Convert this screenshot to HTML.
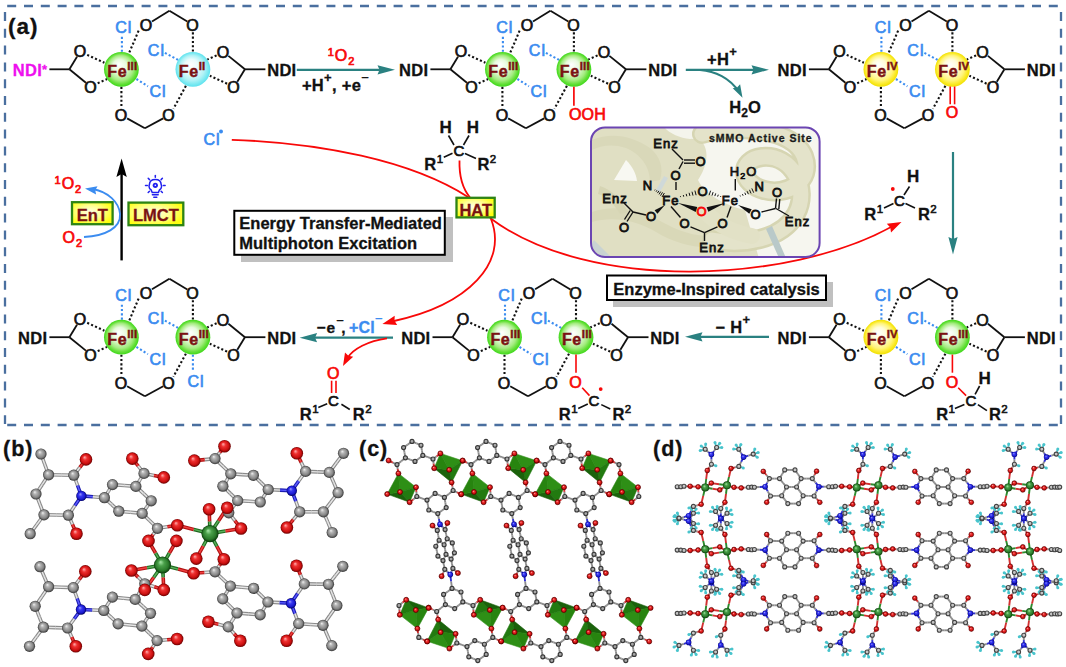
<!DOCTYPE html>
<html><head><meta charset="utf-8"><style>
html,body{margin:0;padding:0;background:#fff;}
svg{display:block;font-family:"Liberation Sans", sans-serif;}
text{letter-spacing:1px;}
</style></head><body>
<svg width="1066" height="667" viewBox="0 0 1066 667">

<defs>
<radialGradient id="gG" cx="0.5" cy="0.5" r="0.5" fx="0.42" fy="0.36">
 <stop offset="0" stop-color="#ffffff"/><stop offset="0.4" stop-color="#e6fadc"/>
 <stop offset="0.72" stop-color="#a4ec80"/><stop offset="0.88" stop-color="#66e03a"/><stop offset="1" stop-color="#3ed81a"/></radialGradient>
<radialGradient id="gC" cx="0.5" cy="0.5" r="0.5" fx="0.42" fy="0.36">
 <stop offset="0" stop-color="#ffffff"/><stop offset="0.4" stop-color="#eafcfd"/>
 <stop offset="0.72" stop-color="#b0f2f6"/><stop offset="0.88" stop-color="#7eeaf2"/><stop offset="1" stop-color="#5ee2ee"/></radialGradient>
<radialGradient id="gY" cx="0.5" cy="0.5" r="0.5" fx="0.42" fy="0.36">
 <stop offset="0" stop-color="#ffffff"/><stop offset="0.4" stop-color="#fffcd8"/>
 <stop offset="0.72" stop-color="#fff47a"/><stop offset="0.88" stop-color="#fbea2a"/><stop offset="1" stop-color="#f0e000"/></radialGradient>
<radialGradient id="gBox" cx="0.45" cy="0.45" r="0.6">
 <stop offset="0" stop-color="#ffffe8"/><stop offset="0.5" stop-color="#ffff90"/><stop offset="1" stop-color="#ffff10"/></radialGradient>
<radialGradient id="bC" cx="0.5" cy="0.5" r="0.5" fx="0.38" fy="0.32"><stop offset="0" stop-color="#f0f0f0"/><stop offset="0.3" stop-color="#b4b4b4"/><stop offset="0.72" stop-color="#858585"/><stop offset="1" stop-color="#363636"/></radialGradient>
<radialGradient id="bO" cx="0.5" cy="0.5" r="0.5" fx="0.38" fy="0.32"><stop offset="0" stop-color="#ffb0b0"/><stop offset="0.35" stop-color="#ee3030"/><stop offset="0.75" stop-color="#cc1010"/><stop offset="1" stop-color="#6a0000"/></radialGradient>
<radialGradient id="bN" cx="0.5" cy="0.5" r="0.5" fx="0.38" fy="0.32"><stop offset="0" stop-color="#a0a0ff"/><stop offset="0.35" stop-color="#3838f0"/><stop offset="0.75" stop-color="#1a1ad0"/><stop offset="1" stop-color="#000060"/></radialGradient>
<radialGradient id="bF" cx="0.5" cy="0.5" r="0.5" fx="0.38" fy="0.32"><stop offset="0" stop-color="#a8e8a8"/><stop offset="0.35" stop-color="#4aa04a"/><stop offset="0.75" stop-color="#2a7a2a"/><stop offset="1" stop-color="#0a380a"/></radialGradient>
<radialGradient id="bH" cx="0.4" cy="0.35" r="0.7"><stop offset="0" stop-color="#c8ffff"/><stop offset="0.45" stop-color="#4cc4c8"/><stop offset="1" stop-color="#1a7a80"/></radialGradient>
</defs>

<rect width="1066" height="667" fill="#fff"/>
<line x1="7.2" y1="6" x2="1058" y2="6" stroke="#4a6f9f" stroke-width="2.3" stroke-dasharray="9 7.8" stroke-dashoffset="0"/><line x1="5" y1="12" x2="5" y2="424" stroke="#4a6f9f" stroke-width="2.3" stroke-dasharray="9 7.8" stroke-dashoffset="0"/><line x1="1061" y1="12" x2="1061" y2="424" stroke="#4a6f9f" stroke-width="2.3" stroke-dasharray="9 7.8" stroke-dashoffset="0"/><line x1="7.2" y1="425" x2="1058" y2="425" stroke="#4a6f9f" stroke-width="2.3" stroke-dasharray="9 7.8" stroke-dashoffset="0"/><text x="8.0" y="33.8" font-size="22.5" font-weight="bold" fill="#111" text-anchor="start" stroke="#111" stroke-width="0.3" >(a)</text><line x1="152.0" y1="21.4" x2="169.4" y2="10.8" stroke="#111" stroke-width="1.8" stroke-linecap="butt"/><line x1="187.3" y1="21.5" x2="169.4" y2="10.8" stroke="#111" stroke-width="1.8" stroke-linecap="butt"/><line x1="127.1" y1="118.4" x2="144.9" y2="128.3" stroke="#111" stroke-width="1.8" stroke-linecap="butt"/><line x1="163.2" y1="118.4" x2="144.9" y2="128.3" stroke="#111" stroke-width="1.8" stroke-linecap="butt"/><line x1="77.0" y1="56.8" x2="69.4" y2="69.3" stroke="#111" stroke-width="1.8" stroke-linecap="butt"/><line x1="85.9" y1="82.7" x2="69.4" y2="69.3" stroke="#111" stroke-width="1.8" stroke-linecap="butt"/><line x1="228.4" y1="55.9" x2="244.9" y2="69.3" stroke="#111" stroke-width="1.8" stroke-linecap="butt"/><line x1="237.3" y1="81.8" x2="244.9" y2="69.3" stroke="#111" stroke-width="1.8" stroke-linecap="butt"/><line x1="69.4" y1="69.3" x2="49.4" y2="69.3" stroke="#111" stroke-width="1.8" stroke-linecap="butt"/><line x1="244.9" y1="69.3" x2="265.4" y2="69.3" stroke="#111" stroke-width="1.8" stroke-linecap="butt"/><line x1="138.6" y1="30.7" x2="129.2" y2="52.8" stroke="#111" stroke-width="2.1" stroke-linecap="butt" stroke-dasharray="2.1 2.2"/><line x1="121.4" y1="86.8" x2="121.4" y2="107.3" stroke="#111" stroke-width="2.1" stroke-linecap="butt" stroke-dasharray="2.1 2.2"/><line x1="87.2" y1="54.9" x2="104.4" y2="62.8" stroke="#111" stroke-width="2.1" stroke-linecap="butt" stroke-dasharray="2.1 2.2"/><line x1="97.7" y1="83.2" x2="107.1" y2="79.0" stroke="#111" stroke-width="2.1" stroke-linecap="butt" stroke-dasharray="2.1 2.2"/><line x1="192.9" y1="32.3" x2="192.9" y2="51.8" stroke="#111" stroke-width="2.1" stroke-linecap="butt" stroke-dasharray="2.1 2.2"/><line x1="185.9" y1="85.8" x2="173.4" y2="108.8" stroke="#111" stroke-width="2.1" stroke-linecap="butt" stroke-dasharray="2.1 2.2"/><line x1="227.1" y1="83.7" x2="209.9" y2="75.8" stroke="#111" stroke-width="2.1" stroke-linecap="butt" stroke-dasharray="2.1 2.2"/><line x1="216.6" y1="55.4" x2="207.2" y2="59.6" stroke="#111" stroke-width="2.1" stroke-linecap="butt" stroke-dasharray="2.1 2.2"/><line x1="121.9" y1="51.8" x2="121.9" y2="34.8" stroke="#3b8cf0" stroke-width="2.1" stroke-linecap="butt" stroke-dasharray="2.1 2.2"/><line x1="136.4" y1="79.0" x2="147.9" y2="86.3" stroke="#3b8cf0" stroke-width="2.1" stroke-linecap="butt" stroke-dasharray="2.1 2.2"/><line x1="164.9" y1="52.8" x2="178.4" y2="60.1" stroke="#3b8cf0" stroke-width="2.1" stroke-linecap="butt" stroke-dasharray="2.1 2.2"/><text x="123.8" y="33.3" font-size="16" font-weight="normal" fill="#3b8cf0" text-anchor="middle" stroke="#3b8cf0" stroke-width="0.7" >Cl</text><text x="158.0" y="97.3" font-size="16" font-weight="normal" fill="#3b8cf0" text-anchor="middle" stroke="#3b8cf0" stroke-width="0.7" >Cl</text><text x="156.4" y="56.1" font-size="16" font-weight="normal" fill="#3b8cf0" text-anchor="middle" stroke="#3b8cf0" stroke-width="0.7" >Cl</text><text x="146.4" y="30.6" font-size="16" font-weight="normal" fill="#111" text-anchor="middle" stroke="#111" stroke-width="0.7" >O</text><text x="192.9" y="30.6" font-size="16" font-weight="normal" fill="#111" text-anchor="middle" stroke="#111" stroke-width="0.7" >O</text><text x="121.4" y="121.1" font-size="16" font-weight="normal" fill="#111" text-anchor="middle" stroke="#111" stroke-width="0.7" >O</text><text x="168.9" y="121.1" font-size="16" font-weight="normal" fill="#111" text-anchor="middle" stroke="#111" stroke-width="0.7" >O</text><text x="80.4" y="57.1" font-size="16" font-weight="normal" fill="#111" text-anchor="middle" stroke="#111" stroke-width="0.7" >O</text><text x="90.9" y="92.6" font-size="16" font-weight="normal" fill="#111" text-anchor="middle" stroke="#111" stroke-width="0.7" >O</text><text x="223.4" y="57.6" font-size="16" font-weight="normal" fill="#111" text-anchor="middle" stroke="#111" stroke-width="0.7" >O</text><text x="233.9" y="93.1" font-size="16" font-weight="normal" fill="#111" text-anchor="middle" stroke="#111" stroke-width="0.7" >O</text><circle cx="121.4" cy="69.3" r="17.4" fill="url(#gG)"/><text x="107.3" y="76.6" font-size="16" font-weight="bold" fill="#7a1212" stroke="#7a1212" stroke-width="0.45" style="letter-spacing:0.6px">Fe<tspan font-size="11.5" dy="-7" style="letter-spacing:0.2px">III</tspan></text><circle cx="192.9" cy="69.3" r="17.4" fill="url(#gC)"/><text x="178.8" y="76.6" font-size="16" font-weight="bold" fill="#7a1212" stroke="#7a1212" stroke-width="0.45" style="letter-spacing:0.6px">Fe<tspan font-size="11.5" dy="-7" style="letter-spacing:0.2px">II</tspan></text><text x="47.4" y="76.2" font-size="16.5" font-weight="bold" fill="#ee10ee" text-anchor="end" stroke="#ee10ee" stroke-width="0.3" style="letter-spacing:0.3px">NDI<tspan font-size="13" dy="-2">*</tspan></text><text x="267.2" y="76.2" font-size="16.5" font-weight="bold" fill="#111" text-anchor="start" stroke="#111" stroke-width="0.3" style="letter-spacing:0.3px">NDI</text><line x1="533.0" y1="21.4" x2="550.4" y2="10.8" stroke="#111" stroke-width="1.8" stroke-linecap="butt"/><line x1="568.3" y1="21.5" x2="550.4" y2="10.8" stroke="#111" stroke-width="1.8" stroke-linecap="butt"/><line x1="508.1" y1="118.4" x2="525.9" y2="128.3" stroke="#111" stroke-width="1.8" stroke-linecap="butt"/><line x1="544.2" y1="118.4" x2="525.9" y2="128.3" stroke="#111" stroke-width="1.8" stroke-linecap="butt"/><line x1="458.0" y1="56.8" x2="450.4" y2="69.3" stroke="#111" stroke-width="1.8" stroke-linecap="butt"/><line x1="466.9" y1="82.7" x2="450.4" y2="69.3" stroke="#111" stroke-width="1.8" stroke-linecap="butt"/><line x1="609.4" y1="55.9" x2="625.9" y2="69.3" stroke="#111" stroke-width="1.8" stroke-linecap="butt"/><line x1="618.3" y1="81.8" x2="625.9" y2="69.3" stroke="#111" stroke-width="1.8" stroke-linecap="butt"/><line x1="450.4" y1="69.3" x2="430.4" y2="69.3" stroke="#111" stroke-width="1.8" stroke-linecap="butt"/><line x1="625.9" y1="69.3" x2="646.4" y2="69.3" stroke="#111" stroke-width="1.8" stroke-linecap="butt"/><line x1="519.6" y1="30.7" x2="510.2" y2="52.8" stroke="#111" stroke-width="2.1" stroke-linecap="butt" stroke-dasharray="2.1 2.2"/><line x1="502.4" y1="86.8" x2="502.4" y2="107.3" stroke="#111" stroke-width="2.1" stroke-linecap="butt" stroke-dasharray="2.1 2.2"/><line x1="468.2" y1="54.9" x2="485.4" y2="62.8" stroke="#111" stroke-width="2.1" stroke-linecap="butt" stroke-dasharray="2.1 2.2"/><line x1="478.7" y1="83.2" x2="488.1" y2="79.0" stroke="#111" stroke-width="2.1" stroke-linecap="butt" stroke-dasharray="2.1 2.2"/><line x1="573.9" y1="32.3" x2="573.9" y2="51.8" stroke="#111" stroke-width="2.1" stroke-linecap="butt" stroke-dasharray="2.1 2.2"/><line x1="566.9" y1="85.8" x2="554.4" y2="108.8" stroke="#111" stroke-width="2.1" stroke-linecap="butt" stroke-dasharray="2.1 2.2"/><line x1="608.1" y1="83.7" x2="590.9" y2="75.8" stroke="#111" stroke-width="2.1" stroke-linecap="butt" stroke-dasharray="2.1 2.2"/><line x1="597.6" y1="55.4" x2="588.2" y2="59.6" stroke="#111" stroke-width="2.1" stroke-linecap="butt" stroke-dasharray="2.1 2.2"/><line x1="502.9" y1="51.8" x2="502.9" y2="34.8" stroke="#3b8cf0" stroke-width="2.1" stroke-linecap="butt" stroke-dasharray="2.1 2.2"/><line x1="517.4" y1="79.0" x2="528.9" y2="86.3" stroke="#3b8cf0" stroke-width="2.1" stroke-linecap="butt" stroke-dasharray="2.1 2.2"/><line x1="545.9" y1="52.8" x2="559.4" y2="60.1" stroke="#3b8cf0" stroke-width="2.1" stroke-linecap="butt" stroke-dasharray="2.1 2.2"/><text x="504.8" y="33.3" font-size="16" font-weight="normal" fill="#3b8cf0" text-anchor="middle" stroke="#3b8cf0" stroke-width="0.7" >Cl</text><text x="539.0" y="97.3" font-size="16" font-weight="normal" fill="#3b8cf0" text-anchor="middle" stroke="#3b8cf0" stroke-width="0.7" >Cl</text><text x="537.4" y="56.1" font-size="16" font-weight="normal" fill="#3b8cf0" text-anchor="middle" stroke="#3b8cf0" stroke-width="0.7" >Cl</text><text x="527.4" y="30.6" font-size="16" font-weight="normal" fill="#111" text-anchor="middle" stroke="#111" stroke-width="0.7" >O</text><text x="573.9" y="30.6" font-size="16" font-weight="normal" fill="#111" text-anchor="middle" stroke="#111" stroke-width="0.7" >O</text><text x="502.4" y="121.1" font-size="16" font-weight="normal" fill="#111" text-anchor="middle" stroke="#111" stroke-width="0.7" >O</text><text x="549.9" y="121.1" font-size="16" font-weight="normal" fill="#111" text-anchor="middle" stroke="#111" stroke-width="0.7" >O</text><text x="461.4" y="57.1" font-size="16" font-weight="normal" fill="#111" text-anchor="middle" stroke="#111" stroke-width="0.7" >O</text><text x="471.9" y="92.6" font-size="16" font-weight="normal" fill="#111" text-anchor="middle" stroke="#111" stroke-width="0.7" >O</text><text x="604.4" y="57.6" font-size="16" font-weight="normal" fill="#111" text-anchor="middle" stroke="#111" stroke-width="0.7" >O</text><text x="614.9" y="93.1" font-size="16" font-weight="normal" fill="#111" text-anchor="middle" stroke="#111" stroke-width="0.7" >O</text><circle cx="502.4" cy="69.3" r="17.4" fill="url(#gG)"/><text x="488.3" y="76.6" font-size="16" font-weight="bold" fill="#7a1212" stroke="#7a1212" stroke-width="0.45" style="letter-spacing:0.6px">Fe<tspan font-size="11.5" dy="-7" style="letter-spacing:0.2px">III</tspan></text><circle cx="573.9" cy="69.3" r="17.4" fill="url(#gG)"/><text x="559.8" y="76.6" font-size="16" font-weight="bold" fill="#7a1212" stroke="#7a1212" stroke-width="0.45" style="letter-spacing:0.6px">Fe<tspan font-size="11.5" dy="-7" style="letter-spacing:0.2px">III</tspan></text><text x="428.4" y="76.2" font-size="16.5" font-weight="bold" fill="#111" text-anchor="end" stroke="#111" stroke-width="0.3" style="letter-spacing:0.3px">NDI</text><text x="648.2" y="76.2" font-size="16.5" font-weight="bold" fill="#111" text-anchor="start" stroke="#111" stroke-width="0.3" style="letter-spacing:0.3px">NDI</text><line x1="573.9" y1="86.7" x2="573.9" y2="105.8" stroke="#f80808" stroke-width="1.7" stroke-linecap="butt"/><text x="568.9" y="119.9" font-size="16" font-weight="normal" fill="#f80808" text-anchor="start" stroke="#f80808" stroke-width="0.7" style="letter-spacing:0.2px">OOH</text><line x1="911.5" y1="21.4" x2="928.9" y2="10.8" stroke="#111" stroke-width="1.8" stroke-linecap="butt"/><line x1="946.8" y1="21.5" x2="928.9" y2="10.8" stroke="#111" stroke-width="1.8" stroke-linecap="butt"/><line x1="886.6" y1="118.4" x2="904.4" y2="128.3" stroke="#111" stroke-width="1.8" stroke-linecap="butt"/><line x1="922.7" y1="118.4" x2="904.4" y2="128.3" stroke="#111" stroke-width="1.8" stroke-linecap="butt"/><line x1="836.5" y1="56.8" x2="828.9" y2="69.3" stroke="#111" stroke-width="1.8" stroke-linecap="butt"/><line x1="845.4" y1="82.7" x2="828.9" y2="69.3" stroke="#111" stroke-width="1.8" stroke-linecap="butt"/><line x1="987.9" y1="55.9" x2="1004.4" y2="69.3" stroke="#111" stroke-width="1.8" stroke-linecap="butt"/><line x1="996.8" y1="81.8" x2="1004.4" y2="69.3" stroke="#111" stroke-width="1.8" stroke-linecap="butt"/><line x1="828.9" y1="69.3" x2="808.9" y2="69.3" stroke="#111" stroke-width="1.8" stroke-linecap="butt"/><line x1="1004.4" y1="69.3" x2="1024.9" y2="69.3" stroke="#111" stroke-width="1.8" stroke-linecap="butt"/><line x1="898.1" y1="30.7" x2="888.7" y2="52.8" stroke="#111" stroke-width="2.1" stroke-linecap="butt" stroke-dasharray="2.1 2.2"/><line x1="880.9" y1="86.8" x2="880.9" y2="107.3" stroke="#111" stroke-width="2.1" stroke-linecap="butt" stroke-dasharray="2.1 2.2"/><line x1="846.7" y1="54.9" x2="863.9" y2="62.8" stroke="#111" stroke-width="2.1" stroke-linecap="butt" stroke-dasharray="2.1 2.2"/><line x1="857.2" y1="83.2" x2="866.6" y2="79.0" stroke="#111" stroke-width="2.1" stroke-linecap="butt" stroke-dasharray="2.1 2.2"/><line x1="952.4" y1="32.3" x2="952.4" y2="51.8" stroke="#111" stroke-width="2.1" stroke-linecap="butt" stroke-dasharray="2.1 2.2"/><line x1="945.4" y1="85.8" x2="932.9" y2="108.8" stroke="#111" stroke-width="2.1" stroke-linecap="butt" stroke-dasharray="2.1 2.2"/><line x1="986.6" y1="83.7" x2="969.4" y2="75.8" stroke="#111" stroke-width="2.1" stroke-linecap="butt" stroke-dasharray="2.1 2.2"/><line x1="976.1" y1="55.4" x2="966.7" y2="59.6" stroke="#111" stroke-width="2.1" stroke-linecap="butt" stroke-dasharray="2.1 2.2"/><line x1="881.4" y1="51.8" x2="881.4" y2="34.8" stroke="#3b8cf0" stroke-width="2.1" stroke-linecap="butt" stroke-dasharray="2.1 2.2"/><line x1="895.9" y1="79.0" x2="907.4" y2="86.3" stroke="#3b8cf0" stroke-width="2.1" stroke-linecap="butt" stroke-dasharray="2.1 2.2"/><line x1="924.4" y1="52.8" x2="937.9" y2="60.1" stroke="#3b8cf0" stroke-width="2.1" stroke-linecap="butt" stroke-dasharray="2.1 2.2"/><text x="883.3" y="33.3" font-size="16" font-weight="normal" fill="#3b8cf0" text-anchor="middle" stroke="#3b8cf0" stroke-width="0.7" >Cl</text><text x="917.5" y="97.3" font-size="16" font-weight="normal" fill="#3b8cf0" text-anchor="middle" stroke="#3b8cf0" stroke-width="0.7" >Cl</text><text x="915.9" y="56.1" font-size="16" font-weight="normal" fill="#3b8cf0" text-anchor="middle" stroke="#3b8cf0" stroke-width="0.7" >Cl</text><text x="905.9" y="30.6" font-size="16" font-weight="normal" fill="#111" text-anchor="middle" stroke="#111" stroke-width="0.7" >O</text><text x="952.4" y="30.6" font-size="16" font-weight="normal" fill="#111" text-anchor="middle" stroke="#111" stroke-width="0.7" >O</text><text x="880.9" y="121.1" font-size="16" font-weight="normal" fill="#111" text-anchor="middle" stroke="#111" stroke-width="0.7" >O</text><text x="928.4" y="121.1" font-size="16" font-weight="normal" fill="#111" text-anchor="middle" stroke="#111" stroke-width="0.7" >O</text><text x="839.9" y="57.1" font-size="16" font-weight="normal" fill="#111" text-anchor="middle" stroke="#111" stroke-width="0.7" >O</text><text x="850.4" y="92.6" font-size="16" font-weight="normal" fill="#111" text-anchor="middle" stroke="#111" stroke-width="0.7" >O</text><text x="982.9" y="57.6" font-size="16" font-weight="normal" fill="#111" text-anchor="middle" stroke="#111" stroke-width="0.7" >O</text><text x="993.4" y="93.1" font-size="16" font-weight="normal" fill="#111" text-anchor="middle" stroke="#111" stroke-width="0.7" >O</text><circle cx="880.9" cy="69.3" r="17.4" fill="url(#gY)"/><text x="866.8" y="76.6" font-size="16" font-weight="bold" fill="#7a1212" stroke="#7a1212" stroke-width="0.45" style="letter-spacing:0.6px">Fe<tspan font-size="11.5" dy="-7" style="letter-spacing:0.2px">IV</tspan></text><circle cx="952.4" cy="69.3" r="17.4" fill="url(#gY)"/><text x="938.3" y="76.6" font-size="16" font-weight="bold" fill="#7a1212" stroke="#7a1212" stroke-width="0.45" style="letter-spacing:0.6px">Fe<tspan font-size="11.5" dy="-7" style="letter-spacing:0.2px">IV</tspan></text><text x="806.9" y="76.2" font-size="16.5" font-weight="bold" fill="#111" text-anchor="end" stroke="#111" stroke-width="0.3" style="letter-spacing:0.3px">NDI</text><text x="1026.7" y="76.2" font-size="16.5" font-weight="bold" fill="#111" text-anchor="start" stroke="#111" stroke-width="0.3" style="letter-spacing:0.3px">NDI</text><line x1="950.2" y1="86.5" x2="950.2" y2="104.3" stroke="#f80808" stroke-width="1.6" stroke-linecap="butt"/><line x1="954.6" y1="86.5" x2="954.6" y2="104.3" stroke="#f80808" stroke-width="1.6" stroke-linecap="butt"/><text x="952.4" y="118.1" font-size="16" font-weight="normal" fill="#f80808" text-anchor="middle" stroke="#f80808" stroke-width="0.7" >O</text><line x1="152.0" y1="289.3" x2="169.4" y2="278.7" stroke="#111" stroke-width="1.8" stroke-linecap="butt"/><line x1="187.3" y1="289.4" x2="169.4" y2="278.7" stroke="#111" stroke-width="1.8" stroke-linecap="butt"/><line x1="127.1" y1="386.3" x2="144.9" y2="396.2" stroke="#111" stroke-width="1.8" stroke-linecap="butt"/><line x1="163.2" y1="386.3" x2="144.9" y2="396.2" stroke="#111" stroke-width="1.8" stroke-linecap="butt"/><line x1="77.0" y1="324.7" x2="69.4" y2="337.2" stroke="#111" stroke-width="1.8" stroke-linecap="butt"/><line x1="85.9" y1="350.6" x2="69.4" y2="337.2" stroke="#111" stroke-width="1.8" stroke-linecap="butt"/><line x1="228.4" y1="323.8" x2="244.9" y2="337.2" stroke="#111" stroke-width="1.8" stroke-linecap="butt"/><line x1="237.3" y1="349.7" x2="244.9" y2="337.2" stroke="#111" stroke-width="1.8" stroke-linecap="butt"/><line x1="69.4" y1="337.2" x2="49.4" y2="337.2" stroke="#111" stroke-width="1.8" stroke-linecap="butt"/><line x1="244.9" y1="337.2" x2="265.4" y2="337.2" stroke="#111" stroke-width="1.8" stroke-linecap="butt"/><line x1="138.6" y1="298.6" x2="129.2" y2="320.7" stroke="#111" stroke-width="2.1" stroke-linecap="butt" stroke-dasharray="2.1 2.2"/><line x1="121.4" y1="354.7" x2="121.4" y2="375.2" stroke="#111" stroke-width="2.1" stroke-linecap="butt" stroke-dasharray="2.1 2.2"/><line x1="87.2" y1="322.8" x2="104.4" y2="330.7" stroke="#111" stroke-width="2.1" stroke-linecap="butt" stroke-dasharray="2.1 2.2"/><line x1="97.7" y1="351.1" x2="107.1" y2="346.9" stroke="#111" stroke-width="2.1" stroke-linecap="butt" stroke-dasharray="2.1 2.2"/><line x1="192.9" y1="300.2" x2="192.9" y2="319.7" stroke="#111" stroke-width="2.1" stroke-linecap="butt" stroke-dasharray="2.1 2.2"/><line x1="185.9" y1="353.7" x2="173.4" y2="376.7" stroke="#111" stroke-width="2.1" stroke-linecap="butt" stroke-dasharray="2.1 2.2"/><line x1="227.1" y1="351.6" x2="209.9" y2="343.7" stroke="#111" stroke-width="2.1" stroke-linecap="butt" stroke-dasharray="2.1 2.2"/><line x1="216.6" y1="323.3" x2="207.2" y2="327.5" stroke="#111" stroke-width="2.1" stroke-linecap="butt" stroke-dasharray="2.1 2.2"/><line x1="121.9" y1="319.7" x2="121.9" y2="302.7" stroke="#3b8cf0" stroke-width="2.1" stroke-linecap="butt" stroke-dasharray="2.1 2.2"/><line x1="136.4" y1="346.9" x2="147.9" y2="354.2" stroke="#3b8cf0" stroke-width="2.1" stroke-linecap="butt" stroke-dasharray="2.1 2.2"/><line x1="164.9" y1="320.7" x2="178.4" y2="328.0" stroke="#3b8cf0" stroke-width="2.1" stroke-linecap="butt" stroke-dasharray="2.1 2.2"/><text x="123.8" y="301.2" font-size="16" font-weight="normal" fill="#3b8cf0" text-anchor="middle" stroke="#3b8cf0" stroke-width="0.7" >Cl</text><text x="158.0" y="365.2" font-size="16" font-weight="normal" fill="#3b8cf0" text-anchor="middle" stroke="#3b8cf0" stroke-width="0.7" >Cl</text><text x="156.4" y="324.0" font-size="16" font-weight="normal" fill="#3b8cf0" text-anchor="middle" stroke="#3b8cf0" stroke-width="0.7" >Cl</text><text x="146.4" y="298.5" font-size="16" font-weight="normal" fill="#111" text-anchor="middle" stroke="#111" stroke-width="0.7" >O</text><text x="192.9" y="298.5" font-size="16" font-weight="normal" fill="#111" text-anchor="middle" stroke="#111" stroke-width="0.7" >O</text><text x="121.4" y="389.0" font-size="16" font-weight="normal" fill="#111" text-anchor="middle" stroke="#111" stroke-width="0.7" >O</text><text x="168.9" y="389.0" font-size="16" font-weight="normal" fill="#111" text-anchor="middle" stroke="#111" stroke-width="0.7" >O</text><text x="80.4" y="325.0" font-size="16" font-weight="normal" fill="#111" text-anchor="middle" stroke="#111" stroke-width="0.7" >O</text><text x="90.9" y="360.5" font-size="16" font-weight="normal" fill="#111" text-anchor="middle" stroke="#111" stroke-width="0.7" >O</text><text x="223.4" y="325.5" font-size="16" font-weight="normal" fill="#111" text-anchor="middle" stroke="#111" stroke-width="0.7" >O</text><text x="233.9" y="361.0" font-size="16" font-weight="normal" fill="#111" text-anchor="middle" stroke="#111" stroke-width="0.7" >O</text><circle cx="121.4" cy="337.2" r="17.4" fill="url(#gG)"/><text x="107.3" y="344.5" font-size="16" font-weight="bold" fill="#7a1212" stroke="#7a1212" stroke-width="0.45" style="letter-spacing:0.6px">Fe<tspan font-size="11.5" dy="-7" style="letter-spacing:0.2px">III</tspan></text><circle cx="192.9" cy="337.2" r="17.4" fill="url(#gG)"/><text x="178.8" y="344.5" font-size="16" font-weight="bold" fill="#7a1212" stroke="#7a1212" stroke-width="0.45" style="letter-spacing:0.6px">Fe<tspan font-size="11.5" dy="-7" style="letter-spacing:0.2px">III</tspan></text><text x="47.4" y="344.1" font-size="16.5" font-weight="bold" fill="#111" text-anchor="end" stroke="#111" stroke-width="0.3" style="letter-spacing:0.3px">NDI</text><text x="267.2" y="344.1" font-size="16.5" font-weight="bold" fill="#111" text-anchor="start" stroke="#111" stroke-width="0.3" style="letter-spacing:0.3px">NDI</text><line x1="192.9" y1="354.7" x2="192.9" y2="371.7" stroke="#3b8cf0" stroke-width="2.1" stroke-linecap="butt" stroke-dasharray="2.1 2.2"/><text x="196.1" y="386.5" font-size="16" font-weight="normal" fill="#3b8cf0" text-anchor="middle" stroke="#3b8cf0" stroke-width="0.7" >Cl</text><line x1="535.1" y1="289.3" x2="552.5" y2="278.7" stroke="#111" stroke-width="1.8" stroke-linecap="butt"/><line x1="570.4" y1="289.4" x2="552.5" y2="278.7" stroke="#111" stroke-width="1.8" stroke-linecap="butt"/><line x1="510.2" y1="386.3" x2="528.0" y2="396.2" stroke="#111" stroke-width="1.8" stroke-linecap="butt"/><line x1="546.3" y1="386.3" x2="528.0" y2="396.2" stroke="#111" stroke-width="1.8" stroke-linecap="butt"/><line x1="460.1" y1="324.7" x2="452.5" y2="337.2" stroke="#111" stroke-width="1.8" stroke-linecap="butt"/><line x1="469.0" y1="350.6" x2="452.5" y2="337.2" stroke="#111" stroke-width="1.8" stroke-linecap="butt"/><line x1="611.5" y1="323.8" x2="628.0" y2="337.2" stroke="#111" stroke-width="1.8" stroke-linecap="butt"/><line x1="620.4" y1="349.7" x2="628.0" y2="337.2" stroke="#111" stroke-width="1.8" stroke-linecap="butt"/><line x1="452.5" y1="337.2" x2="432.5" y2="337.2" stroke="#111" stroke-width="1.8" stroke-linecap="butt"/><line x1="628.0" y1="337.2" x2="648.5" y2="337.2" stroke="#111" stroke-width="1.8" stroke-linecap="butt"/><line x1="521.7" y1="298.6" x2="512.3" y2="320.7" stroke="#111" stroke-width="2.1" stroke-linecap="butt" stroke-dasharray="2.1 2.2"/><line x1="504.5" y1="354.7" x2="504.5" y2="375.2" stroke="#111" stroke-width="2.1" stroke-linecap="butt" stroke-dasharray="2.1 2.2"/><line x1="470.3" y1="322.8" x2="487.5" y2="330.7" stroke="#111" stroke-width="2.1" stroke-linecap="butt" stroke-dasharray="2.1 2.2"/><line x1="480.8" y1="351.1" x2="490.2" y2="346.9" stroke="#111" stroke-width="2.1" stroke-linecap="butt" stroke-dasharray="2.1 2.2"/><line x1="576.0" y1="300.2" x2="576.0" y2="319.7" stroke="#111" stroke-width="2.1" stroke-linecap="butt" stroke-dasharray="2.1 2.2"/><line x1="569.0" y1="353.7" x2="556.5" y2="376.7" stroke="#111" stroke-width="2.1" stroke-linecap="butt" stroke-dasharray="2.1 2.2"/><line x1="610.2" y1="351.6" x2="593.0" y2="343.7" stroke="#111" stroke-width="2.1" stroke-linecap="butt" stroke-dasharray="2.1 2.2"/><line x1="599.7" y1="323.3" x2="590.3" y2="327.5" stroke="#111" stroke-width="2.1" stroke-linecap="butt" stroke-dasharray="2.1 2.2"/><line x1="505.0" y1="319.7" x2="505.0" y2="302.7" stroke="#3b8cf0" stroke-width="2.1" stroke-linecap="butt" stroke-dasharray="2.1 2.2"/><line x1="519.5" y1="346.9" x2="531.0" y2="354.2" stroke="#3b8cf0" stroke-width="2.1" stroke-linecap="butt" stroke-dasharray="2.1 2.2"/><line x1="548.0" y1="320.7" x2="561.5" y2="328.0" stroke="#3b8cf0" stroke-width="2.1" stroke-linecap="butt" stroke-dasharray="2.1 2.2"/><text x="506.9" y="301.2" font-size="16" font-weight="normal" fill="#3b8cf0" text-anchor="middle" stroke="#3b8cf0" stroke-width="0.7" >Cl</text><text x="541.1" y="365.2" font-size="16" font-weight="normal" fill="#3b8cf0" text-anchor="middle" stroke="#3b8cf0" stroke-width="0.7" >Cl</text><text x="539.5" y="324.0" font-size="16" font-weight="normal" fill="#3b8cf0" text-anchor="middle" stroke="#3b8cf0" stroke-width="0.7" >Cl</text><text x="529.5" y="298.5" font-size="16" font-weight="normal" fill="#111" text-anchor="middle" stroke="#111" stroke-width="0.7" >O</text><text x="576.0" y="298.5" font-size="16" font-weight="normal" fill="#111" text-anchor="middle" stroke="#111" stroke-width="0.7" >O</text><text x="504.5" y="389.0" font-size="16" font-weight="normal" fill="#111" text-anchor="middle" stroke="#111" stroke-width="0.7" >O</text><text x="552.0" y="389.0" font-size="16" font-weight="normal" fill="#111" text-anchor="middle" stroke="#111" stroke-width="0.7" >O</text><text x="463.5" y="325.0" font-size="16" font-weight="normal" fill="#111" text-anchor="middle" stroke="#111" stroke-width="0.7" >O</text><text x="474.0" y="360.5" font-size="16" font-weight="normal" fill="#111" text-anchor="middle" stroke="#111" stroke-width="0.7" >O</text><text x="606.5" y="325.5" font-size="16" font-weight="normal" fill="#111" text-anchor="middle" stroke="#111" stroke-width="0.7" >O</text><text x="617.0" y="361.0" font-size="16" font-weight="normal" fill="#111" text-anchor="middle" stroke="#111" stroke-width="0.7" >O</text><circle cx="504.5" cy="337.2" r="17.4" fill="url(#gG)"/><text x="490.4" y="344.5" font-size="16" font-weight="bold" fill="#7a1212" stroke="#7a1212" stroke-width="0.45" style="letter-spacing:0.6px">Fe<tspan font-size="11.5" dy="-7" style="letter-spacing:0.2px">III</tspan></text><circle cx="576.0" cy="337.2" r="17.4" fill="url(#gG)"/><text x="561.9" y="344.5" font-size="16" font-weight="bold" fill="#7a1212" stroke="#7a1212" stroke-width="0.45" style="letter-spacing:0.6px">Fe<tspan font-size="11.5" dy="-7" style="letter-spacing:0.2px">III</tspan></text><text x="430.5" y="344.1" font-size="16.5" font-weight="bold" fill="#111" text-anchor="end" stroke="#111" stroke-width="0.3" style="letter-spacing:0.3px">NDI</text><text x="650.3" y="344.1" font-size="16.5" font-weight="bold" fill="#111" text-anchor="start" stroke="#111" stroke-width="0.3" style="letter-spacing:0.3px">NDI</text><line x1="576.0" y1="354.6" x2="576.0" y2="372.7" stroke="#f80808" stroke-width="1.6" stroke-linecap="butt"/><text x="576.0" y="387.5" font-size="16" font-weight="normal" fill="#f80808" text-anchor="middle" stroke="#f80808" stroke-width="0.7" >O</text><line x1="911.5" y1="289.3" x2="928.9" y2="278.7" stroke="#111" stroke-width="1.8" stroke-linecap="butt"/><line x1="946.8" y1="289.4" x2="928.9" y2="278.7" stroke="#111" stroke-width="1.8" stroke-linecap="butt"/><line x1="886.6" y1="386.3" x2="904.4" y2="396.2" stroke="#111" stroke-width="1.8" stroke-linecap="butt"/><line x1="922.7" y1="386.3" x2="904.4" y2="396.2" stroke="#111" stroke-width="1.8" stroke-linecap="butt"/><line x1="836.5" y1="324.7" x2="828.9" y2="337.2" stroke="#111" stroke-width="1.8" stroke-linecap="butt"/><line x1="845.4" y1="350.6" x2="828.9" y2="337.2" stroke="#111" stroke-width="1.8" stroke-linecap="butt"/><line x1="987.9" y1="323.8" x2="1004.4" y2="337.2" stroke="#111" stroke-width="1.8" stroke-linecap="butt"/><line x1="996.8" y1="349.7" x2="1004.4" y2="337.2" stroke="#111" stroke-width="1.8" stroke-linecap="butt"/><line x1="828.9" y1="337.2" x2="808.9" y2="337.2" stroke="#111" stroke-width="1.8" stroke-linecap="butt"/><line x1="1004.4" y1="337.2" x2="1024.9" y2="337.2" stroke="#111" stroke-width="1.8" stroke-linecap="butt"/><line x1="898.1" y1="298.6" x2="888.7" y2="320.7" stroke="#111" stroke-width="2.1" stroke-linecap="butt" stroke-dasharray="2.1 2.2"/><line x1="880.9" y1="354.7" x2="880.9" y2="375.2" stroke="#111" stroke-width="2.1" stroke-linecap="butt" stroke-dasharray="2.1 2.2"/><line x1="846.7" y1="322.8" x2="863.9" y2="330.7" stroke="#111" stroke-width="2.1" stroke-linecap="butt" stroke-dasharray="2.1 2.2"/><line x1="857.2" y1="351.1" x2="866.6" y2="346.9" stroke="#111" stroke-width="2.1" stroke-linecap="butt" stroke-dasharray="2.1 2.2"/><line x1="952.4" y1="300.2" x2="952.4" y2="319.7" stroke="#111" stroke-width="2.1" stroke-linecap="butt" stroke-dasharray="2.1 2.2"/><line x1="945.4" y1="353.7" x2="932.9" y2="376.7" stroke="#111" stroke-width="2.1" stroke-linecap="butt" stroke-dasharray="2.1 2.2"/><line x1="986.6" y1="351.6" x2="969.4" y2="343.7" stroke="#111" stroke-width="2.1" stroke-linecap="butt" stroke-dasharray="2.1 2.2"/><line x1="976.1" y1="323.3" x2="966.7" y2="327.5" stroke="#111" stroke-width="2.1" stroke-linecap="butt" stroke-dasharray="2.1 2.2"/><line x1="881.4" y1="319.7" x2="881.4" y2="302.7" stroke="#3b8cf0" stroke-width="2.1" stroke-linecap="butt" stroke-dasharray="2.1 2.2"/><line x1="895.9" y1="346.9" x2="907.4" y2="354.2" stroke="#3b8cf0" stroke-width="2.1" stroke-linecap="butt" stroke-dasharray="2.1 2.2"/><line x1="924.4" y1="320.7" x2="937.9" y2="328.0" stroke="#3b8cf0" stroke-width="2.1" stroke-linecap="butt" stroke-dasharray="2.1 2.2"/><text x="883.3" y="301.2" font-size="16" font-weight="normal" fill="#3b8cf0" text-anchor="middle" stroke="#3b8cf0" stroke-width="0.7" >Cl</text><text x="917.5" y="365.2" font-size="16" font-weight="normal" fill="#3b8cf0" text-anchor="middle" stroke="#3b8cf0" stroke-width="0.7" >Cl</text><text x="915.9" y="324.0" font-size="16" font-weight="normal" fill="#3b8cf0" text-anchor="middle" stroke="#3b8cf0" stroke-width="0.7" >Cl</text><text x="905.9" y="298.5" font-size="16" font-weight="normal" fill="#111" text-anchor="middle" stroke="#111" stroke-width="0.7" >O</text><text x="952.4" y="298.5" font-size="16" font-weight="normal" fill="#111" text-anchor="middle" stroke="#111" stroke-width="0.7" >O</text><text x="880.9" y="389.0" font-size="16" font-weight="normal" fill="#111" text-anchor="middle" stroke="#111" stroke-width="0.7" >O</text><text x="928.4" y="389.0" font-size="16" font-weight="normal" fill="#111" text-anchor="middle" stroke="#111" stroke-width="0.7" >O</text><text x="839.9" y="325.0" font-size="16" font-weight="normal" fill="#111" text-anchor="middle" stroke="#111" stroke-width="0.7" >O</text><text x="850.4" y="360.5" font-size="16" font-weight="normal" fill="#111" text-anchor="middle" stroke="#111" stroke-width="0.7" >O</text><text x="982.9" y="325.5" font-size="16" font-weight="normal" fill="#111" text-anchor="middle" stroke="#111" stroke-width="0.7" >O</text><text x="993.4" y="361.0" font-size="16" font-weight="normal" fill="#111" text-anchor="middle" stroke="#111" stroke-width="0.7" >O</text><circle cx="880.9" cy="337.2" r="17.4" fill="url(#gY)"/><text x="866.8" y="344.5" font-size="16" font-weight="bold" fill="#7a1212" stroke="#7a1212" stroke-width="0.45" style="letter-spacing:0.6px">Fe<tspan font-size="11.5" dy="-7" style="letter-spacing:0.2px">IV</tspan></text><circle cx="952.4" cy="337.2" r="17.4" fill="url(#gG)"/><text x="938.3" y="344.5" font-size="16" font-weight="bold" fill="#7a1212" stroke="#7a1212" stroke-width="0.45" style="letter-spacing:0.6px">Fe<tspan font-size="11.5" dy="-7" style="letter-spacing:0.2px">III</tspan></text><text x="806.9" y="344.1" font-size="16.5" font-weight="bold" fill="#111" text-anchor="end" stroke="#111" stroke-width="0.3" style="letter-spacing:0.3px">NDI</text><text x="1026.7" y="344.1" font-size="16.5" font-weight="bold" fill="#111" text-anchor="start" stroke="#111" stroke-width="0.3" style="letter-spacing:0.3px">NDI</text><line x1="952.4" y1="354.6" x2="952.4" y2="372.7" stroke="#f80808" stroke-width="1.6" stroke-linecap="butt"/><text x="952.4" y="387.5" font-size="16" font-weight="normal" fill="#f80808" text-anchor="middle" stroke="#f80808" stroke-width="0.7" >O</text><line x1="296.8" y1="69.8" x2="381.0" y2="69.8" stroke="#2a8181" stroke-width="2.2" stroke-linecap="butt"/><polygon points="395.0,69.8 377.5,65.2 379.5,69.8 377.5,74.4" fill="#2a8181"/><text x="341.5" y="61.3" font-size="16" font-weight="normal" fill="#f80808" text-anchor="middle" stroke="#f80808" stroke-width="0.7" ><tspan font-size="11" dy="-5.5">1</tspan><tspan dy="5.5">O</tspan><tspan font-size="11" dy="4">2</tspan></text><text x="335.5" y="90.9" font-size="16.5" font-weight="bold" fill="#111" text-anchor="middle" stroke="#111" stroke-width="0.3" style="letter-spacing:0.3px">+H<tspan font-size="13" dy="-9">+</tspan><tspan dy="9">, +e</tspan><tspan font-size="13" dy="-9" font-weight="normal">&#8722;</tspan></text><line x1="685.8" y1="69.8" x2="755.0" y2="69.8" stroke="#2a8181" stroke-width="2.2" stroke-linecap="butt"/><polygon points="769.0,69.8 751.5,65.2 753.5,69.8 751.5,74.4" fill="#2a8181"/><path d="M700,70 C715,71 730,78 739,92" fill="none" stroke="#2a8181" stroke-width="2.2"/><polygon points="742.5,97.8 740.1,84.3 737.1,87.6 732.7,88.3" fill="#2a8181"/><text x="722.0" y="64.5" font-size="16.5" font-weight="bold" fill="#111" text-anchor="middle" stroke="#111" stroke-width="0.3" style="letter-spacing:0.3px">+H<tspan font-size="13" dy="-9">+</tspan></text><text x="745.0" y="112.8" font-size="16.5" font-weight="bold" fill="#111" text-anchor="middle" stroke="#111" stroke-width="0.3" style="letter-spacing:0">H<tspan font-size="12" dy="4">2</tspan><tspan dy="-4">O</tspan></text><line x1="953" y1="152" x2="953" y2="241" stroke="#2a8181" stroke-width="2.2"/><polygon points="953.0,254.5 957.6,237.0 953.0,239.0 948.4,237.0" fill="#2a8181"/><line x1="769.0" y1="336.8" x2="699.0" y2="336.8" stroke="#2a8181" stroke-width="2.2" stroke-linecap="butt"/><polygon points="685.0,336.8 702.5,341.4 700.5,336.8 702.5,332.2" fill="#2a8181"/><text x="733.0" y="333.3" font-size="16.5" font-weight="bold" fill="#111" text-anchor="middle" stroke="#111" stroke-width="0.3" style="letter-spacing:0.3px">&#8722; H<tspan font-size="13" dy="-9">+</tspan></text><line x1="393.0" y1="337.7" x2="313.6" y2="337.7" stroke="#2a8181" stroke-width="2.2" stroke-linecap="butt"/><polygon points="299.6,337.7 317.1,342.3 315.1,337.7 317.1,333.1" fill="#2a8181"/><text x="316.5" y="332.8" font-size="15.5" font-weight="bold" fill="#111" text-anchor="start" stroke="#111" stroke-width="0.3" >&#8722;e<tspan font-size="13" dy="-8" font-weight="normal">&#8722;</tspan><tspan dy="8" dx="-3.5">,</tspan></text><text x="349.0" y="333.2" font-size="16" font-weight="bold" fill="#3b8cf0" text-anchor="start" stroke="#3b8cf0" stroke-width="0.3" style="letter-spacing:0.2px">+Cl<tspan font-size="13" dy="-10" font-weight="normal">&#8722;</tspan></text><line x1="582.2" y1="387.7" x2="589.5" y2="395.6" stroke="#f80808" stroke-width="1.6" stroke-linecap="butt"/><text x="594.0" y="405.6" font-size="15" font-weight="normal" fill="#111" text-anchor="middle" stroke="#111" stroke-width="0.7" style="letter-spacing:0">C</text><circle cx="600.7" cy="389.1" r="1.9" fill="#f80808"/><line x1="587.8" y1="404.0" x2="578.2" y2="408.5" stroke="#111" stroke-width="1.6" stroke-linecap="butt"/><line x1="601.3" y1="404.6" x2="610.3" y2="409.0" stroke="#111" stroke-width="1.6" stroke-linecap="butt"/><text x="558.8" y="419.7" font-size="16.5" font-weight="bold" fill="#111" text-anchor="start" stroke="#111" stroke-width="0.3" style="letter-spacing:0.4px">R<tspan font-size="11.5" dy="-7" font-weight="normal" stroke-width="0.6">1</tspan></text><text x="612.4" y="419.7" font-size="16.5" font-weight="bold" fill="#111" text-anchor="start" stroke="#111" stroke-width="0.3" style="letter-spacing:0.4px">R<tspan font-size="11.5" dy="-7" font-weight="normal" stroke-width="0.6">2</tspan></text><line x1="958.2" y1="387.7" x2="966.1" y2="395.6" stroke="#f80808" stroke-width="1.6" stroke-linecap="butt"/><text x="970.8" y="405.6" font-size="15" font-weight="normal" fill="#111" text-anchor="middle" stroke="#111" stroke-width="0.7" style="letter-spacing:0">C</text><line x1="975.1" y1="394.4" x2="979.6" y2="386.0" stroke="#111" stroke-width="1.6" stroke-linecap="butt"/><text x="984.6" y="383.7" font-size="17" font-weight="bold" fill="#111" text-anchor="middle" stroke="#111" stroke-width="0.3" style="letter-spacing:0">H</text><line x1="964.4" y1="404.6" x2="954.9" y2="408.5" stroke="#111" stroke-width="1.6" stroke-linecap="butt"/><line x1="977.9" y1="404.6" x2="986.9" y2="410.7" stroke="#111" stroke-width="1.6" stroke-linecap="butt"/><text x="936.2" y="419.7" font-size="16.5" font-weight="bold" fill="#111" text-anchor="start" stroke="#111" stroke-width="0.3" style="letter-spacing:0.4px">R<tspan font-size="11.5" dy="-7" font-weight="normal" stroke-width="0.6">1</tspan></text><text x="989.0" y="419.7" font-size="16.5" font-weight="bold" fill="#111" text-anchor="start" stroke="#111" stroke-width="0.3" style="letter-spacing:0.4px">R<tspan font-size="11.5" dy="-7" font-weight="normal" stroke-width="0.6">2</tspan></text><text x="333.8" y="378.6" font-size="16" font-weight="normal" fill="#f80808" text-anchor="middle" stroke="#f80808" stroke-width="0.7" >O</text><line x1="331.6" y1="380.7" x2="331.6" y2="393.0" stroke="#f80808" stroke-width="1.6" stroke-linecap="butt"/><line x1="336.0" y1="380.7" x2="336.0" y2="393.0" stroke="#f80808" stroke-width="1.6" stroke-linecap="butt"/><text x="333.5" y="405.6" font-size="15" font-weight="normal" fill="#111" text-anchor="middle" stroke="#111" stroke-width="0.7" style="letter-spacing:0">C</text><line x1="327.2" y1="403.8" x2="318.3" y2="407.4" stroke="#111" stroke-width="1.6" stroke-linecap="butt"/><line x1="341.4" y1="404.3" x2="349.8" y2="409.5" stroke="#111" stroke-width="1.6" stroke-linecap="butt"/><text x="299.8" y="420.0" font-size="16.5" font-weight="bold" fill="#111" text-anchor="start" stroke="#111" stroke-width="0.3" style="letter-spacing:0.4px">R<tspan font-size="11.5" dy="-7" font-weight="normal" stroke-width="0.6">1</tspan></text><text x="352.8" y="420.0" font-size="16.5" font-weight="bold" fill="#111" text-anchor="start" stroke="#111" stroke-width="0.3" style="letter-spacing:0.4px">R<tspan font-size="11.5" dy="-7" font-weight="normal" stroke-width="0.6">2</tspan></text><text x="203.5" y="145.4" font-size="16" font-weight="normal" fill="#3b8cf0" text-anchor="start" stroke="#3b8cf0" stroke-width="0.7" >Cl</text><circle cx="221.0" cy="131.6" r="2.0" fill="#3b8cf0"/><text x="445.6" y="132.6" font-size="17" font-weight="bold" fill="#111" text-anchor="middle" stroke="#111" stroke-width="0.3" style="letter-spacing:0">H</text><text x="473.0" y="132.6" font-size="17" font-weight="bold" fill="#111" text-anchor="middle" stroke="#111" stroke-width="0.3" style="letter-spacing:0">H</text><text x="458.9" y="155.6" font-size="15" font-weight="normal" fill="#111" text-anchor="middle" stroke="#111" stroke-width="0.7" style="letter-spacing:0">C</text><line x1="448.5" y1="135.5" x2="454.0" y2="145.0" stroke="#111" stroke-width="1.6" stroke-linecap="butt"/><line x1="469.0" y1="135.5" x2="463.5" y2="145.0" stroke="#111" stroke-width="1.6" stroke-linecap="butt"/><line x1="452.5" y1="153.3" x2="443.8" y2="157.3" stroke="#111" stroke-width="1.6" stroke-linecap="butt"/><line x1="465.0" y1="153.5" x2="476.0" y2="158.5" stroke="#111" stroke-width="1.6" stroke-linecap="butt"/><text x="424.3" y="170.0" font-size="16.5" font-weight="bold" fill="#111" text-anchor="start" stroke="#111" stroke-width="0.3" style="letter-spacing:0.4px">R<tspan font-size="11.5" dy="-7" font-weight="normal" stroke-width="0.6">1</tspan></text><text x="477.5" y="170.0" font-size="16.5" font-weight="bold" fill="#111" text-anchor="start" stroke="#111" stroke-width="0.3" style="letter-spacing:0.4px">R<tspan font-size="11.5" dy="-7" font-weight="normal" stroke-width="0.6">2</tspan></text><text x="899.5" y="205.6" font-size="15" font-weight="normal" fill="#111" text-anchor="middle" stroke="#111" stroke-width="0.7" style="letter-spacing:0">C</text><circle cx="892.8" cy="189.0" r="1.9" fill="#f80808"/><text x="913.2" y="182.3" font-size="17" font-weight="bold" fill="#111" text-anchor="middle" stroke="#111" stroke-width="0.3" style="letter-spacing:0">H</text><line x1="904.0" y1="195.0" x2="909.5" y2="186.5" stroke="#111" stroke-width="1.6" stroke-linecap="butt"/><line x1="893.5" y1="203.5" x2="884.0" y2="208.0" stroke="#111" stroke-width="1.6" stroke-linecap="butt"/><line x1="905.5" y1="203.5" x2="915.0" y2="208.0" stroke="#111" stroke-width="1.6" stroke-linecap="butt"/><text x="864.3" y="220.0" font-size="16.5" font-weight="bold" fill="#111" text-anchor="start" stroke="#111" stroke-width="0.3" style="letter-spacing:0.4px">R<tspan font-size="11.5" dy="-7" font-weight="normal" stroke-width="0.6">1</tspan></text><text x="918.0" y="220.0" font-size="16.5" font-weight="bold" fill="#111" text-anchor="start" stroke="#111" stroke-width="0.3" style="letter-spacing:0.4px">R<tspan font-size="11.5" dy="-7" font-weight="normal" stroke-width="0.6">2</tspan></text><path d="M231.8,139.8 C320,143 410,160 468,197" fill="none" stroke="#f80808" stroke-width="1.8"/><path d="M459.5,160.5 C459,178 463,189 470,197.5" fill="none" stroke="#f80808" stroke-width="1.8"/><path d="M490,218 C590,293 790,283 892,226.5" fill="none" stroke="#f80808" stroke-width="1.8"/><polygon points="901.5,222.0 886.8,223.8 890.3,227.5 891.0,232.5" fill="#f80808"/><path d="M491,219 C508,262 470,305 392,321.5" fill="none" stroke="#f80808" stroke-width="1.8"/><polygon points="382.4,324.0 397.2,325.0 394.5,320.8 394.7,315.7" fill="#f80808"/><path d="M387,338.4 C368,341 353,349 347.5,358" fill="none" stroke="#f80808" stroke-width="1.8"/><polygon points="343.0,366.0 353.2,356.7 348.4,355.8 345.0,352.4" fill="#f80808"/><rect x="456.5" y="197.8" width="38.2" height="19.6" fill="url(#gBox)" stroke="#2d8414" stroke-width="2.3"/><text x="475.8" y="215.5" font-size="16.5" font-weight="bold" fill="#7a1212" text-anchor="middle" stroke="#7a1212" stroke-width="0.3" style="letter-spacing:0">HAT</text><rect x="241" y="217" width="212" height="45" fill="#c0c0c0"/><rect x="234.3" y="210.8" width="210.5" height="44" fill="#fff" stroke="#000" stroke-width="2"/><text x="239.3" y="229.0" font-size="16.5" font-weight="bold" fill="#111" text-anchor="start" stroke="#111" stroke-width="0.3" style="letter-spacing:0">Energy Transfer-Mediated</text><text x="239.3" y="248.6" font-size="16.5" font-weight="bold" fill="#111" text-anchor="start" stroke="#111" stroke-width="0.3" style="letter-spacing:0">Multiphoton Excitation</text><rect x="613" y="282" width="220" height="25" fill="#c0c0c0"/><rect x="607" y="275.5" width="219" height="24.5" fill="#fff" stroke="#000" stroke-width="2"/><text x="716.5" y="294.5" font-size="16.5" font-weight="bold" fill="#111" text-anchor="middle" stroke="#111" stroke-width="0.3" style="letter-spacing:0">Enzyme-Inspired catalysis</text><rect x="72" y="202.2" width="40.6" height="22" fill="url(#gBox)" stroke="#2d8414" stroke-width="2.3"/><text x="92.3" y="220.6" font-size="16.5" font-weight="bold" fill="#7a1212" text-anchor="middle" stroke="#7a1212" stroke-width="0.3" style="letter-spacing:0">EnT</text><rect x="128.5" y="202.6" width="54.8" height="22.6" fill="url(#gBox)" stroke="#2d8414" stroke-width="2.3"/><text x="155.9" y="221.0" font-size="16.5" font-weight="bold" fill="#7a1212" text-anchor="middle" stroke="#7a1212" stroke-width="0.3" style="letter-spacing:0">LMCT</text><line x1="121.6" y1="260.4" x2="121.6" y2="170.0" stroke="#000" stroke-width="2.4" stroke-linecap="butt"/><polygon points="121.6,158.4 116.4,177 121.6,174 126.8,177" fill="#000"/><path d="M84,237 C105,236 121,228 120,214 C119,202 108,192 93,189" fill="none" stroke="#3b8cf0" stroke-width="1.8"/><polygon points="85.0,188.4 96.1,194.6 95.3,190.2 97.5,186.3" fill="#3b8cf0"/><text x="54.5" y="189.2" font-size="16" font-weight="normal" fill="#f80808" text-anchor="start" stroke="#f80808" stroke-width="0.7" ><tspan font-size="11" dy="-5.5">1</tspan><tspan dy="5.5">O</tspan><tspan font-size="11" dy="4">2</tspan></text><text x="62.5" y="243.2" font-size="16" font-weight="normal" fill="#f80808" text-anchor="start" stroke="#f80808" stroke-width="0.7" >O<tspan font-size="11" dy="4">2</tspan></text><g stroke="#2020ee" stroke-width="1.5" fill="none" stroke-linecap="round"><path d="M152.2,192.6 L151.2,190 C148,188.2 149.3,184.8 149.4,184.6 C149.6,180.5 152.5,179.4 155.3,179.4 C158.1,179.4 161,180.5 161.2,184.6 C161.3,184.8 162.6,188.2 159.4,190 L158.4,192.6 Z"/><line x1="155.3" y1="175.5" x2="155.3" y2="177.3"/><line x1="145.5" y1="185.4" x2="147.3" y2="185.4"/><line x1="163.3" y1="185.4" x2="165.1" y2="185.4"/><line x1="148.2" y1="178.3" x2="149.5" y2="179.6"/><line x1="162.4" y1="178.3" x2="161.1" y2="179.6"/><line x1="148.2" y1="192.5" x2="149.5" y2="191.2"/><line x1="162.4" y1="192.5" x2="161.1" y2="191.2"/><line x1="152.4" y1="194.8" x2="158.2" y2="194.8"/><line x1="153.8" y1="197.2" x2="156.8" y2="197.2"/></g><circle cx="155.3" cy="185.3" r="2.6" fill="#2020ee"/><circle cx="155.3" cy="185.3" r="0.8" fill="#fff"/><clipPath id="smc"><rect x="591" y="127.4" width="228.6" height="129.6" rx="14"/></clipPath><rect x="591" y="127.4" width="228.6" height="129.6" rx="14" fill="#f6f6ef"/><g clip-path="url(#smc)"><path d="M588,125 L668,125 C672,133 684,138 700,140 C712,150 705,170 698,180 C705,195 725,205 745,210 L760,262 L588,262 Z" fill="#e0dfc3"/><path d="M592,140 C612,132 632,136 650,148 C660,156 664,168 660,180 L650,182 C650,166 640,154 626,148 C612,143 600,146 592,150 Z" fill="#d9d8b9"/><path d="M592,212 C615,204 642,210 662,222 C680,232 700,238 720,236 L722,246 C700,250 676,244 656,232 C636,220 612,216 592,222 Z" fill="#d9d8b8"/><path d="M600,186 C612,190 622,200 628,212 L620,214 C614,204 606,196 598,194 Z" fill="#d6d5b4"/><path d="M614,180 L626,160 C632,166 636,173 637,181 Z" fill="#f8f8f2"/><path d="M664,127 L700,127 C702,132 698,137 690,139 C680,138 670,134 664,127 Z" fill="#f4f4ec"/><g fill="none" stroke-linecap="round"><path d="M702,134 C735,124 792,128 804,156 C814,182 786,196 764,190 C740,184 738,160 762,157 C792,154 810,188 796,214 C782,240 742,246 712,240" stroke="#d6d5b2" stroke-width="20"/><path d="M702,134 C735,124 792,128 804,156 C814,182 786,196 764,190 C740,184 738,160 762,157 C792,154 810,188 796,214 C782,240 742,246 712,240" stroke="#e4e3ca" stroke-width="15"/><path d="M700,205 C712,222 730,232 752,236" stroke="#e2e1c6" stroke-width="16"/></g><path d="M772,226 L786,258 L779,258 L766,229 Z" fill="#b9c9c9"/><path d="M594,240 L610,256 L602,258 L590,246 Z" fill="#c9d3d2"/><path d="M656,190 L664,176 L668,178 L660,192 Z" fill="#cfd9d9"/></g><rect x="591" y="127.4" width="228.6" height="129.6" rx="14" fill="none" stroke="#6b45b2" stroke-width="2"/><text x="760.8" y="141.8" font-size="10.5" font-weight="bold" fill="#1a1a1a" text-anchor="middle" stroke="#1a1a1a" stroke-width="0.3" >sMMO Active Site</text><text x="670.8" y="205.1" font-size="13" font-weight="normal" fill="#111" text-anchor="middle" stroke="#111" stroke-width="0.8" >Fe</text><text x="730.4" y="205.1" font-size="13" font-weight="normal" fill="#111" text-anchor="middle" stroke="#111" stroke-width="0.8" >Fe</text><text x="666.0" y="147.7" font-size="13" font-weight="normal" fill="#111" text-anchor="middle" stroke="#111" stroke-width="0.8" >Enz</text><line x1="672.0" y1="149.0" x2="683.0" y2="160.0" stroke="#111" stroke-width="1.4" stroke-linecap="butt"/><line x1="684.0" y1="160.0" x2="695.0" y2="160.0" stroke="#111" stroke-width="1.4" stroke-linecap="butt"/><line x1="684.0" y1="163.2" x2="695.0" y2="163.2" stroke="#111" stroke-width="1.4" stroke-linecap="butt"/><text x="701.0" y="166.2" font-size="13" font-weight="normal" fill="#111" text-anchor="middle" stroke="#111" stroke-width="0.8" >O</text><line x1="683.0" y1="161.5" x2="679.0" y2="169.0" stroke="#111" stroke-width="1.4" stroke-linecap="butt"/><text x="676.0" y="180.2" font-size="13" font-weight="normal" fill="#111" text-anchor="middle" stroke="#111" stroke-width="0.8" >O</text><line x1="676.0" y1="182.0" x2="676.0" y2="190.0" stroke="#111" stroke-width="1.4" stroke-linecap="butt"/><text x="648.0" y="190.2" font-size="13" font-weight="normal" fill="#111" text-anchor="middle" stroke="#111" stroke-width="0.8" >N</text><line x1="655.1" y1="189.6" x2="654.6" y2="190.4" stroke="#111" stroke-width="1.0" stroke-linecap="butt"/><line x1="656.9" y1="190.3" x2="656.1" y2="191.7" stroke="#111" stroke-width="1.0" stroke-linecap="butt"/><line x1="658.8" y1="190.9" x2="657.5" y2="193.1" stroke="#111" stroke-width="1.0" stroke-linecap="butt"/><line x1="660.7" y1="191.6" x2="659.0" y2="194.4" stroke="#111" stroke-width="1.0" stroke-linecap="butt"/><line x1="662.5" y1="192.3" x2="660.5" y2="195.7" stroke="#111" stroke-width="1.0" stroke-linecap="butt"/><line x1="664.4" y1="193.0" x2="662.0" y2="197.0" stroke="#111" stroke-width="1.0" stroke-linecap="butt"/><text x="615.0" y="202.7" font-size="13" font-weight="normal" fill="#111" text-anchor="middle" stroke="#111" stroke-width="0.8" >Enz</text><line x1="624.0" y1="203.0" x2="633.0" y2="212.0" stroke="#111" stroke-width="1.4" stroke-linecap="butt"/><line x1="633.0" y1="212.0" x2="627.0" y2="221.5" stroke="#111" stroke-width="1.4" stroke-linecap="butt"/><line x1="630.2" y1="210.5" x2="624.5" y2="219.5" stroke="#111" stroke-width="1.4" stroke-linecap="butt"/><text x="624.5" y="231.7" font-size="13" font-weight="normal" fill="#111" text-anchor="middle" stroke="#111" stroke-width="0.8" >O</text><line x1="633.0" y1="212.0" x2="646.0" y2="215.0" stroke="#111" stroke-width="1.4" stroke-linecap="butt"/><text x="651.6" y="221.2" font-size="13" font-weight="normal" fill="#111" text-anchor="middle" stroke="#111" stroke-width="0.8" >O</text><polygon points="665.0,205.0 654.6,210.2 657.4,213.8" fill="#111"/><text x="703.0" y="195.7" font-size="13" font-weight="normal" fill="#111" text-anchor="middle" stroke="#111" stroke-width="0.8" >O</text><line x1="680.4" y1="196.2" x2="680.6" y2="197.1" stroke="#111" stroke-width="1.0" stroke-linecap="butt"/><line x1="683.3" y1="195.0" x2="683.7" y2="196.7" stroke="#111" stroke-width="1.0" stroke-linecap="butt"/><line x1="686.2" y1="193.9" x2="686.8" y2="196.3" stroke="#111" stroke-width="1.0" stroke-linecap="butt"/><line x1="689.1" y1="192.8" x2="689.9" y2="195.9" stroke="#111" stroke-width="1.0" stroke-linecap="butt"/><line x1="692.0" y1="191.7" x2="693.0" y2="195.6" stroke="#111" stroke-width="1.0" stroke-linecap="butt"/><line x1="694.9" y1="190.6" x2="696.1" y2="195.2" stroke="#111" stroke-width="1.0" stroke-linecap="butt"/><line x1="720.5" y1="197.0" x2="720.8" y2="196.1" stroke="#111" stroke-width="1.0" stroke-linecap="butt"/><line x1="717.6" y1="196.6" x2="718.3" y2="194.7" stroke="#111" stroke-width="1.0" stroke-linecap="butt"/><line x1="714.8" y1="196.1" x2="715.7" y2="193.4" stroke="#111" stroke-width="1.0" stroke-linecap="butt"/><line x1="712.0" y1="195.6" x2="713.1" y2="192.1" stroke="#111" stroke-width="1.0" stroke-linecap="butt"/><line x1="709.1" y1="195.2" x2="710.6" y2="190.7" stroke="#111" stroke-width="1.0" stroke-linecap="butt"/><text x="702.0" y="215.7" font-size="13" font-weight="normal" fill="#f80808" text-anchor="middle" stroke="#f80808" stroke-width="0.8" >O</text><polygon points="678.0,203.0 695.7,211.9 697.3,207.1" fill="#111"/><polygon points="725.0,203.0 706.6,207.2 708.4,211.8" fill="#111"/><text x="685.0" y="228.1" font-size="13" font-weight="normal" fill="#111" text-anchor="middle" stroke="#111" stroke-width="0.8" >O</text><text x="723.0" y="228.1" font-size="13" font-weight="normal" fill="#111" text-anchor="middle" stroke="#111" stroke-width="0.8" >O</text><line x1="671.0" y1="206.5" x2="680.5" y2="217.5" stroke="#111" stroke-width="1.4" stroke-linecap="butt"/><line x1="731.0" y1="206.5" x2="727.0" y2="217.5" stroke="#111" stroke-width="1.4" stroke-linecap="butt"/><line x1="690.5" y1="226.8" x2="704.5" y2="232.6" stroke="#111" stroke-width="1.4" stroke-linecap="butt"/><line x1="704.5" y1="232.6" x2="717.5" y2="226.8" stroke="#111" stroke-width="1.4" stroke-linecap="butt"/><line x1="704.5" y1="232.6" x2="704.5" y2="241.0" stroke="#111" stroke-width="1.4" stroke-linecap="butt"/><text x="712.0" y="252.3" font-size="13" font-weight="normal" fill="#111" text-anchor="middle" stroke="#111" stroke-width="0.8" >Enz</text><text x="743.6" y="176.4" font-size="13" font-weight="normal" fill="#111" text-anchor="middle" stroke="#111" stroke-width="0.7" >H<tspan font-size="9" dy="3">2</tspan><tspan dy="-3">O</tspan></text><line x1="735.3" y1="179.0" x2="735.3" y2="190.5" stroke="#111" stroke-width="1.4" stroke-linecap="butt"/><text x="759.7" y="191.3" font-size="13" font-weight="normal" fill="#111" text-anchor="middle" stroke="#111" stroke-width="0.8" >N</text><line x1="740.1" y1="195.5" x2="740.4" y2="196.4" stroke="#111" stroke-width="1.0" stroke-linecap="butt"/><line x1="742.4" y1="194.1" x2="743.1" y2="195.7" stroke="#111" stroke-width="1.0" stroke-linecap="butt"/><line x1="744.8" y1="192.7" x2="745.7" y2="194.9" stroke="#111" stroke-width="1.0" stroke-linecap="butt"/><line x1="747.1" y1="191.2" x2="748.4" y2="194.2" stroke="#111" stroke-width="1.0" stroke-linecap="butt"/><line x1="749.5" y1="189.8" x2="751.0" y2="193.4" stroke="#111" stroke-width="1.0" stroke-linecap="butt"/><line x1="751.8" y1="188.4" x2="753.7" y2="192.7" stroke="#111" stroke-width="1.0" stroke-linecap="butt"/><polygon points="738.0,205.0 749.3,213.7 751.7,209.3" fill="#111"/><text x="756.0" y="218.7" font-size="13" font-weight="normal" fill="#111" text-anchor="middle" stroke="#111" stroke-width="0.8" >O</text><line x1="761.5" y1="212.0" x2="775.5" y2="208.5" stroke="#111" stroke-width="1.4" stroke-linecap="butt"/><line x1="775.5" y1="208.5" x2="776.5" y2="198.5" stroke="#111" stroke-width="1.4" stroke-linecap="butt"/><line x1="778.8" y1="209.0" x2="779.8" y2="199.0" stroke="#111" stroke-width="1.4" stroke-linecap="butt"/><text x="777.5" y="197.1" font-size="13" font-weight="normal" fill="#111" text-anchor="middle" stroke="#111" stroke-width="0.8" >O</text><line x1="776.0" y1="208.5" x2="789.0" y2="216.0" stroke="#111" stroke-width="1.4" stroke-linecap="butt"/><text x="797.5" y="225.7" font-size="13" font-weight="normal" fill="#111" text-anchor="middle" stroke="#111" stroke-width="0.8" >Enz</text><line x1="41.0" y1="454.0" x2="44.8" y2="464.4" stroke="#8a8a8a" stroke-width="3.6"/><line x1="44.8" y1="464.4" x2="48.6" y2="474.8" stroke="#8a8a8a" stroke-width="3.6"/><line x1="41.0" y1="454.0" x2="44.8" y2="464.4" stroke="#e6e6e6" stroke-width="1.44"/><line x1="44.8" y1="464.4" x2="48.6" y2="474.8" stroke="#e6e6e6" stroke-width="1.44"/><line x1="48.6" y1="474.8" x2="61.2" y2="475.0" stroke="#8a8a8a" stroke-width="3.6"/><line x1="61.2" y1="475.0" x2="73.8" y2="475.2" stroke="#8a8a8a" stroke-width="3.6"/><line x1="48.6" y1="474.8" x2="61.2" y2="475.0" stroke="#e6e6e6" stroke-width="1.44"/><line x1="61.2" y1="475.0" x2="73.8" y2="475.2" stroke="#e6e6e6" stroke-width="1.44"/><line x1="73.8" y1="475.2" x2="79.9" y2="467.3" stroke="#8a8a8a" stroke-width="3.6"/><line x1="79.9" y1="467.3" x2="86.0" y2="459.4" stroke="#b01010" stroke-width="3.6"/><line x1="73.8" y1="475.2" x2="79.9" y2="467.3" stroke="#e6e6e6" stroke-width="1.44"/><line x1="79.9" y1="467.3" x2="86.0" y2="459.4" stroke="#f04040" stroke-width="1.44"/><line x1="73.8" y1="475.2" x2="77.6" y2="485.5" stroke="#8a8a8a" stroke-width="3.6"/><line x1="77.6" y1="485.5" x2="81.4" y2="495.9" stroke="#1a1ab0" stroke-width="3.6"/><line x1="73.8" y1="475.2" x2="77.6" y2="485.5" stroke="#e6e6e6" stroke-width="1.44"/><line x1="77.6" y1="485.5" x2="81.4" y2="495.9" stroke="#5a5aff" stroke-width="1.44"/><line x1="48.6" y1="474.8" x2="42.3" y2="484.4" stroke="#8a8a8a" stroke-width="3.6"/><line x1="42.3" y1="484.4" x2="36.0" y2="494.0" stroke="#8a8a8a" stroke-width="3.6"/><line x1="48.6" y1="474.8" x2="42.3" y2="484.4" stroke="#e6e6e6" stroke-width="1.44"/><line x1="42.3" y1="484.4" x2="36.0" y2="494.0" stroke="#e6e6e6" stroke-width="1.44"/><line x1="36.0" y1="494.0" x2="40.0" y2="504.4" stroke="#8a8a8a" stroke-width="3.6"/><line x1="40.0" y1="504.4" x2="44.0" y2="514.8" stroke="#8a8a8a" stroke-width="3.6"/><line x1="36.0" y1="494.0" x2="40.0" y2="504.4" stroke="#e6e6e6" stroke-width="1.44"/><line x1="40.0" y1="504.4" x2="44.0" y2="514.8" stroke="#e6e6e6" stroke-width="1.44"/><line x1="44.0" y1="514.8" x2="56.2" y2="515.0" stroke="#8a8a8a" stroke-width="3.6"/><line x1="56.2" y1="515.0" x2="68.4" y2="515.2" stroke="#8a8a8a" stroke-width="3.6"/><line x1="44.0" y1="514.8" x2="56.2" y2="515.0" stroke="#e6e6e6" stroke-width="1.44"/><line x1="56.2" y1="515.0" x2="68.4" y2="515.2" stroke="#e6e6e6" stroke-width="1.44"/><line x1="68.4" y1="515.2" x2="74.9" y2="505.6" stroke="#8a8a8a" stroke-width="3.6"/><line x1="74.9" y1="505.6" x2="81.4" y2="495.9" stroke="#1a1ab0" stroke-width="3.6"/><line x1="68.4" y1="515.2" x2="74.9" y2="505.6" stroke="#e6e6e6" stroke-width="1.44"/><line x1="74.9" y1="505.6" x2="81.4" y2="495.9" stroke="#5a5aff" stroke-width="1.44"/><line x1="68.4" y1="515.2" x2="72.5" y2="524.5" stroke="#8a8a8a" stroke-width="3.6"/><line x1="72.5" y1="524.5" x2="76.5" y2="533.7" stroke="#b01010" stroke-width="3.6"/><line x1="68.4" y1="515.2" x2="72.5" y2="524.5" stroke="#e6e6e6" stroke-width="1.44"/><line x1="72.5" y1="524.5" x2="76.5" y2="533.7" stroke="#f04040" stroke-width="1.44"/><line x1="44.0" y1="514.8" x2="37.1" y2="524.2" stroke="#8a8a8a" stroke-width="3.6"/><line x1="37.1" y1="524.2" x2="30.2" y2="533.7" stroke="#8a8a8a" stroke-width="3.6"/><line x1="44.0" y1="514.8" x2="37.1" y2="524.2" stroke="#e6e6e6" stroke-width="1.44"/><line x1="37.1" y1="524.2" x2="30.2" y2="533.7" stroke="#e6e6e6" stroke-width="1.44"/><line x1="81.4" y1="495.9" x2="92.9" y2="496.8" stroke="#1a1ab0" stroke-width="3.6"/><line x1="92.9" y1="496.8" x2="104.4" y2="497.7" stroke="#8a8a8a" stroke-width="3.6"/><line x1="81.4" y1="495.9" x2="92.9" y2="496.8" stroke="#5a5aff" stroke-width="1.44"/><line x1="92.9" y1="496.8" x2="104.4" y2="497.7" stroke="#e6e6e6" stroke-width="1.44"/><line x1="104.4" y1="497.7" x2="108.5" y2="491.1" stroke="#8a8a8a" stroke-width="3.6"/><line x1="108.5" y1="491.1" x2="112.5" y2="484.6" stroke="#8a8a8a" stroke-width="3.6"/><line x1="104.4" y1="497.7" x2="108.5" y2="491.1" stroke="#e6e6e6" stroke-width="1.44"/><line x1="108.5" y1="491.1" x2="112.5" y2="484.6" stroke="#e6e6e6" stroke-width="1.44"/><line x1="112.5" y1="484.6" x2="124.2" y2="485.5" stroke="#8a8a8a" stroke-width="3.6"/><line x1="124.2" y1="485.5" x2="135.9" y2="486.4" stroke="#8a8a8a" stroke-width="3.6"/><line x1="112.5" y1="484.6" x2="124.2" y2="485.5" stroke="#e6e6e6" stroke-width="1.44"/><line x1="124.2" y1="485.5" x2="135.9" y2="486.4" stroke="#e6e6e6" stroke-width="1.44"/><line x1="135.9" y1="486.4" x2="143.6" y2="493.6" stroke="#8a8a8a" stroke-width="3.6"/><line x1="143.6" y1="493.6" x2="151.2" y2="500.8" stroke="#8a8a8a" stroke-width="3.6"/><line x1="135.9" y1="486.4" x2="143.6" y2="493.6" stroke="#e6e6e6" stroke-width="1.44"/><line x1="143.6" y1="493.6" x2="151.2" y2="500.8" stroke="#e6e6e6" stroke-width="1.44"/><line x1="151.2" y1="500.8" x2="146.7" y2="507.1" stroke="#8a8a8a" stroke-width="3.6"/><line x1="146.7" y1="507.1" x2="142.2" y2="513.4" stroke="#8a8a8a" stroke-width="3.6"/><line x1="151.2" y1="500.8" x2="146.7" y2="507.1" stroke="#e6e6e6" stroke-width="1.44"/><line x1="146.7" y1="507.1" x2="142.2" y2="513.4" stroke="#e6e6e6" stroke-width="1.44"/><line x1="142.2" y1="513.4" x2="130.5" y2="512.3" stroke="#8a8a8a" stroke-width="3.6"/><line x1="130.5" y1="512.3" x2="118.8" y2="511.2" stroke="#8a8a8a" stroke-width="3.6"/><line x1="142.2" y1="513.4" x2="130.5" y2="512.3" stroke="#e6e6e6" stroke-width="1.44"/><line x1="130.5" y1="512.3" x2="118.8" y2="511.2" stroke="#e6e6e6" stroke-width="1.44"/><line x1="118.8" y1="511.2" x2="111.6" y2="504.4" stroke="#8a8a8a" stroke-width="3.6"/><line x1="111.6" y1="504.4" x2="104.4" y2="497.7" stroke="#8a8a8a" stroke-width="3.6"/><line x1="118.8" y1="511.2" x2="111.6" y2="504.4" stroke="#e6e6e6" stroke-width="1.44"/><line x1="111.6" y1="504.4" x2="104.4" y2="497.7" stroke="#e6e6e6" stroke-width="1.44"/><line x1="135.9" y1="486.4" x2="139.9" y2="479.9" stroke="#8a8a8a" stroke-width="3.6"/><line x1="139.9" y1="479.9" x2="144.0" y2="473.4" stroke="#8a8a8a" stroke-width="3.6"/><line x1="135.9" y1="486.4" x2="139.9" y2="479.9" stroke="#e6e6e6" stroke-width="1.44"/><line x1="139.9" y1="479.9" x2="144.0" y2="473.4" stroke="#e6e6e6" stroke-width="1.44"/><line x1="144.0" y1="473.4" x2="138.2" y2="466.0" stroke="#8a8a8a" stroke-width="3.6"/><line x1="138.2" y1="466.0" x2="132.3" y2="458.6" stroke="#b01010" stroke-width="3.6"/><line x1="144.0" y1="473.4" x2="138.2" y2="466.0" stroke="#e6e6e6" stroke-width="1.44"/><line x1="138.2" y1="466.0" x2="132.3" y2="458.6" stroke="#f04040" stroke-width="1.44"/><line x1="144.0" y1="473.4" x2="153.9" y2="475.4" stroke="#8a8a8a" stroke-width="3.6"/><line x1="153.9" y1="475.4" x2="163.8" y2="477.4" stroke="#b01010" stroke-width="3.6"/><line x1="144.0" y1="473.4" x2="153.9" y2="475.4" stroke="#e6e6e6" stroke-width="1.44"/><line x1="153.9" y1="475.4" x2="163.8" y2="477.4" stroke="#f04040" stroke-width="1.44"/><line x1="142.2" y1="513.4" x2="149.8" y2="520.8" stroke="#8a8a8a" stroke-width="3.6"/><line x1="149.8" y1="520.8" x2="157.5" y2="528.3" stroke="#8a8a8a" stroke-width="3.6"/><line x1="142.2" y1="513.4" x2="149.8" y2="520.8" stroke="#e6e6e6" stroke-width="1.44"/><line x1="149.8" y1="520.8" x2="157.5" y2="528.3" stroke="#e6e6e6" stroke-width="1.44"/><line x1="157.5" y1="528.3" x2="167.4" y2="526.8" stroke="#8a8a8a" stroke-width="3.6"/><line x1="167.4" y1="526.8" x2="177.3" y2="525.2" stroke="#b01010" stroke-width="3.6"/><line x1="157.5" y1="528.3" x2="167.4" y2="526.8" stroke="#e6e6e6" stroke-width="1.44"/><line x1="167.4" y1="526.8" x2="177.3" y2="525.2" stroke="#f04040" stroke-width="1.44"/><line x1="157.5" y1="528.3" x2="153.0" y2="534.6" stroke="#8a8a8a" stroke-width="3.6"/><line x1="153.0" y1="534.6" x2="148.5" y2="540.9" stroke="#b01010" stroke-width="3.6"/><line x1="157.5" y1="528.3" x2="153.0" y2="534.6" stroke="#e6e6e6" stroke-width="1.44"/><line x1="153.0" y1="534.6" x2="148.5" y2="540.9" stroke="#f04040" stroke-width="1.44"/><line x1="343.5" y1="453.3" x2="336.4" y2="462.9" stroke="#8a8a8a" stroke-width="3.6"/><line x1="336.4" y1="462.9" x2="329.3" y2="472.4" stroke="#8a8a8a" stroke-width="3.6"/><line x1="343.5" y1="453.3" x2="336.4" y2="462.9" stroke="#e6e6e6" stroke-width="1.44"/><line x1="336.4" y1="462.9" x2="329.3" y2="472.4" stroke="#e6e6e6" stroke-width="1.44"/><line x1="329.3" y1="472.4" x2="317.5" y2="471.9" stroke="#8a8a8a" stroke-width="3.6"/><line x1="317.5" y1="471.9" x2="305.6" y2="471.4" stroke="#8a8a8a" stroke-width="3.6"/><line x1="329.3" y1="472.4" x2="317.5" y2="471.9" stroke="#e6e6e6" stroke-width="1.44"/><line x1="317.5" y1="471.9" x2="305.6" y2="471.4" stroke="#e6e6e6" stroke-width="1.44"/><line x1="305.6" y1="471.4" x2="301.2" y2="462.4" stroke="#8a8a8a" stroke-width="3.6"/><line x1="301.2" y1="462.4" x2="296.8" y2="453.3" stroke="#b01010" stroke-width="3.6"/><line x1="305.6" y1="471.4" x2="301.2" y2="462.4" stroke="#e6e6e6" stroke-width="1.44"/><line x1="301.2" y1="462.4" x2="296.8" y2="453.3" stroke="#f04040" stroke-width="1.44"/><line x1="305.6" y1="471.4" x2="298.7" y2="481.0" stroke="#8a8a8a" stroke-width="3.6"/><line x1="298.7" y1="481.0" x2="291.8" y2="490.7" stroke="#1a1ab0" stroke-width="3.6"/><line x1="305.6" y1="471.4" x2="298.7" y2="481.0" stroke="#e6e6e6" stroke-width="1.44"/><line x1="298.7" y1="481.0" x2="291.8" y2="490.7" stroke="#5a5aff" stroke-width="1.44"/><line x1="329.3" y1="472.4" x2="333.7" y2="482.5" stroke="#8a8a8a" stroke-width="3.6"/><line x1="333.7" y1="482.5" x2="338.1" y2="492.7" stroke="#8a8a8a" stroke-width="3.6"/><line x1="329.3" y1="472.4" x2="333.7" y2="482.5" stroke="#e6e6e6" stroke-width="1.44"/><line x1="333.7" y1="482.5" x2="338.1" y2="492.7" stroke="#e6e6e6" stroke-width="1.44"/><line x1="338.1" y1="492.7" x2="330.8" y2="502.2" stroke="#8a8a8a" stroke-width="3.6"/><line x1="330.8" y1="502.2" x2="323.4" y2="511.8" stroke="#8a8a8a" stroke-width="3.6"/><line x1="338.1" y1="492.7" x2="330.8" y2="502.2" stroke="#e6e6e6" stroke-width="1.44"/><line x1="330.8" y1="502.2" x2="323.4" y2="511.8" stroke="#e6e6e6" stroke-width="1.44"/><line x1="323.4" y1="511.8" x2="311.5" y2="511.8" stroke="#8a8a8a" stroke-width="3.6"/><line x1="311.5" y1="511.8" x2="299.7" y2="511.8" stroke="#8a8a8a" stroke-width="3.6"/><line x1="323.4" y1="511.8" x2="311.5" y2="511.8" stroke="#e6e6e6" stroke-width="1.44"/><line x1="311.5" y1="511.8" x2="299.7" y2="511.8" stroke="#e6e6e6" stroke-width="1.44"/><line x1="299.7" y1="511.8" x2="295.8" y2="501.2" stroke="#8a8a8a" stroke-width="3.6"/><line x1="295.8" y1="501.2" x2="291.8" y2="490.7" stroke="#1a1ab0" stroke-width="3.6"/><line x1="299.7" y1="511.8" x2="295.8" y2="501.2" stroke="#e6e6e6" stroke-width="1.44"/><line x1="295.8" y1="501.2" x2="291.8" y2="490.7" stroke="#5a5aff" stroke-width="1.44"/><line x1="299.7" y1="511.8" x2="293.3" y2="519.6" stroke="#8a8a8a" stroke-width="3.6"/><line x1="293.3" y1="519.6" x2="286.9" y2="527.5" stroke="#b01010" stroke-width="3.6"/><line x1="299.7" y1="511.8" x2="293.3" y2="519.6" stroke="#e6e6e6" stroke-width="1.44"/><line x1="293.3" y1="519.6" x2="286.9" y2="527.5" stroke="#f04040" stroke-width="1.44"/><line x1="323.4" y1="511.8" x2="327.8" y2="522.1" stroke="#8a8a8a" stroke-width="3.6"/><line x1="327.8" y1="522.1" x2="332.2" y2="532.5" stroke="#8a8a8a" stroke-width="3.6"/><line x1="323.4" y1="511.8" x2="327.8" y2="522.1" stroke="#e6e6e6" stroke-width="1.44"/><line x1="327.8" y1="522.1" x2="332.2" y2="532.5" stroke="#e6e6e6" stroke-width="1.44"/><line x1="291.8" y1="490.7" x2="280.0" y2="490.1" stroke="#1a1ab0" stroke-width="3.6"/><line x1="280.0" y1="490.1" x2="268.2" y2="489.5" stroke="#8a8a8a" stroke-width="3.6"/><line x1="291.8" y1="490.7" x2="280.0" y2="490.1" stroke="#5a5aff" stroke-width="1.44"/><line x1="280.0" y1="490.1" x2="268.2" y2="489.5" stroke="#e6e6e6" stroke-width="1.44"/><line x1="268.2" y1="489.5" x2="260.8" y2="482.4" stroke="#8a8a8a" stroke-width="3.6"/><line x1="260.8" y1="482.4" x2="253.4" y2="475.3" stroke="#8a8a8a" stroke-width="3.6"/><line x1="268.2" y1="489.5" x2="260.8" y2="482.4" stroke="#e6e6e6" stroke-width="1.44"/><line x1="260.8" y1="482.4" x2="253.4" y2="475.3" stroke="#e6e6e6" stroke-width="1.44"/><line x1="253.4" y1="475.3" x2="242.1" y2="474.6" stroke="#8a8a8a" stroke-width="3.6"/><line x1="242.1" y1="474.6" x2="230.8" y2="473.8" stroke="#8a8a8a" stroke-width="3.6"/><line x1="253.4" y1="475.3" x2="242.1" y2="474.6" stroke="#e6e6e6" stroke-width="1.44"/><line x1="242.1" y1="474.6" x2="230.8" y2="473.8" stroke="#e6e6e6" stroke-width="1.44"/><line x1="230.8" y1="473.8" x2="226.9" y2="480.0" stroke="#8a8a8a" stroke-width="3.6"/><line x1="226.9" y1="480.0" x2="222.9" y2="486.2" stroke="#8a8a8a" stroke-width="3.6"/><line x1="230.8" y1="473.8" x2="226.9" y2="480.0" stroke="#e6e6e6" stroke-width="1.44"/><line x1="226.9" y1="480.0" x2="222.9" y2="486.2" stroke="#e6e6e6" stroke-width="1.44"/><line x1="222.9" y1="486.2" x2="230.3" y2="493.4" stroke="#8a8a8a" stroke-width="3.6"/><line x1="230.3" y1="493.4" x2="237.7" y2="500.6" stroke="#8a8a8a" stroke-width="3.6"/><line x1="222.9" y1="486.2" x2="230.3" y2="493.4" stroke="#e6e6e6" stroke-width="1.44"/><line x1="230.3" y1="493.4" x2="237.7" y2="500.6" stroke="#e6e6e6" stroke-width="1.44"/><line x1="237.7" y1="500.6" x2="249.0" y2="501.3" stroke="#8a8a8a" stroke-width="3.6"/><line x1="249.0" y1="501.3" x2="260.3" y2="502.0" stroke="#8a8a8a" stroke-width="3.6"/><line x1="237.7" y1="500.6" x2="249.0" y2="501.3" stroke="#e6e6e6" stroke-width="1.44"/><line x1="249.0" y1="501.3" x2="260.3" y2="502.0" stroke="#e6e6e6" stroke-width="1.44"/><line x1="260.3" y1="502.0" x2="264.2" y2="495.8" stroke="#8a8a8a" stroke-width="3.6"/><line x1="264.2" y1="495.8" x2="268.2" y2="489.5" stroke="#8a8a8a" stroke-width="3.6"/><line x1="260.3" y1="502.0" x2="264.2" y2="495.8" stroke="#e6e6e6" stroke-width="1.44"/><line x1="264.2" y1="495.8" x2="268.2" y2="489.5" stroke="#e6e6e6" stroke-width="1.44"/><line x1="230.8" y1="473.8" x2="222.9" y2="466.2" stroke="#8a8a8a" stroke-width="3.6"/><line x1="222.9" y1="466.2" x2="215.0" y2="458.6" stroke="#8a8a8a" stroke-width="3.6"/><line x1="230.8" y1="473.8" x2="222.9" y2="466.2" stroke="#e6e6e6" stroke-width="1.44"/><line x1="222.9" y1="466.2" x2="215.0" y2="458.6" stroke="#e6e6e6" stroke-width="1.44"/><line x1="215.0" y1="458.6" x2="219.8" y2="452.4" stroke="#8a8a8a" stroke-width="3.6"/><line x1="219.8" y1="452.4" x2="224.5" y2="446.2" stroke="#b01010" stroke-width="3.6"/><line x1="215.0" y1="458.6" x2="219.8" y2="452.4" stroke="#e6e6e6" stroke-width="1.44"/><line x1="219.8" y1="452.4" x2="224.5" y2="446.2" stroke="#f04040" stroke-width="1.44"/><line x1="215.0" y1="458.6" x2="204.7" y2="459.6" stroke="#8a8a8a" stroke-width="3.6"/><line x1="204.7" y1="459.6" x2="194.3" y2="460.6" stroke="#b01010" stroke-width="3.6"/><line x1="215.0" y1="458.6" x2="204.7" y2="459.6" stroke="#e6e6e6" stroke-width="1.44"/><line x1="204.7" y1="459.6" x2="194.3" y2="460.6" stroke="#f04040" stroke-width="1.44"/><line x1="237.7" y1="500.6" x2="233.2" y2="506.7" stroke="#8a8a8a" stroke-width="3.6"/><line x1="233.2" y1="506.7" x2="228.8" y2="512.8" stroke="#8a8a8a" stroke-width="3.6"/><line x1="237.7" y1="500.6" x2="233.2" y2="506.7" stroke="#e6e6e6" stroke-width="1.44"/><line x1="233.2" y1="506.7" x2="228.8" y2="512.8" stroke="#e6e6e6" stroke-width="1.44"/><line x1="228.8" y1="512.8" x2="234.9" y2="520.6" stroke="#8a8a8a" stroke-width="3.6"/><line x1="234.9" y1="520.6" x2="241.0" y2="528.5" stroke="#b01010" stroke-width="3.6"/><line x1="228.8" y1="512.8" x2="234.9" y2="520.6" stroke="#e6e6e6" stroke-width="1.44"/><line x1="234.9" y1="520.6" x2="241.0" y2="528.5" stroke="#f04040" stroke-width="1.44"/><line x1="228.8" y1="512.8" x2="228.0" y2="510.3" stroke="#8a8a8a" stroke-width="3.6"/><line x1="228.0" y1="510.3" x2="227.2" y2="507.8" stroke="#b01010" stroke-width="3.6"/><line x1="228.8" y1="512.8" x2="228.0" y2="510.3" stroke="#e6e6e6" stroke-width="1.44"/><line x1="228.0" y1="510.3" x2="227.2" y2="507.8" stroke="#f04040" stroke-width="1.44"/><line x1="40.0" y1="566.7" x2="44.3" y2="576.7" stroke="#8a8a8a" stroke-width="3.6"/><line x1="44.3" y1="576.7" x2="48.6" y2="586.7" stroke="#8a8a8a" stroke-width="3.6"/><line x1="40.0" y1="566.7" x2="44.3" y2="576.7" stroke="#e6e6e6" stroke-width="1.44"/><line x1="44.3" y1="576.7" x2="48.6" y2="586.7" stroke="#e6e6e6" stroke-width="1.44"/><line x1="48.6" y1="586.7" x2="61.0" y2="587.2" stroke="#8a8a8a" stroke-width="3.6"/><line x1="61.0" y1="587.2" x2="73.3" y2="587.6" stroke="#8a8a8a" stroke-width="3.6"/><line x1="48.6" y1="586.7" x2="61.0" y2="587.2" stroke="#e6e6e6" stroke-width="1.44"/><line x1="61.0" y1="587.2" x2="73.3" y2="587.6" stroke="#e6e6e6" stroke-width="1.44"/><line x1="73.3" y1="587.6" x2="79.3" y2="579.5" stroke="#8a8a8a" stroke-width="3.6"/><line x1="79.3" y1="579.5" x2="85.3" y2="571.4" stroke="#b01010" stroke-width="3.6"/><line x1="73.3" y1="587.6" x2="79.3" y2="579.5" stroke="#e6e6e6" stroke-width="1.44"/><line x1="79.3" y1="579.5" x2="85.3" y2="571.4" stroke="#f04040" stroke-width="1.44"/><line x1="73.3" y1="587.6" x2="77.2" y2="598.5" stroke="#8a8a8a" stroke-width="3.6"/><line x1="77.2" y1="598.5" x2="81.0" y2="609.5" stroke="#1a1ab0" stroke-width="3.6"/><line x1="73.3" y1="587.6" x2="77.2" y2="598.5" stroke="#e6e6e6" stroke-width="1.44"/><line x1="77.2" y1="598.5" x2="81.0" y2="609.5" stroke="#5a5aff" stroke-width="1.44"/><line x1="48.6" y1="586.7" x2="41.9" y2="596.5" stroke="#8a8a8a" stroke-width="3.6"/><line x1="41.9" y1="596.5" x2="35.2" y2="606.3" stroke="#8a8a8a" stroke-width="3.6"/><line x1="48.6" y1="586.7" x2="41.9" y2="596.5" stroke="#e6e6e6" stroke-width="1.44"/><line x1="41.9" y1="596.5" x2="35.2" y2="606.3" stroke="#e6e6e6" stroke-width="1.44"/><line x1="35.2" y1="606.3" x2="39.3" y2="616.8" stroke="#8a8a8a" stroke-width="3.6"/><line x1="39.3" y1="616.8" x2="43.4" y2="627.2" stroke="#8a8a8a" stroke-width="3.6"/><line x1="35.2" y1="606.3" x2="39.3" y2="616.8" stroke="#e6e6e6" stroke-width="1.44"/><line x1="39.3" y1="616.8" x2="43.4" y2="627.2" stroke="#e6e6e6" stroke-width="1.44"/><line x1="43.4" y1="627.2" x2="55.5" y2="627.6" stroke="#8a8a8a" stroke-width="3.6"/><line x1="55.5" y1="627.6" x2="67.6" y2="628.0" stroke="#8a8a8a" stroke-width="3.6"/><line x1="43.4" y1="627.2" x2="55.5" y2="627.6" stroke="#e6e6e6" stroke-width="1.44"/><line x1="55.5" y1="627.6" x2="67.6" y2="628.0" stroke="#e6e6e6" stroke-width="1.44"/><line x1="67.6" y1="628.0" x2="74.3" y2="618.8" stroke="#8a8a8a" stroke-width="3.6"/><line x1="74.3" y1="618.8" x2="81.0" y2="609.5" stroke="#1a1ab0" stroke-width="3.6"/><line x1="67.6" y1="628.0" x2="74.3" y2="618.8" stroke="#e6e6e6" stroke-width="1.44"/><line x1="74.3" y1="618.8" x2="81.0" y2="609.5" stroke="#5a5aff" stroke-width="1.44"/><line x1="67.6" y1="628.0" x2="71.7" y2="637.1" stroke="#8a8a8a" stroke-width="3.6"/><line x1="71.7" y1="637.1" x2="75.8" y2="646.3" stroke="#b01010" stroke-width="3.6"/><line x1="67.6" y1="628.0" x2="71.7" y2="637.1" stroke="#e6e6e6" stroke-width="1.44"/><line x1="71.7" y1="637.1" x2="75.8" y2="646.3" stroke="#f04040" stroke-width="1.44"/><line x1="43.4" y1="627.2" x2="36.5" y2="636.8" stroke="#8a8a8a" stroke-width="3.6"/><line x1="36.5" y1="636.8" x2="29.5" y2="646.3" stroke="#8a8a8a" stroke-width="3.6"/><line x1="43.4" y1="627.2" x2="36.5" y2="636.8" stroke="#e6e6e6" stroke-width="1.44"/><line x1="36.5" y1="636.8" x2="29.5" y2="646.3" stroke="#e6e6e6" stroke-width="1.44"/><line x1="81.0" y1="609.5" x2="92.4" y2="610.0" stroke="#1a1ab0" stroke-width="3.6"/><line x1="92.4" y1="610.0" x2="103.8" y2="610.5" stroke="#8a8a8a" stroke-width="3.6"/><line x1="81.0" y1="609.5" x2="92.4" y2="610.0" stroke="#5a5aff" stroke-width="1.44"/><line x1="92.4" y1="610.0" x2="103.8" y2="610.5" stroke="#e6e6e6" stroke-width="1.44"/><line x1="103.8" y1="610.5" x2="108.1" y2="603.8" stroke="#8a8a8a" stroke-width="3.6"/><line x1="108.1" y1="603.8" x2="112.4" y2="597.1" stroke="#8a8a8a" stroke-width="3.6"/><line x1="103.8" y1="610.5" x2="108.1" y2="603.8" stroke="#e6e6e6" stroke-width="1.44"/><line x1="108.1" y1="603.8" x2="112.4" y2="597.1" stroke="#e6e6e6" stroke-width="1.44"/><line x1="112.4" y1="597.1" x2="123.8" y2="598.2" stroke="#8a8a8a" stroke-width="3.6"/><line x1="123.8" y1="598.2" x2="135.2" y2="599.4" stroke="#8a8a8a" stroke-width="3.6"/><line x1="112.4" y1="597.1" x2="123.8" y2="598.2" stroke="#e6e6e6" stroke-width="1.44"/><line x1="123.8" y1="598.2" x2="135.2" y2="599.4" stroke="#e6e6e6" stroke-width="1.44"/><line x1="135.2" y1="599.4" x2="142.8" y2="606.3" stroke="#8a8a8a" stroke-width="3.6"/><line x1="142.8" y1="606.3" x2="150.5" y2="613.3" stroke="#8a8a8a" stroke-width="3.6"/><line x1="135.2" y1="599.4" x2="142.8" y2="606.3" stroke="#e6e6e6" stroke-width="1.44"/><line x1="142.8" y1="606.3" x2="150.5" y2="613.3" stroke="#e6e6e6" stroke-width="1.44"/><line x1="150.5" y1="613.3" x2="146.2" y2="619.7" stroke="#8a8a8a" stroke-width="3.6"/><line x1="146.2" y1="619.7" x2="141.9" y2="626.1" stroke="#8a8a8a" stroke-width="3.6"/><line x1="150.5" y1="613.3" x2="146.2" y2="619.7" stroke="#e6e6e6" stroke-width="1.44"/><line x1="146.2" y1="619.7" x2="141.9" y2="626.1" stroke="#e6e6e6" stroke-width="1.44"/><line x1="141.9" y1="626.1" x2="130.0" y2="625.0" stroke="#8a8a8a" stroke-width="3.6"/><line x1="130.0" y1="625.0" x2="118.1" y2="623.8" stroke="#8a8a8a" stroke-width="3.6"/><line x1="141.9" y1="626.1" x2="130.0" y2="625.0" stroke="#e6e6e6" stroke-width="1.44"/><line x1="130.0" y1="625.0" x2="118.1" y2="623.8" stroke="#e6e6e6" stroke-width="1.44"/><line x1="118.1" y1="623.8" x2="110.9" y2="617.1" stroke="#8a8a8a" stroke-width="3.6"/><line x1="110.9" y1="617.1" x2="103.8" y2="610.5" stroke="#8a8a8a" stroke-width="3.6"/><line x1="118.1" y1="623.8" x2="110.9" y2="617.1" stroke="#e6e6e6" stroke-width="1.44"/><line x1="110.9" y1="617.1" x2="103.8" y2="610.5" stroke="#e6e6e6" stroke-width="1.44"/><line x1="135.2" y1="599.4" x2="140.0" y2="591.6" stroke="#8a8a8a" stroke-width="3.6"/><line x1="140.0" y1="591.6" x2="144.8" y2="583.8" stroke="#8a8a8a" stroke-width="3.6"/><line x1="135.2" y1="599.4" x2="140.0" y2="591.6" stroke="#e6e6e6" stroke-width="1.44"/><line x1="140.0" y1="591.6" x2="144.8" y2="583.8" stroke="#e6e6e6" stroke-width="1.44"/><line x1="144.8" y1="583.8" x2="138.1" y2="577.1" stroke="#8a8a8a" stroke-width="3.6"/><line x1="138.1" y1="577.1" x2="131.4" y2="570.5" stroke="#b01010" stroke-width="3.6"/><line x1="144.8" y1="583.8" x2="138.1" y2="577.1" stroke="#e6e6e6" stroke-width="1.44"/><line x1="138.1" y1="577.1" x2="131.4" y2="570.5" stroke="#f04040" stroke-width="1.44"/><line x1="144.8" y1="583.8" x2="154.3" y2="586.8" stroke="#8a8a8a" stroke-width="3.6"/><line x1="154.3" y1="586.8" x2="163.8" y2="589.9" stroke="#b01010" stroke-width="3.6"/><line x1="144.8" y1="583.8" x2="154.3" y2="586.8" stroke="#e6e6e6" stroke-width="1.44"/><line x1="154.3" y1="586.8" x2="163.8" y2="589.9" stroke="#f04040" stroke-width="1.44"/><line x1="141.9" y1="626.1" x2="149.5" y2="633.4" stroke="#8a8a8a" stroke-width="3.6"/><line x1="149.5" y1="633.4" x2="157.1" y2="640.6" stroke="#8a8a8a" stroke-width="3.6"/><line x1="141.9" y1="626.1" x2="149.5" y2="633.4" stroke="#e6e6e6" stroke-width="1.44"/><line x1="149.5" y1="633.4" x2="157.1" y2="640.6" stroke="#e6e6e6" stroke-width="1.44"/><line x1="157.1" y1="640.6" x2="167.1" y2="639.8" stroke="#8a8a8a" stroke-width="3.6"/><line x1="167.1" y1="639.8" x2="177.1" y2="639.0" stroke="#b01010" stroke-width="3.6"/><line x1="157.1" y1="640.6" x2="167.1" y2="639.8" stroke="#e6e6e6" stroke-width="1.44"/><line x1="167.1" y1="639.8" x2="177.1" y2="639.0" stroke="#f04040" stroke-width="1.44"/><line x1="157.1" y1="640.6" x2="152.6" y2="647.2" stroke="#8a8a8a" stroke-width="3.6"/><line x1="152.6" y1="647.2" x2="148.2" y2="653.9" stroke="#b01010" stroke-width="3.6"/><line x1="157.1" y1="640.6" x2="152.6" y2="647.2" stroke="#e6e6e6" stroke-width="1.44"/><line x1="152.6" y1="647.2" x2="148.2" y2="653.9" stroke="#f04040" stroke-width="1.44"/><line x1="342.8" y1="566.3" x2="335.6" y2="575.3" stroke="#8a8a8a" stroke-width="3.6"/><line x1="335.6" y1="575.3" x2="328.5" y2="584.3" stroke="#8a8a8a" stroke-width="3.6"/><line x1="342.8" y1="566.3" x2="335.6" y2="575.3" stroke="#e6e6e6" stroke-width="1.44"/><line x1="335.6" y1="575.3" x2="328.5" y2="584.3" stroke="#e6e6e6" stroke-width="1.44"/><line x1="328.5" y1="584.3" x2="316.4" y2="584.1" stroke="#8a8a8a" stroke-width="3.6"/><line x1="316.4" y1="584.1" x2="304.3" y2="583.9" stroke="#8a8a8a" stroke-width="3.6"/><line x1="328.5" y1="584.3" x2="316.4" y2="584.1" stroke="#e6e6e6" stroke-width="1.44"/><line x1="316.4" y1="584.1" x2="304.3" y2="583.9" stroke="#e6e6e6" stroke-width="1.44"/><line x1="304.3" y1="583.9" x2="300.4" y2="574.8" stroke="#8a8a8a" stroke-width="3.6"/><line x1="300.4" y1="574.8" x2="296.5" y2="565.8" stroke="#b01010" stroke-width="3.6"/><line x1="304.3" y1="583.9" x2="300.4" y2="574.8" stroke="#e6e6e6" stroke-width="1.44"/><line x1="300.4" y1="574.8" x2="296.5" y2="565.8" stroke="#f04040" stroke-width="1.44"/><line x1="304.3" y1="583.9" x2="297.6" y2="593.6" stroke="#8a8a8a" stroke-width="3.6"/><line x1="297.6" y1="593.6" x2="291.0" y2="603.3" stroke="#1a1ab0" stroke-width="3.6"/><line x1="304.3" y1="583.9" x2="297.6" y2="593.6" stroke="#e6e6e6" stroke-width="1.44"/><line x1="297.6" y1="593.6" x2="291.0" y2="603.3" stroke="#5a5aff" stroke-width="1.44"/><line x1="328.5" y1="584.3" x2="332.7" y2="594.9" stroke="#8a8a8a" stroke-width="3.6"/><line x1="332.7" y1="594.9" x2="336.9" y2="605.5" stroke="#8a8a8a" stroke-width="3.6"/><line x1="328.5" y1="584.3" x2="332.7" y2="594.9" stroke="#e6e6e6" stroke-width="1.44"/><line x1="332.7" y1="594.9" x2="336.9" y2="605.5" stroke="#e6e6e6" stroke-width="1.44"/><line x1="336.9" y1="605.5" x2="329.9" y2="615.4" stroke="#8a8a8a" stroke-width="3.6"/><line x1="329.9" y1="615.4" x2="323.0" y2="625.3" stroke="#8a8a8a" stroke-width="3.6"/><line x1="336.9" y1="605.5" x2="329.9" y2="615.4" stroke="#e6e6e6" stroke-width="1.44"/><line x1="329.9" y1="615.4" x2="323.0" y2="625.3" stroke="#e6e6e6" stroke-width="1.44"/><line x1="323.0" y1="625.3" x2="310.9" y2="624.5" stroke="#8a8a8a" stroke-width="3.6"/><line x1="310.9" y1="624.5" x2="298.7" y2="623.6" stroke="#8a8a8a" stroke-width="3.6"/><line x1="323.0" y1="625.3" x2="310.9" y2="624.5" stroke="#e6e6e6" stroke-width="1.44"/><line x1="310.9" y1="624.5" x2="298.7" y2="623.6" stroke="#e6e6e6" stroke-width="1.44"/><line x1="298.7" y1="623.6" x2="294.9" y2="613.5" stroke="#8a8a8a" stroke-width="3.6"/><line x1="294.9" y1="613.5" x2="291.0" y2="603.3" stroke="#1a1ab0" stroke-width="3.6"/><line x1="298.7" y1="623.6" x2="294.9" y2="613.5" stroke="#e6e6e6" stroke-width="1.44"/><line x1="294.9" y1="613.5" x2="291.0" y2="603.3" stroke="#5a5aff" stroke-width="1.44"/><line x1="298.7" y1="623.6" x2="292.6" y2="632.2" stroke="#8a8a8a" stroke-width="3.6"/><line x1="292.6" y1="632.2" x2="286.6" y2="640.8" stroke="#b01010" stroke-width="3.6"/><line x1="298.7" y1="623.6" x2="292.6" y2="632.2" stroke="#e6e6e6" stroke-width="1.44"/><line x1="292.6" y1="632.2" x2="286.6" y2="640.8" stroke="#f04040" stroke-width="1.44"/><line x1="323.0" y1="625.3" x2="327.4" y2="635.5" stroke="#8a8a8a" stroke-width="3.6"/><line x1="327.4" y1="635.5" x2="331.8" y2="645.6" stroke="#8a8a8a" stroke-width="3.6"/><line x1="323.0" y1="625.3" x2="327.4" y2="635.5" stroke="#e6e6e6" stroke-width="1.44"/><line x1="327.4" y1="635.5" x2="331.8" y2="645.6" stroke="#e6e6e6" stroke-width="1.44"/><line x1="291.0" y1="603.3" x2="279.4" y2="602.6" stroke="#1a1ab0" stroke-width="3.6"/><line x1="279.4" y1="602.6" x2="267.9" y2="602.0" stroke="#8a8a8a" stroke-width="3.6"/><line x1="291.0" y1="603.3" x2="279.4" y2="602.6" stroke="#5a5aff" stroke-width="1.44"/><line x1="279.4" y1="602.6" x2="267.9" y2="602.0" stroke="#e6e6e6" stroke-width="1.44"/><line x1="267.9" y1="602.0" x2="260.8" y2="595.1" stroke="#8a8a8a" stroke-width="3.6"/><line x1="260.8" y1="595.1" x2="253.6" y2="588.3" stroke="#8a8a8a" stroke-width="3.6"/><line x1="267.9" y1="602.0" x2="260.8" y2="595.1" stroke="#e6e6e6" stroke-width="1.44"/><line x1="260.8" y1="595.1" x2="253.6" y2="588.3" stroke="#e6e6e6" stroke-width="1.44"/><line x1="253.6" y1="588.3" x2="242.0" y2="587.2" stroke="#8a8a8a" stroke-width="3.6"/><line x1="242.0" y1="587.2" x2="230.4" y2="586.1" stroke="#8a8a8a" stroke-width="3.6"/><line x1="253.6" y1="588.3" x2="242.0" y2="587.2" stroke="#e6e6e6" stroke-width="1.44"/><line x1="242.0" y1="587.2" x2="230.4" y2="586.1" stroke="#e6e6e6" stroke-width="1.44"/><line x1="230.4" y1="586.1" x2="226.6" y2="592.5" stroke="#8a8a8a" stroke-width="3.6"/><line x1="226.6" y1="592.5" x2="222.7" y2="598.9" stroke="#8a8a8a" stroke-width="3.6"/><line x1="230.4" y1="586.1" x2="226.6" y2="592.5" stroke="#e6e6e6" stroke-width="1.44"/><line x1="226.6" y1="592.5" x2="222.7" y2="598.9" stroke="#e6e6e6" stroke-width="1.44"/><line x1="222.7" y1="598.9" x2="229.8" y2="606.0" stroke="#8a8a8a" stroke-width="3.6"/><line x1="229.8" y1="606.0" x2="237.0" y2="613.0" stroke="#8a8a8a" stroke-width="3.6"/><line x1="222.7" y1="598.9" x2="229.8" y2="606.0" stroke="#e6e6e6" stroke-width="1.44"/><line x1="229.8" y1="606.0" x2="237.0" y2="613.0" stroke="#e6e6e6" stroke-width="1.44"/><line x1="237.0" y1="613.0" x2="248.6" y2="613.9" stroke="#8a8a8a" stroke-width="3.6"/><line x1="248.6" y1="613.9" x2="260.2" y2="614.8" stroke="#8a8a8a" stroke-width="3.6"/><line x1="237.0" y1="613.0" x2="248.6" y2="613.9" stroke="#e6e6e6" stroke-width="1.44"/><line x1="248.6" y1="613.9" x2="260.2" y2="614.8" stroke="#e6e6e6" stroke-width="1.44"/><line x1="260.2" y1="614.8" x2="264.0" y2="608.4" stroke="#8a8a8a" stroke-width="3.6"/><line x1="264.0" y1="608.4" x2="267.9" y2="602.0" stroke="#8a8a8a" stroke-width="3.6"/><line x1="260.2" y1="614.8" x2="264.0" y2="608.4" stroke="#e6e6e6" stroke-width="1.44"/><line x1="264.0" y1="608.4" x2="267.9" y2="602.0" stroke="#e6e6e6" stroke-width="1.44"/><line x1="230.4" y1="586.1" x2="222.7" y2="579.0" stroke="#8a8a8a" stroke-width="3.6"/><line x1="222.7" y1="579.0" x2="215.0" y2="571.8" stroke="#8a8a8a" stroke-width="3.6"/><line x1="230.4" y1="586.1" x2="222.7" y2="579.0" stroke="#e6e6e6" stroke-width="1.44"/><line x1="222.7" y1="579.0" x2="215.0" y2="571.8" stroke="#e6e6e6" stroke-width="1.44"/><line x1="215.0" y1="571.8" x2="204.3" y2="572.5" stroke="#8a8a8a" stroke-width="3.6"/><line x1="204.3" y1="572.5" x2="193.6" y2="573.3" stroke="#b01010" stroke-width="3.6"/><line x1="215.0" y1="571.8" x2="204.3" y2="572.5" stroke="#e6e6e6" stroke-width="1.44"/><line x1="204.3" y1="572.5" x2="193.6" y2="573.3" stroke="#f04040" stroke-width="1.44"/><line x1="215.0" y1="571.8" x2="219.4" y2="565.5" stroke="#8a8a8a" stroke-width="3.6"/><line x1="219.4" y1="565.5" x2="223.8" y2="559.2" stroke="#b01010" stroke-width="3.6"/><line x1="215.0" y1="571.8" x2="219.4" y2="565.5" stroke="#e6e6e6" stroke-width="1.44"/><line x1="219.4" y1="565.5" x2="223.8" y2="559.2" stroke="#f04040" stroke-width="1.44"/><line x1="237.0" y1="613.0" x2="232.6" y2="620.0" stroke="#8a8a8a" stroke-width="3.6"/><line x1="232.6" y1="620.0" x2="228.2" y2="626.9" stroke="#8a8a8a" stroke-width="3.6"/><line x1="237.0" y1="613.0" x2="232.6" y2="620.0" stroke="#e6e6e6" stroke-width="1.44"/><line x1="232.6" y1="620.0" x2="228.2" y2="626.9" stroke="#e6e6e6" stroke-width="1.44"/><line x1="228.2" y1="626.9" x2="218.3" y2="624.3" stroke="#8a8a8a" stroke-width="3.6"/><line x1="218.3" y1="624.3" x2="208.4" y2="621.8" stroke="#b01010" stroke-width="3.6"/><line x1="228.2" y1="626.9" x2="218.3" y2="624.3" stroke="#e6e6e6" stroke-width="1.44"/><line x1="218.3" y1="624.3" x2="208.4" y2="621.8" stroke="#f04040" stroke-width="1.44"/><line x1="228.2" y1="626.9" x2="234.2" y2="633.8" stroke="#8a8a8a" stroke-width="3.6"/><line x1="234.2" y1="633.8" x2="240.3" y2="640.8" stroke="#b01010" stroke-width="3.6"/><line x1="228.2" y1="626.9" x2="234.2" y2="633.8" stroke="#e6e6e6" stroke-width="1.44"/><line x1="234.2" y1="633.8" x2="240.3" y2="640.8" stroke="#f04040" stroke-width="1.44"/><line x1="210.0" y1="533.6" x2="209.6" y2="521.4" stroke="#1f6a1f" stroke-width="3.6"/><line x1="209.6" y1="521.4" x2="209.1" y2="509.2" stroke="#b01010" stroke-width="3.6"/><line x1="210.0" y1="533.6" x2="209.6" y2="521.4" stroke="#5ab05a" stroke-width="1.44"/><line x1="209.6" y1="521.4" x2="209.1" y2="509.2" stroke="#f04040" stroke-width="1.44"/><line x1="210.0" y1="533.6" x2="218.6" y2="520.7" stroke="#1f6a1f" stroke-width="3.6"/><line x1="218.6" y1="520.7" x2="227.2" y2="507.8" stroke="#b01010" stroke-width="3.6"/><line x1="210.0" y1="533.6" x2="218.6" y2="520.7" stroke="#5ab05a" stroke-width="1.44"/><line x1="218.6" y1="520.7" x2="227.2" y2="507.8" stroke="#f04040" stroke-width="1.44"/><line x1="210.0" y1="533.6" x2="225.5" y2="531.0" stroke="#1f6a1f" stroke-width="3.6"/><line x1="225.5" y1="531.0" x2="241.0" y2="528.5" stroke="#b01010" stroke-width="3.6"/><line x1="210.0" y1="533.6" x2="225.5" y2="531.0" stroke="#5ab05a" stroke-width="1.44"/><line x1="225.5" y1="531.0" x2="241.0" y2="528.5" stroke="#f04040" stroke-width="1.44"/><line x1="210.0" y1="533.6" x2="193.7" y2="529.4" stroke="#1f6a1f" stroke-width="3.6"/><line x1="193.7" y1="529.4" x2="177.3" y2="525.2" stroke="#b01010" stroke-width="3.6"/><line x1="210.0" y1="533.6" x2="193.7" y2="529.4" stroke="#5ab05a" stroke-width="1.44"/><line x1="193.7" y1="529.4" x2="177.3" y2="525.2" stroke="#f04040" stroke-width="1.44"/><line x1="210.0" y1="533.6" x2="203.2" y2="546.1" stroke="#1f6a1f" stroke-width="3.6"/><line x1="203.2" y1="546.1" x2="196.3" y2="558.6" stroke="#b01010" stroke-width="3.6"/><line x1="210.0" y1="533.6" x2="203.2" y2="546.1" stroke="#5ab05a" stroke-width="1.44"/><line x1="203.2" y1="546.1" x2="196.3" y2="558.6" stroke="#f04040" stroke-width="1.44"/><line x1="210.0" y1="533.6" x2="216.9" y2="546.4" stroke="#1f6a1f" stroke-width="3.6"/><line x1="216.9" y1="546.4" x2="223.8" y2="559.2" stroke="#b01010" stroke-width="3.6"/><line x1="210.0" y1="533.6" x2="216.9" y2="546.4" stroke="#5ab05a" stroke-width="1.44"/><line x1="216.9" y1="546.4" x2="223.8" y2="559.2" stroke="#f04040" stroke-width="1.44"/><line x1="162.5" y1="565.0" x2="155.5" y2="553.0" stroke="#1f6a1f" stroke-width="3.6"/><line x1="155.5" y1="553.0" x2="148.5" y2="540.9" stroke="#b01010" stroke-width="3.6"/><line x1="162.5" y1="565.0" x2="155.5" y2="553.0" stroke="#5ab05a" stroke-width="1.44"/><line x1="155.5" y1="553.0" x2="148.5" y2="540.9" stroke="#f04040" stroke-width="1.44"/><line x1="162.5" y1="565.0" x2="169.4" y2="553.0" stroke="#1f6a1f" stroke-width="3.6"/><line x1="169.4" y1="553.0" x2="176.4" y2="540.9" stroke="#b01010" stroke-width="3.6"/><line x1="162.5" y1="565.0" x2="169.4" y2="553.0" stroke="#5ab05a" stroke-width="1.44"/><line x1="169.4" y1="553.0" x2="176.4" y2="540.9" stroke="#f04040" stroke-width="1.44"/><line x1="162.5" y1="565.0" x2="146.9" y2="567.8" stroke="#1f6a1f" stroke-width="3.6"/><line x1="146.9" y1="567.8" x2="131.4" y2="570.5" stroke="#b01010" stroke-width="3.6"/><line x1="162.5" y1="565.0" x2="146.9" y2="567.8" stroke="#5ab05a" stroke-width="1.44"/><line x1="146.9" y1="567.8" x2="131.4" y2="570.5" stroke="#f04040" stroke-width="1.44"/><line x1="162.5" y1="565.0" x2="178.1" y2="569.1" stroke="#1f6a1f" stroke-width="3.6"/><line x1="178.1" y1="569.1" x2="193.6" y2="573.3" stroke="#b01010" stroke-width="3.6"/><line x1="162.5" y1="565.0" x2="178.1" y2="569.1" stroke="#5ab05a" stroke-width="1.44"/><line x1="178.1" y1="569.1" x2="193.6" y2="573.3" stroke="#f04040" stroke-width="1.44"/><line x1="162.5" y1="565.0" x2="163.2" y2="577.5" stroke="#1f6a1f" stroke-width="3.6"/><line x1="163.2" y1="577.5" x2="163.8" y2="589.9" stroke="#b01010" stroke-width="3.6"/><line x1="162.5" y1="565.0" x2="163.2" y2="577.5" stroke="#5ab05a" stroke-width="1.44"/><line x1="163.2" y1="577.5" x2="163.8" y2="589.9" stroke="#f04040" stroke-width="1.44"/><line x1="162.5" y1="565.0" x2="153.7" y2="577.5" stroke="#1f6a1f" stroke-width="3.6"/><line x1="153.7" y1="577.5" x2="144.8" y2="589.9" stroke="#b01010" stroke-width="3.6"/><line x1="162.5" y1="565.0" x2="153.7" y2="577.5" stroke="#5ab05a" stroke-width="1.44"/><line x1="153.7" y1="577.5" x2="144.8" y2="589.9" stroke="#f04040" stroke-width="1.44"/><circle cx="41.0" cy="454.0" r="5.6" fill="url(#bC)"/><circle cx="48.6" cy="474.8" r="5.6" fill="url(#bC)"/><circle cx="73.8" cy="475.2" r="5.6" fill="url(#bC)"/><circle cx="86.0" cy="459.4" r="6.3" fill="url(#bO)"/><circle cx="81.4" cy="495.9" r="5.2" fill="url(#bN)"/><circle cx="36.0" cy="494.0" r="5.6" fill="url(#bC)"/><circle cx="44.0" cy="514.8" r="5.6" fill="url(#bC)"/><circle cx="68.4" cy="515.2" r="5.6" fill="url(#bC)"/><circle cx="76.5" cy="533.7" r="6.3" fill="url(#bO)"/><circle cx="30.2" cy="533.7" r="5.6" fill="url(#bC)"/><circle cx="104.4" cy="497.7" r="5.6" fill="url(#bC)"/><circle cx="112.5" cy="484.6" r="5.6" fill="url(#bC)"/><circle cx="135.9" cy="486.4" r="5.6" fill="url(#bC)"/><circle cx="151.2" cy="500.8" r="5.6" fill="url(#bC)"/><circle cx="142.2" cy="513.4" r="5.6" fill="url(#bC)"/><circle cx="118.8" cy="511.2" r="5.6" fill="url(#bC)"/><circle cx="144.0" cy="473.4" r="5.6" fill="url(#bC)"/><circle cx="132.3" cy="458.6" r="6.3" fill="url(#bO)"/><circle cx="163.8" cy="477.4" r="6.3" fill="url(#bO)"/><circle cx="157.5" cy="528.3" r="5.6" fill="url(#bC)"/><circle cx="177.3" cy="525.2" r="6.3" fill="url(#bO)"/><circle cx="148.5" cy="540.9" r="6.3" fill="url(#bO)"/><circle cx="343.5" cy="453.3" r="5.6" fill="url(#bC)"/><circle cx="329.3" cy="472.4" r="5.6" fill="url(#bC)"/><circle cx="305.6" cy="471.4" r="5.6" fill="url(#bC)"/><circle cx="296.8" cy="453.3" r="6.3" fill="url(#bO)"/><circle cx="291.8" cy="490.7" r="5.2" fill="url(#bN)"/><circle cx="338.1" cy="492.7" r="5.6" fill="url(#bC)"/><circle cx="323.4" cy="511.8" r="5.6" fill="url(#bC)"/><circle cx="299.7" cy="511.8" r="5.6" fill="url(#bC)"/><circle cx="286.9" cy="527.5" r="6.3" fill="url(#bO)"/><circle cx="332.2" cy="532.5" r="5.6" fill="url(#bC)"/><circle cx="268.2" cy="489.5" r="5.6" fill="url(#bC)"/><circle cx="253.4" cy="475.3" r="5.6" fill="url(#bC)"/><circle cx="230.8" cy="473.8" r="5.6" fill="url(#bC)"/><circle cx="222.9" cy="486.2" r="5.6" fill="url(#bC)"/><circle cx="237.7" cy="500.6" r="5.6" fill="url(#bC)"/><circle cx="260.3" cy="502.0" r="5.6" fill="url(#bC)"/><circle cx="215.0" cy="458.6" r="5.6" fill="url(#bC)"/><circle cx="224.5" cy="446.2" r="6.3" fill="url(#bO)"/><circle cx="194.3" cy="460.6" r="6.3" fill="url(#bO)"/><circle cx="228.8" cy="512.8" r="5.6" fill="url(#bC)"/><circle cx="241.0" cy="528.5" r="6.3" fill="url(#bO)"/><circle cx="227.2" cy="507.8" r="6.3" fill="url(#bO)"/><circle cx="40.0" cy="566.7" r="5.6" fill="url(#bC)"/><circle cx="48.6" cy="586.7" r="5.6" fill="url(#bC)"/><circle cx="73.3" cy="587.6" r="5.6" fill="url(#bC)"/><circle cx="85.3" cy="571.4" r="6.3" fill="url(#bO)"/><circle cx="81.0" cy="609.5" r="5.2" fill="url(#bN)"/><circle cx="35.2" cy="606.3" r="5.6" fill="url(#bC)"/><circle cx="43.4" cy="627.2" r="5.6" fill="url(#bC)"/><circle cx="67.6" cy="628.0" r="5.6" fill="url(#bC)"/><circle cx="75.8" cy="646.3" r="6.3" fill="url(#bO)"/><circle cx="29.5" cy="646.3" r="5.6" fill="url(#bC)"/><circle cx="103.8" cy="610.5" r="5.6" fill="url(#bC)"/><circle cx="112.4" cy="597.1" r="5.6" fill="url(#bC)"/><circle cx="135.2" cy="599.4" r="5.6" fill="url(#bC)"/><circle cx="150.5" cy="613.3" r="5.6" fill="url(#bC)"/><circle cx="141.9" cy="626.1" r="5.6" fill="url(#bC)"/><circle cx="118.1" cy="623.8" r="5.6" fill="url(#bC)"/><circle cx="144.8" cy="583.8" r="5.6" fill="url(#bC)"/><circle cx="131.4" cy="570.5" r="6.3" fill="url(#bO)"/><circle cx="163.8" cy="589.9" r="6.3" fill="url(#bO)"/><circle cx="157.1" cy="640.6" r="5.6" fill="url(#bC)"/><circle cx="177.1" cy="639.0" r="6.3" fill="url(#bO)"/><circle cx="148.2" cy="653.9" r="6.3" fill="url(#bO)"/><circle cx="342.8" cy="566.3" r="5.6" fill="url(#bC)"/><circle cx="328.5" cy="584.3" r="5.6" fill="url(#bC)"/><circle cx="304.3" cy="583.9" r="5.6" fill="url(#bC)"/><circle cx="296.5" cy="565.8" r="6.3" fill="url(#bO)"/><circle cx="291.0" cy="603.3" r="5.2" fill="url(#bN)"/><circle cx="336.9" cy="605.5" r="5.6" fill="url(#bC)"/><circle cx="323.0" cy="625.3" r="5.6" fill="url(#bC)"/><circle cx="298.7" cy="623.6" r="5.6" fill="url(#bC)"/><circle cx="286.6" cy="640.8" r="6.3" fill="url(#bO)"/><circle cx="331.8" cy="645.6" r="5.6" fill="url(#bC)"/><circle cx="267.9" cy="602.0" r="5.6" fill="url(#bC)"/><circle cx="253.6" cy="588.3" r="5.6" fill="url(#bC)"/><circle cx="230.4" cy="586.1" r="5.6" fill="url(#bC)"/><circle cx="222.7" cy="598.9" r="5.6" fill="url(#bC)"/><circle cx="237.0" cy="613.0" r="5.6" fill="url(#bC)"/><circle cx="260.2" cy="614.8" r="5.6" fill="url(#bC)"/><circle cx="215.0" cy="571.8" r="5.6" fill="url(#bC)"/><circle cx="193.6" cy="573.3" r="6.3" fill="url(#bO)"/><circle cx="223.8" cy="559.2" r="6.3" fill="url(#bO)"/><circle cx="228.2" cy="626.9" r="5.6" fill="url(#bC)"/><circle cx="208.4" cy="621.8" r="6.3" fill="url(#bO)"/><circle cx="240.3" cy="640.8" r="6.3" fill="url(#bO)"/><circle cx="210.0" cy="533.6" r="8.6" fill="url(#bF)"/><circle cx="162.5" cy="565.0" r="8.6" fill="url(#bF)"/><circle cx="209.1" cy="509.2" r="6.3" fill="url(#bO)"/><circle cx="196.3" cy="558.6" r="6.3" fill="url(#bO)"/><circle cx="176.4" cy="540.9" r="6.3" fill="url(#bO)"/><circle cx="144.8" cy="589.9" r="6.3" fill="url(#bO)"/><text x="3.0" y="456.3" font-size="21.5" font-weight="bold" fill="#111" text-anchor="start" stroke="#111" stroke-width="0.3" >(b)</text><polygon points="400.0,492.0 398.4,473.4 416.0,487.2" fill="#2e8f16" stroke="#2e8f16" stroke-width="0.6"/><polygon points="400.0,492.0 416.0,487.2 409.6,502.2" fill="#227a10" stroke="#227a10" stroke-width="0.6"/><polygon points="400.0,492.0 409.6,502.2 387.2,494.1" fill="#1a620b" stroke="#1a620b" stroke-width="0.6"/><polygon points="400.0,492.0 387.2,494.1 398.4,473.4" fill="#27840f" stroke="#27840f" stroke-width="0.6"/><polygon points="449.2,469.8 440.4,453.4 462.7,460.8" fill="#2e8f16" stroke="#2e8f16" stroke-width="0.6"/><polygon points="449.2,469.8 462.7,460.8 451.6,482.4" fill="#227a10" stroke="#227a10" stroke-width="0.6"/><polygon points="449.2,469.8 451.6,482.4 434.2,468.2" fill="#1a620b" stroke="#1a620b" stroke-width="0.6"/><polygon points="449.2,469.8 434.2,468.2 440.4,453.4" fill="#27840f" stroke="#27840f" stroke-width="0.6"/><polygon points="474.0,492.0 472.4,473.4 490.0,487.2" fill="#2e8f16" stroke="#2e8f16" stroke-width="0.6"/><polygon points="474.0,492.0 490.0,487.2 483.6,502.2" fill="#227a10" stroke="#227a10" stroke-width="0.6"/><polygon points="474.0,492.0 483.6,502.2 461.2,494.1" fill="#1a620b" stroke="#1a620b" stroke-width="0.6"/><polygon points="474.0,492.0 461.2,494.1 472.4,473.4" fill="#27840f" stroke="#27840f" stroke-width="0.6"/><polygon points="523.2,469.8 514.4,453.4 536.7,460.8" fill="#2e8f16" stroke="#2e8f16" stroke-width="0.6"/><polygon points="523.2,469.8 536.7,460.8 525.6,482.4" fill="#227a10" stroke="#227a10" stroke-width="0.6"/><polygon points="523.2,469.8 525.6,482.4 508.2,468.2" fill="#1a620b" stroke="#1a620b" stroke-width="0.6"/><polygon points="523.2,469.8 508.2,468.2 514.4,453.4" fill="#27840f" stroke="#27840f" stroke-width="0.6"/><polygon points="548.0,492.0 546.4,473.4 564.0,487.2" fill="#2e8f16" stroke="#2e8f16" stroke-width="0.6"/><polygon points="548.0,492.0 564.0,487.2 557.6,502.2" fill="#227a10" stroke="#227a10" stroke-width="0.6"/><polygon points="548.0,492.0 557.6,502.2 535.2,494.1" fill="#1a620b" stroke="#1a620b" stroke-width="0.6"/><polygon points="548.0,492.0 535.2,494.1 546.4,473.4" fill="#27840f" stroke="#27840f" stroke-width="0.6"/><polygon points="597.2,469.8 588.4,453.4 610.7,460.8" fill="#2e8f16" stroke="#2e8f16" stroke-width="0.6"/><polygon points="597.2,469.8 610.7,460.8 599.6,482.4" fill="#227a10" stroke="#227a10" stroke-width="0.6"/><polygon points="597.2,469.8 599.6,482.4 582.2,468.2" fill="#1a620b" stroke="#1a620b" stroke-width="0.6"/><polygon points="597.2,469.8 582.2,468.2 588.4,453.4" fill="#27840f" stroke="#27840f" stroke-width="0.6"/><polygon points="622.0,492.0 620.4,473.4 638.0,487.2" fill="#2e8f16" stroke="#2e8f16" stroke-width="0.6"/><polygon points="622.0,492.0 638.0,487.2 631.6,502.2" fill="#227a10" stroke="#227a10" stroke-width="0.6"/><polygon points="622.0,492.0 631.6,502.2 609.2,494.1" fill="#1a620b" stroke="#1a620b" stroke-width="0.6"/><polygon points="622.0,492.0 609.2,494.1 620.4,473.4" fill="#27840f" stroke="#27840f" stroke-width="0.6"/><polygon points="489.8,610.0 491.4,628.6 473.8,614.8" fill="#2e8f16" stroke="#2e8f16" stroke-width="0.6"/><polygon points="489.8,610.0 473.8,614.8 480.2,599.8" fill="#227a10" stroke="#227a10" stroke-width="0.6"/><polygon points="489.8,610.0 480.2,599.8 502.6,607.9" fill="#1a620b" stroke="#1a620b" stroke-width="0.6"/><polygon points="489.8,610.0 502.6,607.9 491.4,628.6" fill="#27840f" stroke="#27840f" stroke-width="0.6"/><polygon points="440.6,632.2 449.4,648.6 427.1,641.2" fill="#2e8f16" stroke="#2e8f16" stroke-width="0.6"/><polygon points="440.6,632.2 427.1,641.2 438.2,619.6" fill="#227a10" stroke="#227a10" stroke-width="0.6"/><polygon points="440.6,632.2 438.2,619.6 455.6,633.8" fill="#1a620b" stroke="#1a620b" stroke-width="0.6"/><polygon points="440.6,632.2 455.6,633.8 449.4,648.6" fill="#27840f" stroke="#27840f" stroke-width="0.6"/><polygon points="563.8,610.0 565.4,628.6 547.8,614.8" fill="#2e8f16" stroke="#2e8f16" stroke-width="0.6"/><polygon points="563.8,610.0 547.8,614.8 554.2,599.8" fill="#227a10" stroke="#227a10" stroke-width="0.6"/><polygon points="563.8,610.0 554.2,599.8 576.6,607.9" fill="#1a620b" stroke="#1a620b" stroke-width="0.6"/><polygon points="563.8,610.0 576.6,607.9 565.4,628.6" fill="#27840f" stroke="#27840f" stroke-width="0.6"/><polygon points="514.6,632.2 523.4,648.6 501.1,641.2" fill="#2e8f16" stroke="#2e8f16" stroke-width="0.6"/><polygon points="514.6,632.2 501.1,641.2 512.2,619.6" fill="#227a10" stroke="#227a10" stroke-width="0.6"/><polygon points="514.6,632.2 512.2,619.6 529.6,633.8" fill="#1a620b" stroke="#1a620b" stroke-width="0.6"/><polygon points="514.6,632.2 529.6,633.8 523.4,648.6" fill="#27840f" stroke="#27840f" stroke-width="0.6"/><polygon points="637.8,610.0 639.4,628.6 621.8,614.8" fill="#2e8f16" stroke="#2e8f16" stroke-width="0.6"/><polygon points="637.8,610.0 621.8,614.8 628.2,599.8" fill="#227a10" stroke="#227a10" stroke-width="0.6"/><polygon points="637.8,610.0 628.2,599.8 650.6,607.9" fill="#1a620b" stroke="#1a620b" stroke-width="0.6"/><polygon points="637.8,610.0 650.6,607.9 639.4,628.6" fill="#27840f" stroke="#27840f" stroke-width="0.6"/><polygon points="588.6,632.2 597.4,648.6 575.1,641.2" fill="#2e8f16" stroke="#2e8f16" stroke-width="0.6"/><polygon points="588.6,632.2 575.1,641.2 586.2,619.6" fill="#227a10" stroke="#227a10" stroke-width="0.6"/><polygon points="588.6,632.2 586.2,619.6 603.6,633.8" fill="#1a620b" stroke="#1a620b" stroke-width="0.6"/><polygon points="588.6,632.2 603.6,633.8 597.4,648.6" fill="#27840f" stroke="#27840f" stroke-width="0.6"/><polygon points="415.8,610.0 417.4,628.6 399.8,614.8" fill="#2e8f16" stroke="#2e8f16" stroke-width="0.6"/><polygon points="415.8,610.0 399.8,614.8 406.2,599.8" fill="#227a10" stroke="#227a10" stroke-width="0.6"/><polygon points="415.8,610.0 406.2,599.8 428.6,607.9" fill="#1a620b" stroke="#1a620b" stroke-width="0.6"/><polygon points="415.8,610.0 428.6,607.9 417.4,628.6" fill="#27840f" stroke="#27840f" stroke-width="0.6"/><line x1="397.0" y1="464.6" x2="392.8" y2="462.6" stroke="#8c8c8c" stroke-width="1.9"/><line x1="392.8" y1="462.6" x2="388.6" y2="460.5" stroke="#d03030" stroke-width="1.9"/><line x1="397.0" y1="464.6" x2="397.7" y2="469.0" stroke="#8c8c8c" stroke-width="1.9"/><line x1="397.7" y1="469.0" x2="398.4" y2="473.4" stroke="#d03030" stroke-width="1.9"/><line x1="416.8" y1="496.5" x2="416.4" y2="491.9" stroke="#8c8c8c" stroke-width="1.9"/><line x1="416.4" y1="491.9" x2="416.0" y2="487.2" stroke="#d03030" stroke-width="1.9"/><line x1="416.8" y1="496.5" x2="413.2" y2="499.4" stroke="#8c8c8c" stroke-width="1.9"/><line x1="413.2" y1="499.4" x2="409.6" y2="502.2" stroke="#d03030" stroke-width="1.9"/><line x1="412.0" y1="441.4" x2="416.5" y2="443.3" stroke="#8c8c8c" stroke-width="1.9"/><line x1="416.5" y1="443.3" x2="421.0" y2="445.2" stroke="#8c8c8c" stroke-width="1.9"/><line x1="421.0" y1="445.2" x2="421.9" y2="450.3" stroke="#8c8c8c" stroke-width="1.9"/><line x1="421.9" y1="450.3" x2="422.8" y2="455.4" stroke="#8c8c8c" stroke-width="1.9"/><line x1="422.8" y1="455.4" x2="418.9" y2="458.4" stroke="#8c8c8c" stroke-width="1.9"/><line x1="418.9" y1="458.4" x2="415.0" y2="461.4" stroke="#8c8c8c" stroke-width="1.9"/><line x1="415.0" y1="461.4" x2="410.2" y2="459.6" stroke="#8c8c8c" stroke-width="1.9"/><line x1="410.2" y1="459.6" x2="405.4" y2="457.8" stroke="#8c8c8c" stroke-width="1.9"/><line x1="405.4" y1="457.8" x2="404.5" y2="452.7" stroke="#8c8c8c" stroke-width="1.9"/><line x1="404.5" y1="452.7" x2="403.6" y2="447.6" stroke="#8c8c8c" stroke-width="1.9"/><line x1="403.6" y1="447.6" x2="407.8" y2="444.5" stroke="#8c8c8c" stroke-width="1.9"/><line x1="407.8" y1="444.5" x2="412.0" y2="441.4" stroke="#8c8c8c" stroke-width="1.9"/><line x1="427.0" y1="500.1" x2="431.1" y2="496.8" stroke="#8c8c8c" stroke-width="1.9"/><line x1="431.1" y1="496.8" x2="435.1" y2="493.4" stroke="#8c8c8c" stroke-width="1.9"/><line x1="435.1" y1="493.4" x2="439.8" y2="495.4" stroke="#8c8c8c" stroke-width="1.9"/><line x1="439.8" y1="495.4" x2="444.4" y2="497.4" stroke="#8c8c8c" stroke-width="1.9"/><line x1="444.4" y1="497.4" x2="445.3" y2="502.5" stroke="#8c8c8c" stroke-width="1.9"/><line x1="445.3" y1="502.5" x2="446.2" y2="507.6" stroke="#8c8c8c" stroke-width="1.9"/><line x1="446.2" y1="507.6" x2="442.0" y2="510.6" stroke="#8c8c8c" stroke-width="1.9"/><line x1="442.0" y1="510.6" x2="437.8" y2="513.6" stroke="#8c8c8c" stroke-width="1.9"/><line x1="437.8" y1="513.6" x2="433.3" y2="511.8" stroke="#8c8c8c" stroke-width="1.9"/><line x1="433.3" y1="511.8" x2="428.8" y2="510.0" stroke="#8c8c8c" stroke-width="1.9"/><line x1="428.8" y1="510.0" x2="427.9" y2="505.1" stroke="#8c8c8c" stroke-width="1.9"/><line x1="427.9" y1="505.1" x2="427.0" y2="500.1" stroke="#8c8c8c" stroke-width="1.9"/><line x1="405.4" y1="457.8" x2="401.2" y2="461.2" stroke="#8c8c8c" stroke-width="1.9"/><line x1="401.2" y1="461.2" x2="397.0" y2="464.6" stroke="#8c8c8c" stroke-width="1.9"/><line x1="422.8" y1="455.4" x2="427.9" y2="457.2" stroke="#8c8c8c" stroke-width="1.9"/><line x1="427.9" y1="457.2" x2="433.0" y2="459.0" stroke="#8c8c8c" stroke-width="1.9"/><line x1="433.0" y1="459.0" x2="436.7" y2="456.2" stroke="#8c8c8c" stroke-width="1.9"/><line x1="436.7" y1="456.2" x2="440.4" y2="453.4" stroke="#d03030" stroke-width="1.9"/><line x1="433.0" y1="459.0" x2="433.6" y2="463.6" stroke="#8c8c8c" stroke-width="1.9"/><line x1="433.6" y1="463.6" x2="434.2" y2="468.2" stroke="#d03030" stroke-width="1.9"/><line x1="427.0" y1="500.1" x2="421.9" y2="498.3" stroke="#8c8c8c" stroke-width="1.9"/><line x1="421.9" y1="498.3" x2="416.8" y2="496.5" stroke="#8c8c8c" stroke-width="1.9"/><line x1="444.4" y1="497.4" x2="448.8" y2="493.9" stroke="#8c8c8c" stroke-width="1.9"/><line x1="448.8" y1="493.9" x2="453.1" y2="490.5" stroke="#8c8c8c" stroke-width="1.9"/><line x1="453.1" y1="490.5" x2="452.4" y2="486.4" stroke="#8c8c8c" stroke-width="1.9"/><line x1="452.4" y1="486.4" x2="451.6" y2="482.4" stroke="#d03030" stroke-width="1.9"/><line x1="453.1" y1="490.5" x2="457.1" y2="492.4" stroke="#8c8c8c" stroke-width="1.9"/><line x1="457.1" y1="492.4" x2="461.2" y2="494.4" stroke="#d03030" stroke-width="1.9"/><line x1="471.0" y1="464.6" x2="466.8" y2="462.6" stroke="#8c8c8c" stroke-width="1.9"/><line x1="466.8" y1="462.6" x2="462.6" y2="460.5" stroke="#d03030" stroke-width="1.9"/><line x1="471.0" y1="464.6" x2="471.7" y2="469.0" stroke="#8c8c8c" stroke-width="1.9"/><line x1="471.7" y1="469.0" x2="472.4" y2="473.4" stroke="#d03030" stroke-width="1.9"/><line x1="490.8" y1="496.5" x2="490.4" y2="491.9" stroke="#8c8c8c" stroke-width="1.9"/><line x1="490.4" y1="491.9" x2="490.0" y2="487.2" stroke="#d03030" stroke-width="1.9"/><line x1="490.8" y1="496.5" x2="487.2" y2="499.4" stroke="#8c8c8c" stroke-width="1.9"/><line x1="487.2" y1="499.4" x2="483.6" y2="502.2" stroke="#d03030" stroke-width="1.9"/><line x1="486.0" y1="441.4" x2="490.5" y2="443.3" stroke="#8c8c8c" stroke-width="1.9"/><line x1="490.5" y1="443.3" x2="495.0" y2="445.2" stroke="#8c8c8c" stroke-width="1.9"/><line x1="495.0" y1="445.2" x2="495.9" y2="450.3" stroke="#8c8c8c" stroke-width="1.9"/><line x1="495.9" y1="450.3" x2="496.8" y2="455.4" stroke="#8c8c8c" stroke-width="1.9"/><line x1="496.8" y1="455.4" x2="492.9" y2="458.4" stroke="#8c8c8c" stroke-width="1.9"/><line x1="492.9" y1="458.4" x2="489.0" y2="461.4" stroke="#8c8c8c" stroke-width="1.9"/><line x1="489.0" y1="461.4" x2="484.2" y2="459.6" stroke="#8c8c8c" stroke-width="1.9"/><line x1="484.2" y1="459.6" x2="479.4" y2="457.8" stroke="#8c8c8c" stroke-width="1.9"/><line x1="479.4" y1="457.8" x2="478.5" y2="452.7" stroke="#8c8c8c" stroke-width="1.9"/><line x1="478.5" y1="452.7" x2="477.6" y2="447.6" stroke="#8c8c8c" stroke-width="1.9"/><line x1="477.6" y1="447.6" x2="481.8" y2="444.5" stroke="#8c8c8c" stroke-width="1.9"/><line x1="481.8" y1="444.5" x2="486.0" y2="441.4" stroke="#8c8c8c" stroke-width="1.9"/><line x1="501.0" y1="500.1" x2="505.1" y2="496.8" stroke="#8c8c8c" stroke-width="1.9"/><line x1="505.1" y1="496.8" x2="509.1" y2="493.4" stroke="#8c8c8c" stroke-width="1.9"/><line x1="509.1" y1="493.4" x2="513.8" y2="495.4" stroke="#8c8c8c" stroke-width="1.9"/><line x1="513.8" y1="495.4" x2="518.4" y2="497.4" stroke="#8c8c8c" stroke-width="1.9"/><line x1="518.4" y1="497.4" x2="519.3" y2="502.5" stroke="#8c8c8c" stroke-width="1.9"/><line x1="519.3" y1="502.5" x2="520.2" y2="507.6" stroke="#8c8c8c" stroke-width="1.9"/><line x1="520.2" y1="507.6" x2="516.0" y2="510.6" stroke="#8c8c8c" stroke-width="1.9"/><line x1="516.0" y1="510.6" x2="511.8" y2="513.6" stroke="#8c8c8c" stroke-width="1.9"/><line x1="511.8" y1="513.6" x2="507.3" y2="511.8" stroke="#8c8c8c" stroke-width="1.9"/><line x1="507.3" y1="511.8" x2="502.8" y2="510.0" stroke="#8c8c8c" stroke-width="1.9"/><line x1="502.8" y1="510.0" x2="501.9" y2="505.1" stroke="#8c8c8c" stroke-width="1.9"/><line x1="501.9" y1="505.1" x2="501.0" y2="500.1" stroke="#8c8c8c" stroke-width="1.9"/><line x1="479.4" y1="457.8" x2="475.2" y2="461.2" stroke="#8c8c8c" stroke-width="1.9"/><line x1="475.2" y1="461.2" x2="471.0" y2="464.6" stroke="#8c8c8c" stroke-width="1.9"/><line x1="496.8" y1="455.4" x2="501.9" y2="457.2" stroke="#8c8c8c" stroke-width="1.9"/><line x1="501.9" y1="457.2" x2="507.0" y2="459.0" stroke="#8c8c8c" stroke-width="1.9"/><line x1="507.0" y1="459.0" x2="510.7" y2="456.2" stroke="#8c8c8c" stroke-width="1.9"/><line x1="510.7" y1="456.2" x2="514.4" y2="453.4" stroke="#d03030" stroke-width="1.9"/><line x1="507.0" y1="459.0" x2="507.6" y2="463.6" stroke="#8c8c8c" stroke-width="1.9"/><line x1="507.6" y1="463.6" x2="508.2" y2="468.2" stroke="#d03030" stroke-width="1.9"/><line x1="501.0" y1="500.1" x2="495.9" y2="498.3" stroke="#8c8c8c" stroke-width="1.9"/><line x1="495.9" y1="498.3" x2="490.8" y2="496.5" stroke="#8c8c8c" stroke-width="1.9"/><line x1="518.4" y1="497.4" x2="522.8" y2="493.9" stroke="#8c8c8c" stroke-width="1.9"/><line x1="522.8" y1="493.9" x2="527.1" y2="490.5" stroke="#8c8c8c" stroke-width="1.9"/><line x1="527.1" y1="490.5" x2="526.4" y2="486.4" stroke="#8c8c8c" stroke-width="1.9"/><line x1="526.4" y1="486.4" x2="525.6" y2="482.4" stroke="#d03030" stroke-width="1.9"/><line x1="527.1" y1="490.5" x2="531.2" y2="492.4" stroke="#8c8c8c" stroke-width="1.9"/><line x1="531.2" y1="492.4" x2="535.2" y2="494.4" stroke="#d03030" stroke-width="1.9"/><line x1="545.0" y1="464.6" x2="540.8" y2="462.6" stroke="#8c8c8c" stroke-width="1.9"/><line x1="540.8" y1="462.6" x2="536.6" y2="460.5" stroke="#d03030" stroke-width="1.9"/><line x1="545.0" y1="464.6" x2="545.7" y2="469.0" stroke="#8c8c8c" stroke-width="1.9"/><line x1="545.7" y1="469.0" x2="546.4" y2="473.4" stroke="#d03030" stroke-width="1.9"/><line x1="564.8" y1="496.5" x2="564.4" y2="491.9" stroke="#8c8c8c" stroke-width="1.9"/><line x1="564.4" y1="491.9" x2="564.0" y2="487.2" stroke="#d03030" stroke-width="1.9"/><line x1="564.8" y1="496.5" x2="561.2" y2="499.4" stroke="#8c8c8c" stroke-width="1.9"/><line x1="561.2" y1="499.4" x2="557.6" y2="502.2" stroke="#d03030" stroke-width="1.9"/><line x1="560.0" y1="441.4" x2="564.5" y2="443.3" stroke="#8c8c8c" stroke-width="1.9"/><line x1="564.5" y1="443.3" x2="569.0" y2="445.2" stroke="#8c8c8c" stroke-width="1.9"/><line x1="569.0" y1="445.2" x2="569.9" y2="450.3" stroke="#8c8c8c" stroke-width="1.9"/><line x1="569.9" y1="450.3" x2="570.8" y2="455.4" stroke="#8c8c8c" stroke-width="1.9"/><line x1="570.8" y1="455.4" x2="566.9" y2="458.4" stroke="#8c8c8c" stroke-width="1.9"/><line x1="566.9" y1="458.4" x2="563.0" y2="461.4" stroke="#8c8c8c" stroke-width="1.9"/><line x1="563.0" y1="461.4" x2="558.2" y2="459.6" stroke="#8c8c8c" stroke-width="1.9"/><line x1="558.2" y1="459.6" x2="553.4" y2="457.8" stroke="#8c8c8c" stroke-width="1.9"/><line x1="553.4" y1="457.8" x2="552.5" y2="452.7" stroke="#8c8c8c" stroke-width="1.9"/><line x1="552.5" y1="452.7" x2="551.6" y2="447.6" stroke="#8c8c8c" stroke-width="1.9"/><line x1="551.6" y1="447.6" x2="555.8" y2="444.5" stroke="#8c8c8c" stroke-width="1.9"/><line x1="555.8" y1="444.5" x2="560.0" y2="441.4" stroke="#8c8c8c" stroke-width="1.9"/><line x1="575.0" y1="500.1" x2="579.0" y2="496.8" stroke="#8c8c8c" stroke-width="1.9"/><line x1="579.0" y1="496.8" x2="583.1" y2="493.4" stroke="#8c8c8c" stroke-width="1.9"/><line x1="583.1" y1="493.4" x2="587.8" y2="495.4" stroke="#8c8c8c" stroke-width="1.9"/><line x1="587.8" y1="495.4" x2="592.4" y2="497.4" stroke="#8c8c8c" stroke-width="1.9"/><line x1="592.4" y1="497.4" x2="593.3" y2="502.5" stroke="#8c8c8c" stroke-width="1.9"/><line x1="593.3" y1="502.5" x2="594.2" y2="507.6" stroke="#8c8c8c" stroke-width="1.9"/><line x1="594.2" y1="507.6" x2="590.0" y2="510.6" stroke="#8c8c8c" stroke-width="1.9"/><line x1="590.0" y1="510.6" x2="585.8" y2="513.6" stroke="#8c8c8c" stroke-width="1.9"/><line x1="585.8" y1="513.6" x2="581.3" y2="511.8" stroke="#8c8c8c" stroke-width="1.9"/><line x1="581.3" y1="511.8" x2="576.8" y2="510.0" stroke="#8c8c8c" stroke-width="1.9"/><line x1="576.8" y1="510.0" x2="575.9" y2="505.1" stroke="#8c8c8c" stroke-width="1.9"/><line x1="575.9" y1="505.1" x2="575.0" y2="500.1" stroke="#8c8c8c" stroke-width="1.9"/><line x1="553.4" y1="457.8" x2="549.2" y2="461.2" stroke="#8c8c8c" stroke-width="1.9"/><line x1="549.2" y1="461.2" x2="545.0" y2="464.6" stroke="#8c8c8c" stroke-width="1.9"/><line x1="570.8" y1="455.4" x2="575.9" y2="457.2" stroke="#8c8c8c" stroke-width="1.9"/><line x1="575.9" y1="457.2" x2="581.0" y2="459.0" stroke="#8c8c8c" stroke-width="1.9"/><line x1="581.0" y1="459.0" x2="584.7" y2="456.2" stroke="#8c8c8c" stroke-width="1.9"/><line x1="584.7" y1="456.2" x2="588.4" y2="453.4" stroke="#d03030" stroke-width="1.9"/><line x1="581.0" y1="459.0" x2="581.6" y2="463.6" stroke="#8c8c8c" stroke-width="1.9"/><line x1="581.6" y1="463.6" x2="582.2" y2="468.2" stroke="#d03030" stroke-width="1.9"/><line x1="575.0" y1="500.1" x2="569.9" y2="498.3" stroke="#8c8c8c" stroke-width="1.9"/><line x1="569.9" y1="498.3" x2="564.8" y2="496.5" stroke="#8c8c8c" stroke-width="1.9"/><line x1="592.4" y1="497.4" x2="596.8" y2="493.9" stroke="#8c8c8c" stroke-width="1.9"/><line x1="596.8" y1="493.9" x2="601.1" y2="490.5" stroke="#8c8c8c" stroke-width="1.9"/><line x1="601.1" y1="490.5" x2="600.4" y2="486.4" stroke="#8c8c8c" stroke-width="1.9"/><line x1="600.4" y1="486.4" x2="599.6" y2="482.4" stroke="#d03030" stroke-width="1.9"/><line x1="601.1" y1="490.5" x2="605.2" y2="492.4" stroke="#8c8c8c" stroke-width="1.9"/><line x1="605.2" y1="492.4" x2="609.2" y2="494.4" stroke="#d03030" stroke-width="1.9"/><line x1="619.0" y1="464.6" x2="614.8" y2="462.6" stroke="#8c8c8c" stroke-width="1.9"/><line x1="614.8" y1="462.6" x2="610.6" y2="460.5" stroke="#d03030" stroke-width="1.9"/><line x1="619.0" y1="464.6" x2="619.7" y2="469.0" stroke="#8c8c8c" stroke-width="1.9"/><line x1="619.7" y1="469.0" x2="620.4" y2="473.4" stroke="#d03030" stroke-width="1.9"/><line x1="638.8" y1="496.5" x2="638.4" y2="491.9" stroke="#8c8c8c" stroke-width="1.9"/><line x1="638.4" y1="491.9" x2="638.0" y2="487.2" stroke="#d03030" stroke-width="1.9"/><line x1="638.8" y1="496.5" x2="635.2" y2="499.4" stroke="#8c8c8c" stroke-width="1.9"/><line x1="635.2" y1="499.4" x2="631.6" y2="502.2" stroke="#d03030" stroke-width="1.9"/><line x1="492.8" y1="637.4" x2="497.0" y2="639.5" stroke="#8c8c8c" stroke-width="1.9"/><line x1="497.0" y1="639.5" x2="501.2" y2="641.5" stroke="#d03030" stroke-width="1.9"/><line x1="492.8" y1="637.4" x2="492.1" y2="633.0" stroke="#8c8c8c" stroke-width="1.9"/><line x1="492.1" y1="633.0" x2="491.4" y2="628.6" stroke="#d03030" stroke-width="1.9"/><line x1="473.0" y1="605.5" x2="473.4" y2="610.1" stroke="#8c8c8c" stroke-width="1.9"/><line x1="473.4" y1="610.1" x2="473.8" y2="614.8" stroke="#d03030" stroke-width="1.9"/><line x1="473.0" y1="605.5" x2="476.6" y2="602.6" stroke="#8c8c8c" stroke-width="1.9"/><line x1="476.6" y1="602.6" x2="480.2" y2="599.8" stroke="#d03030" stroke-width="1.9"/><line x1="477.8" y1="660.6" x2="473.3" y2="658.7" stroke="#8c8c8c" stroke-width="1.9"/><line x1="473.3" y1="658.7" x2="468.8" y2="656.8" stroke="#8c8c8c" stroke-width="1.9"/><line x1="468.8" y1="656.8" x2="467.9" y2="651.7" stroke="#8c8c8c" stroke-width="1.9"/><line x1="467.9" y1="651.7" x2="467.0" y2="646.6" stroke="#8c8c8c" stroke-width="1.9"/><line x1="467.0" y1="646.6" x2="470.9" y2="643.6" stroke="#8c8c8c" stroke-width="1.9"/><line x1="470.9" y1="643.6" x2="474.8" y2="640.6" stroke="#8c8c8c" stroke-width="1.9"/><line x1="474.8" y1="640.6" x2="479.6" y2="642.4" stroke="#8c8c8c" stroke-width="1.9"/><line x1="479.6" y1="642.4" x2="484.4" y2="644.2" stroke="#8c8c8c" stroke-width="1.9"/><line x1="484.4" y1="644.2" x2="485.3" y2="649.3" stroke="#8c8c8c" stroke-width="1.9"/><line x1="485.3" y1="649.3" x2="486.2" y2="654.4" stroke="#8c8c8c" stroke-width="1.9"/><line x1="486.2" y1="654.4" x2="482.0" y2="657.5" stroke="#8c8c8c" stroke-width="1.9"/><line x1="482.0" y1="657.5" x2="477.8" y2="660.6" stroke="#8c8c8c" stroke-width="1.9"/><line x1="462.8" y1="601.9" x2="458.7" y2="605.2" stroke="#8c8c8c" stroke-width="1.9"/><line x1="458.7" y1="605.2" x2="454.7" y2="608.6" stroke="#8c8c8c" stroke-width="1.9"/><line x1="454.7" y1="608.6" x2="450.0" y2="606.6" stroke="#8c8c8c" stroke-width="1.9"/><line x1="450.0" y1="606.6" x2="445.4" y2="604.6" stroke="#8c8c8c" stroke-width="1.9"/><line x1="445.4" y1="604.6" x2="444.5" y2="599.5" stroke="#8c8c8c" stroke-width="1.9"/><line x1="444.5" y1="599.5" x2="443.6" y2="594.4" stroke="#8c8c8c" stroke-width="1.9"/><line x1="443.6" y1="594.4" x2="447.8" y2="591.4" stroke="#8c8c8c" stroke-width="1.9"/><line x1="447.8" y1="591.4" x2="452.0" y2="588.4" stroke="#8c8c8c" stroke-width="1.9"/><line x1="452.0" y1="588.4" x2="456.5" y2="590.2" stroke="#8c8c8c" stroke-width="1.9"/><line x1="456.5" y1="590.2" x2="461.0" y2="592.0" stroke="#8c8c8c" stroke-width="1.9"/><line x1="461.0" y1="592.0" x2="461.9" y2="597.0" stroke="#8c8c8c" stroke-width="1.9"/><line x1="461.9" y1="597.0" x2="462.8" y2="601.9" stroke="#8c8c8c" stroke-width="1.9"/><line x1="484.4" y1="644.2" x2="488.6" y2="640.8" stroke="#8c8c8c" stroke-width="1.9"/><line x1="488.6" y1="640.8" x2="492.8" y2="637.4" stroke="#8c8c8c" stroke-width="1.9"/><line x1="467.0" y1="646.6" x2="461.9" y2="644.8" stroke="#8c8c8c" stroke-width="1.9"/><line x1="461.9" y1="644.8" x2="456.8" y2="643.0" stroke="#8c8c8c" stroke-width="1.9"/><line x1="456.8" y1="643.0" x2="453.1" y2="645.8" stroke="#8c8c8c" stroke-width="1.9"/><line x1="453.1" y1="645.8" x2="449.4" y2="648.6" stroke="#d03030" stroke-width="1.9"/><line x1="456.8" y1="643.0" x2="456.2" y2="638.4" stroke="#8c8c8c" stroke-width="1.9"/><line x1="456.2" y1="638.4" x2="455.6" y2="633.8" stroke="#d03030" stroke-width="1.9"/><line x1="462.8" y1="601.9" x2="467.9" y2="603.7" stroke="#8c8c8c" stroke-width="1.9"/><line x1="467.9" y1="603.7" x2="473.0" y2="605.5" stroke="#8c8c8c" stroke-width="1.9"/><line x1="445.4" y1="604.6" x2="441.0" y2="608.0" stroke="#8c8c8c" stroke-width="1.9"/><line x1="441.0" y1="608.0" x2="436.7" y2="611.5" stroke="#8c8c8c" stroke-width="1.9"/><line x1="436.7" y1="611.5" x2="437.4" y2="615.5" stroke="#8c8c8c" stroke-width="1.9"/><line x1="437.4" y1="615.5" x2="438.2" y2="619.6" stroke="#d03030" stroke-width="1.9"/><line x1="436.7" y1="611.5" x2="432.6" y2="609.5" stroke="#8c8c8c" stroke-width="1.9"/><line x1="432.6" y1="609.5" x2="428.6" y2="607.6" stroke="#d03030" stroke-width="1.9"/><line x1="566.8" y1="637.4" x2="571.0" y2="639.5" stroke="#8c8c8c" stroke-width="1.9"/><line x1="571.0" y1="639.5" x2="575.2" y2="641.5" stroke="#d03030" stroke-width="1.9"/><line x1="566.8" y1="637.4" x2="566.1" y2="633.0" stroke="#8c8c8c" stroke-width="1.9"/><line x1="566.1" y1="633.0" x2="565.4" y2="628.6" stroke="#d03030" stroke-width="1.9"/><line x1="547.0" y1="605.5" x2="547.4" y2="610.1" stroke="#8c8c8c" stroke-width="1.9"/><line x1="547.4" y1="610.1" x2="547.8" y2="614.8" stroke="#d03030" stroke-width="1.9"/><line x1="547.0" y1="605.5" x2="550.6" y2="602.6" stroke="#8c8c8c" stroke-width="1.9"/><line x1="550.6" y1="602.6" x2="554.2" y2="599.8" stroke="#d03030" stroke-width="1.9"/><line x1="551.8" y1="660.6" x2="547.3" y2="658.7" stroke="#8c8c8c" stroke-width="1.9"/><line x1="547.3" y1="658.7" x2="542.8" y2="656.8" stroke="#8c8c8c" stroke-width="1.9"/><line x1="542.8" y1="656.8" x2="541.9" y2="651.7" stroke="#8c8c8c" stroke-width="1.9"/><line x1="541.9" y1="651.7" x2="541.0" y2="646.6" stroke="#8c8c8c" stroke-width="1.9"/><line x1="541.0" y1="646.6" x2="544.9" y2="643.6" stroke="#8c8c8c" stroke-width="1.9"/><line x1="544.9" y1="643.6" x2="548.8" y2="640.6" stroke="#8c8c8c" stroke-width="1.9"/><line x1="548.8" y1="640.6" x2="553.6" y2="642.4" stroke="#8c8c8c" stroke-width="1.9"/><line x1="553.6" y1="642.4" x2="558.4" y2="644.2" stroke="#8c8c8c" stroke-width="1.9"/><line x1="558.4" y1="644.2" x2="559.3" y2="649.3" stroke="#8c8c8c" stroke-width="1.9"/><line x1="559.3" y1="649.3" x2="560.2" y2="654.4" stroke="#8c8c8c" stroke-width="1.9"/><line x1="560.2" y1="654.4" x2="556.0" y2="657.5" stroke="#8c8c8c" stroke-width="1.9"/><line x1="556.0" y1="657.5" x2="551.8" y2="660.6" stroke="#8c8c8c" stroke-width="1.9"/><line x1="536.8" y1="601.9" x2="532.8" y2="605.2" stroke="#8c8c8c" stroke-width="1.9"/><line x1="532.8" y1="605.2" x2="528.7" y2="608.6" stroke="#8c8c8c" stroke-width="1.9"/><line x1="528.7" y1="608.6" x2="524.0" y2="606.6" stroke="#8c8c8c" stroke-width="1.9"/><line x1="524.0" y1="606.6" x2="519.4" y2="604.6" stroke="#8c8c8c" stroke-width="1.9"/><line x1="519.4" y1="604.6" x2="518.5" y2="599.5" stroke="#8c8c8c" stroke-width="1.9"/><line x1="518.5" y1="599.5" x2="517.6" y2="594.4" stroke="#8c8c8c" stroke-width="1.9"/><line x1="517.6" y1="594.4" x2="521.8" y2="591.4" stroke="#8c8c8c" stroke-width="1.9"/><line x1="521.8" y1="591.4" x2="526.0" y2="588.4" stroke="#8c8c8c" stroke-width="1.9"/><line x1="526.0" y1="588.4" x2="530.5" y2="590.2" stroke="#8c8c8c" stroke-width="1.9"/><line x1="530.5" y1="590.2" x2="535.0" y2="592.0" stroke="#8c8c8c" stroke-width="1.9"/><line x1="535.0" y1="592.0" x2="535.9" y2="597.0" stroke="#8c8c8c" stroke-width="1.9"/><line x1="535.9" y1="597.0" x2="536.8" y2="601.9" stroke="#8c8c8c" stroke-width="1.9"/><line x1="558.4" y1="644.2" x2="562.6" y2="640.8" stroke="#8c8c8c" stroke-width="1.9"/><line x1="562.6" y1="640.8" x2="566.8" y2="637.4" stroke="#8c8c8c" stroke-width="1.9"/><line x1="541.0" y1="646.6" x2="535.9" y2="644.8" stroke="#8c8c8c" stroke-width="1.9"/><line x1="535.9" y1="644.8" x2="530.8" y2="643.0" stroke="#8c8c8c" stroke-width="1.9"/><line x1="530.8" y1="643.0" x2="527.1" y2="645.8" stroke="#8c8c8c" stroke-width="1.9"/><line x1="527.1" y1="645.8" x2="523.4" y2="648.6" stroke="#d03030" stroke-width="1.9"/><line x1="530.8" y1="643.0" x2="530.2" y2="638.4" stroke="#8c8c8c" stroke-width="1.9"/><line x1="530.2" y1="638.4" x2="529.6" y2="633.8" stroke="#d03030" stroke-width="1.9"/><line x1="536.8" y1="601.9" x2="541.9" y2="603.7" stroke="#8c8c8c" stroke-width="1.9"/><line x1="541.9" y1="603.7" x2="547.0" y2="605.5" stroke="#8c8c8c" stroke-width="1.9"/><line x1="519.4" y1="604.6" x2="515.0" y2="608.0" stroke="#8c8c8c" stroke-width="1.9"/><line x1="515.0" y1="608.0" x2="510.7" y2="611.5" stroke="#8c8c8c" stroke-width="1.9"/><line x1="510.7" y1="611.5" x2="511.4" y2="615.5" stroke="#8c8c8c" stroke-width="1.9"/><line x1="511.4" y1="615.5" x2="512.2" y2="619.6" stroke="#d03030" stroke-width="1.9"/><line x1="510.7" y1="611.5" x2="506.6" y2="609.5" stroke="#8c8c8c" stroke-width="1.9"/><line x1="506.6" y1="609.5" x2="502.6" y2="607.6" stroke="#d03030" stroke-width="1.9"/><line x1="640.8" y1="637.4" x2="645.0" y2="639.5" stroke="#8c8c8c" stroke-width="1.9"/><line x1="645.0" y1="639.5" x2="649.2" y2="641.5" stroke="#d03030" stroke-width="1.9"/><line x1="640.8" y1="637.4" x2="640.1" y2="633.0" stroke="#8c8c8c" stroke-width="1.9"/><line x1="640.1" y1="633.0" x2="639.4" y2="628.6" stroke="#d03030" stroke-width="1.9"/><line x1="621.0" y1="605.5" x2="621.4" y2="610.1" stroke="#8c8c8c" stroke-width="1.9"/><line x1="621.4" y1="610.1" x2="621.8" y2="614.8" stroke="#d03030" stroke-width="1.9"/><line x1="621.0" y1="605.5" x2="624.6" y2="602.6" stroke="#8c8c8c" stroke-width="1.9"/><line x1="624.6" y1="602.6" x2="628.2" y2="599.8" stroke="#d03030" stroke-width="1.9"/><line x1="625.8" y1="660.6" x2="621.3" y2="658.7" stroke="#8c8c8c" stroke-width="1.9"/><line x1="621.3" y1="658.7" x2="616.8" y2="656.8" stroke="#8c8c8c" stroke-width="1.9"/><line x1="616.8" y1="656.8" x2="615.9" y2="651.7" stroke="#8c8c8c" stroke-width="1.9"/><line x1="615.9" y1="651.7" x2="615.0" y2="646.6" stroke="#8c8c8c" stroke-width="1.9"/><line x1="615.0" y1="646.6" x2="618.9" y2="643.6" stroke="#8c8c8c" stroke-width="1.9"/><line x1="618.9" y1="643.6" x2="622.8" y2="640.6" stroke="#8c8c8c" stroke-width="1.9"/><line x1="622.8" y1="640.6" x2="627.6" y2="642.4" stroke="#8c8c8c" stroke-width="1.9"/><line x1="627.6" y1="642.4" x2="632.4" y2="644.2" stroke="#8c8c8c" stroke-width="1.9"/><line x1="632.4" y1="644.2" x2="633.3" y2="649.3" stroke="#8c8c8c" stroke-width="1.9"/><line x1="633.3" y1="649.3" x2="634.2" y2="654.4" stroke="#8c8c8c" stroke-width="1.9"/><line x1="634.2" y1="654.4" x2="630.0" y2="657.5" stroke="#8c8c8c" stroke-width="1.9"/><line x1="630.0" y1="657.5" x2="625.8" y2="660.6" stroke="#8c8c8c" stroke-width="1.9"/><line x1="610.8" y1="601.9" x2="606.8" y2="605.2" stroke="#8c8c8c" stroke-width="1.9"/><line x1="606.8" y1="605.2" x2="602.7" y2="608.6" stroke="#8c8c8c" stroke-width="1.9"/><line x1="602.7" y1="608.6" x2="598.0" y2="606.6" stroke="#8c8c8c" stroke-width="1.9"/><line x1="598.0" y1="606.6" x2="593.4" y2="604.6" stroke="#8c8c8c" stroke-width="1.9"/><line x1="593.4" y1="604.6" x2="592.5" y2="599.5" stroke="#8c8c8c" stroke-width="1.9"/><line x1="592.5" y1="599.5" x2="591.6" y2="594.4" stroke="#8c8c8c" stroke-width="1.9"/><line x1="591.6" y1="594.4" x2="595.8" y2="591.4" stroke="#8c8c8c" stroke-width="1.9"/><line x1="595.8" y1="591.4" x2="600.0" y2="588.4" stroke="#8c8c8c" stroke-width="1.9"/><line x1="600.0" y1="588.4" x2="604.5" y2="590.2" stroke="#8c8c8c" stroke-width="1.9"/><line x1="604.5" y1="590.2" x2="609.0" y2="592.0" stroke="#8c8c8c" stroke-width="1.9"/><line x1="609.0" y1="592.0" x2="609.9" y2="597.0" stroke="#8c8c8c" stroke-width="1.9"/><line x1="609.9" y1="597.0" x2="610.8" y2="601.9" stroke="#8c8c8c" stroke-width="1.9"/><line x1="632.4" y1="644.2" x2="636.6" y2="640.8" stroke="#8c8c8c" stroke-width="1.9"/><line x1="636.6" y1="640.8" x2="640.8" y2="637.4" stroke="#8c8c8c" stroke-width="1.9"/><line x1="615.0" y1="646.6" x2="609.9" y2="644.8" stroke="#8c8c8c" stroke-width="1.9"/><line x1="609.9" y1="644.8" x2="604.8" y2="643.0" stroke="#8c8c8c" stroke-width="1.9"/><line x1="604.8" y1="643.0" x2="601.1" y2="645.8" stroke="#8c8c8c" stroke-width="1.9"/><line x1="601.1" y1="645.8" x2="597.4" y2="648.6" stroke="#d03030" stroke-width="1.9"/><line x1="604.8" y1="643.0" x2="604.2" y2="638.4" stroke="#8c8c8c" stroke-width="1.9"/><line x1="604.2" y1="638.4" x2="603.6" y2="633.8" stroke="#d03030" stroke-width="1.9"/><line x1="610.8" y1="601.9" x2="615.9" y2="603.7" stroke="#8c8c8c" stroke-width="1.9"/><line x1="615.9" y1="603.7" x2="621.0" y2="605.5" stroke="#8c8c8c" stroke-width="1.9"/><line x1="593.4" y1="604.6" x2="589.0" y2="608.0" stroke="#8c8c8c" stroke-width="1.9"/><line x1="589.0" y1="608.0" x2="584.7" y2="611.5" stroke="#8c8c8c" stroke-width="1.9"/><line x1="584.7" y1="611.5" x2="585.4" y2="615.5" stroke="#8c8c8c" stroke-width="1.9"/><line x1="585.4" y1="615.5" x2="586.2" y2="619.6" stroke="#d03030" stroke-width="1.9"/><line x1="584.7" y1="611.5" x2="580.6" y2="609.5" stroke="#8c8c8c" stroke-width="1.9"/><line x1="580.6" y1="609.5" x2="576.6" y2="607.6" stroke="#d03030" stroke-width="1.9"/><line x1="418.8" y1="637.4" x2="423.0" y2="639.5" stroke="#8c8c8c" stroke-width="1.9"/><line x1="423.0" y1="639.5" x2="427.2" y2="641.5" stroke="#d03030" stroke-width="1.9"/><line x1="418.8" y1="637.4" x2="418.1" y2="633.0" stroke="#8c8c8c" stroke-width="1.9"/><line x1="418.1" y1="633.0" x2="417.4" y2="628.6" stroke="#d03030" stroke-width="1.9"/><line x1="399.0" y1="605.5" x2="399.4" y2="610.1" stroke="#8c8c8c" stroke-width="1.9"/><line x1="399.4" y1="610.1" x2="399.8" y2="614.8" stroke="#d03030" stroke-width="1.9"/><line x1="399.0" y1="605.5" x2="402.6" y2="602.6" stroke="#8c8c8c" stroke-width="1.9"/><line x1="402.6" y1="602.6" x2="406.2" y2="599.8" stroke="#d03030" stroke-width="1.9"/><line x1="440.0" y1="524.3" x2="438.6" y2="527.3" stroke="#3030d0" stroke-width="1.9"/><line x1="438.6" y1="527.3" x2="437.3" y2="530.4" stroke="#8c8c8c" stroke-width="1.9"/><line x1="440.0" y1="524.3" x2="442.6" y2="527.0" stroke="#3030d0" stroke-width="1.9"/><line x1="442.6" y1="527.0" x2="445.1" y2="529.6" stroke="#8c8c8c" stroke-width="1.9"/><line x1="432.5" y1="525.6" x2="434.9" y2="528.0" stroke="#d03030" stroke-width="1.9"/><line x1="434.9" y1="528.0" x2="437.3" y2="530.4" stroke="#8c8c8c" stroke-width="1.9"/><line x1="447.4" y1="522.9" x2="446.2" y2="526.2" stroke="#d03030" stroke-width="1.9"/><line x1="446.2" y1="526.2" x2="445.1" y2="529.6" stroke="#8c8c8c" stroke-width="1.9"/><line x1="437.3" y1="530.4" x2="438.2" y2="535.3" stroke="#8c8c8c" stroke-width="1.9"/><line x1="438.2" y1="535.3" x2="439.1" y2="540.2" stroke="#8c8c8c" stroke-width="1.9"/><line x1="445.1" y1="529.6" x2="446.1" y2="534.2" stroke="#8c8c8c" stroke-width="1.9"/><line x1="446.1" y1="534.2" x2="447.2" y2="538.7" stroke="#8c8c8c" stroke-width="1.9"/><line x1="439.1" y1="540.2" x2="437.5" y2="543.2" stroke="#8c8c8c" stroke-width="1.9"/><line x1="437.5" y1="543.2" x2="435.8" y2="546.2" stroke="#8c8c8c" stroke-width="1.9"/><line x1="439.1" y1="540.2" x2="441.6" y2="542.5" stroke="#8c8c8c" stroke-width="1.9"/><line x1="441.6" y1="542.5" x2="444.1" y2="544.7" stroke="#8c8c8c" stroke-width="1.9"/><line x1="447.2" y1="538.7" x2="445.6" y2="541.7" stroke="#8c8c8c" stroke-width="1.9"/><line x1="445.6" y1="541.7" x2="444.1" y2="544.7" stroke="#8c8c8c" stroke-width="1.9"/><line x1="447.2" y1="538.7" x2="449.8" y2="540.8" stroke="#8c8c8c" stroke-width="1.9"/><line x1="449.8" y1="540.8" x2="452.3" y2="542.9" stroke="#8c8c8c" stroke-width="1.9"/><line x1="435.8" y1="546.2" x2="436.9" y2="551.2" stroke="#8c8c8c" stroke-width="1.9"/><line x1="436.9" y1="551.2" x2="437.9" y2="556.1" stroke="#8c8c8c" stroke-width="1.9"/><line x1="444.1" y1="544.7" x2="445.1" y2="549.5" stroke="#8c8c8c" stroke-width="1.9"/><line x1="445.1" y1="549.5" x2="446.0" y2="554.3" stroke="#8c8c8c" stroke-width="1.9"/><line x1="452.3" y1="542.9" x2="453.4" y2="547.8" stroke="#8c8c8c" stroke-width="1.9"/><line x1="453.4" y1="547.8" x2="454.4" y2="552.8" stroke="#8c8c8c" stroke-width="1.9"/><line x1="437.9" y1="556.1" x2="440.4" y2="558.4" stroke="#8c8c8c" stroke-width="1.9"/><line x1="440.4" y1="558.4" x2="443.0" y2="560.6" stroke="#8c8c8c" stroke-width="1.9"/><line x1="446.0" y1="554.3" x2="444.5" y2="557.5" stroke="#8c8c8c" stroke-width="1.9"/><line x1="444.5" y1="557.5" x2="443.0" y2="560.6" stroke="#8c8c8c" stroke-width="1.9"/><line x1="446.0" y1="554.3" x2="448.6" y2="556.7" stroke="#8c8c8c" stroke-width="1.9"/><line x1="448.6" y1="556.7" x2="451.1" y2="559.1" stroke="#8c8c8c" stroke-width="1.9"/><line x1="454.4" y1="552.8" x2="452.8" y2="556.0" stroke="#8c8c8c" stroke-width="1.9"/><line x1="452.8" y1="556.0" x2="451.1" y2="559.1" stroke="#8c8c8c" stroke-width="1.9"/><line x1="443.0" y1="560.6" x2="443.9" y2="565.0" stroke="#8c8c8c" stroke-width="1.9"/><line x1="443.9" y1="565.0" x2="444.8" y2="569.3" stroke="#8c8c8c" stroke-width="1.9"/><line x1="451.1" y1="559.1" x2="452.0" y2="563.8" stroke="#8c8c8c" stroke-width="1.9"/><line x1="452.0" y1="563.8" x2="452.9" y2="568.4" stroke="#8c8c8c" stroke-width="1.9"/><line x1="444.8" y1="569.3" x2="443.2" y2="572.8" stroke="#8c8c8c" stroke-width="1.9"/><line x1="443.2" y1="572.8" x2="441.6" y2="576.2" stroke="#d03030" stroke-width="1.9"/><line x1="452.9" y1="568.4" x2="455.4" y2="570.8" stroke="#8c8c8c" stroke-width="1.9"/><line x1="455.4" y1="570.8" x2="457.9" y2="573.1" stroke="#d03030" stroke-width="1.9"/><line x1="444.8" y1="569.3" x2="447.6" y2="572.0" stroke="#8c8c8c" stroke-width="1.9"/><line x1="447.6" y1="572.0" x2="450.3" y2="574.6" stroke="#3030d0" stroke-width="1.9"/><line x1="452.9" y1="568.4" x2="451.6" y2="571.5" stroke="#8c8c8c" stroke-width="1.9"/><line x1="451.6" y1="571.5" x2="450.3" y2="574.6" stroke="#3030d0" stroke-width="1.9"/><line x1="437.8" y1="513.6" x2="438.9" y2="519.0" stroke="#8c8c8c" stroke-width="1.9"/><line x1="438.9" y1="519.0" x2="440.0" y2="524.3" stroke="#3030d0" stroke-width="1.9"/><line x1="450.3" y1="574.6" x2="451.1" y2="581.5" stroke="#3030d0" stroke-width="1.9"/><line x1="451.1" y1="581.5" x2="452.0" y2="588.4" stroke="#8c8c8c" stroke-width="1.9"/><line x1="514.0" y1="524.3" x2="512.6" y2="527.3" stroke="#3030d0" stroke-width="1.9"/><line x1="512.6" y1="527.3" x2="511.3" y2="530.4" stroke="#8c8c8c" stroke-width="1.9"/><line x1="514.0" y1="524.3" x2="516.5" y2="527.0" stroke="#3030d0" stroke-width="1.9"/><line x1="516.5" y1="527.0" x2="519.1" y2="529.6" stroke="#8c8c8c" stroke-width="1.9"/><line x1="506.5" y1="525.6" x2="508.9" y2="528.0" stroke="#d03030" stroke-width="1.9"/><line x1="508.9" y1="528.0" x2="511.3" y2="530.4" stroke="#8c8c8c" stroke-width="1.9"/><line x1="521.4" y1="522.9" x2="520.2" y2="526.2" stroke="#d03030" stroke-width="1.9"/><line x1="520.2" y1="526.2" x2="519.1" y2="529.6" stroke="#8c8c8c" stroke-width="1.9"/><line x1="511.3" y1="530.4" x2="512.2" y2="535.3" stroke="#8c8c8c" stroke-width="1.9"/><line x1="512.2" y1="535.3" x2="513.1" y2="540.2" stroke="#8c8c8c" stroke-width="1.9"/><line x1="519.1" y1="529.6" x2="520.2" y2="534.2" stroke="#8c8c8c" stroke-width="1.9"/><line x1="520.2" y1="534.2" x2="521.2" y2="538.7" stroke="#8c8c8c" stroke-width="1.9"/><line x1="513.1" y1="540.2" x2="511.5" y2="543.2" stroke="#8c8c8c" stroke-width="1.9"/><line x1="511.5" y1="543.2" x2="509.8" y2="546.2" stroke="#8c8c8c" stroke-width="1.9"/><line x1="513.1" y1="540.2" x2="515.6" y2="542.5" stroke="#8c8c8c" stroke-width="1.9"/><line x1="515.6" y1="542.5" x2="518.1" y2="544.7" stroke="#8c8c8c" stroke-width="1.9"/><line x1="521.2" y1="538.7" x2="519.7" y2="541.7" stroke="#8c8c8c" stroke-width="1.9"/><line x1="519.7" y1="541.7" x2="518.1" y2="544.7" stroke="#8c8c8c" stroke-width="1.9"/><line x1="521.2" y1="538.7" x2="523.8" y2="540.8" stroke="#8c8c8c" stroke-width="1.9"/><line x1="523.8" y1="540.8" x2="526.3" y2="542.9" stroke="#8c8c8c" stroke-width="1.9"/><line x1="509.8" y1="546.2" x2="510.9" y2="551.2" stroke="#8c8c8c" stroke-width="1.9"/><line x1="510.9" y1="551.2" x2="511.9" y2="556.1" stroke="#8c8c8c" stroke-width="1.9"/><line x1="518.1" y1="544.7" x2="519.0" y2="549.5" stroke="#8c8c8c" stroke-width="1.9"/><line x1="519.0" y1="549.5" x2="520.0" y2="554.3" stroke="#8c8c8c" stroke-width="1.9"/><line x1="526.3" y1="542.9" x2="527.3" y2="547.8" stroke="#8c8c8c" stroke-width="1.9"/><line x1="527.3" y1="547.8" x2="528.4" y2="552.8" stroke="#8c8c8c" stroke-width="1.9"/><line x1="511.9" y1="556.1" x2="514.5" y2="558.4" stroke="#8c8c8c" stroke-width="1.9"/><line x1="514.5" y1="558.4" x2="517.0" y2="560.6" stroke="#8c8c8c" stroke-width="1.9"/><line x1="520.0" y1="554.3" x2="518.5" y2="557.5" stroke="#8c8c8c" stroke-width="1.9"/><line x1="518.5" y1="557.5" x2="517.0" y2="560.6" stroke="#8c8c8c" stroke-width="1.9"/><line x1="520.0" y1="554.3" x2="522.5" y2="556.7" stroke="#8c8c8c" stroke-width="1.9"/><line x1="522.5" y1="556.7" x2="525.1" y2="559.1" stroke="#8c8c8c" stroke-width="1.9"/><line x1="528.4" y1="552.8" x2="526.8" y2="556.0" stroke="#8c8c8c" stroke-width="1.9"/><line x1="526.8" y1="556.0" x2="525.1" y2="559.1" stroke="#8c8c8c" stroke-width="1.9"/><line x1="517.0" y1="560.6" x2="517.9" y2="565.0" stroke="#8c8c8c" stroke-width="1.9"/><line x1="517.9" y1="565.0" x2="518.8" y2="569.3" stroke="#8c8c8c" stroke-width="1.9"/><line x1="525.1" y1="559.1" x2="526.0" y2="563.8" stroke="#8c8c8c" stroke-width="1.9"/><line x1="526.0" y1="563.8" x2="526.9" y2="568.4" stroke="#8c8c8c" stroke-width="1.9"/><line x1="518.8" y1="569.3" x2="517.2" y2="572.8" stroke="#8c8c8c" stroke-width="1.9"/><line x1="517.2" y1="572.8" x2="515.6" y2="576.2" stroke="#d03030" stroke-width="1.9"/><line x1="526.9" y1="568.4" x2="529.4" y2="570.8" stroke="#8c8c8c" stroke-width="1.9"/><line x1="529.4" y1="570.8" x2="531.9" y2="573.1" stroke="#d03030" stroke-width="1.9"/><line x1="518.8" y1="569.3" x2="521.5" y2="572.0" stroke="#8c8c8c" stroke-width="1.9"/><line x1="521.5" y1="572.0" x2="524.3" y2="574.6" stroke="#3030d0" stroke-width="1.9"/><line x1="526.9" y1="568.4" x2="525.6" y2="571.5" stroke="#8c8c8c" stroke-width="1.9"/><line x1="525.6" y1="571.5" x2="524.3" y2="574.6" stroke="#3030d0" stroke-width="1.9"/><line x1="511.8" y1="513.6" x2="512.9" y2="519.0" stroke="#8c8c8c" stroke-width="1.9"/><line x1="512.9" y1="519.0" x2="514.0" y2="524.3" stroke="#3030d0" stroke-width="1.9"/><line x1="524.3" y1="574.6" x2="525.1" y2="581.5" stroke="#3030d0" stroke-width="1.9"/><line x1="525.1" y1="581.5" x2="526.0" y2="588.4" stroke="#8c8c8c" stroke-width="1.9"/><line x1="588.0" y1="524.3" x2="586.6" y2="527.3" stroke="#3030d0" stroke-width="1.9"/><line x1="586.6" y1="527.3" x2="585.3" y2="530.4" stroke="#8c8c8c" stroke-width="1.9"/><line x1="588.0" y1="524.3" x2="590.5" y2="527.0" stroke="#3030d0" stroke-width="1.9"/><line x1="590.5" y1="527.0" x2="593.1" y2="529.6" stroke="#8c8c8c" stroke-width="1.9"/><line x1="580.5" y1="525.6" x2="582.9" y2="528.0" stroke="#d03030" stroke-width="1.9"/><line x1="582.9" y1="528.0" x2="585.3" y2="530.4" stroke="#8c8c8c" stroke-width="1.9"/><line x1="595.4" y1="522.9" x2="594.2" y2="526.2" stroke="#d03030" stroke-width="1.9"/><line x1="594.2" y1="526.2" x2="593.1" y2="529.6" stroke="#8c8c8c" stroke-width="1.9"/><line x1="585.3" y1="530.4" x2="586.2" y2="535.3" stroke="#8c8c8c" stroke-width="1.9"/><line x1="586.2" y1="535.3" x2="587.1" y2="540.2" stroke="#8c8c8c" stroke-width="1.9"/><line x1="593.1" y1="529.6" x2="594.2" y2="534.2" stroke="#8c8c8c" stroke-width="1.9"/><line x1="594.2" y1="534.2" x2="595.2" y2="538.7" stroke="#8c8c8c" stroke-width="1.9"/><line x1="587.1" y1="540.2" x2="585.5" y2="543.2" stroke="#8c8c8c" stroke-width="1.9"/><line x1="585.5" y1="543.2" x2="583.8" y2="546.2" stroke="#8c8c8c" stroke-width="1.9"/><line x1="587.1" y1="540.2" x2="589.6" y2="542.5" stroke="#8c8c8c" stroke-width="1.9"/><line x1="589.6" y1="542.5" x2="592.1" y2="544.7" stroke="#8c8c8c" stroke-width="1.9"/><line x1="595.2" y1="538.7" x2="593.7" y2="541.7" stroke="#8c8c8c" stroke-width="1.9"/><line x1="593.7" y1="541.7" x2="592.1" y2="544.7" stroke="#8c8c8c" stroke-width="1.9"/><line x1="595.2" y1="538.7" x2="597.8" y2="540.8" stroke="#8c8c8c" stroke-width="1.9"/><line x1="597.8" y1="540.8" x2="600.3" y2="542.9" stroke="#8c8c8c" stroke-width="1.9"/><line x1="583.8" y1="546.2" x2="584.8" y2="551.2" stroke="#8c8c8c" stroke-width="1.9"/><line x1="584.8" y1="551.2" x2="585.9" y2="556.1" stroke="#8c8c8c" stroke-width="1.9"/><line x1="592.1" y1="544.7" x2="593.0" y2="549.5" stroke="#8c8c8c" stroke-width="1.9"/><line x1="593.0" y1="549.5" x2="594.0" y2="554.3" stroke="#8c8c8c" stroke-width="1.9"/><line x1="600.3" y1="542.9" x2="601.3" y2="547.8" stroke="#8c8c8c" stroke-width="1.9"/><line x1="601.3" y1="547.8" x2="602.4" y2="552.8" stroke="#8c8c8c" stroke-width="1.9"/><line x1="585.9" y1="556.1" x2="588.5" y2="558.4" stroke="#8c8c8c" stroke-width="1.9"/><line x1="588.5" y1="558.4" x2="591.0" y2="560.6" stroke="#8c8c8c" stroke-width="1.9"/><line x1="594.0" y1="554.3" x2="592.5" y2="557.5" stroke="#8c8c8c" stroke-width="1.9"/><line x1="592.5" y1="557.5" x2="591.0" y2="560.6" stroke="#8c8c8c" stroke-width="1.9"/><line x1="594.0" y1="554.3" x2="596.5" y2="556.7" stroke="#8c8c8c" stroke-width="1.9"/><line x1="596.5" y1="556.7" x2="599.1" y2="559.1" stroke="#8c8c8c" stroke-width="1.9"/><line x1="602.4" y1="552.8" x2="600.8" y2="556.0" stroke="#8c8c8c" stroke-width="1.9"/><line x1="600.8" y1="556.0" x2="599.1" y2="559.1" stroke="#8c8c8c" stroke-width="1.9"/><line x1="591.0" y1="560.6" x2="591.9" y2="565.0" stroke="#8c8c8c" stroke-width="1.9"/><line x1="591.9" y1="565.0" x2="592.8" y2="569.3" stroke="#8c8c8c" stroke-width="1.9"/><line x1="599.1" y1="559.1" x2="600.0" y2="563.8" stroke="#8c8c8c" stroke-width="1.9"/><line x1="600.0" y1="563.8" x2="600.9" y2="568.4" stroke="#8c8c8c" stroke-width="1.9"/><line x1="592.8" y1="569.3" x2="591.2" y2="572.8" stroke="#8c8c8c" stroke-width="1.9"/><line x1="591.2" y1="572.8" x2="589.6" y2="576.2" stroke="#d03030" stroke-width="1.9"/><line x1="600.9" y1="568.4" x2="603.4" y2="570.8" stroke="#8c8c8c" stroke-width="1.9"/><line x1="603.4" y1="570.8" x2="605.9" y2="573.1" stroke="#d03030" stroke-width="1.9"/><line x1="592.8" y1="569.3" x2="595.5" y2="572.0" stroke="#8c8c8c" stroke-width="1.9"/><line x1="595.5" y1="572.0" x2="598.3" y2="574.6" stroke="#3030d0" stroke-width="1.9"/><line x1="600.9" y1="568.4" x2="599.6" y2="571.5" stroke="#8c8c8c" stroke-width="1.9"/><line x1="599.6" y1="571.5" x2="598.3" y2="574.6" stroke="#3030d0" stroke-width="1.9"/><line x1="585.8" y1="513.6" x2="586.9" y2="519.0" stroke="#8c8c8c" stroke-width="1.9"/><line x1="586.9" y1="519.0" x2="588.0" y2="524.3" stroke="#3030d0" stroke-width="1.9"/><line x1="598.3" y1="574.6" x2="599.1" y2="581.5" stroke="#3030d0" stroke-width="1.9"/><line x1="599.1" y1="581.5" x2="600.0" y2="588.4" stroke="#8c8c8c" stroke-width="1.9"/><circle cx="397.0" cy="464.6" r="2.0" fill="#a8a8a8" stroke="#383838" stroke-width="1.15"/><circle cx="388.6" cy="460.5" r="2.5" fill="url(#bO)" stroke="#6a0000" stroke-width="0.7"/><circle cx="398.4" cy="473.4" r="2.5" fill="url(#bO)" stroke="#6a0000" stroke-width="0.7"/><circle cx="416.0" cy="487.2" r="2.5" fill="url(#bO)" stroke="#6a0000" stroke-width="0.7"/><circle cx="409.6" cy="502.2" r="2.5" fill="url(#bO)" stroke="#6a0000" stroke-width="0.7"/><circle cx="387.2" cy="494.1" r="2.5" fill="url(#bO)" stroke="#6a0000" stroke-width="0.7"/><circle cx="400.0" cy="492.0" r="2.5" fill="url(#bO)" stroke="#6a0000" stroke-width="0.7"/><circle cx="416.8" cy="496.5" r="2.0" fill="#a8a8a8" stroke="#383838" stroke-width="1.15"/><circle cx="412.0" cy="441.4" r="2.0" fill="#a8a8a8" stroke="#383838" stroke-width="1.15"/><circle cx="421.0" cy="445.2" r="2.0" fill="#a8a8a8" stroke="#383838" stroke-width="1.15"/><circle cx="422.8" cy="455.4" r="2.0" fill="#a8a8a8" stroke="#383838" stroke-width="1.15"/><circle cx="415.0" cy="461.4" r="2.0" fill="#a8a8a8" stroke="#383838" stroke-width="1.15"/><circle cx="405.4" cy="457.8" r="2.0" fill="#a8a8a8" stroke="#383838" stroke-width="1.15"/><circle cx="403.6" cy="447.6" r="2.0" fill="#a8a8a8" stroke="#383838" stroke-width="1.15"/><circle cx="427.0" cy="500.1" r="2.0" fill="#a8a8a8" stroke="#383838" stroke-width="1.15"/><circle cx="435.1" cy="493.4" r="2.0" fill="#a8a8a8" stroke="#383838" stroke-width="1.15"/><circle cx="444.4" cy="497.4" r="2.0" fill="#a8a8a8" stroke="#383838" stroke-width="1.15"/><circle cx="446.2" cy="507.6" r="2.0" fill="#a8a8a8" stroke="#383838" stroke-width="1.15"/><circle cx="437.8" cy="513.6" r="2.0" fill="#a8a8a8" stroke="#383838" stroke-width="1.15"/><circle cx="428.8" cy="510.0" r="2.0" fill="#a8a8a8" stroke="#383838" stroke-width="1.15"/><circle cx="433.0" cy="459.0" r="2.0" fill="#a8a8a8" stroke="#383838" stroke-width="1.15"/><circle cx="440.4" cy="453.4" r="2.5" fill="url(#bO)" stroke="#6a0000" stroke-width="0.7"/><circle cx="434.2" cy="468.2" r="2.5" fill="url(#bO)" stroke="#6a0000" stroke-width="0.7"/><circle cx="462.7" cy="460.8" r="2.5" fill="url(#bO)" stroke="#6a0000" stroke-width="0.7"/><circle cx="451.6" cy="482.4" r="2.5" fill="url(#bO)" stroke="#6a0000" stroke-width="0.7"/><circle cx="449.2" cy="469.8" r="2.5" fill="url(#bO)" stroke="#6a0000" stroke-width="0.7"/><circle cx="453.1" cy="490.5" r="2.0" fill="#a8a8a8" stroke="#383838" stroke-width="1.15"/><circle cx="461.2" cy="494.4" r="2.5" fill="url(#bO)" stroke="#6a0000" stroke-width="0.7"/><circle cx="471.0" cy="464.6" r="2.0" fill="#a8a8a8" stroke="#383838" stroke-width="1.15"/><circle cx="462.6" cy="460.5" r="2.5" fill="url(#bO)" stroke="#6a0000" stroke-width="0.7"/><circle cx="472.4" cy="473.4" r="2.5" fill="url(#bO)" stroke="#6a0000" stroke-width="0.7"/><circle cx="490.0" cy="487.2" r="2.5" fill="url(#bO)" stroke="#6a0000" stroke-width="0.7"/><circle cx="483.6" cy="502.2" r="2.5" fill="url(#bO)" stroke="#6a0000" stroke-width="0.7"/><circle cx="461.2" cy="494.1" r="2.5" fill="url(#bO)" stroke="#6a0000" stroke-width="0.7"/><circle cx="474.0" cy="492.0" r="2.5" fill="url(#bO)" stroke="#6a0000" stroke-width="0.7"/><circle cx="490.8" cy="496.5" r="2.0" fill="#a8a8a8" stroke="#383838" stroke-width="1.15"/><circle cx="486.0" cy="441.4" r="2.0" fill="#a8a8a8" stroke="#383838" stroke-width="1.15"/><circle cx="495.0" cy="445.2" r="2.0" fill="#a8a8a8" stroke="#383838" stroke-width="1.15"/><circle cx="496.8" cy="455.4" r="2.0" fill="#a8a8a8" stroke="#383838" stroke-width="1.15"/><circle cx="489.0" cy="461.4" r="2.0" fill="#a8a8a8" stroke="#383838" stroke-width="1.15"/><circle cx="479.4" cy="457.8" r="2.0" fill="#a8a8a8" stroke="#383838" stroke-width="1.15"/><circle cx="477.6" cy="447.6" r="2.0" fill="#a8a8a8" stroke="#383838" stroke-width="1.15"/><circle cx="501.0" cy="500.1" r="2.0" fill="#a8a8a8" stroke="#383838" stroke-width="1.15"/><circle cx="509.1" cy="493.4" r="2.0" fill="#a8a8a8" stroke="#383838" stroke-width="1.15"/><circle cx="518.4" cy="497.4" r="2.0" fill="#a8a8a8" stroke="#383838" stroke-width="1.15"/><circle cx="520.2" cy="507.6" r="2.0" fill="#a8a8a8" stroke="#383838" stroke-width="1.15"/><circle cx="511.8" cy="513.6" r="2.0" fill="#a8a8a8" stroke="#383838" stroke-width="1.15"/><circle cx="502.8" cy="510.0" r="2.0" fill="#a8a8a8" stroke="#383838" stroke-width="1.15"/><circle cx="507.0" cy="459.0" r="2.0" fill="#a8a8a8" stroke="#383838" stroke-width="1.15"/><circle cx="514.4" cy="453.4" r="2.5" fill="url(#bO)" stroke="#6a0000" stroke-width="0.7"/><circle cx="508.2" cy="468.2" r="2.5" fill="url(#bO)" stroke="#6a0000" stroke-width="0.7"/><circle cx="536.7" cy="460.8" r="2.5" fill="url(#bO)" stroke="#6a0000" stroke-width="0.7"/><circle cx="525.6" cy="482.4" r="2.5" fill="url(#bO)" stroke="#6a0000" stroke-width="0.7"/><circle cx="523.2" cy="469.8" r="2.5" fill="url(#bO)" stroke="#6a0000" stroke-width="0.7"/><circle cx="527.1" cy="490.5" r="2.0" fill="#a8a8a8" stroke="#383838" stroke-width="1.15"/><circle cx="535.2" cy="494.4" r="2.5" fill="url(#bO)" stroke="#6a0000" stroke-width="0.7"/><circle cx="545.0" cy="464.6" r="2.0" fill="#a8a8a8" stroke="#383838" stroke-width="1.15"/><circle cx="536.6" cy="460.5" r="2.5" fill="url(#bO)" stroke="#6a0000" stroke-width="0.7"/><circle cx="546.4" cy="473.4" r="2.5" fill="url(#bO)" stroke="#6a0000" stroke-width="0.7"/><circle cx="564.0" cy="487.2" r="2.5" fill="url(#bO)" stroke="#6a0000" stroke-width="0.7"/><circle cx="557.6" cy="502.2" r="2.5" fill="url(#bO)" stroke="#6a0000" stroke-width="0.7"/><circle cx="535.2" cy="494.1" r="2.5" fill="url(#bO)" stroke="#6a0000" stroke-width="0.7"/><circle cx="548.0" cy="492.0" r="2.5" fill="url(#bO)" stroke="#6a0000" stroke-width="0.7"/><circle cx="564.8" cy="496.5" r="2.0" fill="#a8a8a8" stroke="#383838" stroke-width="1.15"/><circle cx="560.0" cy="441.4" r="2.0" fill="#a8a8a8" stroke="#383838" stroke-width="1.15"/><circle cx="569.0" cy="445.2" r="2.0" fill="#a8a8a8" stroke="#383838" stroke-width="1.15"/><circle cx="570.8" cy="455.4" r="2.0" fill="#a8a8a8" stroke="#383838" stroke-width="1.15"/><circle cx="563.0" cy="461.4" r="2.0" fill="#a8a8a8" stroke="#383838" stroke-width="1.15"/><circle cx="553.4" cy="457.8" r="2.0" fill="#a8a8a8" stroke="#383838" stroke-width="1.15"/><circle cx="551.6" cy="447.6" r="2.0" fill="#a8a8a8" stroke="#383838" stroke-width="1.15"/><circle cx="575.0" cy="500.1" r="2.0" fill="#a8a8a8" stroke="#383838" stroke-width="1.15"/><circle cx="583.1" cy="493.4" r="2.0" fill="#a8a8a8" stroke="#383838" stroke-width="1.15"/><circle cx="592.4" cy="497.4" r="2.0" fill="#a8a8a8" stroke="#383838" stroke-width="1.15"/><circle cx="594.2" cy="507.6" r="2.0" fill="#a8a8a8" stroke="#383838" stroke-width="1.15"/><circle cx="585.8" cy="513.6" r="2.0" fill="#a8a8a8" stroke="#383838" stroke-width="1.15"/><circle cx="576.8" cy="510.0" r="2.0" fill="#a8a8a8" stroke="#383838" stroke-width="1.15"/><circle cx="581.0" cy="459.0" r="2.0" fill="#a8a8a8" stroke="#383838" stroke-width="1.15"/><circle cx="588.4" cy="453.4" r="2.5" fill="url(#bO)" stroke="#6a0000" stroke-width="0.7"/><circle cx="582.2" cy="468.2" r="2.5" fill="url(#bO)" stroke="#6a0000" stroke-width="0.7"/><circle cx="610.7" cy="460.8" r="2.5" fill="url(#bO)" stroke="#6a0000" stroke-width="0.7"/><circle cx="599.6" cy="482.4" r="2.5" fill="url(#bO)" stroke="#6a0000" stroke-width="0.7"/><circle cx="597.2" cy="469.8" r="2.5" fill="url(#bO)" stroke="#6a0000" stroke-width="0.7"/><circle cx="601.1" cy="490.5" r="2.0" fill="#a8a8a8" stroke="#383838" stroke-width="1.15"/><circle cx="609.2" cy="494.4" r="2.5" fill="url(#bO)" stroke="#6a0000" stroke-width="0.7"/><circle cx="619.0" cy="464.6" r="2.0" fill="#a8a8a8" stroke="#383838" stroke-width="1.15"/><circle cx="610.6" cy="460.5" r="2.5" fill="url(#bO)" stroke="#6a0000" stroke-width="0.7"/><circle cx="620.4" cy="473.4" r="2.5" fill="url(#bO)" stroke="#6a0000" stroke-width="0.7"/><circle cx="638.0" cy="487.2" r="2.5" fill="url(#bO)" stroke="#6a0000" stroke-width="0.7"/><circle cx="631.6" cy="502.2" r="2.5" fill="url(#bO)" stroke="#6a0000" stroke-width="0.7"/><circle cx="609.2" cy="494.1" r="2.5" fill="url(#bO)" stroke="#6a0000" stroke-width="0.7"/><circle cx="622.0" cy="492.0" r="2.5" fill="url(#bO)" stroke="#6a0000" stroke-width="0.7"/><circle cx="638.8" cy="496.5" r="2.0" fill="#a8a8a8" stroke="#383838" stroke-width="1.15"/><circle cx="492.8" cy="637.4" r="2.0" fill="#a8a8a8" stroke="#383838" stroke-width="1.15"/><circle cx="501.2" cy="641.5" r="2.5" fill="url(#bO)" stroke="#6a0000" stroke-width="0.7"/><circle cx="491.4" cy="628.6" r="2.5" fill="url(#bO)" stroke="#6a0000" stroke-width="0.7"/><circle cx="473.8" cy="614.8" r="2.5" fill="url(#bO)" stroke="#6a0000" stroke-width="0.7"/><circle cx="480.2" cy="599.8" r="2.5" fill="url(#bO)" stroke="#6a0000" stroke-width="0.7"/><circle cx="502.6" cy="607.9" r="2.5" fill="url(#bO)" stroke="#6a0000" stroke-width="0.7"/><circle cx="489.8" cy="610.0" r="2.5" fill="url(#bO)" stroke="#6a0000" stroke-width="0.7"/><circle cx="473.0" cy="605.5" r="2.0" fill="#a8a8a8" stroke="#383838" stroke-width="1.15"/><circle cx="477.8" cy="660.6" r="2.0" fill="#a8a8a8" stroke="#383838" stroke-width="1.15"/><circle cx="468.8" cy="656.8" r="2.0" fill="#a8a8a8" stroke="#383838" stroke-width="1.15"/><circle cx="467.0" cy="646.6" r="2.0" fill="#a8a8a8" stroke="#383838" stroke-width="1.15"/><circle cx="474.8" cy="640.6" r="2.0" fill="#a8a8a8" stroke="#383838" stroke-width="1.15"/><circle cx="484.4" cy="644.2" r="2.0" fill="#a8a8a8" stroke="#383838" stroke-width="1.15"/><circle cx="486.2" cy="654.4" r="2.0" fill="#a8a8a8" stroke="#383838" stroke-width="1.15"/><circle cx="462.8" cy="601.9" r="2.0" fill="#a8a8a8" stroke="#383838" stroke-width="1.15"/><circle cx="454.7" cy="608.6" r="2.0" fill="#a8a8a8" stroke="#383838" stroke-width="1.15"/><circle cx="445.4" cy="604.6" r="2.0" fill="#a8a8a8" stroke="#383838" stroke-width="1.15"/><circle cx="443.6" cy="594.4" r="2.0" fill="#a8a8a8" stroke="#383838" stroke-width="1.15"/><circle cx="452.0" cy="588.4" r="2.0" fill="#a8a8a8" stroke="#383838" stroke-width="1.15"/><circle cx="461.0" cy="592.0" r="2.0" fill="#a8a8a8" stroke="#383838" stroke-width="1.15"/><circle cx="456.8" cy="643.0" r="2.0" fill="#a8a8a8" stroke="#383838" stroke-width="1.15"/><circle cx="449.4" cy="648.6" r="2.5" fill="url(#bO)" stroke="#6a0000" stroke-width="0.7"/><circle cx="455.6" cy="633.8" r="2.5" fill="url(#bO)" stroke="#6a0000" stroke-width="0.7"/><circle cx="427.1" cy="641.2" r="2.5" fill="url(#bO)" stroke="#6a0000" stroke-width="0.7"/><circle cx="438.2" cy="619.6" r="2.5" fill="url(#bO)" stroke="#6a0000" stroke-width="0.7"/><circle cx="440.6" cy="632.2" r="2.5" fill="url(#bO)" stroke="#6a0000" stroke-width="0.7"/><circle cx="436.7" cy="611.5" r="2.0" fill="#a8a8a8" stroke="#383838" stroke-width="1.15"/><circle cx="428.6" cy="607.6" r="2.5" fill="url(#bO)" stroke="#6a0000" stroke-width="0.7"/><circle cx="566.8" cy="637.4" r="2.0" fill="#a8a8a8" stroke="#383838" stroke-width="1.15"/><circle cx="575.2" cy="641.5" r="2.5" fill="url(#bO)" stroke="#6a0000" stroke-width="0.7"/><circle cx="565.4" cy="628.6" r="2.5" fill="url(#bO)" stroke="#6a0000" stroke-width="0.7"/><circle cx="547.8" cy="614.8" r="2.5" fill="url(#bO)" stroke="#6a0000" stroke-width="0.7"/><circle cx="554.2" cy="599.8" r="2.5" fill="url(#bO)" stroke="#6a0000" stroke-width="0.7"/><circle cx="576.6" cy="607.9" r="2.5" fill="url(#bO)" stroke="#6a0000" stroke-width="0.7"/><circle cx="563.8" cy="610.0" r="2.5" fill="url(#bO)" stroke="#6a0000" stroke-width="0.7"/><circle cx="547.0" cy="605.5" r="2.0" fill="#a8a8a8" stroke="#383838" stroke-width="1.15"/><circle cx="551.8" cy="660.6" r="2.0" fill="#a8a8a8" stroke="#383838" stroke-width="1.15"/><circle cx="542.8" cy="656.8" r="2.0" fill="#a8a8a8" stroke="#383838" stroke-width="1.15"/><circle cx="541.0" cy="646.6" r="2.0" fill="#a8a8a8" stroke="#383838" stroke-width="1.15"/><circle cx="548.8" cy="640.6" r="2.0" fill="#a8a8a8" stroke="#383838" stroke-width="1.15"/><circle cx="558.4" cy="644.2" r="2.0" fill="#a8a8a8" stroke="#383838" stroke-width="1.15"/><circle cx="560.2" cy="654.4" r="2.0" fill="#a8a8a8" stroke="#383838" stroke-width="1.15"/><circle cx="536.8" cy="601.9" r="2.0" fill="#a8a8a8" stroke="#383838" stroke-width="1.15"/><circle cx="528.7" cy="608.6" r="2.0" fill="#a8a8a8" stroke="#383838" stroke-width="1.15"/><circle cx="519.4" cy="604.6" r="2.0" fill="#a8a8a8" stroke="#383838" stroke-width="1.15"/><circle cx="517.6" cy="594.4" r="2.0" fill="#a8a8a8" stroke="#383838" stroke-width="1.15"/><circle cx="526.0" cy="588.4" r="2.0" fill="#a8a8a8" stroke="#383838" stroke-width="1.15"/><circle cx="535.0" cy="592.0" r="2.0" fill="#a8a8a8" stroke="#383838" stroke-width="1.15"/><circle cx="530.8" cy="643.0" r="2.0" fill="#a8a8a8" stroke="#383838" stroke-width="1.15"/><circle cx="523.4" cy="648.6" r="2.5" fill="url(#bO)" stroke="#6a0000" stroke-width="0.7"/><circle cx="529.6" cy="633.8" r="2.5" fill="url(#bO)" stroke="#6a0000" stroke-width="0.7"/><circle cx="501.1" cy="641.2" r="2.5" fill="url(#bO)" stroke="#6a0000" stroke-width="0.7"/><circle cx="512.2" cy="619.6" r="2.5" fill="url(#bO)" stroke="#6a0000" stroke-width="0.7"/><circle cx="514.6" cy="632.2" r="2.5" fill="url(#bO)" stroke="#6a0000" stroke-width="0.7"/><circle cx="510.7" cy="611.5" r="2.0" fill="#a8a8a8" stroke="#383838" stroke-width="1.15"/><circle cx="502.6" cy="607.6" r="2.5" fill="url(#bO)" stroke="#6a0000" stroke-width="0.7"/><circle cx="640.8" cy="637.4" r="2.0" fill="#a8a8a8" stroke="#383838" stroke-width="1.15"/><circle cx="649.2" cy="641.5" r="2.5" fill="url(#bO)" stroke="#6a0000" stroke-width="0.7"/><circle cx="639.4" cy="628.6" r="2.5" fill="url(#bO)" stroke="#6a0000" stroke-width="0.7"/><circle cx="621.8" cy="614.8" r="2.5" fill="url(#bO)" stroke="#6a0000" stroke-width="0.7"/><circle cx="628.2" cy="599.8" r="2.5" fill="url(#bO)" stroke="#6a0000" stroke-width="0.7"/><circle cx="650.6" cy="607.9" r="2.5" fill="url(#bO)" stroke="#6a0000" stroke-width="0.7"/><circle cx="637.8" cy="610.0" r="2.5" fill="url(#bO)" stroke="#6a0000" stroke-width="0.7"/><circle cx="621.0" cy="605.5" r="2.0" fill="#a8a8a8" stroke="#383838" stroke-width="1.15"/><circle cx="625.8" cy="660.6" r="2.0" fill="#a8a8a8" stroke="#383838" stroke-width="1.15"/><circle cx="616.8" cy="656.8" r="2.0" fill="#a8a8a8" stroke="#383838" stroke-width="1.15"/><circle cx="615.0" cy="646.6" r="2.0" fill="#a8a8a8" stroke="#383838" stroke-width="1.15"/><circle cx="622.8" cy="640.6" r="2.0" fill="#a8a8a8" stroke="#383838" stroke-width="1.15"/><circle cx="632.4" cy="644.2" r="2.0" fill="#a8a8a8" stroke="#383838" stroke-width="1.15"/><circle cx="634.2" cy="654.4" r="2.0" fill="#a8a8a8" stroke="#383838" stroke-width="1.15"/><circle cx="610.8" cy="601.9" r="2.0" fill="#a8a8a8" stroke="#383838" stroke-width="1.15"/><circle cx="602.7" cy="608.6" r="2.0" fill="#a8a8a8" stroke="#383838" stroke-width="1.15"/><circle cx="593.4" cy="604.6" r="2.0" fill="#a8a8a8" stroke="#383838" stroke-width="1.15"/><circle cx="591.6" cy="594.4" r="2.0" fill="#a8a8a8" stroke="#383838" stroke-width="1.15"/><circle cx="600.0" cy="588.4" r="2.0" fill="#a8a8a8" stroke="#383838" stroke-width="1.15"/><circle cx="609.0" cy="592.0" r="2.0" fill="#a8a8a8" stroke="#383838" stroke-width="1.15"/><circle cx="604.8" cy="643.0" r="2.0" fill="#a8a8a8" stroke="#383838" stroke-width="1.15"/><circle cx="597.4" cy="648.6" r="2.5" fill="url(#bO)" stroke="#6a0000" stroke-width="0.7"/><circle cx="603.6" cy="633.8" r="2.5" fill="url(#bO)" stroke="#6a0000" stroke-width="0.7"/><circle cx="575.1" cy="641.2" r="2.5" fill="url(#bO)" stroke="#6a0000" stroke-width="0.7"/><circle cx="586.2" cy="619.6" r="2.5" fill="url(#bO)" stroke="#6a0000" stroke-width="0.7"/><circle cx="588.6" cy="632.2" r="2.5" fill="url(#bO)" stroke="#6a0000" stroke-width="0.7"/><circle cx="584.7" cy="611.5" r="2.0" fill="#a8a8a8" stroke="#383838" stroke-width="1.15"/><circle cx="576.6" cy="607.6" r="2.5" fill="url(#bO)" stroke="#6a0000" stroke-width="0.7"/><circle cx="418.8" cy="637.4" r="2.0" fill="#a8a8a8" stroke="#383838" stroke-width="1.15"/><circle cx="427.2" cy="641.5" r="2.5" fill="url(#bO)" stroke="#6a0000" stroke-width="0.7"/><circle cx="417.4" cy="628.6" r="2.5" fill="url(#bO)" stroke="#6a0000" stroke-width="0.7"/><circle cx="399.8" cy="614.8" r="2.5" fill="url(#bO)" stroke="#6a0000" stroke-width="0.7"/><circle cx="406.2" cy="599.8" r="2.5" fill="url(#bO)" stroke="#6a0000" stroke-width="0.7"/><circle cx="428.6" cy="607.9" r="2.5" fill="url(#bO)" stroke="#6a0000" stroke-width="0.7"/><circle cx="415.8" cy="610.0" r="2.5" fill="url(#bO)" stroke="#6a0000" stroke-width="0.7"/><circle cx="399.0" cy="605.5" r="2.0" fill="#a8a8a8" stroke="#383838" stroke-width="1.15"/><circle cx="440.0" cy="524.3" r="2.8" fill="url(#bN)"/><circle cx="432.5" cy="525.6" r="2.5" fill="url(#bO)" stroke="#6a0000" stroke-width="0.7"/><circle cx="447.4" cy="522.9" r="2.5" fill="url(#bO)" stroke="#6a0000" stroke-width="0.7"/><circle cx="437.3" cy="530.4" r="2.0" fill="#a8a8a8" stroke="#383838" stroke-width="1.15"/><circle cx="445.1" cy="529.6" r="2.0" fill="#a8a8a8" stroke="#383838" stroke-width="1.15"/><circle cx="439.1" cy="540.2" r="2.0" fill="#a8a8a8" stroke="#383838" stroke-width="1.15"/><circle cx="447.2" cy="538.7" r="2.0" fill="#a8a8a8" stroke="#383838" stroke-width="1.15"/><circle cx="435.8" cy="546.2" r="2.0" fill="#a8a8a8" stroke="#383838" stroke-width="1.15"/><circle cx="444.1" cy="544.7" r="2.0" fill="#a8a8a8" stroke="#383838" stroke-width="1.15"/><circle cx="452.3" cy="542.9" r="2.0" fill="#a8a8a8" stroke="#383838" stroke-width="1.15"/><circle cx="437.9" cy="556.1" r="2.0" fill="#a8a8a8" stroke="#383838" stroke-width="1.15"/><circle cx="446.0" cy="554.3" r="2.0" fill="#a8a8a8" stroke="#383838" stroke-width="1.15"/><circle cx="454.4" cy="552.8" r="2.0" fill="#a8a8a8" stroke="#383838" stroke-width="1.15"/><circle cx="443.0" cy="560.6" r="2.0" fill="#a8a8a8" stroke="#383838" stroke-width="1.15"/><circle cx="451.1" cy="559.1" r="2.0" fill="#a8a8a8" stroke="#383838" stroke-width="1.15"/><circle cx="444.8" cy="569.3" r="2.0" fill="#a8a8a8" stroke="#383838" stroke-width="1.15"/><circle cx="452.9" cy="568.4" r="2.0" fill="#a8a8a8" stroke="#383838" stroke-width="1.15"/><circle cx="441.6" cy="576.2" r="2.5" fill="url(#bO)" stroke="#6a0000" stroke-width="0.7"/><circle cx="457.9" cy="573.1" r="2.5" fill="url(#bO)" stroke="#6a0000" stroke-width="0.7"/><circle cx="450.3" cy="574.6" r="2.8" fill="url(#bN)"/><circle cx="514.0" cy="524.3" r="2.8" fill="url(#bN)"/><circle cx="506.5" cy="525.6" r="2.5" fill="url(#bO)" stroke="#6a0000" stroke-width="0.7"/><circle cx="521.4" cy="522.9" r="2.5" fill="url(#bO)" stroke="#6a0000" stroke-width="0.7"/><circle cx="511.3" cy="530.4" r="2.0" fill="#a8a8a8" stroke="#383838" stroke-width="1.15"/><circle cx="519.1" cy="529.6" r="2.0" fill="#a8a8a8" stroke="#383838" stroke-width="1.15"/><circle cx="513.1" cy="540.2" r="2.0" fill="#a8a8a8" stroke="#383838" stroke-width="1.15"/><circle cx="521.2" cy="538.7" r="2.0" fill="#a8a8a8" stroke="#383838" stroke-width="1.15"/><circle cx="509.8" cy="546.2" r="2.0" fill="#a8a8a8" stroke="#383838" stroke-width="1.15"/><circle cx="518.1" cy="544.7" r="2.0" fill="#a8a8a8" stroke="#383838" stroke-width="1.15"/><circle cx="526.3" cy="542.9" r="2.0" fill="#a8a8a8" stroke="#383838" stroke-width="1.15"/><circle cx="511.9" cy="556.1" r="2.0" fill="#a8a8a8" stroke="#383838" stroke-width="1.15"/><circle cx="520.0" cy="554.3" r="2.0" fill="#a8a8a8" stroke="#383838" stroke-width="1.15"/><circle cx="528.4" cy="552.8" r="2.0" fill="#a8a8a8" stroke="#383838" stroke-width="1.15"/><circle cx="517.0" cy="560.6" r="2.0" fill="#a8a8a8" stroke="#383838" stroke-width="1.15"/><circle cx="525.1" cy="559.1" r="2.0" fill="#a8a8a8" stroke="#383838" stroke-width="1.15"/><circle cx="518.8" cy="569.3" r="2.0" fill="#a8a8a8" stroke="#383838" stroke-width="1.15"/><circle cx="526.9" cy="568.4" r="2.0" fill="#a8a8a8" stroke="#383838" stroke-width="1.15"/><circle cx="515.6" cy="576.2" r="2.5" fill="url(#bO)" stroke="#6a0000" stroke-width="0.7"/><circle cx="531.9" cy="573.1" r="2.5" fill="url(#bO)" stroke="#6a0000" stroke-width="0.7"/><circle cx="524.3" cy="574.6" r="2.8" fill="url(#bN)"/><circle cx="588.0" cy="524.3" r="2.8" fill="url(#bN)"/><circle cx="580.5" cy="525.6" r="2.5" fill="url(#bO)" stroke="#6a0000" stroke-width="0.7"/><circle cx="595.4" cy="522.9" r="2.5" fill="url(#bO)" stroke="#6a0000" stroke-width="0.7"/><circle cx="585.3" cy="530.4" r="2.0" fill="#a8a8a8" stroke="#383838" stroke-width="1.15"/><circle cx="593.1" cy="529.6" r="2.0" fill="#a8a8a8" stroke="#383838" stroke-width="1.15"/><circle cx="587.1" cy="540.2" r="2.0" fill="#a8a8a8" stroke="#383838" stroke-width="1.15"/><circle cx="595.2" cy="538.7" r="2.0" fill="#a8a8a8" stroke="#383838" stroke-width="1.15"/><circle cx="583.8" cy="546.2" r="2.0" fill="#a8a8a8" stroke="#383838" stroke-width="1.15"/><circle cx="592.1" cy="544.7" r="2.0" fill="#a8a8a8" stroke="#383838" stroke-width="1.15"/><circle cx="600.3" cy="542.9" r="2.0" fill="#a8a8a8" stroke="#383838" stroke-width="1.15"/><circle cx="585.9" cy="556.1" r="2.0" fill="#a8a8a8" stroke="#383838" stroke-width="1.15"/><circle cx="594.0" cy="554.3" r="2.0" fill="#a8a8a8" stroke="#383838" stroke-width="1.15"/><circle cx="602.4" cy="552.8" r="2.0" fill="#a8a8a8" stroke="#383838" stroke-width="1.15"/><circle cx="591.0" cy="560.6" r="2.0" fill="#a8a8a8" stroke="#383838" stroke-width="1.15"/><circle cx="599.1" cy="559.1" r="2.0" fill="#a8a8a8" stroke="#383838" stroke-width="1.15"/><circle cx="592.8" cy="569.3" r="2.0" fill="#a8a8a8" stroke="#383838" stroke-width="1.15"/><circle cx="600.9" cy="568.4" r="2.0" fill="#a8a8a8" stroke="#383838" stroke-width="1.15"/><circle cx="589.6" cy="576.2" r="2.5" fill="url(#bO)" stroke="#6a0000" stroke-width="0.7"/><circle cx="605.9" cy="573.1" r="2.5" fill="url(#bO)" stroke="#6a0000" stroke-width="0.7"/><circle cx="598.3" cy="574.6" r="2.8" fill="url(#bN)"/><text x="359.0" y="456.3" font-size="21.5" font-weight="bold" fill="#111" text-anchor="start" stroke="#111" stroke-width="0.3" >(c)</text><line x1="677.2" y1="486.7" x2="679.0" y2="486.7" stroke="#8c8c8c" stroke-width="1.9"/><line x1="679.0" y1="486.7" x2="680.8" y2="486.7" stroke="#8c8c8c" stroke-width="1.9"/><line x1="680.8" y1="486.7" x2="682.4" y2="486.5" stroke="#8c8c8c" stroke-width="1.9"/><line x1="682.4" y1="486.5" x2="684.0" y2="486.3" stroke="#8c8c8c" stroke-width="1.9"/><line x1="684.0" y1="486.3" x2="687.1" y2="486.3" stroke="#8c8c8c" stroke-width="1.9"/><line x1="687.1" y1="486.3" x2="690.2" y2="486.3" stroke="#d23030" stroke-width="1.9"/><line x1="690.2" y1="486.3" x2="694.2" y2="486.6" stroke="#d23030" stroke-width="1.9"/><line x1="694.2" y1="486.6" x2="698.1" y2="486.8" stroke="#d23030" stroke-width="1.9"/><line x1="698.1" y1="486.8" x2="701.7" y2="487.1" stroke="#d23030" stroke-width="1.9"/><line x1="701.7" y1="487.1" x2="705.2" y2="487.5" stroke="#2c8a2c" stroke-width="1.9"/><line x1="705.2" y1="487.5" x2="708.2" y2="485.3" stroke="#2c8a2c" stroke-width="1.9"/><line x1="708.2" y1="485.3" x2="711.3" y2="483.1" stroke="#d23030" stroke-width="1.9"/><line x1="711.3" y1="483.1" x2="719.2" y2="484.2" stroke="#d23030" stroke-width="1.9"/><line x1="719.2" y1="484.2" x2="727.0" y2="485.3" stroke="#2c8a2c" stroke-width="1.9"/><line x1="727.0" y1="485.3" x2="723.4" y2="487.6" stroke="#2c8a2c" stroke-width="1.9"/><line x1="723.4" y1="487.6" x2="719.8" y2="489.9" stroke="#d23030" stroke-width="1.9"/><line x1="719.8" y1="489.9" x2="712.5" y2="488.7" stroke="#d23030" stroke-width="1.9"/><line x1="712.5" y1="488.7" x2="705.2" y2="487.5" stroke="#2c8a2c" stroke-width="1.9"/><line x1="727.0" y1="485.3" x2="730.5" y2="486.3" stroke="#2c8a2c" stroke-width="1.9"/><line x1="730.5" y1="486.3" x2="734.0" y2="487.3" stroke="#d23030" stroke-width="1.9"/><line x1="734.0" y1="487.3" x2="737.6" y2="487.6" stroke="#d23030" stroke-width="1.9"/><line x1="737.6" y1="487.6" x2="741.2" y2="487.9" stroke="#d23030" stroke-width="1.9"/><line x1="741.2" y1="487.9" x2="744.8" y2="487.6" stroke="#d23030" stroke-width="1.9"/><line x1="744.8" y1="487.6" x2="748.4" y2="487.3" stroke="#8c8c8c" stroke-width="1.9"/><line x1="748.4" y1="487.3" x2="750.1" y2="487.2" stroke="#8c8c8c" stroke-width="1.9"/><line x1="750.1" y1="487.2" x2="751.7" y2="487.1" stroke="#8c8c8c" stroke-width="1.9"/><line x1="751.7" y1="487.1" x2="753.1" y2="487.2" stroke="#8c8c8c" stroke-width="1.9"/><line x1="753.1" y1="487.2" x2="754.4" y2="487.3" stroke="#8c8c8c" stroke-width="1.9"/><line x1="707.3" y1="470.5" x2="709.4" y2="467.4" stroke="#d23030" stroke-width="1.9"/><line x1="709.4" y1="467.4" x2="711.4" y2="464.3" stroke="#8c8c8c" stroke-width="1.9"/><line x1="711.4" y1="464.3" x2="711.4" y2="459.4" stroke="#8c8c8c" stroke-width="1.9"/><line x1="711.4" y1="459.4" x2="711.4" y2="454.5" stroke="#3030d0" stroke-width="1.9"/><line x1="711.4" y1="454.5" x2="708.3" y2="451.9" stroke="#3030d0" stroke-width="1.9"/><line x1="708.3" y1="451.9" x2="705.2" y2="449.3" stroke="#8c8c8c" stroke-width="1.9"/><line x1="711.4" y1="454.5" x2="714.0" y2="451.0" stroke="#3030d0" stroke-width="1.9"/><line x1="714.0" y1="451.0" x2="716.6" y2="447.5" stroke="#8c8c8c" stroke-width="1.9"/><line x1="711.4" y1="464.3" x2="713.7" y2="465.1" stroke="#8c8c8c" stroke-width="1.9"/><line x1="713.7" y1="465.1" x2="715.9" y2="465.8" stroke="#40c0c8" stroke-width="1.9"/><line x1="705.2" y1="449.3" x2="702.7" y2="450.0" stroke="#8c8c8c" stroke-width="1.9"/><line x1="702.7" y1="450.0" x2="700.2" y2="450.6" stroke="#40c0c8" stroke-width="1.9"/><line x1="705.2" y1="449.3" x2="703.2" y2="447.6" stroke="#8c8c8c" stroke-width="1.9"/><line x1="703.2" y1="447.6" x2="701.2" y2="446.0" stroke="#40c0c8" stroke-width="1.9"/><line x1="705.2" y1="449.3" x2="705.4" y2="446.7" stroke="#8c8c8c" stroke-width="1.9"/><line x1="705.4" y1="446.7" x2="705.7" y2="444.1" stroke="#40c0c8" stroke-width="1.9"/><line x1="716.6" y1="447.5" x2="715.8" y2="445.0" stroke="#8c8c8c" stroke-width="1.9"/><line x1="715.8" y1="445.0" x2="715.0" y2="442.6" stroke="#40c0c8" stroke-width="1.9"/><line x1="716.6" y1="447.5" x2="718.2" y2="445.4" stroke="#8c8c8c" stroke-width="1.9"/><line x1="718.2" y1="445.4" x2="719.7" y2="443.3" stroke="#40c0c8" stroke-width="1.9"/><line x1="716.6" y1="447.5" x2="719.2" y2="447.6" stroke="#8c8c8c" stroke-width="1.9"/><line x1="719.2" y1="447.6" x2="721.8" y2="447.6" stroke="#40c0c8" stroke-width="1.9"/><line x1="705.2" y1="487.5" x2="706.2" y2="479.0" stroke="#2c8a2c" stroke-width="1.9"/><line x1="706.2" y1="479.0" x2="707.3" y2="470.5" stroke="#d23030" stroke-width="1.9"/><line x1="724.9" y1="502.3" x2="722.9" y2="505.4" stroke="#d23030" stroke-width="1.9"/><line x1="722.9" y1="505.4" x2="720.8" y2="508.5" stroke="#8c8c8c" stroke-width="1.9"/><line x1="720.8" y1="508.5" x2="720.8" y2="513.4" stroke="#8c8c8c" stroke-width="1.9"/><line x1="720.8" y1="513.4" x2="720.8" y2="518.3" stroke="#3030d0" stroke-width="1.9"/><line x1="720.8" y1="518.3" x2="723.9" y2="520.9" stroke="#3030d0" stroke-width="1.9"/><line x1="723.9" y1="520.9" x2="727.0" y2="523.5" stroke="#8c8c8c" stroke-width="1.9"/><line x1="720.8" y1="518.3" x2="718.2" y2="521.8" stroke="#3030d0" stroke-width="1.9"/><line x1="718.2" y1="521.8" x2="715.6" y2="525.3" stroke="#8c8c8c" stroke-width="1.9"/><line x1="720.8" y1="508.5" x2="718.6" y2="509.2" stroke="#8c8c8c" stroke-width="1.9"/><line x1="718.6" y1="509.2" x2="716.3" y2="510.0" stroke="#40c0c8" stroke-width="1.9"/><line x1="727.0" y1="523.5" x2="729.5" y2="522.8" stroke="#8c8c8c" stroke-width="1.9"/><line x1="729.5" y1="522.8" x2="732.0" y2="522.2" stroke="#40c0c8" stroke-width="1.9"/><line x1="727.0" y1="523.5" x2="729.0" y2="525.2" stroke="#8c8c8c" stroke-width="1.9"/><line x1="729.0" y1="525.2" x2="731.0" y2="526.8" stroke="#40c0c8" stroke-width="1.9"/><line x1="727.0" y1="523.5" x2="726.8" y2="526.1" stroke="#8c8c8c" stroke-width="1.9"/><line x1="726.8" y1="526.1" x2="726.5" y2="528.7" stroke="#40c0c8" stroke-width="1.9"/><line x1="715.6" y1="525.3" x2="716.4" y2="527.8" stroke="#8c8c8c" stroke-width="1.9"/><line x1="716.4" y1="527.8" x2="717.2" y2="530.2" stroke="#40c0c8" stroke-width="1.9"/><line x1="715.6" y1="525.3" x2="714.0" y2="527.4" stroke="#8c8c8c" stroke-width="1.9"/><line x1="714.0" y1="527.4" x2="712.5" y2="529.5" stroke="#40c0c8" stroke-width="1.9"/><line x1="715.6" y1="525.3" x2="713.0" y2="525.2" stroke="#8c8c8c" stroke-width="1.9"/><line x1="713.0" y1="525.2" x2="710.4" y2="525.2" stroke="#40c0c8" stroke-width="1.9"/><line x1="727.0" y1="485.3" x2="726.0" y2="493.8" stroke="#2c8a2c" stroke-width="1.9"/><line x1="726.0" y1="493.8" x2="724.9" y2="502.3" stroke="#d23030" stroke-width="1.9"/><line x1="731.0" y1="468.5" x2="734.9" y2="467.4" stroke="#d23030" stroke-width="1.9"/><line x1="734.9" y1="467.4" x2="738.8" y2="466.4" stroke="#8c8c8c" stroke-width="1.9"/><line x1="738.8" y1="466.4" x2="741.2" y2="461.8" stroke="#8c8c8c" stroke-width="1.9"/><line x1="741.2" y1="461.8" x2="743.6" y2="457.1" stroke="#3030d0" stroke-width="1.9"/><line x1="743.6" y1="457.1" x2="741.2" y2="453.2" stroke="#3030d0" stroke-width="1.9"/><line x1="741.2" y1="453.2" x2="738.8" y2="449.3" stroke="#8c8c8c" stroke-width="1.9"/><line x1="743.6" y1="457.1" x2="748.4" y2="455.6" stroke="#3030d0" stroke-width="1.9"/><line x1="748.4" y1="455.6" x2="753.2" y2="454.1" stroke="#8c8c8c" stroke-width="1.9"/><line x1="738.8" y1="466.4" x2="741.1" y2="467.1" stroke="#8c8c8c" stroke-width="1.9"/><line x1="741.1" y1="467.1" x2="743.3" y2="467.9" stroke="#40c0c8" stroke-width="1.9"/><line x1="738.8" y1="449.3" x2="736.2" y2="449.1" stroke="#8c8c8c" stroke-width="1.9"/><line x1="736.2" y1="449.1" x2="733.6" y2="449.0" stroke="#40c0c8" stroke-width="1.9"/><line x1="738.8" y1="449.3" x2="737.4" y2="447.1" stroke="#8c8c8c" stroke-width="1.9"/><line x1="737.4" y1="447.1" x2="736.1" y2="444.9" stroke="#40c0c8" stroke-width="1.9"/><line x1="738.8" y1="449.3" x2="739.8" y2="446.9" stroke="#8c8c8c" stroke-width="1.9"/><line x1="739.8" y1="446.9" x2="740.9" y2="444.5" stroke="#40c0c8" stroke-width="1.9"/><line x1="753.2" y1="454.1" x2="754.0" y2="451.6" stroke="#8c8c8c" stroke-width="1.9"/><line x1="754.0" y1="451.6" x2="754.8" y2="449.1" stroke="#40c0c8" stroke-width="1.9"/><line x1="753.2" y1="454.1" x2="755.7" y2="453.3" stroke="#8c8c8c" stroke-width="1.9"/><line x1="755.7" y1="453.3" x2="758.2" y2="452.5" stroke="#40c0c8" stroke-width="1.9"/><line x1="753.2" y1="454.1" x2="755.3" y2="455.7" stroke="#8c8c8c" stroke-width="1.9"/><line x1="755.3" y1="455.7" x2="757.3" y2="457.3" stroke="#40c0c8" stroke-width="1.9"/><line x1="727.0" y1="485.3" x2="729.0" y2="476.9" stroke="#2c8a2c" stroke-width="1.9"/><line x1="729.0" y1="476.9" x2="731.0" y2="468.5" stroke="#d23030" stroke-width="1.9"/><line x1="701.2" y1="504.3" x2="697.3" y2="505.4" stroke="#d23030" stroke-width="1.9"/><line x1="697.3" y1="505.4" x2="693.4" y2="506.4" stroke="#8c8c8c" stroke-width="1.9"/><line x1="693.4" y1="506.4" x2="691.0" y2="511.1" stroke="#8c8c8c" stroke-width="1.9"/><line x1="691.0" y1="511.1" x2="688.6" y2="515.7" stroke="#3030d0" stroke-width="1.9"/><line x1="688.6" y1="515.7" x2="691.0" y2="519.6" stroke="#3030d0" stroke-width="1.9"/><line x1="691.0" y1="519.6" x2="693.4" y2="523.5" stroke="#8c8c8c" stroke-width="1.9"/><line x1="688.6" y1="515.7" x2="683.8" y2="517.2" stroke="#3030d0" stroke-width="1.9"/><line x1="683.8" y1="517.2" x2="679.0" y2="518.7" stroke="#8c8c8c" stroke-width="1.9"/><line x1="693.4" y1="506.4" x2="691.2" y2="507.1" stroke="#8c8c8c" stroke-width="1.9"/><line x1="691.2" y1="507.1" x2="688.9" y2="507.9" stroke="#40c0c8" stroke-width="1.9"/><line x1="693.4" y1="523.5" x2="696.0" y2="523.7" stroke="#8c8c8c" stroke-width="1.9"/><line x1="696.0" y1="523.7" x2="698.6" y2="523.8" stroke="#40c0c8" stroke-width="1.9"/><line x1="693.4" y1="523.5" x2="694.8" y2="525.7" stroke="#8c8c8c" stroke-width="1.9"/><line x1="694.8" y1="525.7" x2="696.1" y2="527.9" stroke="#40c0c8" stroke-width="1.9"/><line x1="693.4" y1="523.5" x2="692.4" y2="525.9" stroke="#8c8c8c" stroke-width="1.9"/><line x1="692.4" y1="525.9" x2="691.3" y2="528.3" stroke="#40c0c8" stroke-width="1.9"/><line x1="679.0" y1="518.7" x2="678.2" y2="521.2" stroke="#8c8c8c" stroke-width="1.9"/><line x1="678.2" y1="521.2" x2="677.4" y2="523.7" stroke="#40c0c8" stroke-width="1.9"/><line x1="679.0" y1="518.7" x2="676.5" y2="519.5" stroke="#8c8c8c" stroke-width="1.9"/><line x1="676.5" y1="519.5" x2="674.0" y2="520.3" stroke="#40c0c8" stroke-width="1.9"/><line x1="679.0" y1="518.7" x2="676.9" y2="517.1" stroke="#8c8c8c" stroke-width="1.9"/><line x1="676.9" y1="517.1" x2="674.9" y2="515.5" stroke="#40c0c8" stroke-width="1.9"/><line x1="705.2" y1="487.5" x2="703.2" y2="495.9" stroke="#2c8a2c" stroke-width="1.9"/><line x1="703.2" y1="495.9" x2="701.2" y2="504.3" stroke="#d23030" stroke-width="1.9"/><line x1="828.7" y1="486.7" x2="830.5" y2="486.7" stroke="#8c8c8c" stroke-width="1.9"/><line x1="830.5" y1="486.7" x2="832.3" y2="486.7" stroke="#8c8c8c" stroke-width="1.9"/><line x1="832.3" y1="486.7" x2="833.9" y2="486.5" stroke="#8c8c8c" stroke-width="1.9"/><line x1="833.9" y1="486.5" x2="835.5" y2="486.3" stroke="#8c8c8c" stroke-width="1.9"/><line x1="835.5" y1="486.3" x2="838.6" y2="486.3" stroke="#8c8c8c" stroke-width="1.9"/><line x1="838.6" y1="486.3" x2="841.7" y2="486.3" stroke="#d23030" stroke-width="1.9"/><line x1="841.7" y1="486.3" x2="845.7" y2="486.6" stroke="#d23030" stroke-width="1.9"/><line x1="845.7" y1="486.6" x2="849.6" y2="486.8" stroke="#d23030" stroke-width="1.9"/><line x1="849.6" y1="486.8" x2="853.2" y2="487.1" stroke="#d23030" stroke-width="1.9"/><line x1="853.2" y1="487.1" x2="856.7" y2="487.5" stroke="#2c8a2c" stroke-width="1.9"/><line x1="856.7" y1="487.5" x2="859.8" y2="485.3" stroke="#2c8a2c" stroke-width="1.9"/><line x1="859.8" y1="485.3" x2="862.8" y2="483.1" stroke="#d23030" stroke-width="1.9"/><line x1="862.8" y1="483.1" x2="870.7" y2="484.2" stroke="#d23030" stroke-width="1.9"/><line x1="870.7" y1="484.2" x2="878.5" y2="485.3" stroke="#2c8a2c" stroke-width="1.9"/><line x1="878.5" y1="485.3" x2="874.9" y2="487.6" stroke="#2c8a2c" stroke-width="1.9"/><line x1="874.9" y1="487.6" x2="871.3" y2="489.9" stroke="#d23030" stroke-width="1.9"/><line x1="871.3" y1="489.9" x2="864.0" y2="488.7" stroke="#d23030" stroke-width="1.9"/><line x1="864.0" y1="488.7" x2="856.7" y2="487.5" stroke="#2c8a2c" stroke-width="1.9"/><line x1="878.5" y1="485.3" x2="882.0" y2="486.3" stroke="#2c8a2c" stroke-width="1.9"/><line x1="882.0" y1="486.3" x2="885.5" y2="487.3" stroke="#d23030" stroke-width="1.9"/><line x1="885.5" y1="487.3" x2="889.1" y2="487.6" stroke="#d23030" stroke-width="1.9"/><line x1="889.1" y1="487.6" x2="892.7" y2="487.9" stroke="#d23030" stroke-width="1.9"/><line x1="892.7" y1="487.9" x2="896.3" y2="487.6" stroke="#d23030" stroke-width="1.9"/><line x1="896.3" y1="487.6" x2="899.9" y2="487.3" stroke="#8c8c8c" stroke-width="1.9"/><line x1="899.9" y1="487.3" x2="901.6" y2="487.2" stroke="#8c8c8c" stroke-width="1.9"/><line x1="901.6" y1="487.2" x2="903.2" y2="487.1" stroke="#8c8c8c" stroke-width="1.9"/><line x1="903.2" y1="487.1" x2="904.6" y2="487.2" stroke="#8c8c8c" stroke-width="1.9"/><line x1="904.6" y1="487.2" x2="905.9" y2="487.3" stroke="#8c8c8c" stroke-width="1.9"/><line x1="858.8" y1="470.5" x2="860.9" y2="467.4" stroke="#d23030" stroke-width="1.9"/><line x1="860.9" y1="467.4" x2="862.9" y2="464.3" stroke="#8c8c8c" stroke-width="1.9"/><line x1="862.9" y1="464.3" x2="862.9" y2="459.4" stroke="#8c8c8c" stroke-width="1.9"/><line x1="862.9" y1="459.4" x2="862.9" y2="454.5" stroke="#3030d0" stroke-width="1.9"/><line x1="862.9" y1="454.5" x2="859.8" y2="451.9" stroke="#3030d0" stroke-width="1.9"/><line x1="859.8" y1="451.9" x2="856.7" y2="449.3" stroke="#8c8c8c" stroke-width="1.9"/><line x1="862.9" y1="454.5" x2="865.5" y2="451.0" stroke="#3030d0" stroke-width="1.9"/><line x1="865.5" y1="451.0" x2="868.1" y2="447.5" stroke="#8c8c8c" stroke-width="1.9"/><line x1="862.9" y1="464.3" x2="865.2" y2="465.1" stroke="#8c8c8c" stroke-width="1.9"/><line x1="865.2" y1="465.1" x2="867.4" y2="465.8" stroke="#40c0c8" stroke-width="1.9"/><line x1="856.7" y1="449.3" x2="854.2" y2="450.0" stroke="#8c8c8c" stroke-width="1.9"/><line x1="854.2" y1="450.0" x2="851.7" y2="450.6" stroke="#40c0c8" stroke-width="1.9"/><line x1="856.7" y1="449.3" x2="854.7" y2="447.6" stroke="#8c8c8c" stroke-width="1.9"/><line x1="854.7" y1="447.6" x2="852.7" y2="446.0" stroke="#40c0c8" stroke-width="1.9"/><line x1="856.7" y1="449.3" x2="856.9" y2="446.7" stroke="#8c8c8c" stroke-width="1.9"/><line x1="856.9" y1="446.7" x2="857.2" y2="444.1" stroke="#40c0c8" stroke-width="1.9"/><line x1="868.1" y1="447.5" x2="867.3" y2="445.0" stroke="#8c8c8c" stroke-width="1.9"/><line x1="867.3" y1="445.0" x2="866.5" y2="442.6" stroke="#40c0c8" stroke-width="1.9"/><line x1="868.1" y1="447.5" x2="869.7" y2="445.4" stroke="#8c8c8c" stroke-width="1.9"/><line x1="869.7" y1="445.4" x2="871.2" y2="443.3" stroke="#40c0c8" stroke-width="1.9"/><line x1="868.1" y1="447.5" x2="870.7" y2="447.6" stroke="#8c8c8c" stroke-width="1.9"/><line x1="870.7" y1="447.6" x2="873.3" y2="447.6" stroke="#40c0c8" stroke-width="1.9"/><line x1="856.7" y1="487.5" x2="857.8" y2="479.0" stroke="#2c8a2c" stroke-width="1.9"/><line x1="857.8" y1="479.0" x2="858.8" y2="470.5" stroke="#d23030" stroke-width="1.9"/><line x1="876.4" y1="502.3" x2="874.4" y2="505.4" stroke="#d23030" stroke-width="1.9"/><line x1="874.4" y1="505.4" x2="872.3" y2="508.5" stroke="#8c8c8c" stroke-width="1.9"/><line x1="872.3" y1="508.5" x2="872.3" y2="513.4" stroke="#8c8c8c" stroke-width="1.9"/><line x1="872.3" y1="513.4" x2="872.3" y2="518.3" stroke="#3030d0" stroke-width="1.9"/><line x1="872.3" y1="518.3" x2="875.4" y2="520.9" stroke="#3030d0" stroke-width="1.9"/><line x1="875.4" y1="520.9" x2="878.5" y2="523.5" stroke="#8c8c8c" stroke-width="1.9"/><line x1="872.3" y1="518.3" x2="869.7" y2="521.8" stroke="#3030d0" stroke-width="1.9"/><line x1="869.7" y1="521.8" x2="867.1" y2="525.3" stroke="#8c8c8c" stroke-width="1.9"/><line x1="872.3" y1="508.5" x2="870.1" y2="509.2" stroke="#8c8c8c" stroke-width="1.9"/><line x1="870.1" y1="509.2" x2="867.8" y2="510.0" stroke="#40c0c8" stroke-width="1.9"/><line x1="878.5" y1="523.5" x2="881.0" y2="522.8" stroke="#8c8c8c" stroke-width="1.9"/><line x1="881.0" y1="522.8" x2="883.5" y2="522.2" stroke="#40c0c8" stroke-width="1.9"/><line x1="878.5" y1="523.5" x2="880.5" y2="525.2" stroke="#8c8c8c" stroke-width="1.9"/><line x1="880.5" y1="525.2" x2="882.5" y2="526.8" stroke="#40c0c8" stroke-width="1.9"/><line x1="878.5" y1="523.5" x2="878.3" y2="526.1" stroke="#8c8c8c" stroke-width="1.9"/><line x1="878.3" y1="526.1" x2="878.0" y2="528.7" stroke="#40c0c8" stroke-width="1.9"/><line x1="867.1" y1="525.3" x2="867.9" y2="527.8" stroke="#8c8c8c" stroke-width="1.9"/><line x1="867.9" y1="527.8" x2="868.7" y2="530.2" stroke="#40c0c8" stroke-width="1.9"/><line x1="867.1" y1="525.3" x2="865.5" y2="527.4" stroke="#8c8c8c" stroke-width="1.9"/><line x1="865.5" y1="527.4" x2="864.0" y2="529.5" stroke="#40c0c8" stroke-width="1.9"/><line x1="867.1" y1="525.3" x2="864.5" y2="525.2" stroke="#8c8c8c" stroke-width="1.9"/><line x1="864.5" y1="525.2" x2="861.9" y2="525.2" stroke="#40c0c8" stroke-width="1.9"/><line x1="878.5" y1="485.3" x2="877.5" y2="493.8" stroke="#2c8a2c" stroke-width="1.9"/><line x1="877.5" y1="493.8" x2="876.4" y2="502.3" stroke="#d23030" stroke-width="1.9"/><line x1="882.5" y1="468.5" x2="886.4" y2="467.4" stroke="#d23030" stroke-width="1.9"/><line x1="886.4" y1="467.4" x2="890.3" y2="466.4" stroke="#8c8c8c" stroke-width="1.9"/><line x1="890.3" y1="466.4" x2="892.7" y2="461.8" stroke="#8c8c8c" stroke-width="1.9"/><line x1="892.7" y1="461.8" x2="895.1" y2="457.1" stroke="#3030d0" stroke-width="1.9"/><line x1="895.1" y1="457.1" x2="892.7" y2="453.2" stroke="#3030d0" stroke-width="1.9"/><line x1="892.7" y1="453.2" x2="890.3" y2="449.3" stroke="#8c8c8c" stroke-width="1.9"/><line x1="895.1" y1="457.1" x2="899.9" y2="455.6" stroke="#3030d0" stroke-width="1.9"/><line x1="899.9" y1="455.6" x2="904.7" y2="454.1" stroke="#8c8c8c" stroke-width="1.9"/><line x1="890.3" y1="466.4" x2="892.6" y2="467.1" stroke="#8c8c8c" stroke-width="1.9"/><line x1="892.6" y1="467.1" x2="894.8" y2="467.9" stroke="#40c0c8" stroke-width="1.9"/><line x1="890.3" y1="449.3" x2="887.7" y2="449.1" stroke="#8c8c8c" stroke-width="1.9"/><line x1="887.7" y1="449.1" x2="885.1" y2="449.0" stroke="#40c0c8" stroke-width="1.9"/><line x1="890.3" y1="449.3" x2="888.9" y2="447.1" stroke="#8c8c8c" stroke-width="1.9"/><line x1="888.9" y1="447.1" x2="887.6" y2="444.9" stroke="#40c0c8" stroke-width="1.9"/><line x1="890.3" y1="449.3" x2="891.3" y2="446.9" stroke="#8c8c8c" stroke-width="1.9"/><line x1="891.3" y1="446.9" x2="892.4" y2="444.5" stroke="#40c0c8" stroke-width="1.9"/><line x1="904.7" y1="454.1" x2="905.5" y2="451.6" stroke="#8c8c8c" stroke-width="1.9"/><line x1="905.5" y1="451.6" x2="906.3" y2="449.1" stroke="#40c0c8" stroke-width="1.9"/><line x1="904.7" y1="454.1" x2="907.2" y2="453.3" stroke="#8c8c8c" stroke-width="1.9"/><line x1="907.2" y1="453.3" x2="909.7" y2="452.5" stroke="#40c0c8" stroke-width="1.9"/><line x1="904.7" y1="454.1" x2="906.8" y2="455.7" stroke="#8c8c8c" stroke-width="1.9"/><line x1="906.8" y1="455.7" x2="908.8" y2="457.3" stroke="#40c0c8" stroke-width="1.9"/><line x1="878.5" y1="485.3" x2="880.5" y2="476.9" stroke="#2c8a2c" stroke-width="1.9"/><line x1="880.5" y1="476.9" x2="882.5" y2="468.5" stroke="#d23030" stroke-width="1.9"/><line x1="852.7" y1="504.3" x2="848.8" y2="505.4" stroke="#d23030" stroke-width="1.9"/><line x1="848.8" y1="505.4" x2="844.9" y2="506.4" stroke="#8c8c8c" stroke-width="1.9"/><line x1="844.9" y1="506.4" x2="842.5" y2="511.1" stroke="#8c8c8c" stroke-width="1.9"/><line x1="842.5" y1="511.1" x2="840.1" y2="515.7" stroke="#3030d0" stroke-width="1.9"/><line x1="840.1" y1="515.7" x2="842.5" y2="519.6" stroke="#3030d0" stroke-width="1.9"/><line x1="842.5" y1="519.6" x2="844.9" y2="523.5" stroke="#8c8c8c" stroke-width="1.9"/><line x1="840.1" y1="515.7" x2="835.3" y2="517.2" stroke="#3030d0" stroke-width="1.9"/><line x1="835.3" y1="517.2" x2="830.5" y2="518.7" stroke="#8c8c8c" stroke-width="1.9"/><line x1="844.9" y1="506.4" x2="842.7" y2="507.1" stroke="#8c8c8c" stroke-width="1.9"/><line x1="842.7" y1="507.1" x2="840.4" y2="507.9" stroke="#40c0c8" stroke-width="1.9"/><line x1="844.9" y1="523.5" x2="847.5" y2="523.7" stroke="#8c8c8c" stroke-width="1.9"/><line x1="847.5" y1="523.7" x2="850.1" y2="523.8" stroke="#40c0c8" stroke-width="1.9"/><line x1="844.9" y1="523.5" x2="846.3" y2="525.7" stroke="#8c8c8c" stroke-width="1.9"/><line x1="846.3" y1="525.7" x2="847.6" y2="527.9" stroke="#40c0c8" stroke-width="1.9"/><line x1="844.9" y1="523.5" x2="843.9" y2="525.9" stroke="#8c8c8c" stroke-width="1.9"/><line x1="843.9" y1="525.9" x2="842.8" y2="528.3" stroke="#40c0c8" stroke-width="1.9"/><line x1="830.5" y1="518.7" x2="829.7" y2="521.2" stroke="#8c8c8c" stroke-width="1.9"/><line x1="829.7" y1="521.2" x2="828.9" y2="523.7" stroke="#40c0c8" stroke-width="1.9"/><line x1="830.5" y1="518.7" x2="828.0" y2="519.5" stroke="#8c8c8c" stroke-width="1.9"/><line x1="828.0" y1="519.5" x2="825.5" y2="520.3" stroke="#40c0c8" stroke-width="1.9"/><line x1="830.5" y1="518.7" x2="828.4" y2="517.1" stroke="#8c8c8c" stroke-width="1.9"/><line x1="828.4" y1="517.1" x2="826.4" y2="515.5" stroke="#40c0c8" stroke-width="1.9"/><line x1="856.7" y1="487.5" x2="854.7" y2="495.9" stroke="#2c8a2c" stroke-width="1.9"/><line x1="854.7" y1="495.9" x2="852.7" y2="504.3" stroke="#d23030" stroke-width="1.9"/><line x1="980.2" y1="486.7" x2="982.0" y2="486.7" stroke="#8c8c8c" stroke-width="1.9"/><line x1="982.0" y1="486.7" x2="983.8" y2="486.7" stroke="#8c8c8c" stroke-width="1.9"/><line x1="983.8" y1="486.7" x2="985.4" y2="486.5" stroke="#8c8c8c" stroke-width="1.9"/><line x1="985.4" y1="486.5" x2="987.0" y2="486.3" stroke="#8c8c8c" stroke-width="1.9"/><line x1="987.0" y1="486.3" x2="990.1" y2="486.3" stroke="#8c8c8c" stroke-width="1.9"/><line x1="990.1" y1="486.3" x2="993.2" y2="486.3" stroke="#d23030" stroke-width="1.9"/><line x1="993.2" y1="486.3" x2="997.2" y2="486.6" stroke="#d23030" stroke-width="1.9"/><line x1="997.2" y1="486.6" x2="1001.1" y2="486.8" stroke="#d23030" stroke-width="1.9"/><line x1="1001.1" y1="486.8" x2="1004.7" y2="487.1" stroke="#d23030" stroke-width="1.9"/><line x1="1004.7" y1="487.1" x2="1008.2" y2="487.5" stroke="#2c8a2c" stroke-width="1.9"/><line x1="1008.2" y1="487.5" x2="1011.2" y2="485.3" stroke="#2c8a2c" stroke-width="1.9"/><line x1="1011.2" y1="485.3" x2="1014.3" y2="483.1" stroke="#d23030" stroke-width="1.9"/><line x1="1014.3" y1="483.1" x2="1022.2" y2="484.2" stroke="#d23030" stroke-width="1.9"/><line x1="1022.2" y1="484.2" x2="1030.0" y2="485.3" stroke="#2c8a2c" stroke-width="1.9"/><line x1="1030.0" y1="485.3" x2="1026.4" y2="487.6" stroke="#2c8a2c" stroke-width="1.9"/><line x1="1026.4" y1="487.6" x2="1022.8" y2="489.9" stroke="#d23030" stroke-width="1.9"/><line x1="1022.8" y1="489.9" x2="1015.5" y2="488.7" stroke="#d23030" stroke-width="1.9"/><line x1="1015.5" y1="488.7" x2="1008.2" y2="487.5" stroke="#2c8a2c" stroke-width="1.9"/><line x1="1030.0" y1="485.3" x2="1033.5" y2="486.3" stroke="#2c8a2c" stroke-width="1.9"/><line x1="1033.5" y1="486.3" x2="1037.0" y2="487.3" stroke="#d23030" stroke-width="1.9"/><line x1="1037.0" y1="487.3" x2="1040.6" y2="487.6" stroke="#d23030" stroke-width="1.9"/><line x1="1040.6" y1="487.6" x2="1044.2" y2="487.9" stroke="#d23030" stroke-width="1.9"/><line x1="1044.2" y1="487.9" x2="1047.8" y2="487.6" stroke="#d23030" stroke-width="1.9"/><line x1="1047.8" y1="487.6" x2="1051.4" y2="487.3" stroke="#8c8c8c" stroke-width="1.9"/><line x1="1051.4" y1="487.3" x2="1053.1" y2="487.2" stroke="#8c8c8c" stroke-width="1.9"/><line x1="1053.1" y1="487.2" x2="1054.7" y2="487.1" stroke="#8c8c8c" stroke-width="1.9"/><line x1="1054.7" y1="487.1" x2="1056.1" y2="487.2" stroke="#8c8c8c" stroke-width="1.9"/><line x1="1056.1" y1="487.2" x2="1057.4" y2="487.3" stroke="#8c8c8c" stroke-width="1.9"/><line x1="1010.3" y1="470.5" x2="1012.4" y2="467.4" stroke="#d23030" stroke-width="1.9"/><line x1="1012.4" y1="467.4" x2="1014.4" y2="464.3" stroke="#8c8c8c" stroke-width="1.9"/><line x1="1014.4" y1="464.3" x2="1014.4" y2="459.4" stroke="#8c8c8c" stroke-width="1.9"/><line x1="1014.4" y1="459.4" x2="1014.4" y2="454.5" stroke="#3030d0" stroke-width="1.9"/><line x1="1014.4" y1="454.5" x2="1011.3" y2="451.9" stroke="#3030d0" stroke-width="1.9"/><line x1="1011.3" y1="451.9" x2="1008.2" y2="449.3" stroke="#8c8c8c" stroke-width="1.9"/><line x1="1014.4" y1="454.5" x2="1017.0" y2="451.0" stroke="#3030d0" stroke-width="1.9"/><line x1="1017.0" y1="451.0" x2="1019.6" y2="447.5" stroke="#8c8c8c" stroke-width="1.9"/><line x1="1014.4" y1="464.3" x2="1016.7" y2="465.1" stroke="#8c8c8c" stroke-width="1.9"/><line x1="1016.7" y1="465.1" x2="1018.9" y2="465.8" stroke="#40c0c8" stroke-width="1.9"/><line x1="1008.2" y1="449.3" x2="1005.7" y2="450.0" stroke="#8c8c8c" stroke-width="1.9"/><line x1="1005.7" y1="450.0" x2="1003.2" y2="450.6" stroke="#40c0c8" stroke-width="1.9"/><line x1="1008.2" y1="449.3" x2="1006.2" y2="447.6" stroke="#8c8c8c" stroke-width="1.9"/><line x1="1006.2" y1="447.6" x2="1004.2" y2="446.0" stroke="#40c0c8" stroke-width="1.9"/><line x1="1008.2" y1="449.3" x2="1008.4" y2="446.7" stroke="#8c8c8c" stroke-width="1.9"/><line x1="1008.4" y1="446.7" x2="1008.7" y2="444.1" stroke="#40c0c8" stroke-width="1.9"/><line x1="1019.6" y1="447.5" x2="1018.8" y2="445.0" stroke="#8c8c8c" stroke-width="1.9"/><line x1="1018.8" y1="445.0" x2="1018.0" y2="442.6" stroke="#40c0c8" stroke-width="1.9"/><line x1="1019.6" y1="447.5" x2="1021.2" y2="445.4" stroke="#8c8c8c" stroke-width="1.9"/><line x1="1021.2" y1="445.4" x2="1022.7" y2="443.3" stroke="#40c0c8" stroke-width="1.9"/><line x1="1019.6" y1="447.5" x2="1022.2" y2="447.6" stroke="#8c8c8c" stroke-width="1.9"/><line x1="1022.2" y1="447.6" x2="1024.8" y2="447.6" stroke="#40c0c8" stroke-width="1.9"/><line x1="1008.2" y1="487.5" x2="1009.2" y2="479.0" stroke="#2c8a2c" stroke-width="1.9"/><line x1="1009.2" y1="479.0" x2="1010.3" y2="470.5" stroke="#d23030" stroke-width="1.9"/><line x1="1027.9" y1="502.3" x2="1025.9" y2="505.4" stroke="#d23030" stroke-width="1.9"/><line x1="1025.9" y1="505.4" x2="1023.8" y2="508.5" stroke="#8c8c8c" stroke-width="1.9"/><line x1="1023.8" y1="508.5" x2="1023.8" y2="513.4" stroke="#8c8c8c" stroke-width="1.9"/><line x1="1023.8" y1="513.4" x2="1023.8" y2="518.3" stroke="#3030d0" stroke-width="1.9"/><line x1="1023.8" y1="518.3" x2="1026.9" y2="520.9" stroke="#3030d0" stroke-width="1.9"/><line x1="1026.9" y1="520.9" x2="1030.0" y2="523.5" stroke="#8c8c8c" stroke-width="1.9"/><line x1="1023.8" y1="518.3" x2="1021.2" y2="521.8" stroke="#3030d0" stroke-width="1.9"/><line x1="1021.2" y1="521.8" x2="1018.6" y2="525.3" stroke="#8c8c8c" stroke-width="1.9"/><line x1="1023.8" y1="508.5" x2="1021.6" y2="509.2" stroke="#8c8c8c" stroke-width="1.9"/><line x1="1021.6" y1="509.2" x2="1019.3" y2="510.0" stroke="#40c0c8" stroke-width="1.9"/><line x1="1030.0" y1="523.5" x2="1032.5" y2="522.8" stroke="#8c8c8c" stroke-width="1.9"/><line x1="1032.5" y1="522.8" x2="1035.0" y2="522.2" stroke="#40c0c8" stroke-width="1.9"/><line x1="1030.0" y1="523.5" x2="1032.0" y2="525.2" stroke="#8c8c8c" stroke-width="1.9"/><line x1="1032.0" y1="525.2" x2="1034.0" y2="526.8" stroke="#40c0c8" stroke-width="1.9"/><line x1="1030.0" y1="523.5" x2="1029.8" y2="526.1" stroke="#8c8c8c" stroke-width="1.9"/><line x1="1029.8" y1="526.1" x2="1029.5" y2="528.7" stroke="#40c0c8" stroke-width="1.9"/><line x1="1018.6" y1="525.3" x2="1019.4" y2="527.8" stroke="#8c8c8c" stroke-width="1.9"/><line x1="1019.4" y1="527.8" x2="1020.2" y2="530.2" stroke="#40c0c8" stroke-width="1.9"/><line x1="1018.6" y1="525.3" x2="1017.0" y2="527.4" stroke="#8c8c8c" stroke-width="1.9"/><line x1="1017.0" y1="527.4" x2="1015.5" y2="529.5" stroke="#40c0c8" stroke-width="1.9"/><line x1="1018.6" y1="525.3" x2="1016.0" y2="525.2" stroke="#8c8c8c" stroke-width="1.9"/><line x1="1016.0" y1="525.2" x2="1013.4" y2="525.2" stroke="#40c0c8" stroke-width="1.9"/><line x1="1030.0" y1="485.3" x2="1029.0" y2="493.8" stroke="#2c8a2c" stroke-width="1.9"/><line x1="1029.0" y1="493.8" x2="1027.9" y2="502.3" stroke="#d23030" stroke-width="1.9"/><line x1="1034.0" y1="468.5" x2="1037.9" y2="467.4" stroke="#d23030" stroke-width="1.9"/><line x1="1037.9" y1="467.4" x2="1041.8" y2="466.4" stroke="#8c8c8c" stroke-width="1.9"/><line x1="1041.8" y1="466.4" x2="1044.2" y2="461.8" stroke="#8c8c8c" stroke-width="1.9"/><line x1="1044.2" y1="461.8" x2="1046.6" y2="457.1" stroke="#3030d0" stroke-width="1.9"/><line x1="1046.6" y1="457.1" x2="1044.2" y2="453.2" stroke="#3030d0" stroke-width="1.9"/><line x1="1044.2" y1="453.2" x2="1041.8" y2="449.3" stroke="#8c8c8c" stroke-width="1.9"/><line x1="1046.6" y1="457.1" x2="1051.4" y2="455.6" stroke="#3030d0" stroke-width="1.9"/><line x1="1051.4" y1="455.6" x2="1056.2" y2="454.1" stroke="#8c8c8c" stroke-width="1.9"/><line x1="1041.8" y1="466.4" x2="1044.0" y2="467.1" stroke="#8c8c8c" stroke-width="1.9"/><line x1="1044.0" y1="467.1" x2="1046.3" y2="467.9" stroke="#40c0c8" stroke-width="1.9"/><line x1="1041.8" y1="449.3" x2="1039.2" y2="449.1" stroke="#8c8c8c" stroke-width="1.9"/><line x1="1039.2" y1="449.1" x2="1036.6" y2="449.0" stroke="#40c0c8" stroke-width="1.9"/><line x1="1041.8" y1="449.3" x2="1040.4" y2="447.1" stroke="#8c8c8c" stroke-width="1.9"/><line x1="1040.4" y1="447.1" x2="1039.1" y2="444.9" stroke="#40c0c8" stroke-width="1.9"/><line x1="1041.8" y1="449.3" x2="1042.8" y2="446.9" stroke="#8c8c8c" stroke-width="1.9"/><line x1="1042.8" y1="446.9" x2="1043.9" y2="444.5" stroke="#40c0c8" stroke-width="1.9"/><line x1="1056.2" y1="454.1" x2="1057.0" y2="451.6" stroke="#8c8c8c" stroke-width="1.9"/><line x1="1057.0" y1="451.6" x2="1057.8" y2="449.1" stroke="#40c0c8" stroke-width="1.9"/><line x1="1056.2" y1="454.1" x2="1058.7" y2="453.3" stroke="#8c8c8c" stroke-width="1.9"/><line x1="1058.7" y1="453.3" x2="1061.2" y2="452.5" stroke="#40c0c8" stroke-width="1.9"/><line x1="1056.2" y1="454.1" x2="1058.3" y2="455.7" stroke="#8c8c8c" stroke-width="1.9"/><line x1="1058.3" y1="455.7" x2="1060.3" y2="457.3" stroke="#40c0c8" stroke-width="1.9"/><line x1="1030.0" y1="485.3" x2="1032.0" y2="476.9" stroke="#2c8a2c" stroke-width="1.9"/><line x1="1032.0" y1="476.9" x2="1034.0" y2="468.5" stroke="#d23030" stroke-width="1.9"/><line x1="1004.2" y1="504.3" x2="1000.3" y2="505.4" stroke="#d23030" stroke-width="1.9"/><line x1="1000.3" y1="505.4" x2="996.4" y2="506.4" stroke="#8c8c8c" stroke-width="1.9"/><line x1="996.4" y1="506.4" x2="994.0" y2="511.1" stroke="#8c8c8c" stroke-width="1.9"/><line x1="994.0" y1="511.1" x2="991.6" y2="515.7" stroke="#3030d0" stroke-width="1.9"/><line x1="991.6" y1="515.7" x2="994.0" y2="519.6" stroke="#3030d0" stroke-width="1.9"/><line x1="994.0" y1="519.6" x2="996.4" y2="523.5" stroke="#8c8c8c" stroke-width="1.9"/><line x1="991.6" y1="515.7" x2="986.8" y2="517.2" stroke="#3030d0" stroke-width="1.9"/><line x1="986.8" y1="517.2" x2="982.0" y2="518.7" stroke="#8c8c8c" stroke-width="1.9"/><line x1="996.4" y1="506.4" x2="994.2" y2="507.1" stroke="#8c8c8c" stroke-width="1.9"/><line x1="994.2" y1="507.1" x2="991.9" y2="507.9" stroke="#40c0c8" stroke-width="1.9"/><line x1="996.4" y1="523.5" x2="999.0" y2="523.7" stroke="#8c8c8c" stroke-width="1.9"/><line x1="999.0" y1="523.7" x2="1001.6" y2="523.8" stroke="#40c0c8" stroke-width="1.9"/><line x1="996.4" y1="523.5" x2="997.8" y2="525.7" stroke="#8c8c8c" stroke-width="1.9"/><line x1="997.8" y1="525.7" x2="999.1" y2="527.9" stroke="#40c0c8" stroke-width="1.9"/><line x1="996.4" y1="523.5" x2="995.4" y2="525.9" stroke="#8c8c8c" stroke-width="1.9"/><line x1="995.4" y1="525.9" x2="994.3" y2="528.3" stroke="#40c0c8" stroke-width="1.9"/><line x1="982.0" y1="518.7" x2="981.2" y2="521.2" stroke="#8c8c8c" stroke-width="1.9"/><line x1="981.2" y1="521.2" x2="980.4" y2="523.7" stroke="#40c0c8" stroke-width="1.9"/><line x1="982.0" y1="518.7" x2="979.5" y2="519.5" stroke="#8c8c8c" stroke-width="1.9"/><line x1="979.5" y1="519.5" x2="977.0" y2="520.3" stroke="#40c0c8" stroke-width="1.9"/><line x1="982.0" y1="518.7" x2="979.9" y2="517.1" stroke="#8c8c8c" stroke-width="1.9"/><line x1="979.9" y1="517.1" x2="977.9" y2="515.5" stroke="#40c0c8" stroke-width="1.9"/><line x1="1008.2" y1="487.5" x2="1006.2" y2="495.9" stroke="#2c8a2c" stroke-width="1.9"/><line x1="1006.2" y1="495.9" x2="1004.2" y2="504.3" stroke="#d23030" stroke-width="1.9"/><line x1="765.1" y1="486.7" x2="767.2" y2="482.6" stroke="#3030d0" stroke-width="1.9"/><line x1="767.2" y1="482.6" x2="769.4" y2="478.6" stroke="#8c8c8c" stroke-width="1.9"/><line x1="765.1" y1="486.7" x2="767.8" y2="491.4" stroke="#3030d0" stroke-width="1.9"/><line x1="767.8" y1="491.4" x2="770.5" y2="496.0" stroke="#8c8c8c" stroke-width="1.9"/><line x1="769.4" y1="478.6" x2="766.4" y2="475.0" stroke="#8c8c8c" stroke-width="1.9"/><line x1="766.4" y1="475.0" x2="763.3" y2="471.4" stroke="#d23030" stroke-width="1.9"/><line x1="770.5" y1="496.0" x2="768.6" y2="499.1" stroke="#8c8c8c" stroke-width="1.9"/><line x1="768.6" y1="499.1" x2="766.7" y2="502.3" stroke="#d23030" stroke-width="1.9"/><line x1="818.9" y1="486.7" x2="815.6" y2="482.6" stroke="#3030d0" stroke-width="1.9"/><line x1="815.6" y1="482.6" x2="812.3" y2="478.6" stroke="#8c8c8c" stroke-width="1.9"/><line x1="818.9" y1="486.7" x2="816.5" y2="491.4" stroke="#3030d0" stroke-width="1.9"/><line x1="816.5" y1="491.4" x2="814.1" y2="496.0" stroke="#8c8c8c" stroke-width="1.9"/><line x1="812.3" y1="478.6" x2="814.5" y2="474.9" stroke="#8c8c8c" stroke-width="1.9"/><line x1="814.5" y1="474.9" x2="816.6" y2="471.2" stroke="#d23030" stroke-width="1.9"/><line x1="814.1" y1="496.0" x2="817.0" y2="499.1" stroke="#8c8c8c" stroke-width="1.9"/><line x1="817.0" y1="499.1" x2="819.8" y2="502.3" stroke="#d23030" stroke-width="1.9"/><line x1="769.4" y1="478.6" x2="774.5" y2="478.6" stroke="#8c8c8c" stroke-width="1.9"/><line x1="774.5" y1="478.6" x2="779.5" y2="478.6" stroke="#8c8c8c" stroke-width="1.9"/><line x1="770.5" y1="496.0" x2="776.1" y2="495.9" stroke="#8c8c8c" stroke-width="1.9"/><line x1="776.1" y1="495.9" x2="781.7" y2="495.7" stroke="#8c8c8c" stroke-width="1.9"/><line x1="779.5" y1="478.6" x2="782.1" y2="474.2" stroke="#8c8c8c" stroke-width="1.9"/><line x1="782.1" y1="474.2" x2="784.7" y2="469.9" stroke="#8c8c8c" stroke-width="1.9"/><line x1="784.7" y1="469.9" x2="789.9" y2="469.9" stroke="#8c8c8c" stroke-width="1.9"/><line x1="789.9" y1="469.9" x2="795.0" y2="469.9" stroke="#8c8c8c" stroke-width="1.9"/><line x1="795.0" y1="469.9" x2="798.0" y2="474.2" stroke="#8c8c8c" stroke-width="1.9"/><line x1="798.0" y1="474.2" x2="801.1" y2="478.6" stroke="#8c8c8c" stroke-width="1.9"/><line x1="779.5" y1="478.6" x2="783.0" y2="482.8" stroke="#8c8c8c" stroke-width="1.9"/><line x1="783.0" y1="482.8" x2="786.5" y2="487.0" stroke="#8c8c8c" stroke-width="1.9"/><line x1="801.1" y1="478.6" x2="798.9" y2="482.8" stroke="#8c8c8c" stroke-width="1.9"/><line x1="798.9" y1="482.8" x2="796.6" y2="487.0" stroke="#8c8c8c" stroke-width="1.9"/><line x1="786.5" y1="487.0" x2="791.5" y2="487.0" stroke="#8c8c8c" stroke-width="1.9"/><line x1="791.5" y1="487.0" x2="796.6" y2="487.0" stroke="#8c8c8c" stroke-width="1.9"/><line x1="786.5" y1="487.0" x2="784.1" y2="491.4" stroke="#8c8c8c" stroke-width="1.9"/><line x1="784.1" y1="491.4" x2="781.7" y2="495.7" stroke="#8c8c8c" stroke-width="1.9"/><line x1="796.6" y1="487.0" x2="799.9" y2="491.4" stroke="#8c8c8c" stroke-width="1.9"/><line x1="799.9" y1="491.4" x2="803.1" y2="495.7" stroke="#8c8c8c" stroke-width="1.9"/><line x1="781.7" y1="495.7" x2="784.8" y2="499.6" stroke="#8c8c8c" stroke-width="1.9"/><line x1="784.8" y1="499.6" x2="787.8" y2="503.6" stroke="#8c8c8c" stroke-width="1.9"/><line x1="787.8" y1="503.6" x2="793.2" y2="503.6" stroke="#8c8c8c" stroke-width="1.9"/><line x1="793.2" y1="503.6" x2="798.6" y2="503.6" stroke="#8c8c8c" stroke-width="1.9"/><line x1="798.6" y1="503.6" x2="800.9" y2="499.6" stroke="#8c8c8c" stroke-width="1.9"/><line x1="800.9" y1="499.6" x2="803.1" y2="495.7" stroke="#8c8c8c" stroke-width="1.9"/><line x1="801.1" y1="478.6" x2="806.7" y2="478.6" stroke="#8c8c8c" stroke-width="1.9"/><line x1="806.7" y1="478.6" x2="812.3" y2="478.6" stroke="#8c8c8c" stroke-width="1.9"/><line x1="803.1" y1="495.7" x2="808.6" y2="495.9" stroke="#8c8c8c" stroke-width="1.9"/><line x1="808.6" y1="495.9" x2="814.1" y2="496.0" stroke="#8c8c8c" stroke-width="1.9"/><line x1="754.4" y1="487.3" x2="759.8" y2="487.0" stroke="#8c8c8c" stroke-width="1.9"/><line x1="759.8" y1="487.0" x2="765.1" y2="486.7" stroke="#3030d0" stroke-width="1.9"/><line x1="818.9" y1="486.7" x2="823.8" y2="486.7" stroke="#3030d0" stroke-width="1.9"/><line x1="823.8" y1="486.7" x2="828.7" y2="486.7" stroke="#8c8c8c" stroke-width="1.9"/><line x1="916.6" y1="486.7" x2="918.8" y2="482.6" stroke="#3030d0" stroke-width="1.9"/><line x1="918.8" y1="482.6" x2="920.9" y2="478.6" stroke="#8c8c8c" stroke-width="1.9"/><line x1="916.6" y1="486.7" x2="919.3" y2="491.4" stroke="#3030d0" stroke-width="1.9"/><line x1="919.3" y1="491.4" x2="922.0" y2="496.0" stroke="#8c8c8c" stroke-width="1.9"/><line x1="920.9" y1="478.6" x2="917.9" y2="475.0" stroke="#8c8c8c" stroke-width="1.9"/><line x1="917.9" y1="475.0" x2="914.8" y2="471.4" stroke="#d23030" stroke-width="1.9"/><line x1="922.0" y1="496.0" x2="920.1" y2="499.1" stroke="#8c8c8c" stroke-width="1.9"/><line x1="920.1" y1="499.1" x2="918.2" y2="502.3" stroke="#d23030" stroke-width="1.9"/><line x1="970.4" y1="486.7" x2="967.1" y2="482.6" stroke="#3030d0" stroke-width="1.9"/><line x1="967.1" y1="482.6" x2="963.8" y2="478.6" stroke="#8c8c8c" stroke-width="1.9"/><line x1="970.4" y1="486.7" x2="968.0" y2="491.4" stroke="#3030d0" stroke-width="1.9"/><line x1="968.0" y1="491.4" x2="965.6" y2="496.0" stroke="#8c8c8c" stroke-width="1.9"/><line x1="963.8" y1="478.6" x2="966.0" y2="474.9" stroke="#8c8c8c" stroke-width="1.9"/><line x1="966.0" y1="474.9" x2="968.1" y2="471.2" stroke="#d23030" stroke-width="1.9"/><line x1="965.6" y1="496.0" x2="968.5" y2="499.1" stroke="#8c8c8c" stroke-width="1.9"/><line x1="968.5" y1="499.1" x2="971.3" y2="502.3" stroke="#d23030" stroke-width="1.9"/><line x1="920.9" y1="478.6" x2="926.0" y2="478.6" stroke="#8c8c8c" stroke-width="1.9"/><line x1="926.0" y1="478.6" x2="931.0" y2="478.6" stroke="#8c8c8c" stroke-width="1.9"/><line x1="922.0" y1="496.0" x2="927.6" y2="495.9" stroke="#8c8c8c" stroke-width="1.9"/><line x1="927.6" y1="495.9" x2="933.2" y2="495.7" stroke="#8c8c8c" stroke-width="1.9"/><line x1="931.0" y1="478.6" x2="933.6" y2="474.2" stroke="#8c8c8c" stroke-width="1.9"/><line x1="933.6" y1="474.2" x2="936.2" y2="469.9" stroke="#8c8c8c" stroke-width="1.9"/><line x1="936.2" y1="469.9" x2="941.4" y2="469.9" stroke="#8c8c8c" stroke-width="1.9"/><line x1="941.4" y1="469.9" x2="946.5" y2="469.9" stroke="#8c8c8c" stroke-width="1.9"/><line x1="946.5" y1="469.9" x2="949.5" y2="474.2" stroke="#8c8c8c" stroke-width="1.9"/><line x1="949.5" y1="474.2" x2="952.6" y2="478.6" stroke="#8c8c8c" stroke-width="1.9"/><line x1="931.0" y1="478.6" x2="934.5" y2="482.8" stroke="#8c8c8c" stroke-width="1.9"/><line x1="934.5" y1="482.8" x2="938.0" y2="487.0" stroke="#8c8c8c" stroke-width="1.9"/><line x1="952.6" y1="478.6" x2="950.4" y2="482.8" stroke="#8c8c8c" stroke-width="1.9"/><line x1="950.4" y1="482.8" x2="948.1" y2="487.0" stroke="#8c8c8c" stroke-width="1.9"/><line x1="938.0" y1="487.0" x2="943.0" y2="487.0" stroke="#8c8c8c" stroke-width="1.9"/><line x1="943.0" y1="487.0" x2="948.1" y2="487.0" stroke="#8c8c8c" stroke-width="1.9"/><line x1="938.0" y1="487.0" x2="935.6" y2="491.4" stroke="#8c8c8c" stroke-width="1.9"/><line x1="935.6" y1="491.4" x2="933.2" y2="495.7" stroke="#8c8c8c" stroke-width="1.9"/><line x1="948.1" y1="487.0" x2="951.4" y2="491.4" stroke="#8c8c8c" stroke-width="1.9"/><line x1="951.4" y1="491.4" x2="954.6" y2="495.7" stroke="#8c8c8c" stroke-width="1.9"/><line x1="933.2" y1="495.7" x2="936.2" y2="499.6" stroke="#8c8c8c" stroke-width="1.9"/><line x1="936.2" y1="499.6" x2="939.3" y2="503.6" stroke="#8c8c8c" stroke-width="1.9"/><line x1="939.3" y1="503.6" x2="944.7" y2="503.6" stroke="#8c8c8c" stroke-width="1.9"/><line x1="944.7" y1="503.6" x2="950.1" y2="503.6" stroke="#8c8c8c" stroke-width="1.9"/><line x1="950.1" y1="503.6" x2="952.4" y2="499.6" stroke="#8c8c8c" stroke-width="1.9"/><line x1="952.4" y1="499.6" x2="954.6" y2="495.7" stroke="#8c8c8c" stroke-width="1.9"/><line x1="952.6" y1="478.6" x2="958.2" y2="478.6" stroke="#8c8c8c" stroke-width="1.9"/><line x1="958.2" y1="478.6" x2="963.8" y2="478.6" stroke="#8c8c8c" stroke-width="1.9"/><line x1="954.6" y1="495.7" x2="960.1" y2="495.9" stroke="#8c8c8c" stroke-width="1.9"/><line x1="960.1" y1="495.9" x2="965.6" y2="496.0" stroke="#8c8c8c" stroke-width="1.9"/><line x1="905.9" y1="487.3" x2="911.2" y2="487.0" stroke="#8c8c8c" stroke-width="1.9"/><line x1="911.2" y1="487.0" x2="916.6" y2="486.7" stroke="#3030d0" stroke-width="1.9"/><line x1="970.4" y1="486.7" x2="975.3" y2="486.7" stroke="#3030d0" stroke-width="1.9"/><line x1="975.3" y1="486.7" x2="980.2" y2="486.7" stroke="#8c8c8c" stroke-width="1.9"/><line x1="677.2" y1="550.1" x2="679.0" y2="550.1" stroke="#8c8c8c" stroke-width="1.9"/><line x1="679.0" y1="550.1" x2="680.8" y2="550.1" stroke="#8c8c8c" stroke-width="1.9"/><line x1="680.8" y1="550.1" x2="682.4" y2="550.3" stroke="#8c8c8c" stroke-width="1.9"/><line x1="682.4" y1="550.3" x2="684.0" y2="550.5" stroke="#8c8c8c" stroke-width="1.9"/><line x1="684.0" y1="550.5" x2="687.1" y2="550.5" stroke="#8c8c8c" stroke-width="1.9"/><line x1="687.1" y1="550.5" x2="690.2" y2="550.5" stroke="#d23030" stroke-width="1.9"/><line x1="690.2" y1="550.5" x2="694.2" y2="550.2" stroke="#d23030" stroke-width="1.9"/><line x1="694.2" y1="550.2" x2="698.1" y2="550.0" stroke="#d23030" stroke-width="1.9"/><line x1="698.1" y1="550.0" x2="701.7" y2="549.7" stroke="#d23030" stroke-width="1.9"/><line x1="701.7" y1="549.7" x2="705.2" y2="549.3" stroke="#2c8a2c" stroke-width="1.9"/><line x1="705.2" y1="549.3" x2="708.2" y2="551.5" stroke="#2c8a2c" stroke-width="1.9"/><line x1="708.2" y1="551.5" x2="711.3" y2="553.7" stroke="#d23030" stroke-width="1.9"/><line x1="711.3" y1="553.7" x2="719.2" y2="552.6" stroke="#d23030" stroke-width="1.9"/><line x1="719.2" y1="552.6" x2="727.0" y2="551.5" stroke="#2c8a2c" stroke-width="1.9"/><line x1="727.0" y1="551.5" x2="723.4" y2="549.2" stroke="#2c8a2c" stroke-width="1.9"/><line x1="723.4" y1="549.2" x2="719.8" y2="546.9" stroke="#d23030" stroke-width="1.9"/><line x1="719.8" y1="546.9" x2="712.5" y2="548.1" stroke="#d23030" stroke-width="1.9"/><line x1="712.5" y1="548.1" x2="705.2" y2="549.3" stroke="#2c8a2c" stroke-width="1.9"/><line x1="727.0" y1="551.5" x2="730.5" y2="550.5" stroke="#2c8a2c" stroke-width="1.9"/><line x1="730.5" y1="550.5" x2="734.0" y2="549.5" stroke="#d23030" stroke-width="1.9"/><line x1="734.0" y1="549.5" x2="737.6" y2="549.2" stroke="#d23030" stroke-width="1.9"/><line x1="737.6" y1="549.2" x2="741.2" y2="548.9" stroke="#d23030" stroke-width="1.9"/><line x1="741.2" y1="548.9" x2="744.8" y2="549.2" stroke="#d23030" stroke-width="1.9"/><line x1="744.8" y1="549.2" x2="748.4" y2="549.5" stroke="#8c8c8c" stroke-width="1.9"/><line x1="748.4" y1="549.5" x2="750.1" y2="549.6" stroke="#8c8c8c" stroke-width="1.9"/><line x1="750.1" y1="549.6" x2="751.7" y2="549.7" stroke="#8c8c8c" stroke-width="1.9"/><line x1="751.7" y1="549.7" x2="753.1" y2="549.6" stroke="#8c8c8c" stroke-width="1.9"/><line x1="753.1" y1="549.6" x2="754.4" y2="549.5" stroke="#8c8c8c" stroke-width="1.9"/><line x1="707.3" y1="566.3" x2="709.4" y2="569.4" stroke="#d23030" stroke-width="1.9"/><line x1="709.4" y1="569.4" x2="711.4" y2="572.5" stroke="#8c8c8c" stroke-width="1.9"/><line x1="711.4" y1="572.5" x2="711.4" y2="577.4" stroke="#8c8c8c" stroke-width="1.9"/><line x1="711.4" y1="577.4" x2="711.4" y2="582.3" stroke="#3030d0" stroke-width="1.9"/><line x1="711.4" y1="582.3" x2="708.3" y2="584.9" stroke="#3030d0" stroke-width="1.9"/><line x1="708.3" y1="584.9" x2="705.2" y2="587.5" stroke="#8c8c8c" stroke-width="1.9"/><line x1="711.4" y1="582.3" x2="714.0" y2="585.8" stroke="#3030d0" stroke-width="1.9"/><line x1="714.0" y1="585.8" x2="716.6" y2="589.3" stroke="#8c8c8c" stroke-width="1.9"/><line x1="711.4" y1="572.5" x2="713.7" y2="573.2" stroke="#8c8c8c" stroke-width="1.9"/><line x1="713.7" y1="573.2" x2="715.9" y2="574.0" stroke="#40c0c8" stroke-width="1.9"/><line x1="705.2" y1="587.5" x2="705.4" y2="590.1" stroke="#8c8c8c" stroke-width="1.9"/><line x1="705.4" y1="590.1" x2="705.7" y2="592.7" stroke="#40c0c8" stroke-width="1.9"/><line x1="705.2" y1="587.5" x2="703.2" y2="589.2" stroke="#8c8c8c" stroke-width="1.9"/><line x1="703.2" y1="589.2" x2="701.2" y2="590.8" stroke="#40c0c8" stroke-width="1.9"/><line x1="705.2" y1="587.5" x2="702.7" y2="586.8" stroke="#8c8c8c" stroke-width="1.9"/><line x1="702.7" y1="586.8" x2="700.2" y2="586.2" stroke="#40c0c8" stroke-width="1.9"/><line x1="716.6" y1="589.3" x2="719.2" y2="589.2" stroke="#8c8c8c" stroke-width="1.9"/><line x1="719.2" y1="589.2" x2="721.8" y2="589.2" stroke="#40c0c8" stroke-width="1.9"/><line x1="716.6" y1="589.3" x2="718.2" y2="591.4" stroke="#8c8c8c" stroke-width="1.9"/><line x1="718.2" y1="591.4" x2="719.7" y2="593.5" stroke="#40c0c8" stroke-width="1.9"/><line x1="716.6" y1="589.3" x2="715.8" y2="591.8" stroke="#8c8c8c" stroke-width="1.9"/><line x1="715.8" y1="591.8" x2="715.0" y2="594.2" stroke="#40c0c8" stroke-width="1.9"/><line x1="705.2" y1="549.3" x2="706.2" y2="557.8" stroke="#2c8a2c" stroke-width="1.9"/><line x1="706.2" y1="557.8" x2="707.3" y2="566.3" stroke="#d23030" stroke-width="1.9"/><line x1="724.9" y1="534.5" x2="722.9" y2="531.4" stroke="#d23030" stroke-width="1.9"/><line x1="722.9" y1="531.4" x2="720.8" y2="528.3" stroke="#8c8c8c" stroke-width="1.9"/><line x1="720.8" y1="528.3" x2="720.8" y2="523.4" stroke="#8c8c8c" stroke-width="1.9"/><line x1="720.8" y1="523.4" x2="720.8" y2="518.5" stroke="#3030d0" stroke-width="1.9"/><line x1="720.8" y1="518.5" x2="723.9" y2="515.9" stroke="#3030d0" stroke-width="1.9"/><line x1="723.9" y1="515.9" x2="727.0" y2="513.3" stroke="#8c8c8c" stroke-width="1.9"/><line x1="720.8" y1="518.5" x2="718.2" y2="515.0" stroke="#3030d0" stroke-width="1.9"/><line x1="718.2" y1="515.0" x2="715.6" y2="511.5" stroke="#8c8c8c" stroke-width="1.9"/><line x1="720.8" y1="528.3" x2="718.6" y2="529.1" stroke="#8c8c8c" stroke-width="1.9"/><line x1="718.6" y1="529.1" x2="716.3" y2="529.8" stroke="#40c0c8" stroke-width="1.9"/><line x1="727.0" y1="513.3" x2="726.8" y2="510.7" stroke="#8c8c8c" stroke-width="1.9"/><line x1="726.8" y1="510.7" x2="726.5" y2="508.1" stroke="#40c0c8" stroke-width="1.9"/><line x1="727.0" y1="513.3" x2="729.0" y2="511.6" stroke="#8c8c8c" stroke-width="1.9"/><line x1="729.0" y1="511.6" x2="731.0" y2="510.0" stroke="#40c0c8" stroke-width="1.9"/><line x1="727.0" y1="513.3" x2="729.5" y2="514.0" stroke="#8c8c8c" stroke-width="1.9"/><line x1="729.5" y1="514.0" x2="732.0" y2="514.6" stroke="#40c0c8" stroke-width="1.9"/><line x1="715.6" y1="511.5" x2="713.0" y2="511.6" stroke="#8c8c8c" stroke-width="1.9"/><line x1="713.0" y1="511.6" x2="710.4" y2="511.6" stroke="#40c0c8" stroke-width="1.9"/><line x1="715.6" y1="511.5" x2="714.0" y2="509.4" stroke="#8c8c8c" stroke-width="1.9"/><line x1="714.0" y1="509.4" x2="712.5" y2="507.3" stroke="#40c0c8" stroke-width="1.9"/><line x1="715.6" y1="511.5" x2="716.4" y2="509.0" stroke="#8c8c8c" stroke-width="1.9"/><line x1="716.4" y1="509.0" x2="717.2" y2="506.6" stroke="#40c0c8" stroke-width="1.9"/><line x1="727.0" y1="551.5" x2="726.0" y2="543.0" stroke="#2c8a2c" stroke-width="1.9"/><line x1="726.0" y1="543.0" x2="724.9" y2="534.5" stroke="#d23030" stroke-width="1.9"/><line x1="731.0" y1="568.3" x2="734.9" y2="569.4" stroke="#d23030" stroke-width="1.9"/><line x1="734.9" y1="569.4" x2="738.8" y2="570.4" stroke="#8c8c8c" stroke-width="1.9"/><line x1="738.8" y1="570.4" x2="741.2" y2="575.0" stroke="#8c8c8c" stroke-width="1.9"/><line x1="741.2" y1="575.0" x2="743.6" y2="579.7" stroke="#3030d0" stroke-width="1.9"/><line x1="743.6" y1="579.7" x2="741.2" y2="583.6" stroke="#3030d0" stroke-width="1.9"/><line x1="741.2" y1="583.6" x2="738.8" y2="587.5" stroke="#8c8c8c" stroke-width="1.9"/><line x1="743.6" y1="579.7" x2="748.4" y2="581.2" stroke="#3030d0" stroke-width="1.9"/><line x1="748.4" y1="581.2" x2="753.2" y2="582.7" stroke="#8c8c8c" stroke-width="1.9"/><line x1="738.8" y1="570.4" x2="741.1" y2="571.1" stroke="#8c8c8c" stroke-width="1.9"/><line x1="741.1" y1="571.1" x2="743.3" y2="571.9" stroke="#40c0c8" stroke-width="1.9"/><line x1="738.8" y1="587.5" x2="739.8" y2="589.9" stroke="#8c8c8c" stroke-width="1.9"/><line x1="739.8" y1="589.9" x2="740.9" y2="592.3" stroke="#40c0c8" stroke-width="1.9"/><line x1="738.8" y1="587.5" x2="737.4" y2="589.7" stroke="#8c8c8c" stroke-width="1.9"/><line x1="737.4" y1="589.7" x2="736.1" y2="591.9" stroke="#40c0c8" stroke-width="1.9"/><line x1="738.8" y1="587.5" x2="736.2" y2="587.7" stroke="#8c8c8c" stroke-width="1.9"/><line x1="736.2" y1="587.7" x2="733.6" y2="587.8" stroke="#40c0c8" stroke-width="1.9"/><line x1="753.2" y1="582.7" x2="755.3" y2="581.1" stroke="#8c8c8c" stroke-width="1.9"/><line x1="755.3" y1="581.1" x2="757.3" y2="579.5" stroke="#40c0c8" stroke-width="1.9"/><line x1="753.2" y1="582.7" x2="755.7" y2="583.5" stroke="#8c8c8c" stroke-width="1.9"/><line x1="755.7" y1="583.5" x2="758.2" y2="584.3" stroke="#40c0c8" stroke-width="1.9"/><line x1="753.2" y1="582.7" x2="754.0" y2="585.2" stroke="#8c8c8c" stroke-width="1.9"/><line x1="754.0" y1="585.2" x2="754.8" y2="587.7" stroke="#40c0c8" stroke-width="1.9"/><line x1="727.0" y1="551.5" x2="729.0" y2="559.9" stroke="#2c8a2c" stroke-width="1.9"/><line x1="729.0" y1="559.9" x2="731.0" y2="568.3" stroke="#d23030" stroke-width="1.9"/><line x1="701.2" y1="532.5" x2="697.3" y2="531.5" stroke="#d23030" stroke-width="1.9"/><line x1="697.3" y1="531.5" x2="693.4" y2="530.4" stroke="#8c8c8c" stroke-width="1.9"/><line x1="693.4" y1="530.4" x2="691.0" y2="525.8" stroke="#8c8c8c" stroke-width="1.9"/><line x1="691.0" y1="525.8" x2="688.6" y2="521.1" stroke="#3030d0" stroke-width="1.9"/><line x1="688.6" y1="521.1" x2="691.0" y2="517.2" stroke="#3030d0" stroke-width="1.9"/><line x1="691.0" y1="517.2" x2="693.4" y2="513.3" stroke="#8c8c8c" stroke-width="1.9"/><line x1="688.6" y1="521.1" x2="683.8" y2="519.6" stroke="#3030d0" stroke-width="1.9"/><line x1="683.8" y1="519.6" x2="679.0" y2="518.1" stroke="#8c8c8c" stroke-width="1.9"/><line x1="693.4" y1="530.4" x2="691.2" y2="531.1" stroke="#8c8c8c" stroke-width="1.9"/><line x1="691.2" y1="531.1" x2="688.9" y2="531.9" stroke="#40c0c8" stroke-width="1.9"/><line x1="693.4" y1="513.3" x2="692.4" y2="510.9" stroke="#8c8c8c" stroke-width="1.9"/><line x1="692.4" y1="510.9" x2="691.3" y2="508.5" stroke="#40c0c8" stroke-width="1.9"/><line x1="693.4" y1="513.3" x2="694.8" y2="511.1" stroke="#8c8c8c" stroke-width="1.9"/><line x1="694.8" y1="511.1" x2="696.1" y2="508.9" stroke="#40c0c8" stroke-width="1.9"/><line x1="693.4" y1="513.3" x2="696.0" y2="513.1" stroke="#8c8c8c" stroke-width="1.9"/><line x1="696.0" y1="513.1" x2="698.6" y2="513.0" stroke="#40c0c8" stroke-width="1.9"/><line x1="679.0" y1="518.1" x2="676.9" y2="519.7" stroke="#8c8c8c" stroke-width="1.9"/><line x1="676.9" y1="519.7" x2="674.9" y2="521.3" stroke="#40c0c8" stroke-width="1.9"/><line x1="679.0" y1="518.1" x2="676.5" y2="517.3" stroke="#8c8c8c" stroke-width="1.9"/><line x1="676.5" y1="517.3" x2="674.0" y2="516.5" stroke="#40c0c8" stroke-width="1.9"/><line x1="679.0" y1="518.1" x2="678.2" y2="515.6" stroke="#8c8c8c" stroke-width="1.9"/><line x1="678.2" y1="515.6" x2="677.4" y2="513.1" stroke="#40c0c8" stroke-width="1.9"/><line x1="705.2" y1="549.3" x2="703.2" y2="540.9" stroke="#2c8a2c" stroke-width="1.9"/><line x1="703.2" y1="540.9" x2="701.2" y2="532.5" stroke="#d23030" stroke-width="1.9"/><line x1="828.7" y1="550.1" x2="830.5" y2="550.1" stroke="#8c8c8c" stroke-width="1.9"/><line x1="830.5" y1="550.1" x2="832.3" y2="550.1" stroke="#8c8c8c" stroke-width="1.9"/><line x1="832.3" y1="550.1" x2="833.9" y2="550.3" stroke="#8c8c8c" stroke-width="1.9"/><line x1="833.9" y1="550.3" x2="835.5" y2="550.5" stroke="#8c8c8c" stroke-width="1.9"/><line x1="835.5" y1="550.5" x2="838.6" y2="550.5" stroke="#8c8c8c" stroke-width="1.9"/><line x1="838.6" y1="550.5" x2="841.7" y2="550.5" stroke="#d23030" stroke-width="1.9"/><line x1="841.7" y1="550.5" x2="845.7" y2="550.2" stroke="#d23030" stroke-width="1.9"/><line x1="845.7" y1="550.2" x2="849.6" y2="550.0" stroke="#d23030" stroke-width="1.9"/><line x1="849.6" y1="550.0" x2="853.2" y2="549.7" stroke="#d23030" stroke-width="1.9"/><line x1="853.2" y1="549.7" x2="856.7" y2="549.3" stroke="#2c8a2c" stroke-width="1.9"/><line x1="856.7" y1="549.3" x2="859.8" y2="551.5" stroke="#2c8a2c" stroke-width="1.9"/><line x1="859.8" y1="551.5" x2="862.8" y2="553.7" stroke="#d23030" stroke-width="1.9"/><line x1="862.8" y1="553.7" x2="870.7" y2="552.6" stroke="#d23030" stroke-width="1.9"/><line x1="870.7" y1="552.6" x2="878.5" y2="551.5" stroke="#2c8a2c" stroke-width="1.9"/><line x1="878.5" y1="551.5" x2="874.9" y2="549.2" stroke="#2c8a2c" stroke-width="1.9"/><line x1="874.9" y1="549.2" x2="871.3" y2="546.9" stroke="#d23030" stroke-width="1.9"/><line x1="871.3" y1="546.9" x2="864.0" y2="548.1" stroke="#d23030" stroke-width="1.9"/><line x1="864.0" y1="548.1" x2="856.7" y2="549.3" stroke="#2c8a2c" stroke-width="1.9"/><line x1="878.5" y1="551.5" x2="882.0" y2="550.5" stroke="#2c8a2c" stroke-width="1.9"/><line x1="882.0" y1="550.5" x2="885.5" y2="549.5" stroke="#d23030" stroke-width="1.9"/><line x1="885.5" y1="549.5" x2="889.1" y2="549.2" stroke="#d23030" stroke-width="1.9"/><line x1="889.1" y1="549.2" x2="892.7" y2="548.9" stroke="#d23030" stroke-width="1.9"/><line x1="892.7" y1="548.9" x2="896.3" y2="549.2" stroke="#d23030" stroke-width="1.9"/><line x1="896.3" y1="549.2" x2="899.9" y2="549.5" stroke="#8c8c8c" stroke-width="1.9"/><line x1="899.9" y1="549.5" x2="901.6" y2="549.6" stroke="#8c8c8c" stroke-width="1.9"/><line x1="901.6" y1="549.6" x2="903.2" y2="549.7" stroke="#8c8c8c" stroke-width="1.9"/><line x1="903.2" y1="549.7" x2="904.6" y2="549.6" stroke="#8c8c8c" stroke-width="1.9"/><line x1="904.6" y1="549.6" x2="905.9" y2="549.5" stroke="#8c8c8c" stroke-width="1.9"/><line x1="858.8" y1="566.3" x2="860.9" y2="569.4" stroke="#d23030" stroke-width="1.9"/><line x1="860.9" y1="569.4" x2="862.9" y2="572.5" stroke="#8c8c8c" stroke-width="1.9"/><line x1="862.9" y1="572.5" x2="862.9" y2="577.4" stroke="#8c8c8c" stroke-width="1.9"/><line x1="862.9" y1="577.4" x2="862.9" y2="582.3" stroke="#3030d0" stroke-width="1.9"/><line x1="862.9" y1="582.3" x2="859.8" y2="584.9" stroke="#3030d0" stroke-width="1.9"/><line x1="859.8" y1="584.9" x2="856.7" y2="587.5" stroke="#8c8c8c" stroke-width="1.9"/><line x1="862.9" y1="582.3" x2="865.5" y2="585.8" stroke="#3030d0" stroke-width="1.9"/><line x1="865.5" y1="585.8" x2="868.1" y2="589.3" stroke="#8c8c8c" stroke-width="1.9"/><line x1="862.9" y1="572.5" x2="865.2" y2="573.2" stroke="#8c8c8c" stroke-width="1.9"/><line x1="865.2" y1="573.2" x2="867.4" y2="574.0" stroke="#40c0c8" stroke-width="1.9"/><line x1="856.7" y1="587.5" x2="856.9" y2="590.1" stroke="#8c8c8c" stroke-width="1.9"/><line x1="856.9" y1="590.1" x2="857.2" y2="592.7" stroke="#40c0c8" stroke-width="1.9"/><line x1="856.7" y1="587.5" x2="854.7" y2="589.2" stroke="#8c8c8c" stroke-width="1.9"/><line x1="854.7" y1="589.2" x2="852.7" y2="590.8" stroke="#40c0c8" stroke-width="1.9"/><line x1="856.7" y1="587.5" x2="854.2" y2="586.8" stroke="#8c8c8c" stroke-width="1.9"/><line x1="854.2" y1="586.8" x2="851.7" y2="586.2" stroke="#40c0c8" stroke-width="1.9"/><line x1="868.1" y1="589.3" x2="870.7" y2="589.2" stroke="#8c8c8c" stroke-width="1.9"/><line x1="870.7" y1="589.2" x2="873.3" y2="589.2" stroke="#40c0c8" stroke-width="1.9"/><line x1="868.1" y1="589.3" x2="869.7" y2="591.4" stroke="#8c8c8c" stroke-width="1.9"/><line x1="869.7" y1="591.4" x2="871.2" y2="593.5" stroke="#40c0c8" stroke-width="1.9"/><line x1="868.1" y1="589.3" x2="867.3" y2="591.8" stroke="#8c8c8c" stroke-width="1.9"/><line x1="867.3" y1="591.8" x2="866.5" y2="594.2" stroke="#40c0c8" stroke-width="1.9"/><line x1="856.7" y1="549.3" x2="857.8" y2="557.8" stroke="#2c8a2c" stroke-width="1.9"/><line x1="857.8" y1="557.8" x2="858.8" y2="566.3" stroke="#d23030" stroke-width="1.9"/><line x1="876.4" y1="534.5" x2="874.4" y2="531.4" stroke="#d23030" stroke-width="1.9"/><line x1="874.4" y1="531.4" x2="872.3" y2="528.3" stroke="#8c8c8c" stroke-width="1.9"/><line x1="872.3" y1="528.3" x2="872.3" y2="523.4" stroke="#8c8c8c" stroke-width="1.9"/><line x1="872.3" y1="523.4" x2="872.3" y2="518.5" stroke="#3030d0" stroke-width="1.9"/><line x1="872.3" y1="518.5" x2="875.4" y2="515.9" stroke="#3030d0" stroke-width="1.9"/><line x1="875.4" y1="515.9" x2="878.5" y2="513.3" stroke="#8c8c8c" stroke-width="1.9"/><line x1="872.3" y1="518.5" x2="869.7" y2="515.0" stroke="#3030d0" stroke-width="1.9"/><line x1="869.7" y1="515.0" x2="867.1" y2="511.5" stroke="#8c8c8c" stroke-width="1.9"/><line x1="872.3" y1="528.3" x2="870.1" y2="529.1" stroke="#8c8c8c" stroke-width="1.9"/><line x1="870.1" y1="529.1" x2="867.8" y2="529.8" stroke="#40c0c8" stroke-width="1.9"/><line x1="878.5" y1="513.3" x2="878.3" y2="510.7" stroke="#8c8c8c" stroke-width="1.9"/><line x1="878.3" y1="510.7" x2="878.0" y2="508.1" stroke="#40c0c8" stroke-width="1.9"/><line x1="878.5" y1="513.3" x2="880.5" y2="511.6" stroke="#8c8c8c" stroke-width="1.9"/><line x1="880.5" y1="511.6" x2="882.5" y2="510.0" stroke="#40c0c8" stroke-width="1.9"/><line x1="878.5" y1="513.3" x2="881.0" y2="514.0" stroke="#8c8c8c" stroke-width="1.9"/><line x1="881.0" y1="514.0" x2="883.5" y2="514.6" stroke="#40c0c8" stroke-width="1.9"/><line x1="867.1" y1="511.5" x2="864.5" y2="511.6" stroke="#8c8c8c" stroke-width="1.9"/><line x1="864.5" y1="511.6" x2="861.9" y2="511.6" stroke="#40c0c8" stroke-width="1.9"/><line x1="867.1" y1="511.5" x2="865.5" y2="509.4" stroke="#8c8c8c" stroke-width="1.9"/><line x1="865.5" y1="509.4" x2="864.0" y2="507.3" stroke="#40c0c8" stroke-width="1.9"/><line x1="867.1" y1="511.5" x2="867.9" y2="509.0" stroke="#8c8c8c" stroke-width="1.9"/><line x1="867.9" y1="509.0" x2="868.7" y2="506.6" stroke="#40c0c8" stroke-width="1.9"/><line x1="878.5" y1="551.5" x2="877.5" y2="543.0" stroke="#2c8a2c" stroke-width="1.9"/><line x1="877.5" y1="543.0" x2="876.4" y2="534.5" stroke="#d23030" stroke-width="1.9"/><line x1="882.5" y1="568.3" x2="886.4" y2="569.4" stroke="#d23030" stroke-width="1.9"/><line x1="886.4" y1="569.4" x2="890.3" y2="570.4" stroke="#8c8c8c" stroke-width="1.9"/><line x1="890.3" y1="570.4" x2="892.7" y2="575.0" stroke="#8c8c8c" stroke-width="1.9"/><line x1="892.7" y1="575.0" x2="895.1" y2="579.7" stroke="#3030d0" stroke-width="1.9"/><line x1="895.1" y1="579.7" x2="892.7" y2="583.6" stroke="#3030d0" stroke-width="1.9"/><line x1="892.7" y1="583.6" x2="890.3" y2="587.5" stroke="#8c8c8c" stroke-width="1.9"/><line x1="895.1" y1="579.7" x2="899.9" y2="581.2" stroke="#3030d0" stroke-width="1.9"/><line x1="899.9" y1="581.2" x2="904.7" y2="582.7" stroke="#8c8c8c" stroke-width="1.9"/><line x1="890.3" y1="570.4" x2="892.6" y2="571.1" stroke="#8c8c8c" stroke-width="1.9"/><line x1="892.6" y1="571.1" x2="894.8" y2="571.9" stroke="#40c0c8" stroke-width="1.9"/><line x1="890.3" y1="587.5" x2="891.3" y2="589.9" stroke="#8c8c8c" stroke-width="1.9"/><line x1="891.3" y1="589.9" x2="892.4" y2="592.3" stroke="#40c0c8" stroke-width="1.9"/><line x1="890.3" y1="587.5" x2="888.9" y2="589.7" stroke="#8c8c8c" stroke-width="1.9"/><line x1="888.9" y1="589.7" x2="887.6" y2="591.9" stroke="#40c0c8" stroke-width="1.9"/><line x1="890.3" y1="587.5" x2="887.7" y2="587.7" stroke="#8c8c8c" stroke-width="1.9"/><line x1="887.7" y1="587.7" x2="885.1" y2="587.8" stroke="#40c0c8" stroke-width="1.9"/><line x1="904.7" y1="582.7" x2="906.8" y2="581.1" stroke="#8c8c8c" stroke-width="1.9"/><line x1="906.8" y1="581.1" x2="908.8" y2="579.5" stroke="#40c0c8" stroke-width="1.9"/><line x1="904.7" y1="582.7" x2="907.2" y2="583.5" stroke="#8c8c8c" stroke-width="1.9"/><line x1="907.2" y1="583.5" x2="909.7" y2="584.3" stroke="#40c0c8" stroke-width="1.9"/><line x1="904.7" y1="582.7" x2="905.5" y2="585.2" stroke="#8c8c8c" stroke-width="1.9"/><line x1="905.5" y1="585.2" x2="906.3" y2="587.7" stroke="#40c0c8" stroke-width="1.9"/><line x1="878.5" y1="551.5" x2="880.5" y2="559.9" stroke="#2c8a2c" stroke-width="1.9"/><line x1="880.5" y1="559.9" x2="882.5" y2="568.3" stroke="#d23030" stroke-width="1.9"/><line x1="852.7" y1="532.5" x2="848.8" y2="531.5" stroke="#d23030" stroke-width="1.9"/><line x1="848.8" y1="531.5" x2="844.9" y2="530.4" stroke="#8c8c8c" stroke-width="1.9"/><line x1="844.9" y1="530.4" x2="842.5" y2="525.8" stroke="#8c8c8c" stroke-width="1.9"/><line x1="842.5" y1="525.8" x2="840.1" y2="521.1" stroke="#3030d0" stroke-width="1.9"/><line x1="840.1" y1="521.1" x2="842.5" y2="517.2" stroke="#3030d0" stroke-width="1.9"/><line x1="842.5" y1="517.2" x2="844.9" y2="513.3" stroke="#8c8c8c" stroke-width="1.9"/><line x1="840.1" y1="521.1" x2="835.3" y2="519.6" stroke="#3030d0" stroke-width="1.9"/><line x1="835.3" y1="519.6" x2="830.5" y2="518.1" stroke="#8c8c8c" stroke-width="1.9"/><line x1="844.9" y1="530.4" x2="842.7" y2="531.1" stroke="#8c8c8c" stroke-width="1.9"/><line x1="842.7" y1="531.1" x2="840.4" y2="531.9" stroke="#40c0c8" stroke-width="1.9"/><line x1="844.9" y1="513.3" x2="843.9" y2="510.9" stroke="#8c8c8c" stroke-width="1.9"/><line x1="843.9" y1="510.9" x2="842.8" y2="508.5" stroke="#40c0c8" stroke-width="1.9"/><line x1="844.9" y1="513.3" x2="846.3" y2="511.1" stroke="#8c8c8c" stroke-width="1.9"/><line x1="846.3" y1="511.1" x2="847.6" y2="508.9" stroke="#40c0c8" stroke-width="1.9"/><line x1="844.9" y1="513.3" x2="847.5" y2="513.1" stroke="#8c8c8c" stroke-width="1.9"/><line x1="847.5" y1="513.1" x2="850.1" y2="513.0" stroke="#40c0c8" stroke-width="1.9"/><line x1="830.5" y1="518.1" x2="828.4" y2="519.7" stroke="#8c8c8c" stroke-width="1.9"/><line x1="828.4" y1="519.7" x2="826.4" y2="521.3" stroke="#40c0c8" stroke-width="1.9"/><line x1="830.5" y1="518.1" x2="828.0" y2="517.3" stroke="#8c8c8c" stroke-width="1.9"/><line x1="828.0" y1="517.3" x2="825.5" y2="516.5" stroke="#40c0c8" stroke-width="1.9"/><line x1="830.5" y1="518.1" x2="829.7" y2="515.6" stroke="#8c8c8c" stroke-width="1.9"/><line x1="829.7" y1="515.6" x2="828.9" y2="513.1" stroke="#40c0c8" stroke-width="1.9"/><line x1="856.7" y1="549.3" x2="854.7" y2="540.9" stroke="#2c8a2c" stroke-width="1.9"/><line x1="854.7" y1="540.9" x2="852.7" y2="532.5" stroke="#d23030" stroke-width="1.9"/><line x1="980.2" y1="550.1" x2="982.0" y2="550.1" stroke="#8c8c8c" stroke-width="1.9"/><line x1="982.0" y1="550.1" x2="983.8" y2="550.1" stroke="#8c8c8c" stroke-width="1.9"/><line x1="983.8" y1="550.1" x2="985.4" y2="550.3" stroke="#8c8c8c" stroke-width="1.9"/><line x1="985.4" y1="550.3" x2="987.0" y2="550.5" stroke="#8c8c8c" stroke-width="1.9"/><line x1="987.0" y1="550.5" x2="990.1" y2="550.5" stroke="#8c8c8c" stroke-width="1.9"/><line x1="990.1" y1="550.5" x2="993.2" y2="550.5" stroke="#d23030" stroke-width="1.9"/><line x1="993.2" y1="550.5" x2="997.2" y2="550.2" stroke="#d23030" stroke-width="1.9"/><line x1="997.2" y1="550.2" x2="1001.1" y2="550.0" stroke="#d23030" stroke-width="1.9"/><line x1="1001.1" y1="550.0" x2="1004.7" y2="549.7" stroke="#d23030" stroke-width="1.9"/><line x1="1004.7" y1="549.7" x2="1008.2" y2="549.3" stroke="#2c8a2c" stroke-width="1.9"/><line x1="1008.2" y1="549.3" x2="1011.2" y2="551.5" stroke="#2c8a2c" stroke-width="1.9"/><line x1="1011.2" y1="551.5" x2="1014.3" y2="553.7" stroke="#d23030" stroke-width="1.9"/><line x1="1014.3" y1="553.7" x2="1022.2" y2="552.6" stroke="#d23030" stroke-width="1.9"/><line x1="1022.2" y1="552.6" x2="1030.0" y2="551.5" stroke="#2c8a2c" stroke-width="1.9"/><line x1="1030.0" y1="551.5" x2="1026.4" y2="549.2" stroke="#2c8a2c" stroke-width="1.9"/><line x1="1026.4" y1="549.2" x2="1022.8" y2="546.9" stroke="#d23030" stroke-width="1.9"/><line x1="1022.8" y1="546.9" x2="1015.5" y2="548.1" stroke="#d23030" stroke-width="1.9"/><line x1="1015.5" y1="548.1" x2="1008.2" y2="549.3" stroke="#2c8a2c" stroke-width="1.9"/><line x1="1030.0" y1="551.5" x2="1033.5" y2="550.5" stroke="#2c8a2c" stroke-width="1.9"/><line x1="1033.5" y1="550.5" x2="1037.0" y2="549.5" stroke="#d23030" stroke-width="1.9"/><line x1="1037.0" y1="549.5" x2="1040.6" y2="549.2" stroke="#d23030" stroke-width="1.9"/><line x1="1040.6" y1="549.2" x2="1044.2" y2="548.9" stroke="#d23030" stroke-width="1.9"/><line x1="1044.2" y1="548.9" x2="1047.8" y2="549.2" stroke="#d23030" stroke-width="1.9"/><line x1="1047.8" y1="549.2" x2="1051.4" y2="549.5" stroke="#8c8c8c" stroke-width="1.9"/><line x1="1051.4" y1="549.5" x2="1053.1" y2="549.6" stroke="#8c8c8c" stroke-width="1.9"/><line x1="1053.1" y1="549.6" x2="1054.7" y2="549.7" stroke="#8c8c8c" stroke-width="1.9"/><line x1="1054.7" y1="549.7" x2="1056.1" y2="549.6" stroke="#8c8c8c" stroke-width="1.9"/><line x1="1056.1" y1="549.6" x2="1057.4" y2="549.5" stroke="#8c8c8c" stroke-width="1.9"/><line x1="1010.3" y1="566.3" x2="1012.4" y2="569.4" stroke="#d23030" stroke-width="1.9"/><line x1="1012.4" y1="569.4" x2="1014.4" y2="572.5" stroke="#8c8c8c" stroke-width="1.9"/><line x1="1014.4" y1="572.5" x2="1014.4" y2="577.4" stroke="#8c8c8c" stroke-width="1.9"/><line x1="1014.4" y1="577.4" x2="1014.4" y2="582.3" stroke="#3030d0" stroke-width="1.9"/><line x1="1014.4" y1="582.3" x2="1011.3" y2="584.9" stroke="#3030d0" stroke-width="1.9"/><line x1="1011.3" y1="584.9" x2="1008.2" y2="587.5" stroke="#8c8c8c" stroke-width="1.9"/><line x1="1014.4" y1="582.3" x2="1017.0" y2="585.8" stroke="#3030d0" stroke-width="1.9"/><line x1="1017.0" y1="585.8" x2="1019.6" y2="589.3" stroke="#8c8c8c" stroke-width="1.9"/><line x1="1014.4" y1="572.5" x2="1016.7" y2="573.2" stroke="#8c8c8c" stroke-width="1.9"/><line x1="1016.7" y1="573.2" x2="1018.9" y2="574.0" stroke="#40c0c8" stroke-width="1.9"/><line x1="1008.2" y1="587.5" x2="1008.4" y2="590.1" stroke="#8c8c8c" stroke-width="1.9"/><line x1="1008.4" y1="590.1" x2="1008.7" y2="592.7" stroke="#40c0c8" stroke-width="1.9"/><line x1="1008.2" y1="587.5" x2="1006.2" y2="589.2" stroke="#8c8c8c" stroke-width="1.9"/><line x1="1006.2" y1="589.2" x2="1004.2" y2="590.8" stroke="#40c0c8" stroke-width="1.9"/><line x1="1008.2" y1="587.5" x2="1005.7" y2="586.8" stroke="#8c8c8c" stroke-width="1.9"/><line x1="1005.7" y1="586.8" x2="1003.2" y2="586.2" stroke="#40c0c8" stroke-width="1.9"/><line x1="1019.6" y1="589.3" x2="1022.2" y2="589.2" stroke="#8c8c8c" stroke-width="1.9"/><line x1="1022.2" y1="589.2" x2="1024.8" y2="589.2" stroke="#40c0c8" stroke-width="1.9"/><line x1="1019.6" y1="589.3" x2="1021.2" y2="591.4" stroke="#8c8c8c" stroke-width="1.9"/><line x1="1021.2" y1="591.4" x2="1022.7" y2="593.5" stroke="#40c0c8" stroke-width="1.9"/><line x1="1019.6" y1="589.3" x2="1018.8" y2="591.8" stroke="#8c8c8c" stroke-width="1.9"/><line x1="1018.8" y1="591.8" x2="1018.0" y2="594.2" stroke="#40c0c8" stroke-width="1.9"/><line x1="1008.2" y1="549.3" x2="1009.2" y2="557.8" stroke="#2c8a2c" stroke-width="1.9"/><line x1="1009.2" y1="557.8" x2="1010.3" y2="566.3" stroke="#d23030" stroke-width="1.9"/><line x1="1027.9" y1="534.5" x2="1025.9" y2="531.4" stroke="#d23030" stroke-width="1.9"/><line x1="1025.9" y1="531.4" x2="1023.8" y2="528.3" stroke="#8c8c8c" stroke-width="1.9"/><line x1="1023.8" y1="528.3" x2="1023.8" y2="523.4" stroke="#8c8c8c" stroke-width="1.9"/><line x1="1023.8" y1="523.4" x2="1023.8" y2="518.5" stroke="#3030d0" stroke-width="1.9"/><line x1="1023.8" y1="518.5" x2="1026.9" y2="515.9" stroke="#3030d0" stroke-width="1.9"/><line x1="1026.9" y1="515.9" x2="1030.0" y2="513.3" stroke="#8c8c8c" stroke-width="1.9"/><line x1="1023.8" y1="518.5" x2="1021.2" y2="515.0" stroke="#3030d0" stroke-width="1.9"/><line x1="1021.2" y1="515.0" x2="1018.6" y2="511.5" stroke="#8c8c8c" stroke-width="1.9"/><line x1="1023.8" y1="528.3" x2="1021.6" y2="529.1" stroke="#8c8c8c" stroke-width="1.9"/><line x1="1021.6" y1="529.1" x2="1019.3" y2="529.8" stroke="#40c0c8" stroke-width="1.9"/><line x1="1030.0" y1="513.3" x2="1029.8" y2="510.7" stroke="#8c8c8c" stroke-width="1.9"/><line x1="1029.8" y1="510.7" x2="1029.5" y2="508.1" stroke="#40c0c8" stroke-width="1.9"/><line x1="1030.0" y1="513.3" x2="1032.0" y2="511.6" stroke="#8c8c8c" stroke-width="1.9"/><line x1="1032.0" y1="511.6" x2="1034.0" y2="510.0" stroke="#40c0c8" stroke-width="1.9"/><line x1="1030.0" y1="513.3" x2="1032.5" y2="514.0" stroke="#8c8c8c" stroke-width="1.9"/><line x1="1032.5" y1="514.0" x2="1035.0" y2="514.6" stroke="#40c0c8" stroke-width="1.9"/><line x1="1018.6" y1="511.5" x2="1016.0" y2="511.6" stroke="#8c8c8c" stroke-width="1.9"/><line x1="1016.0" y1="511.6" x2="1013.4" y2="511.6" stroke="#40c0c8" stroke-width="1.9"/><line x1="1018.6" y1="511.5" x2="1017.0" y2="509.4" stroke="#8c8c8c" stroke-width="1.9"/><line x1="1017.0" y1="509.4" x2="1015.5" y2="507.3" stroke="#40c0c8" stroke-width="1.9"/><line x1="1018.6" y1="511.5" x2="1019.4" y2="509.0" stroke="#8c8c8c" stroke-width="1.9"/><line x1="1019.4" y1="509.0" x2="1020.2" y2="506.6" stroke="#40c0c8" stroke-width="1.9"/><line x1="1030.0" y1="551.5" x2="1029.0" y2="543.0" stroke="#2c8a2c" stroke-width="1.9"/><line x1="1029.0" y1="543.0" x2="1027.9" y2="534.5" stroke="#d23030" stroke-width="1.9"/><line x1="1034.0" y1="568.3" x2="1037.9" y2="569.4" stroke="#d23030" stroke-width="1.9"/><line x1="1037.9" y1="569.4" x2="1041.8" y2="570.4" stroke="#8c8c8c" stroke-width="1.9"/><line x1="1041.8" y1="570.4" x2="1044.2" y2="575.0" stroke="#8c8c8c" stroke-width="1.9"/><line x1="1044.2" y1="575.0" x2="1046.6" y2="579.7" stroke="#3030d0" stroke-width="1.9"/><line x1="1046.6" y1="579.7" x2="1044.2" y2="583.6" stroke="#3030d0" stroke-width="1.9"/><line x1="1044.2" y1="583.6" x2="1041.8" y2="587.5" stroke="#8c8c8c" stroke-width="1.9"/><line x1="1046.6" y1="579.7" x2="1051.4" y2="581.2" stroke="#3030d0" stroke-width="1.9"/><line x1="1051.4" y1="581.2" x2="1056.2" y2="582.7" stroke="#8c8c8c" stroke-width="1.9"/><line x1="1041.8" y1="570.4" x2="1044.0" y2="571.1" stroke="#8c8c8c" stroke-width="1.9"/><line x1="1044.0" y1="571.1" x2="1046.3" y2="571.9" stroke="#40c0c8" stroke-width="1.9"/><line x1="1041.8" y1="587.5" x2="1042.8" y2="589.9" stroke="#8c8c8c" stroke-width="1.9"/><line x1="1042.8" y1="589.9" x2="1043.9" y2="592.3" stroke="#40c0c8" stroke-width="1.9"/><line x1="1041.8" y1="587.5" x2="1040.4" y2="589.7" stroke="#8c8c8c" stroke-width="1.9"/><line x1="1040.4" y1="589.7" x2="1039.1" y2="591.9" stroke="#40c0c8" stroke-width="1.9"/><line x1="1041.8" y1="587.5" x2="1039.2" y2="587.7" stroke="#8c8c8c" stroke-width="1.9"/><line x1="1039.2" y1="587.7" x2="1036.6" y2="587.8" stroke="#40c0c8" stroke-width="1.9"/><line x1="1056.2" y1="582.7" x2="1058.3" y2="581.1" stroke="#8c8c8c" stroke-width="1.9"/><line x1="1058.3" y1="581.1" x2="1060.3" y2="579.5" stroke="#40c0c8" stroke-width="1.9"/><line x1="1056.2" y1="582.7" x2="1058.7" y2="583.5" stroke="#8c8c8c" stroke-width="1.9"/><line x1="1058.7" y1="583.5" x2="1061.2" y2="584.3" stroke="#40c0c8" stroke-width="1.9"/><line x1="1056.2" y1="582.7" x2="1057.0" y2="585.2" stroke="#8c8c8c" stroke-width="1.9"/><line x1="1057.0" y1="585.2" x2="1057.8" y2="587.7" stroke="#40c0c8" stroke-width="1.9"/><line x1="1030.0" y1="551.5" x2="1032.0" y2="559.9" stroke="#2c8a2c" stroke-width="1.9"/><line x1="1032.0" y1="559.9" x2="1034.0" y2="568.3" stroke="#d23030" stroke-width="1.9"/><line x1="1004.2" y1="532.5" x2="1000.3" y2="531.5" stroke="#d23030" stroke-width="1.9"/><line x1="1000.3" y1="531.5" x2="996.4" y2="530.4" stroke="#8c8c8c" stroke-width="1.9"/><line x1="996.4" y1="530.4" x2="994.0" y2="525.8" stroke="#8c8c8c" stroke-width="1.9"/><line x1="994.0" y1="525.8" x2="991.6" y2="521.1" stroke="#3030d0" stroke-width="1.9"/><line x1="991.6" y1="521.1" x2="994.0" y2="517.2" stroke="#3030d0" stroke-width="1.9"/><line x1="994.0" y1="517.2" x2="996.4" y2="513.3" stroke="#8c8c8c" stroke-width="1.9"/><line x1="991.6" y1="521.1" x2="986.8" y2="519.6" stroke="#3030d0" stroke-width="1.9"/><line x1="986.8" y1="519.6" x2="982.0" y2="518.1" stroke="#8c8c8c" stroke-width="1.9"/><line x1="996.4" y1="530.4" x2="994.2" y2="531.1" stroke="#8c8c8c" stroke-width="1.9"/><line x1="994.2" y1="531.1" x2="991.9" y2="531.9" stroke="#40c0c8" stroke-width="1.9"/><line x1="996.4" y1="513.3" x2="995.4" y2="510.9" stroke="#8c8c8c" stroke-width="1.9"/><line x1="995.4" y1="510.9" x2="994.3" y2="508.5" stroke="#40c0c8" stroke-width="1.9"/><line x1="996.4" y1="513.3" x2="997.8" y2="511.1" stroke="#8c8c8c" stroke-width="1.9"/><line x1="997.8" y1="511.1" x2="999.1" y2="508.9" stroke="#40c0c8" stroke-width="1.9"/><line x1="996.4" y1="513.3" x2="999.0" y2="513.1" stroke="#8c8c8c" stroke-width="1.9"/><line x1="999.0" y1="513.1" x2="1001.6" y2="513.0" stroke="#40c0c8" stroke-width="1.9"/><line x1="982.0" y1="518.1" x2="979.9" y2="519.7" stroke="#8c8c8c" stroke-width="1.9"/><line x1="979.9" y1="519.7" x2="977.9" y2="521.3" stroke="#40c0c8" stroke-width="1.9"/><line x1="982.0" y1="518.1" x2="979.5" y2="517.3" stroke="#8c8c8c" stroke-width="1.9"/><line x1="979.5" y1="517.3" x2="977.0" y2="516.5" stroke="#40c0c8" stroke-width="1.9"/><line x1="982.0" y1="518.1" x2="981.2" y2="515.6" stroke="#8c8c8c" stroke-width="1.9"/><line x1="981.2" y1="515.6" x2="980.4" y2="513.1" stroke="#40c0c8" stroke-width="1.9"/><line x1="1008.2" y1="549.3" x2="1006.2" y2="540.9" stroke="#2c8a2c" stroke-width="1.9"/><line x1="1006.2" y1="540.9" x2="1004.2" y2="532.5" stroke="#d23030" stroke-width="1.9"/><line x1="765.1" y1="550.1" x2="767.2" y2="554.2" stroke="#3030d0" stroke-width="1.9"/><line x1="767.2" y1="554.2" x2="769.4" y2="558.2" stroke="#8c8c8c" stroke-width="1.9"/><line x1="765.1" y1="550.1" x2="767.8" y2="545.5" stroke="#3030d0" stroke-width="1.9"/><line x1="767.8" y1="545.5" x2="770.5" y2="540.8" stroke="#8c8c8c" stroke-width="1.9"/><line x1="769.4" y1="558.2" x2="766.4" y2="561.8" stroke="#8c8c8c" stroke-width="1.9"/><line x1="766.4" y1="561.8" x2="763.3" y2="565.4" stroke="#d23030" stroke-width="1.9"/><line x1="770.5" y1="540.8" x2="768.6" y2="537.7" stroke="#8c8c8c" stroke-width="1.9"/><line x1="768.6" y1="537.7" x2="766.7" y2="534.5" stroke="#d23030" stroke-width="1.9"/><line x1="818.9" y1="550.1" x2="815.6" y2="554.2" stroke="#3030d0" stroke-width="1.9"/><line x1="815.6" y1="554.2" x2="812.3" y2="558.2" stroke="#8c8c8c" stroke-width="1.9"/><line x1="818.9" y1="550.1" x2="816.5" y2="545.5" stroke="#3030d0" stroke-width="1.9"/><line x1="816.5" y1="545.5" x2="814.1" y2="540.8" stroke="#8c8c8c" stroke-width="1.9"/><line x1="812.3" y1="558.2" x2="814.5" y2="561.9" stroke="#8c8c8c" stroke-width="1.9"/><line x1="814.5" y1="561.9" x2="816.6" y2="565.6" stroke="#d23030" stroke-width="1.9"/><line x1="814.1" y1="540.8" x2="817.0" y2="537.7" stroke="#8c8c8c" stroke-width="1.9"/><line x1="817.0" y1="537.7" x2="819.8" y2="534.5" stroke="#d23030" stroke-width="1.9"/><line x1="769.4" y1="558.2" x2="774.5" y2="558.2" stroke="#8c8c8c" stroke-width="1.9"/><line x1="774.5" y1="558.2" x2="779.5" y2="558.2" stroke="#8c8c8c" stroke-width="1.9"/><line x1="770.5" y1="540.8" x2="776.1" y2="541.0" stroke="#8c8c8c" stroke-width="1.9"/><line x1="776.1" y1="541.0" x2="781.7" y2="541.1" stroke="#8c8c8c" stroke-width="1.9"/><line x1="779.5" y1="558.2" x2="782.1" y2="562.5" stroke="#8c8c8c" stroke-width="1.9"/><line x1="782.1" y1="562.5" x2="784.7" y2="566.9" stroke="#8c8c8c" stroke-width="1.9"/><line x1="784.7" y1="566.9" x2="789.9" y2="566.9" stroke="#8c8c8c" stroke-width="1.9"/><line x1="789.9" y1="566.9" x2="795.0" y2="566.9" stroke="#8c8c8c" stroke-width="1.9"/><line x1="795.0" y1="566.9" x2="798.0" y2="562.5" stroke="#8c8c8c" stroke-width="1.9"/><line x1="798.0" y1="562.5" x2="801.1" y2="558.2" stroke="#8c8c8c" stroke-width="1.9"/><line x1="779.5" y1="558.2" x2="783.0" y2="554.0" stroke="#8c8c8c" stroke-width="1.9"/><line x1="783.0" y1="554.0" x2="786.5" y2="549.8" stroke="#8c8c8c" stroke-width="1.9"/><line x1="801.1" y1="558.2" x2="798.9" y2="554.0" stroke="#8c8c8c" stroke-width="1.9"/><line x1="798.9" y1="554.0" x2="796.6" y2="549.8" stroke="#8c8c8c" stroke-width="1.9"/><line x1="786.5" y1="549.8" x2="791.5" y2="549.8" stroke="#8c8c8c" stroke-width="1.9"/><line x1="791.5" y1="549.8" x2="796.6" y2="549.8" stroke="#8c8c8c" stroke-width="1.9"/><line x1="786.5" y1="549.8" x2="784.1" y2="545.5" stroke="#8c8c8c" stroke-width="1.9"/><line x1="784.1" y1="545.5" x2="781.7" y2="541.1" stroke="#8c8c8c" stroke-width="1.9"/><line x1="796.6" y1="549.8" x2="799.9" y2="545.5" stroke="#8c8c8c" stroke-width="1.9"/><line x1="799.9" y1="545.5" x2="803.1" y2="541.1" stroke="#8c8c8c" stroke-width="1.9"/><line x1="781.7" y1="541.1" x2="784.8" y2="537.2" stroke="#8c8c8c" stroke-width="1.9"/><line x1="784.8" y1="537.2" x2="787.8" y2="533.2" stroke="#8c8c8c" stroke-width="1.9"/><line x1="787.8" y1="533.2" x2="793.2" y2="533.2" stroke="#8c8c8c" stroke-width="1.9"/><line x1="793.2" y1="533.2" x2="798.6" y2="533.2" stroke="#8c8c8c" stroke-width="1.9"/><line x1="798.6" y1="533.2" x2="800.9" y2="537.2" stroke="#8c8c8c" stroke-width="1.9"/><line x1="800.9" y1="537.2" x2="803.1" y2="541.1" stroke="#8c8c8c" stroke-width="1.9"/><line x1="801.1" y1="558.2" x2="806.7" y2="558.2" stroke="#8c8c8c" stroke-width="1.9"/><line x1="806.7" y1="558.2" x2="812.3" y2="558.2" stroke="#8c8c8c" stroke-width="1.9"/><line x1="803.1" y1="541.1" x2="808.6" y2="541.0" stroke="#8c8c8c" stroke-width="1.9"/><line x1="808.6" y1="541.0" x2="814.1" y2="540.8" stroke="#8c8c8c" stroke-width="1.9"/><line x1="754.4" y1="549.5" x2="759.8" y2="549.8" stroke="#8c8c8c" stroke-width="1.9"/><line x1="759.8" y1="549.8" x2="765.1" y2="550.1" stroke="#3030d0" stroke-width="1.9"/><line x1="818.9" y1="550.1" x2="823.8" y2="550.1" stroke="#3030d0" stroke-width="1.9"/><line x1="823.8" y1="550.1" x2="828.7" y2="550.1" stroke="#8c8c8c" stroke-width="1.9"/><line x1="916.6" y1="550.1" x2="918.8" y2="554.2" stroke="#3030d0" stroke-width="1.9"/><line x1="918.8" y1="554.2" x2="920.9" y2="558.2" stroke="#8c8c8c" stroke-width="1.9"/><line x1="916.6" y1="550.1" x2="919.3" y2="545.5" stroke="#3030d0" stroke-width="1.9"/><line x1="919.3" y1="545.5" x2="922.0" y2="540.8" stroke="#8c8c8c" stroke-width="1.9"/><line x1="920.9" y1="558.2" x2="917.9" y2="561.8" stroke="#8c8c8c" stroke-width="1.9"/><line x1="917.9" y1="561.8" x2="914.8" y2="565.4" stroke="#d23030" stroke-width="1.9"/><line x1="922.0" y1="540.8" x2="920.1" y2="537.7" stroke="#8c8c8c" stroke-width="1.9"/><line x1="920.1" y1="537.7" x2="918.2" y2="534.5" stroke="#d23030" stroke-width="1.9"/><line x1="970.4" y1="550.1" x2="967.1" y2="554.2" stroke="#3030d0" stroke-width="1.9"/><line x1="967.1" y1="554.2" x2="963.8" y2="558.2" stroke="#8c8c8c" stroke-width="1.9"/><line x1="970.4" y1="550.1" x2="968.0" y2="545.5" stroke="#3030d0" stroke-width="1.9"/><line x1="968.0" y1="545.5" x2="965.6" y2="540.8" stroke="#8c8c8c" stroke-width="1.9"/><line x1="963.8" y1="558.2" x2="966.0" y2="561.9" stroke="#8c8c8c" stroke-width="1.9"/><line x1="966.0" y1="561.9" x2="968.1" y2="565.6" stroke="#d23030" stroke-width="1.9"/><line x1="965.6" y1="540.8" x2="968.5" y2="537.7" stroke="#8c8c8c" stroke-width="1.9"/><line x1="968.5" y1="537.7" x2="971.3" y2="534.5" stroke="#d23030" stroke-width="1.9"/><line x1="920.9" y1="558.2" x2="926.0" y2="558.2" stroke="#8c8c8c" stroke-width="1.9"/><line x1="926.0" y1="558.2" x2="931.0" y2="558.2" stroke="#8c8c8c" stroke-width="1.9"/><line x1="922.0" y1="540.8" x2="927.6" y2="541.0" stroke="#8c8c8c" stroke-width="1.9"/><line x1="927.6" y1="541.0" x2="933.2" y2="541.1" stroke="#8c8c8c" stroke-width="1.9"/><line x1="931.0" y1="558.2" x2="933.6" y2="562.5" stroke="#8c8c8c" stroke-width="1.9"/><line x1="933.6" y1="562.5" x2="936.2" y2="566.9" stroke="#8c8c8c" stroke-width="1.9"/><line x1="936.2" y1="566.9" x2="941.4" y2="566.9" stroke="#8c8c8c" stroke-width="1.9"/><line x1="941.4" y1="566.9" x2="946.5" y2="566.9" stroke="#8c8c8c" stroke-width="1.9"/><line x1="946.5" y1="566.9" x2="949.5" y2="562.5" stroke="#8c8c8c" stroke-width="1.9"/><line x1="949.5" y1="562.5" x2="952.6" y2="558.2" stroke="#8c8c8c" stroke-width="1.9"/><line x1="931.0" y1="558.2" x2="934.5" y2="554.0" stroke="#8c8c8c" stroke-width="1.9"/><line x1="934.5" y1="554.0" x2="938.0" y2="549.8" stroke="#8c8c8c" stroke-width="1.9"/><line x1="952.6" y1="558.2" x2="950.4" y2="554.0" stroke="#8c8c8c" stroke-width="1.9"/><line x1="950.4" y1="554.0" x2="948.1" y2="549.8" stroke="#8c8c8c" stroke-width="1.9"/><line x1="938.0" y1="549.8" x2="943.0" y2="549.8" stroke="#8c8c8c" stroke-width="1.9"/><line x1="943.0" y1="549.8" x2="948.1" y2="549.8" stroke="#8c8c8c" stroke-width="1.9"/><line x1="938.0" y1="549.8" x2="935.6" y2="545.5" stroke="#8c8c8c" stroke-width="1.9"/><line x1="935.6" y1="545.5" x2="933.2" y2="541.1" stroke="#8c8c8c" stroke-width="1.9"/><line x1="948.1" y1="549.8" x2="951.4" y2="545.5" stroke="#8c8c8c" stroke-width="1.9"/><line x1="951.4" y1="545.5" x2="954.6" y2="541.1" stroke="#8c8c8c" stroke-width="1.9"/><line x1="933.2" y1="541.1" x2="936.2" y2="537.2" stroke="#8c8c8c" stroke-width="1.9"/><line x1="936.2" y1="537.2" x2="939.3" y2="533.2" stroke="#8c8c8c" stroke-width="1.9"/><line x1="939.3" y1="533.2" x2="944.7" y2="533.2" stroke="#8c8c8c" stroke-width="1.9"/><line x1="944.7" y1="533.2" x2="950.1" y2="533.2" stroke="#8c8c8c" stroke-width="1.9"/><line x1="950.1" y1="533.2" x2="952.4" y2="537.2" stroke="#8c8c8c" stroke-width="1.9"/><line x1="952.4" y1="537.2" x2="954.6" y2="541.1" stroke="#8c8c8c" stroke-width="1.9"/><line x1="952.6" y1="558.2" x2="958.2" y2="558.2" stroke="#8c8c8c" stroke-width="1.9"/><line x1="958.2" y1="558.2" x2="963.8" y2="558.2" stroke="#8c8c8c" stroke-width="1.9"/><line x1="954.6" y1="541.1" x2="960.1" y2="541.0" stroke="#8c8c8c" stroke-width="1.9"/><line x1="960.1" y1="541.0" x2="965.6" y2="540.8" stroke="#8c8c8c" stroke-width="1.9"/><line x1="905.9" y1="549.5" x2="911.2" y2="549.8" stroke="#8c8c8c" stroke-width="1.9"/><line x1="911.2" y1="549.8" x2="916.6" y2="550.1" stroke="#3030d0" stroke-width="1.9"/><line x1="970.4" y1="550.1" x2="975.3" y2="550.1" stroke="#3030d0" stroke-width="1.9"/><line x1="975.3" y1="550.1" x2="980.2" y2="550.1" stroke="#8c8c8c" stroke-width="1.9"/><line x1="677.2" y1="613.4" x2="679.0" y2="613.4" stroke="#8c8c8c" stroke-width="1.9"/><line x1="679.0" y1="613.4" x2="680.8" y2="613.4" stroke="#8c8c8c" stroke-width="1.9"/><line x1="680.8" y1="613.4" x2="682.4" y2="613.2" stroke="#8c8c8c" stroke-width="1.9"/><line x1="682.4" y1="613.2" x2="684.0" y2="613.0" stroke="#8c8c8c" stroke-width="1.9"/><line x1="684.0" y1="613.0" x2="687.1" y2="613.0" stroke="#8c8c8c" stroke-width="1.9"/><line x1="687.1" y1="613.0" x2="690.2" y2="613.0" stroke="#d23030" stroke-width="1.9"/><line x1="690.2" y1="613.0" x2="694.2" y2="613.2" stroke="#d23030" stroke-width="1.9"/><line x1="694.2" y1="613.2" x2="698.1" y2="613.5" stroke="#d23030" stroke-width="1.9"/><line x1="698.1" y1="613.5" x2="701.7" y2="613.8" stroke="#d23030" stroke-width="1.9"/><line x1="701.7" y1="613.8" x2="705.2" y2="614.2" stroke="#2c8a2c" stroke-width="1.9"/><line x1="705.2" y1="614.2" x2="708.2" y2="612.0" stroke="#2c8a2c" stroke-width="1.9"/><line x1="708.2" y1="612.0" x2="711.3" y2="609.8" stroke="#d23030" stroke-width="1.9"/><line x1="711.3" y1="609.8" x2="719.2" y2="610.9" stroke="#d23030" stroke-width="1.9"/><line x1="719.2" y1="610.9" x2="727.0" y2="612.0" stroke="#2c8a2c" stroke-width="1.9"/><line x1="727.0" y1="612.0" x2="723.4" y2="614.3" stroke="#2c8a2c" stroke-width="1.9"/><line x1="723.4" y1="614.3" x2="719.8" y2="616.6" stroke="#d23030" stroke-width="1.9"/><line x1="719.8" y1="616.6" x2="712.5" y2="615.4" stroke="#d23030" stroke-width="1.9"/><line x1="712.5" y1="615.4" x2="705.2" y2="614.2" stroke="#2c8a2c" stroke-width="1.9"/><line x1="727.0" y1="612.0" x2="730.5" y2="613.0" stroke="#2c8a2c" stroke-width="1.9"/><line x1="730.5" y1="613.0" x2="734.0" y2="614.0" stroke="#d23030" stroke-width="1.9"/><line x1="734.0" y1="614.0" x2="737.6" y2="614.3" stroke="#d23030" stroke-width="1.9"/><line x1="737.6" y1="614.3" x2="741.2" y2="614.6" stroke="#d23030" stroke-width="1.9"/><line x1="741.2" y1="614.6" x2="744.8" y2="614.3" stroke="#d23030" stroke-width="1.9"/><line x1="744.8" y1="614.3" x2="748.4" y2="614.0" stroke="#8c8c8c" stroke-width="1.9"/><line x1="748.4" y1="614.0" x2="750.1" y2="613.9" stroke="#8c8c8c" stroke-width="1.9"/><line x1="750.1" y1="613.9" x2="751.7" y2="613.8" stroke="#8c8c8c" stroke-width="1.9"/><line x1="751.7" y1="613.8" x2="753.1" y2="613.9" stroke="#8c8c8c" stroke-width="1.9"/><line x1="753.1" y1="613.9" x2="754.4" y2="614.0" stroke="#8c8c8c" stroke-width="1.9"/><line x1="707.3" y1="597.2" x2="709.4" y2="594.1" stroke="#d23030" stroke-width="1.9"/><line x1="709.4" y1="594.1" x2="711.4" y2="591.0" stroke="#8c8c8c" stroke-width="1.9"/><line x1="711.4" y1="591.0" x2="711.4" y2="586.1" stroke="#8c8c8c" stroke-width="1.9"/><line x1="711.4" y1="586.1" x2="711.4" y2="581.2" stroke="#3030d0" stroke-width="1.9"/><line x1="711.4" y1="581.2" x2="708.3" y2="578.6" stroke="#3030d0" stroke-width="1.9"/><line x1="708.3" y1="578.6" x2="705.2" y2="576.0" stroke="#8c8c8c" stroke-width="1.9"/><line x1="711.4" y1="581.2" x2="714.0" y2="577.7" stroke="#3030d0" stroke-width="1.9"/><line x1="714.0" y1="577.7" x2="716.6" y2="574.2" stroke="#8c8c8c" stroke-width="1.9"/><line x1="711.4" y1="591.0" x2="713.7" y2="591.8" stroke="#8c8c8c" stroke-width="1.9"/><line x1="713.7" y1="591.8" x2="715.9" y2="592.5" stroke="#40c0c8" stroke-width="1.9"/><line x1="705.2" y1="576.0" x2="702.7" y2="576.7" stroke="#8c8c8c" stroke-width="1.9"/><line x1="702.7" y1="576.7" x2="700.2" y2="577.3" stroke="#40c0c8" stroke-width="1.9"/><line x1="705.2" y1="576.0" x2="703.2" y2="574.3" stroke="#8c8c8c" stroke-width="1.9"/><line x1="703.2" y1="574.3" x2="701.2" y2="572.7" stroke="#40c0c8" stroke-width="1.9"/><line x1="705.2" y1="576.0" x2="705.4" y2="573.4" stroke="#8c8c8c" stroke-width="1.9"/><line x1="705.4" y1="573.4" x2="705.7" y2="570.8" stroke="#40c0c8" stroke-width="1.9"/><line x1="716.6" y1="574.2" x2="715.8" y2="571.7" stroke="#8c8c8c" stroke-width="1.9"/><line x1="715.8" y1="571.7" x2="715.0" y2="569.3" stroke="#40c0c8" stroke-width="1.9"/><line x1="716.6" y1="574.2" x2="718.2" y2="572.1" stroke="#8c8c8c" stroke-width="1.9"/><line x1="718.2" y1="572.1" x2="719.7" y2="570.0" stroke="#40c0c8" stroke-width="1.9"/><line x1="716.6" y1="574.2" x2="719.2" y2="574.3" stroke="#8c8c8c" stroke-width="1.9"/><line x1="719.2" y1="574.3" x2="721.8" y2="574.3" stroke="#40c0c8" stroke-width="1.9"/><line x1="705.2" y1="614.2" x2="706.2" y2="605.7" stroke="#2c8a2c" stroke-width="1.9"/><line x1="706.2" y1="605.7" x2="707.3" y2="597.2" stroke="#d23030" stroke-width="1.9"/><line x1="724.9" y1="629.0" x2="722.9" y2="632.1" stroke="#d23030" stroke-width="1.9"/><line x1="722.9" y1="632.1" x2="720.8" y2="635.2" stroke="#8c8c8c" stroke-width="1.9"/><line x1="720.8" y1="635.2" x2="720.8" y2="640.1" stroke="#8c8c8c" stroke-width="1.9"/><line x1="720.8" y1="640.1" x2="720.8" y2="645.0" stroke="#3030d0" stroke-width="1.9"/><line x1="720.8" y1="645.0" x2="723.9" y2="647.6" stroke="#3030d0" stroke-width="1.9"/><line x1="723.9" y1="647.6" x2="727.0" y2="650.2" stroke="#8c8c8c" stroke-width="1.9"/><line x1="720.8" y1="645.0" x2="718.2" y2="648.5" stroke="#3030d0" stroke-width="1.9"/><line x1="718.2" y1="648.5" x2="715.6" y2="652.0" stroke="#8c8c8c" stroke-width="1.9"/><line x1="720.8" y1="635.2" x2="718.6" y2="635.9" stroke="#8c8c8c" stroke-width="1.9"/><line x1="718.6" y1="635.9" x2="716.3" y2="636.7" stroke="#40c0c8" stroke-width="1.9"/><line x1="727.0" y1="650.2" x2="729.5" y2="649.5" stroke="#8c8c8c" stroke-width="1.9"/><line x1="729.5" y1="649.5" x2="732.0" y2="648.9" stroke="#40c0c8" stroke-width="1.9"/><line x1="727.0" y1="650.2" x2="729.0" y2="651.9" stroke="#8c8c8c" stroke-width="1.9"/><line x1="729.0" y1="651.9" x2="731.0" y2="653.5" stroke="#40c0c8" stroke-width="1.9"/><line x1="727.0" y1="650.2" x2="726.8" y2="652.8" stroke="#8c8c8c" stroke-width="1.9"/><line x1="726.8" y1="652.8" x2="726.5" y2="655.4" stroke="#40c0c8" stroke-width="1.9"/><line x1="715.6" y1="652.0" x2="716.4" y2="654.5" stroke="#8c8c8c" stroke-width="1.9"/><line x1="716.4" y1="654.5" x2="717.2" y2="656.9" stroke="#40c0c8" stroke-width="1.9"/><line x1="715.6" y1="652.0" x2="714.0" y2="654.1" stroke="#8c8c8c" stroke-width="1.9"/><line x1="714.0" y1="654.1" x2="712.5" y2="656.2" stroke="#40c0c8" stroke-width="1.9"/><line x1="715.6" y1="652.0" x2="713.0" y2="651.9" stroke="#8c8c8c" stroke-width="1.9"/><line x1="713.0" y1="651.9" x2="710.4" y2="651.9" stroke="#40c0c8" stroke-width="1.9"/><line x1="727.0" y1="612.0" x2="726.0" y2="620.5" stroke="#2c8a2c" stroke-width="1.9"/><line x1="726.0" y1="620.5" x2="724.9" y2="629.0" stroke="#d23030" stroke-width="1.9"/><line x1="731.0" y1="595.2" x2="734.9" y2="594.1" stroke="#d23030" stroke-width="1.9"/><line x1="734.9" y1="594.1" x2="738.8" y2="593.1" stroke="#8c8c8c" stroke-width="1.9"/><line x1="738.8" y1="593.1" x2="741.2" y2="588.5" stroke="#8c8c8c" stroke-width="1.9"/><line x1="741.2" y1="588.5" x2="743.6" y2="583.8" stroke="#3030d0" stroke-width="1.9"/><line x1="743.6" y1="583.8" x2="741.2" y2="579.9" stroke="#3030d0" stroke-width="1.9"/><line x1="741.2" y1="579.9" x2="738.8" y2="576.0" stroke="#8c8c8c" stroke-width="1.9"/><line x1="743.6" y1="583.8" x2="748.4" y2="582.3" stroke="#3030d0" stroke-width="1.9"/><line x1="748.4" y1="582.3" x2="753.2" y2="580.8" stroke="#8c8c8c" stroke-width="1.9"/><line x1="738.8" y1="593.1" x2="741.1" y2="593.9" stroke="#8c8c8c" stroke-width="1.9"/><line x1="741.1" y1="593.9" x2="743.3" y2="594.6" stroke="#40c0c8" stroke-width="1.9"/><line x1="738.8" y1="576.0" x2="736.2" y2="575.8" stroke="#8c8c8c" stroke-width="1.9"/><line x1="736.2" y1="575.8" x2="733.6" y2="575.7" stroke="#40c0c8" stroke-width="1.9"/><line x1="738.8" y1="576.0" x2="737.4" y2="573.8" stroke="#8c8c8c" stroke-width="1.9"/><line x1="737.4" y1="573.8" x2="736.1" y2="571.6" stroke="#40c0c8" stroke-width="1.9"/><line x1="738.8" y1="576.0" x2="739.8" y2="573.6" stroke="#8c8c8c" stroke-width="1.9"/><line x1="739.8" y1="573.6" x2="740.9" y2="571.2" stroke="#40c0c8" stroke-width="1.9"/><line x1="753.2" y1="580.8" x2="754.0" y2="578.3" stroke="#8c8c8c" stroke-width="1.9"/><line x1="754.0" y1="578.3" x2="754.8" y2="575.8" stroke="#40c0c8" stroke-width="1.9"/><line x1="753.2" y1="580.8" x2="755.7" y2="580.0" stroke="#8c8c8c" stroke-width="1.9"/><line x1="755.7" y1="580.0" x2="758.2" y2="579.2" stroke="#40c0c8" stroke-width="1.9"/><line x1="753.2" y1="580.8" x2="755.3" y2="582.4" stroke="#8c8c8c" stroke-width="1.9"/><line x1="755.3" y1="582.4" x2="757.3" y2="584.0" stroke="#40c0c8" stroke-width="1.9"/><line x1="727.0" y1="612.0" x2="729.0" y2="603.6" stroke="#2c8a2c" stroke-width="1.9"/><line x1="729.0" y1="603.6" x2="731.0" y2="595.2" stroke="#d23030" stroke-width="1.9"/><line x1="701.2" y1="631.0" x2="697.3" y2="632.0" stroke="#d23030" stroke-width="1.9"/><line x1="697.3" y1="632.0" x2="693.4" y2="633.1" stroke="#8c8c8c" stroke-width="1.9"/><line x1="693.4" y1="633.1" x2="691.0" y2="637.8" stroke="#8c8c8c" stroke-width="1.9"/><line x1="691.0" y1="637.8" x2="688.6" y2="642.4" stroke="#3030d0" stroke-width="1.9"/><line x1="688.6" y1="642.4" x2="691.0" y2="646.3" stroke="#3030d0" stroke-width="1.9"/><line x1="691.0" y1="646.3" x2="693.4" y2="650.2" stroke="#8c8c8c" stroke-width="1.9"/><line x1="688.6" y1="642.4" x2="683.8" y2="643.9" stroke="#3030d0" stroke-width="1.9"/><line x1="683.8" y1="643.9" x2="679.0" y2="645.4" stroke="#8c8c8c" stroke-width="1.9"/><line x1="693.4" y1="633.1" x2="691.2" y2="633.9" stroke="#8c8c8c" stroke-width="1.9"/><line x1="691.2" y1="633.9" x2="688.9" y2="634.6" stroke="#40c0c8" stroke-width="1.9"/><line x1="693.4" y1="650.2" x2="696.0" y2="650.4" stroke="#8c8c8c" stroke-width="1.9"/><line x1="696.0" y1="650.4" x2="698.6" y2="650.5" stroke="#40c0c8" stroke-width="1.9"/><line x1="693.4" y1="650.2" x2="694.8" y2="652.4" stroke="#8c8c8c" stroke-width="1.9"/><line x1="694.8" y1="652.4" x2="696.1" y2="654.6" stroke="#40c0c8" stroke-width="1.9"/><line x1="693.4" y1="650.2" x2="692.4" y2="652.6" stroke="#8c8c8c" stroke-width="1.9"/><line x1="692.4" y1="652.6" x2="691.3" y2="655.0" stroke="#40c0c8" stroke-width="1.9"/><line x1="679.0" y1="645.4" x2="678.2" y2="647.9" stroke="#8c8c8c" stroke-width="1.9"/><line x1="678.2" y1="647.9" x2="677.4" y2="650.4" stroke="#40c0c8" stroke-width="1.9"/><line x1="679.0" y1="645.4" x2="676.5" y2="646.2" stroke="#8c8c8c" stroke-width="1.9"/><line x1="676.5" y1="646.2" x2="674.0" y2="647.0" stroke="#40c0c8" stroke-width="1.9"/><line x1="679.0" y1="645.4" x2="676.9" y2="643.8" stroke="#8c8c8c" stroke-width="1.9"/><line x1="676.9" y1="643.8" x2="674.9" y2="642.2" stroke="#40c0c8" stroke-width="1.9"/><line x1="705.2" y1="614.2" x2="703.2" y2="622.6" stroke="#2c8a2c" stroke-width="1.9"/><line x1="703.2" y1="622.6" x2="701.2" y2="631.0" stroke="#d23030" stroke-width="1.9"/><line x1="828.7" y1="613.4" x2="830.5" y2="613.4" stroke="#8c8c8c" stroke-width="1.9"/><line x1="830.5" y1="613.4" x2="832.3" y2="613.4" stroke="#8c8c8c" stroke-width="1.9"/><line x1="832.3" y1="613.4" x2="833.9" y2="613.2" stroke="#8c8c8c" stroke-width="1.9"/><line x1="833.9" y1="613.2" x2="835.5" y2="613.0" stroke="#8c8c8c" stroke-width="1.9"/><line x1="835.5" y1="613.0" x2="838.6" y2="613.0" stroke="#8c8c8c" stroke-width="1.9"/><line x1="838.6" y1="613.0" x2="841.7" y2="613.0" stroke="#d23030" stroke-width="1.9"/><line x1="841.7" y1="613.0" x2="845.7" y2="613.2" stroke="#d23030" stroke-width="1.9"/><line x1="845.7" y1="613.2" x2="849.6" y2="613.5" stroke="#d23030" stroke-width="1.9"/><line x1="849.6" y1="613.5" x2="853.2" y2="613.8" stroke="#d23030" stroke-width="1.9"/><line x1="853.2" y1="613.8" x2="856.7" y2="614.2" stroke="#2c8a2c" stroke-width="1.9"/><line x1="856.7" y1="614.2" x2="859.8" y2="612.0" stroke="#2c8a2c" stroke-width="1.9"/><line x1="859.8" y1="612.0" x2="862.8" y2="609.8" stroke="#d23030" stroke-width="1.9"/><line x1="862.8" y1="609.8" x2="870.7" y2="610.9" stroke="#d23030" stroke-width="1.9"/><line x1="870.7" y1="610.9" x2="878.5" y2="612.0" stroke="#2c8a2c" stroke-width="1.9"/><line x1="878.5" y1="612.0" x2="874.9" y2="614.3" stroke="#2c8a2c" stroke-width="1.9"/><line x1="874.9" y1="614.3" x2="871.3" y2="616.6" stroke="#d23030" stroke-width="1.9"/><line x1="871.3" y1="616.6" x2="864.0" y2="615.4" stroke="#d23030" stroke-width="1.9"/><line x1="864.0" y1="615.4" x2="856.7" y2="614.2" stroke="#2c8a2c" stroke-width="1.9"/><line x1="878.5" y1="612.0" x2="882.0" y2="613.0" stroke="#2c8a2c" stroke-width="1.9"/><line x1="882.0" y1="613.0" x2="885.5" y2="614.0" stroke="#d23030" stroke-width="1.9"/><line x1="885.5" y1="614.0" x2="889.1" y2="614.3" stroke="#d23030" stroke-width="1.9"/><line x1="889.1" y1="614.3" x2="892.7" y2="614.6" stroke="#d23030" stroke-width="1.9"/><line x1="892.7" y1="614.6" x2="896.3" y2="614.3" stroke="#d23030" stroke-width="1.9"/><line x1="896.3" y1="614.3" x2="899.9" y2="614.0" stroke="#8c8c8c" stroke-width="1.9"/><line x1="899.9" y1="614.0" x2="901.6" y2="613.9" stroke="#8c8c8c" stroke-width="1.9"/><line x1="901.6" y1="613.9" x2="903.2" y2="613.8" stroke="#8c8c8c" stroke-width="1.9"/><line x1="903.2" y1="613.8" x2="904.6" y2="613.9" stroke="#8c8c8c" stroke-width="1.9"/><line x1="904.6" y1="613.9" x2="905.9" y2="614.0" stroke="#8c8c8c" stroke-width="1.9"/><line x1="858.8" y1="597.2" x2="860.9" y2="594.1" stroke="#d23030" stroke-width="1.9"/><line x1="860.9" y1="594.1" x2="862.9" y2="591.0" stroke="#8c8c8c" stroke-width="1.9"/><line x1="862.9" y1="591.0" x2="862.9" y2="586.1" stroke="#8c8c8c" stroke-width="1.9"/><line x1="862.9" y1="586.1" x2="862.9" y2="581.2" stroke="#3030d0" stroke-width="1.9"/><line x1="862.9" y1="581.2" x2="859.8" y2="578.6" stroke="#3030d0" stroke-width="1.9"/><line x1="859.8" y1="578.6" x2="856.7" y2="576.0" stroke="#8c8c8c" stroke-width="1.9"/><line x1="862.9" y1="581.2" x2="865.5" y2="577.7" stroke="#3030d0" stroke-width="1.9"/><line x1="865.5" y1="577.7" x2="868.1" y2="574.2" stroke="#8c8c8c" stroke-width="1.9"/><line x1="862.9" y1="591.0" x2="865.2" y2="591.8" stroke="#8c8c8c" stroke-width="1.9"/><line x1="865.2" y1="591.8" x2="867.4" y2="592.5" stroke="#40c0c8" stroke-width="1.9"/><line x1="856.7" y1="576.0" x2="854.2" y2="576.7" stroke="#8c8c8c" stroke-width="1.9"/><line x1="854.2" y1="576.7" x2="851.7" y2="577.3" stroke="#40c0c8" stroke-width="1.9"/><line x1="856.7" y1="576.0" x2="854.7" y2="574.3" stroke="#8c8c8c" stroke-width="1.9"/><line x1="854.7" y1="574.3" x2="852.7" y2="572.7" stroke="#40c0c8" stroke-width="1.9"/><line x1="856.7" y1="576.0" x2="856.9" y2="573.4" stroke="#8c8c8c" stroke-width="1.9"/><line x1="856.9" y1="573.4" x2="857.2" y2="570.8" stroke="#40c0c8" stroke-width="1.9"/><line x1="868.1" y1="574.2" x2="867.3" y2="571.7" stroke="#8c8c8c" stroke-width="1.9"/><line x1="867.3" y1="571.7" x2="866.5" y2="569.3" stroke="#40c0c8" stroke-width="1.9"/><line x1="868.1" y1="574.2" x2="869.7" y2="572.1" stroke="#8c8c8c" stroke-width="1.9"/><line x1="869.7" y1="572.1" x2="871.2" y2="570.0" stroke="#40c0c8" stroke-width="1.9"/><line x1="868.1" y1="574.2" x2="870.7" y2="574.3" stroke="#8c8c8c" stroke-width="1.9"/><line x1="870.7" y1="574.3" x2="873.3" y2="574.3" stroke="#40c0c8" stroke-width="1.9"/><line x1="856.7" y1="614.2" x2="857.8" y2="605.7" stroke="#2c8a2c" stroke-width="1.9"/><line x1="857.8" y1="605.7" x2="858.8" y2="597.2" stroke="#d23030" stroke-width="1.9"/><line x1="876.4" y1="629.0" x2="874.4" y2="632.1" stroke="#d23030" stroke-width="1.9"/><line x1="874.4" y1="632.1" x2="872.3" y2="635.2" stroke="#8c8c8c" stroke-width="1.9"/><line x1="872.3" y1="635.2" x2="872.3" y2="640.1" stroke="#8c8c8c" stroke-width="1.9"/><line x1="872.3" y1="640.1" x2="872.3" y2="645.0" stroke="#3030d0" stroke-width="1.9"/><line x1="872.3" y1="645.0" x2="875.4" y2="647.6" stroke="#3030d0" stroke-width="1.9"/><line x1="875.4" y1="647.6" x2="878.5" y2="650.2" stroke="#8c8c8c" stroke-width="1.9"/><line x1="872.3" y1="645.0" x2="869.7" y2="648.5" stroke="#3030d0" stroke-width="1.9"/><line x1="869.7" y1="648.5" x2="867.1" y2="652.0" stroke="#8c8c8c" stroke-width="1.9"/><line x1="872.3" y1="635.2" x2="870.1" y2="635.9" stroke="#8c8c8c" stroke-width="1.9"/><line x1="870.1" y1="635.9" x2="867.8" y2="636.7" stroke="#40c0c8" stroke-width="1.9"/><line x1="878.5" y1="650.2" x2="881.0" y2="649.5" stroke="#8c8c8c" stroke-width="1.9"/><line x1="881.0" y1="649.5" x2="883.5" y2="648.9" stroke="#40c0c8" stroke-width="1.9"/><line x1="878.5" y1="650.2" x2="880.5" y2="651.9" stroke="#8c8c8c" stroke-width="1.9"/><line x1="880.5" y1="651.9" x2="882.5" y2="653.5" stroke="#40c0c8" stroke-width="1.9"/><line x1="878.5" y1="650.2" x2="878.3" y2="652.8" stroke="#8c8c8c" stroke-width="1.9"/><line x1="878.3" y1="652.8" x2="878.0" y2="655.4" stroke="#40c0c8" stroke-width="1.9"/><line x1="867.1" y1="652.0" x2="867.9" y2="654.5" stroke="#8c8c8c" stroke-width="1.9"/><line x1="867.9" y1="654.5" x2="868.7" y2="656.9" stroke="#40c0c8" stroke-width="1.9"/><line x1="867.1" y1="652.0" x2="865.5" y2="654.1" stroke="#8c8c8c" stroke-width="1.9"/><line x1="865.5" y1="654.1" x2="864.0" y2="656.2" stroke="#40c0c8" stroke-width="1.9"/><line x1="867.1" y1="652.0" x2="864.5" y2="651.9" stroke="#8c8c8c" stroke-width="1.9"/><line x1="864.5" y1="651.9" x2="861.9" y2="651.9" stroke="#40c0c8" stroke-width="1.9"/><line x1="878.5" y1="612.0" x2="877.5" y2="620.5" stroke="#2c8a2c" stroke-width="1.9"/><line x1="877.5" y1="620.5" x2="876.4" y2="629.0" stroke="#d23030" stroke-width="1.9"/><line x1="882.5" y1="595.2" x2="886.4" y2="594.1" stroke="#d23030" stroke-width="1.9"/><line x1="886.4" y1="594.1" x2="890.3" y2="593.1" stroke="#8c8c8c" stroke-width="1.9"/><line x1="890.3" y1="593.1" x2="892.7" y2="588.5" stroke="#8c8c8c" stroke-width="1.9"/><line x1="892.7" y1="588.5" x2="895.1" y2="583.8" stroke="#3030d0" stroke-width="1.9"/><line x1="895.1" y1="583.8" x2="892.7" y2="579.9" stroke="#3030d0" stroke-width="1.9"/><line x1="892.7" y1="579.9" x2="890.3" y2="576.0" stroke="#8c8c8c" stroke-width="1.9"/><line x1="895.1" y1="583.8" x2="899.9" y2="582.3" stroke="#3030d0" stroke-width="1.9"/><line x1="899.9" y1="582.3" x2="904.7" y2="580.8" stroke="#8c8c8c" stroke-width="1.9"/><line x1="890.3" y1="593.1" x2="892.6" y2="593.9" stroke="#8c8c8c" stroke-width="1.9"/><line x1="892.6" y1="593.9" x2="894.8" y2="594.6" stroke="#40c0c8" stroke-width="1.9"/><line x1="890.3" y1="576.0" x2="887.7" y2="575.8" stroke="#8c8c8c" stroke-width="1.9"/><line x1="887.7" y1="575.8" x2="885.1" y2="575.7" stroke="#40c0c8" stroke-width="1.9"/><line x1="890.3" y1="576.0" x2="888.9" y2="573.8" stroke="#8c8c8c" stroke-width="1.9"/><line x1="888.9" y1="573.8" x2="887.6" y2="571.6" stroke="#40c0c8" stroke-width="1.9"/><line x1="890.3" y1="576.0" x2="891.3" y2="573.6" stroke="#8c8c8c" stroke-width="1.9"/><line x1="891.3" y1="573.6" x2="892.4" y2="571.2" stroke="#40c0c8" stroke-width="1.9"/><line x1="904.7" y1="580.8" x2="905.5" y2="578.3" stroke="#8c8c8c" stroke-width="1.9"/><line x1="905.5" y1="578.3" x2="906.3" y2="575.8" stroke="#40c0c8" stroke-width="1.9"/><line x1="904.7" y1="580.8" x2="907.2" y2="580.0" stroke="#8c8c8c" stroke-width="1.9"/><line x1="907.2" y1="580.0" x2="909.7" y2="579.2" stroke="#40c0c8" stroke-width="1.9"/><line x1="904.7" y1="580.8" x2="906.8" y2="582.4" stroke="#8c8c8c" stroke-width="1.9"/><line x1="906.8" y1="582.4" x2="908.8" y2="584.0" stroke="#40c0c8" stroke-width="1.9"/><line x1="878.5" y1="612.0" x2="880.5" y2="603.6" stroke="#2c8a2c" stroke-width="1.9"/><line x1="880.5" y1="603.6" x2="882.5" y2="595.2" stroke="#d23030" stroke-width="1.9"/><line x1="852.7" y1="631.0" x2="848.8" y2="632.0" stroke="#d23030" stroke-width="1.9"/><line x1="848.8" y1="632.0" x2="844.9" y2="633.1" stroke="#8c8c8c" stroke-width="1.9"/><line x1="844.9" y1="633.1" x2="842.5" y2="637.8" stroke="#8c8c8c" stroke-width="1.9"/><line x1="842.5" y1="637.8" x2="840.1" y2="642.4" stroke="#3030d0" stroke-width="1.9"/><line x1="840.1" y1="642.4" x2="842.5" y2="646.3" stroke="#3030d0" stroke-width="1.9"/><line x1="842.5" y1="646.3" x2="844.9" y2="650.2" stroke="#8c8c8c" stroke-width="1.9"/><line x1="840.1" y1="642.4" x2="835.3" y2="643.9" stroke="#3030d0" stroke-width="1.9"/><line x1="835.3" y1="643.9" x2="830.5" y2="645.4" stroke="#8c8c8c" stroke-width="1.9"/><line x1="844.9" y1="633.1" x2="842.7" y2="633.9" stroke="#8c8c8c" stroke-width="1.9"/><line x1="842.7" y1="633.9" x2="840.4" y2="634.6" stroke="#40c0c8" stroke-width="1.9"/><line x1="844.9" y1="650.2" x2="847.5" y2="650.4" stroke="#8c8c8c" stroke-width="1.9"/><line x1="847.5" y1="650.4" x2="850.1" y2="650.5" stroke="#40c0c8" stroke-width="1.9"/><line x1="844.9" y1="650.2" x2="846.3" y2="652.4" stroke="#8c8c8c" stroke-width="1.9"/><line x1="846.3" y1="652.4" x2="847.6" y2="654.6" stroke="#40c0c8" stroke-width="1.9"/><line x1="844.9" y1="650.2" x2="843.9" y2="652.6" stroke="#8c8c8c" stroke-width="1.9"/><line x1="843.9" y1="652.6" x2="842.8" y2="655.0" stroke="#40c0c8" stroke-width="1.9"/><line x1="830.5" y1="645.4" x2="829.7" y2="647.9" stroke="#8c8c8c" stroke-width="1.9"/><line x1="829.7" y1="647.9" x2="828.9" y2="650.4" stroke="#40c0c8" stroke-width="1.9"/><line x1="830.5" y1="645.4" x2="828.0" y2="646.2" stroke="#8c8c8c" stroke-width="1.9"/><line x1="828.0" y1="646.2" x2="825.5" y2="647.0" stroke="#40c0c8" stroke-width="1.9"/><line x1="830.5" y1="645.4" x2="828.4" y2="643.8" stroke="#8c8c8c" stroke-width="1.9"/><line x1="828.4" y1="643.8" x2="826.4" y2="642.2" stroke="#40c0c8" stroke-width="1.9"/><line x1="856.7" y1="614.2" x2="854.7" y2="622.6" stroke="#2c8a2c" stroke-width="1.9"/><line x1="854.7" y1="622.6" x2="852.7" y2="631.0" stroke="#d23030" stroke-width="1.9"/><line x1="980.2" y1="613.4" x2="982.0" y2="613.4" stroke="#8c8c8c" stroke-width="1.9"/><line x1="982.0" y1="613.4" x2="983.8" y2="613.4" stroke="#8c8c8c" stroke-width="1.9"/><line x1="983.8" y1="613.4" x2="985.4" y2="613.2" stroke="#8c8c8c" stroke-width="1.9"/><line x1="985.4" y1="613.2" x2="987.0" y2="613.0" stroke="#8c8c8c" stroke-width="1.9"/><line x1="987.0" y1="613.0" x2="990.1" y2="613.0" stroke="#8c8c8c" stroke-width="1.9"/><line x1="990.1" y1="613.0" x2="993.2" y2="613.0" stroke="#d23030" stroke-width="1.9"/><line x1="993.2" y1="613.0" x2="997.2" y2="613.2" stroke="#d23030" stroke-width="1.9"/><line x1="997.2" y1="613.2" x2="1001.1" y2="613.5" stroke="#d23030" stroke-width="1.9"/><line x1="1001.1" y1="613.5" x2="1004.7" y2="613.8" stroke="#d23030" stroke-width="1.9"/><line x1="1004.7" y1="613.8" x2="1008.2" y2="614.2" stroke="#2c8a2c" stroke-width="1.9"/><line x1="1008.2" y1="614.2" x2="1011.2" y2="612.0" stroke="#2c8a2c" stroke-width="1.9"/><line x1="1011.2" y1="612.0" x2="1014.3" y2="609.8" stroke="#d23030" stroke-width="1.9"/><line x1="1014.3" y1="609.8" x2="1022.2" y2="610.9" stroke="#d23030" stroke-width="1.9"/><line x1="1022.2" y1="610.9" x2="1030.0" y2="612.0" stroke="#2c8a2c" stroke-width="1.9"/><line x1="1030.0" y1="612.0" x2="1026.4" y2="614.3" stroke="#2c8a2c" stroke-width="1.9"/><line x1="1026.4" y1="614.3" x2="1022.8" y2="616.6" stroke="#d23030" stroke-width="1.9"/><line x1="1022.8" y1="616.6" x2="1015.5" y2="615.4" stroke="#d23030" stroke-width="1.9"/><line x1="1015.5" y1="615.4" x2="1008.2" y2="614.2" stroke="#2c8a2c" stroke-width="1.9"/><line x1="1030.0" y1="612.0" x2="1033.5" y2="613.0" stroke="#2c8a2c" stroke-width="1.9"/><line x1="1033.5" y1="613.0" x2="1037.0" y2="614.0" stroke="#d23030" stroke-width="1.9"/><line x1="1037.0" y1="614.0" x2="1040.6" y2="614.3" stroke="#d23030" stroke-width="1.9"/><line x1="1040.6" y1="614.3" x2="1044.2" y2="614.6" stroke="#d23030" stroke-width="1.9"/><line x1="1044.2" y1="614.6" x2="1047.8" y2="614.3" stroke="#d23030" stroke-width="1.9"/><line x1="1047.8" y1="614.3" x2="1051.4" y2="614.0" stroke="#8c8c8c" stroke-width="1.9"/><line x1="1051.4" y1="614.0" x2="1053.1" y2="613.9" stroke="#8c8c8c" stroke-width="1.9"/><line x1="1053.1" y1="613.9" x2="1054.7" y2="613.8" stroke="#8c8c8c" stroke-width="1.9"/><line x1="1054.7" y1="613.8" x2="1056.1" y2="613.9" stroke="#8c8c8c" stroke-width="1.9"/><line x1="1056.1" y1="613.9" x2="1057.4" y2="614.0" stroke="#8c8c8c" stroke-width="1.9"/><line x1="1010.3" y1="597.2" x2="1012.4" y2="594.1" stroke="#d23030" stroke-width="1.9"/><line x1="1012.4" y1="594.1" x2="1014.4" y2="591.0" stroke="#8c8c8c" stroke-width="1.9"/><line x1="1014.4" y1="591.0" x2="1014.4" y2="586.1" stroke="#8c8c8c" stroke-width="1.9"/><line x1="1014.4" y1="586.1" x2="1014.4" y2="581.2" stroke="#3030d0" stroke-width="1.9"/><line x1="1014.4" y1="581.2" x2="1011.3" y2="578.6" stroke="#3030d0" stroke-width="1.9"/><line x1="1011.3" y1="578.6" x2="1008.2" y2="576.0" stroke="#8c8c8c" stroke-width="1.9"/><line x1="1014.4" y1="581.2" x2="1017.0" y2="577.7" stroke="#3030d0" stroke-width="1.9"/><line x1="1017.0" y1="577.7" x2="1019.6" y2="574.2" stroke="#8c8c8c" stroke-width="1.9"/><line x1="1014.4" y1="591.0" x2="1016.7" y2="591.8" stroke="#8c8c8c" stroke-width="1.9"/><line x1="1016.7" y1="591.8" x2="1018.9" y2="592.5" stroke="#40c0c8" stroke-width="1.9"/><line x1="1008.2" y1="576.0" x2="1005.7" y2="576.7" stroke="#8c8c8c" stroke-width="1.9"/><line x1="1005.7" y1="576.7" x2="1003.2" y2="577.3" stroke="#40c0c8" stroke-width="1.9"/><line x1="1008.2" y1="576.0" x2="1006.2" y2="574.3" stroke="#8c8c8c" stroke-width="1.9"/><line x1="1006.2" y1="574.3" x2="1004.2" y2="572.7" stroke="#40c0c8" stroke-width="1.9"/><line x1="1008.2" y1="576.0" x2="1008.4" y2="573.4" stroke="#8c8c8c" stroke-width="1.9"/><line x1="1008.4" y1="573.4" x2="1008.7" y2="570.8" stroke="#40c0c8" stroke-width="1.9"/><line x1="1019.6" y1="574.2" x2="1018.8" y2="571.7" stroke="#8c8c8c" stroke-width="1.9"/><line x1="1018.8" y1="571.7" x2="1018.0" y2="569.3" stroke="#40c0c8" stroke-width="1.9"/><line x1="1019.6" y1="574.2" x2="1021.2" y2="572.1" stroke="#8c8c8c" stroke-width="1.9"/><line x1="1021.2" y1="572.1" x2="1022.7" y2="570.0" stroke="#40c0c8" stroke-width="1.9"/><line x1="1019.6" y1="574.2" x2="1022.2" y2="574.3" stroke="#8c8c8c" stroke-width="1.9"/><line x1="1022.2" y1="574.3" x2="1024.8" y2="574.3" stroke="#40c0c8" stroke-width="1.9"/><line x1="1008.2" y1="614.2" x2="1009.2" y2="605.7" stroke="#2c8a2c" stroke-width="1.9"/><line x1="1009.2" y1="605.7" x2="1010.3" y2="597.2" stroke="#d23030" stroke-width="1.9"/><line x1="1027.9" y1="629.0" x2="1025.9" y2="632.1" stroke="#d23030" stroke-width="1.9"/><line x1="1025.9" y1="632.1" x2="1023.8" y2="635.2" stroke="#8c8c8c" stroke-width="1.9"/><line x1="1023.8" y1="635.2" x2="1023.8" y2="640.1" stroke="#8c8c8c" stroke-width="1.9"/><line x1="1023.8" y1="640.1" x2="1023.8" y2="645.0" stroke="#3030d0" stroke-width="1.9"/><line x1="1023.8" y1="645.0" x2="1026.9" y2="647.6" stroke="#3030d0" stroke-width="1.9"/><line x1="1026.9" y1="647.6" x2="1030.0" y2="650.2" stroke="#8c8c8c" stroke-width="1.9"/><line x1="1023.8" y1="645.0" x2="1021.2" y2="648.5" stroke="#3030d0" stroke-width="1.9"/><line x1="1021.2" y1="648.5" x2="1018.6" y2="652.0" stroke="#8c8c8c" stroke-width="1.9"/><line x1="1023.8" y1="635.2" x2="1021.6" y2="635.9" stroke="#8c8c8c" stroke-width="1.9"/><line x1="1021.6" y1="635.9" x2="1019.3" y2="636.7" stroke="#40c0c8" stroke-width="1.9"/><line x1="1030.0" y1="650.2" x2="1032.5" y2="649.5" stroke="#8c8c8c" stroke-width="1.9"/><line x1="1032.5" y1="649.5" x2="1035.0" y2="648.9" stroke="#40c0c8" stroke-width="1.9"/><line x1="1030.0" y1="650.2" x2="1032.0" y2="651.9" stroke="#8c8c8c" stroke-width="1.9"/><line x1="1032.0" y1="651.9" x2="1034.0" y2="653.5" stroke="#40c0c8" stroke-width="1.9"/><line x1="1030.0" y1="650.2" x2="1029.8" y2="652.8" stroke="#8c8c8c" stroke-width="1.9"/><line x1="1029.8" y1="652.8" x2="1029.5" y2="655.4" stroke="#40c0c8" stroke-width="1.9"/><line x1="1018.6" y1="652.0" x2="1019.4" y2="654.5" stroke="#8c8c8c" stroke-width="1.9"/><line x1="1019.4" y1="654.5" x2="1020.2" y2="656.9" stroke="#40c0c8" stroke-width="1.9"/><line x1="1018.6" y1="652.0" x2="1017.0" y2="654.1" stroke="#8c8c8c" stroke-width="1.9"/><line x1="1017.0" y1="654.1" x2="1015.5" y2="656.2" stroke="#40c0c8" stroke-width="1.9"/><line x1="1018.6" y1="652.0" x2="1016.0" y2="651.9" stroke="#8c8c8c" stroke-width="1.9"/><line x1="1016.0" y1="651.9" x2="1013.4" y2="651.9" stroke="#40c0c8" stroke-width="1.9"/><line x1="1030.0" y1="612.0" x2="1029.0" y2="620.5" stroke="#2c8a2c" stroke-width="1.9"/><line x1="1029.0" y1="620.5" x2="1027.9" y2="629.0" stroke="#d23030" stroke-width="1.9"/><line x1="1034.0" y1="595.2" x2="1037.9" y2="594.1" stroke="#d23030" stroke-width="1.9"/><line x1="1037.9" y1="594.1" x2="1041.8" y2="593.1" stroke="#8c8c8c" stroke-width="1.9"/><line x1="1041.8" y1="593.1" x2="1044.2" y2="588.5" stroke="#8c8c8c" stroke-width="1.9"/><line x1="1044.2" y1="588.5" x2="1046.6" y2="583.8" stroke="#3030d0" stroke-width="1.9"/><line x1="1046.6" y1="583.8" x2="1044.2" y2="579.9" stroke="#3030d0" stroke-width="1.9"/><line x1="1044.2" y1="579.9" x2="1041.8" y2="576.0" stroke="#8c8c8c" stroke-width="1.9"/><line x1="1046.6" y1="583.8" x2="1051.4" y2="582.3" stroke="#3030d0" stroke-width="1.9"/><line x1="1051.4" y1="582.3" x2="1056.2" y2="580.8" stroke="#8c8c8c" stroke-width="1.9"/><line x1="1041.8" y1="593.1" x2="1044.0" y2="593.9" stroke="#8c8c8c" stroke-width="1.9"/><line x1="1044.0" y1="593.9" x2="1046.3" y2="594.6" stroke="#40c0c8" stroke-width="1.9"/><line x1="1041.8" y1="576.0" x2="1039.2" y2="575.8" stroke="#8c8c8c" stroke-width="1.9"/><line x1="1039.2" y1="575.8" x2="1036.6" y2="575.7" stroke="#40c0c8" stroke-width="1.9"/><line x1="1041.8" y1="576.0" x2="1040.4" y2="573.8" stroke="#8c8c8c" stroke-width="1.9"/><line x1="1040.4" y1="573.8" x2="1039.1" y2="571.6" stroke="#40c0c8" stroke-width="1.9"/><line x1="1041.8" y1="576.0" x2="1042.8" y2="573.6" stroke="#8c8c8c" stroke-width="1.9"/><line x1="1042.8" y1="573.6" x2="1043.9" y2="571.2" stroke="#40c0c8" stroke-width="1.9"/><line x1="1056.2" y1="580.8" x2="1057.0" y2="578.3" stroke="#8c8c8c" stroke-width="1.9"/><line x1="1057.0" y1="578.3" x2="1057.8" y2="575.8" stroke="#40c0c8" stroke-width="1.9"/><line x1="1056.2" y1="580.8" x2="1058.7" y2="580.0" stroke="#8c8c8c" stroke-width="1.9"/><line x1="1058.7" y1="580.0" x2="1061.2" y2="579.2" stroke="#40c0c8" stroke-width="1.9"/><line x1="1056.2" y1="580.8" x2="1058.3" y2="582.4" stroke="#8c8c8c" stroke-width="1.9"/><line x1="1058.3" y1="582.4" x2="1060.3" y2="584.0" stroke="#40c0c8" stroke-width="1.9"/><line x1="1030.0" y1="612.0" x2="1032.0" y2="603.6" stroke="#2c8a2c" stroke-width="1.9"/><line x1="1032.0" y1="603.6" x2="1034.0" y2="595.2" stroke="#d23030" stroke-width="1.9"/><line x1="1004.2" y1="631.0" x2="1000.3" y2="632.0" stroke="#d23030" stroke-width="1.9"/><line x1="1000.3" y1="632.0" x2="996.4" y2="633.1" stroke="#8c8c8c" stroke-width="1.9"/><line x1="996.4" y1="633.1" x2="994.0" y2="637.8" stroke="#8c8c8c" stroke-width="1.9"/><line x1="994.0" y1="637.8" x2="991.6" y2="642.4" stroke="#3030d0" stroke-width="1.9"/><line x1="991.6" y1="642.4" x2="994.0" y2="646.3" stroke="#3030d0" stroke-width="1.9"/><line x1="994.0" y1="646.3" x2="996.4" y2="650.2" stroke="#8c8c8c" stroke-width="1.9"/><line x1="991.6" y1="642.4" x2="986.8" y2="643.9" stroke="#3030d0" stroke-width="1.9"/><line x1="986.8" y1="643.9" x2="982.0" y2="645.4" stroke="#8c8c8c" stroke-width="1.9"/><line x1="996.4" y1="633.1" x2="994.2" y2="633.9" stroke="#8c8c8c" stroke-width="1.9"/><line x1="994.2" y1="633.9" x2="991.9" y2="634.6" stroke="#40c0c8" stroke-width="1.9"/><line x1="996.4" y1="650.2" x2="999.0" y2="650.4" stroke="#8c8c8c" stroke-width="1.9"/><line x1="999.0" y1="650.4" x2="1001.6" y2="650.5" stroke="#40c0c8" stroke-width="1.9"/><line x1="996.4" y1="650.2" x2="997.8" y2="652.4" stroke="#8c8c8c" stroke-width="1.9"/><line x1="997.8" y1="652.4" x2="999.1" y2="654.6" stroke="#40c0c8" stroke-width="1.9"/><line x1="996.4" y1="650.2" x2="995.4" y2="652.6" stroke="#8c8c8c" stroke-width="1.9"/><line x1="995.4" y1="652.6" x2="994.3" y2="655.0" stroke="#40c0c8" stroke-width="1.9"/><line x1="982.0" y1="645.4" x2="981.2" y2="647.9" stroke="#8c8c8c" stroke-width="1.9"/><line x1="981.2" y1="647.9" x2="980.4" y2="650.4" stroke="#40c0c8" stroke-width="1.9"/><line x1="982.0" y1="645.4" x2="979.5" y2="646.2" stroke="#8c8c8c" stroke-width="1.9"/><line x1="979.5" y1="646.2" x2="977.0" y2="647.0" stroke="#40c0c8" stroke-width="1.9"/><line x1="982.0" y1="645.4" x2="979.9" y2="643.8" stroke="#8c8c8c" stroke-width="1.9"/><line x1="979.9" y1="643.8" x2="977.9" y2="642.2" stroke="#40c0c8" stroke-width="1.9"/><line x1="1008.2" y1="614.2" x2="1006.2" y2="622.6" stroke="#2c8a2c" stroke-width="1.9"/><line x1="1006.2" y1="622.6" x2="1004.2" y2="631.0" stroke="#d23030" stroke-width="1.9"/><line x1="765.1" y1="613.4" x2="767.2" y2="609.3" stroke="#3030d0" stroke-width="1.9"/><line x1="767.2" y1="609.3" x2="769.4" y2="605.3" stroke="#8c8c8c" stroke-width="1.9"/><line x1="765.1" y1="613.4" x2="767.8" y2="618.0" stroke="#3030d0" stroke-width="1.9"/><line x1="767.8" y1="618.0" x2="770.5" y2="622.7" stroke="#8c8c8c" stroke-width="1.9"/><line x1="769.4" y1="605.3" x2="766.4" y2="601.7" stroke="#8c8c8c" stroke-width="1.9"/><line x1="766.4" y1="601.7" x2="763.3" y2="598.1" stroke="#d23030" stroke-width="1.9"/><line x1="770.5" y1="622.7" x2="768.6" y2="625.8" stroke="#8c8c8c" stroke-width="1.9"/><line x1="768.6" y1="625.8" x2="766.7" y2="629.0" stroke="#d23030" stroke-width="1.9"/><line x1="818.9" y1="613.4" x2="815.6" y2="609.3" stroke="#3030d0" stroke-width="1.9"/><line x1="815.6" y1="609.3" x2="812.3" y2="605.3" stroke="#8c8c8c" stroke-width="1.9"/><line x1="818.9" y1="613.4" x2="816.5" y2="618.0" stroke="#3030d0" stroke-width="1.9"/><line x1="816.5" y1="618.0" x2="814.1" y2="622.7" stroke="#8c8c8c" stroke-width="1.9"/><line x1="812.3" y1="605.3" x2="814.5" y2="601.6" stroke="#8c8c8c" stroke-width="1.9"/><line x1="814.5" y1="601.6" x2="816.6" y2="597.9" stroke="#d23030" stroke-width="1.9"/><line x1="814.1" y1="622.7" x2="817.0" y2="625.8" stroke="#8c8c8c" stroke-width="1.9"/><line x1="817.0" y1="625.8" x2="819.8" y2="629.0" stroke="#d23030" stroke-width="1.9"/><line x1="769.4" y1="605.3" x2="774.5" y2="605.3" stroke="#8c8c8c" stroke-width="1.9"/><line x1="774.5" y1="605.3" x2="779.5" y2="605.3" stroke="#8c8c8c" stroke-width="1.9"/><line x1="770.5" y1="622.7" x2="776.1" y2="622.5" stroke="#8c8c8c" stroke-width="1.9"/><line x1="776.1" y1="622.5" x2="781.7" y2="622.4" stroke="#8c8c8c" stroke-width="1.9"/><line x1="779.5" y1="605.3" x2="782.1" y2="601.0" stroke="#8c8c8c" stroke-width="1.9"/><line x1="782.1" y1="601.0" x2="784.7" y2="596.6" stroke="#8c8c8c" stroke-width="1.9"/><line x1="784.7" y1="596.6" x2="789.9" y2="596.6" stroke="#8c8c8c" stroke-width="1.9"/><line x1="789.9" y1="596.6" x2="795.0" y2="596.6" stroke="#8c8c8c" stroke-width="1.9"/><line x1="795.0" y1="596.6" x2="798.0" y2="601.0" stroke="#8c8c8c" stroke-width="1.9"/><line x1="798.0" y1="601.0" x2="801.1" y2="605.3" stroke="#8c8c8c" stroke-width="1.9"/><line x1="779.5" y1="605.3" x2="783.0" y2="609.5" stroke="#8c8c8c" stroke-width="1.9"/><line x1="783.0" y1="609.5" x2="786.5" y2="613.7" stroke="#8c8c8c" stroke-width="1.9"/><line x1="801.1" y1="605.3" x2="798.9" y2="609.5" stroke="#8c8c8c" stroke-width="1.9"/><line x1="798.9" y1="609.5" x2="796.6" y2="613.7" stroke="#8c8c8c" stroke-width="1.9"/><line x1="786.5" y1="613.7" x2="791.5" y2="613.7" stroke="#8c8c8c" stroke-width="1.9"/><line x1="791.5" y1="613.7" x2="796.6" y2="613.7" stroke="#8c8c8c" stroke-width="1.9"/><line x1="786.5" y1="613.7" x2="784.1" y2="618.0" stroke="#8c8c8c" stroke-width="1.9"/><line x1="784.1" y1="618.0" x2="781.7" y2="622.4" stroke="#8c8c8c" stroke-width="1.9"/><line x1="796.6" y1="613.7" x2="799.9" y2="618.0" stroke="#8c8c8c" stroke-width="1.9"/><line x1="799.9" y1="618.0" x2="803.1" y2="622.4" stroke="#8c8c8c" stroke-width="1.9"/><line x1="781.7" y1="622.4" x2="784.8" y2="626.3" stroke="#8c8c8c" stroke-width="1.9"/><line x1="784.8" y1="626.3" x2="787.8" y2="630.3" stroke="#8c8c8c" stroke-width="1.9"/><line x1="787.8" y1="630.3" x2="793.2" y2="630.3" stroke="#8c8c8c" stroke-width="1.9"/><line x1="793.2" y1="630.3" x2="798.6" y2="630.3" stroke="#8c8c8c" stroke-width="1.9"/><line x1="798.6" y1="630.3" x2="800.9" y2="626.3" stroke="#8c8c8c" stroke-width="1.9"/><line x1="800.9" y1="626.3" x2="803.1" y2="622.4" stroke="#8c8c8c" stroke-width="1.9"/><line x1="801.1" y1="605.3" x2="806.7" y2="605.3" stroke="#8c8c8c" stroke-width="1.9"/><line x1="806.7" y1="605.3" x2="812.3" y2="605.3" stroke="#8c8c8c" stroke-width="1.9"/><line x1="803.1" y1="622.4" x2="808.6" y2="622.5" stroke="#8c8c8c" stroke-width="1.9"/><line x1="808.6" y1="622.5" x2="814.1" y2="622.7" stroke="#8c8c8c" stroke-width="1.9"/><line x1="754.4" y1="614.0" x2="759.8" y2="613.7" stroke="#8c8c8c" stroke-width="1.9"/><line x1="759.8" y1="613.7" x2="765.1" y2="613.4" stroke="#3030d0" stroke-width="1.9"/><line x1="818.9" y1="613.4" x2="823.8" y2="613.4" stroke="#3030d0" stroke-width="1.9"/><line x1="823.8" y1="613.4" x2="828.7" y2="613.4" stroke="#8c8c8c" stroke-width="1.9"/><line x1="916.6" y1="613.4" x2="918.8" y2="609.3" stroke="#3030d0" stroke-width="1.9"/><line x1="918.8" y1="609.3" x2="920.9" y2="605.3" stroke="#8c8c8c" stroke-width="1.9"/><line x1="916.6" y1="613.4" x2="919.3" y2="618.0" stroke="#3030d0" stroke-width="1.9"/><line x1="919.3" y1="618.0" x2="922.0" y2="622.7" stroke="#8c8c8c" stroke-width="1.9"/><line x1="920.9" y1="605.3" x2="917.9" y2="601.7" stroke="#8c8c8c" stroke-width="1.9"/><line x1="917.9" y1="601.7" x2="914.8" y2="598.1" stroke="#d23030" stroke-width="1.9"/><line x1="922.0" y1="622.7" x2="920.1" y2="625.8" stroke="#8c8c8c" stroke-width="1.9"/><line x1="920.1" y1="625.8" x2="918.2" y2="629.0" stroke="#d23030" stroke-width="1.9"/><line x1="970.4" y1="613.4" x2="967.1" y2="609.3" stroke="#3030d0" stroke-width="1.9"/><line x1="967.1" y1="609.3" x2="963.8" y2="605.3" stroke="#8c8c8c" stroke-width="1.9"/><line x1="970.4" y1="613.4" x2="968.0" y2="618.0" stroke="#3030d0" stroke-width="1.9"/><line x1="968.0" y1="618.0" x2="965.6" y2="622.7" stroke="#8c8c8c" stroke-width="1.9"/><line x1="963.8" y1="605.3" x2="966.0" y2="601.6" stroke="#8c8c8c" stroke-width="1.9"/><line x1="966.0" y1="601.6" x2="968.1" y2="597.9" stroke="#d23030" stroke-width="1.9"/><line x1="965.6" y1="622.7" x2="968.5" y2="625.8" stroke="#8c8c8c" stroke-width="1.9"/><line x1="968.5" y1="625.8" x2="971.3" y2="629.0" stroke="#d23030" stroke-width="1.9"/><line x1="920.9" y1="605.3" x2="926.0" y2="605.3" stroke="#8c8c8c" stroke-width="1.9"/><line x1="926.0" y1="605.3" x2="931.0" y2="605.3" stroke="#8c8c8c" stroke-width="1.9"/><line x1="922.0" y1="622.7" x2="927.6" y2="622.5" stroke="#8c8c8c" stroke-width="1.9"/><line x1="927.6" y1="622.5" x2="933.2" y2="622.4" stroke="#8c8c8c" stroke-width="1.9"/><line x1="931.0" y1="605.3" x2="933.6" y2="601.0" stroke="#8c8c8c" stroke-width="1.9"/><line x1="933.6" y1="601.0" x2="936.2" y2="596.6" stroke="#8c8c8c" stroke-width="1.9"/><line x1="936.2" y1="596.6" x2="941.4" y2="596.6" stroke="#8c8c8c" stroke-width="1.9"/><line x1="941.4" y1="596.6" x2="946.5" y2="596.6" stroke="#8c8c8c" stroke-width="1.9"/><line x1="946.5" y1="596.6" x2="949.5" y2="601.0" stroke="#8c8c8c" stroke-width="1.9"/><line x1="949.5" y1="601.0" x2="952.6" y2="605.3" stroke="#8c8c8c" stroke-width="1.9"/><line x1="931.0" y1="605.3" x2="934.5" y2="609.5" stroke="#8c8c8c" stroke-width="1.9"/><line x1="934.5" y1="609.5" x2="938.0" y2="613.7" stroke="#8c8c8c" stroke-width="1.9"/><line x1="952.6" y1="605.3" x2="950.4" y2="609.5" stroke="#8c8c8c" stroke-width="1.9"/><line x1="950.4" y1="609.5" x2="948.1" y2="613.7" stroke="#8c8c8c" stroke-width="1.9"/><line x1="938.0" y1="613.7" x2="943.0" y2="613.7" stroke="#8c8c8c" stroke-width="1.9"/><line x1="943.0" y1="613.7" x2="948.1" y2="613.7" stroke="#8c8c8c" stroke-width="1.9"/><line x1="938.0" y1="613.7" x2="935.6" y2="618.0" stroke="#8c8c8c" stroke-width="1.9"/><line x1="935.6" y1="618.0" x2="933.2" y2="622.4" stroke="#8c8c8c" stroke-width="1.9"/><line x1="948.1" y1="613.7" x2="951.4" y2="618.0" stroke="#8c8c8c" stroke-width="1.9"/><line x1="951.4" y1="618.0" x2="954.6" y2="622.4" stroke="#8c8c8c" stroke-width="1.9"/><line x1="933.2" y1="622.4" x2="936.2" y2="626.3" stroke="#8c8c8c" stroke-width="1.9"/><line x1="936.2" y1="626.3" x2="939.3" y2="630.3" stroke="#8c8c8c" stroke-width="1.9"/><line x1="939.3" y1="630.3" x2="944.7" y2="630.3" stroke="#8c8c8c" stroke-width="1.9"/><line x1="944.7" y1="630.3" x2="950.1" y2="630.3" stroke="#8c8c8c" stroke-width="1.9"/><line x1="950.1" y1="630.3" x2="952.4" y2="626.3" stroke="#8c8c8c" stroke-width="1.9"/><line x1="952.4" y1="626.3" x2="954.6" y2="622.4" stroke="#8c8c8c" stroke-width="1.9"/><line x1="952.6" y1="605.3" x2="958.2" y2="605.3" stroke="#8c8c8c" stroke-width="1.9"/><line x1="958.2" y1="605.3" x2="963.8" y2="605.3" stroke="#8c8c8c" stroke-width="1.9"/><line x1="954.6" y1="622.4" x2="960.1" y2="622.5" stroke="#8c8c8c" stroke-width="1.9"/><line x1="960.1" y1="622.5" x2="965.6" y2="622.7" stroke="#8c8c8c" stroke-width="1.9"/><line x1="905.9" y1="614.0" x2="911.2" y2="613.7" stroke="#8c8c8c" stroke-width="1.9"/><line x1="911.2" y1="613.7" x2="916.6" y2="613.4" stroke="#3030d0" stroke-width="1.9"/><line x1="970.4" y1="613.4" x2="975.3" y2="613.4" stroke="#3030d0" stroke-width="1.9"/><line x1="975.3" y1="613.4" x2="980.2" y2="613.4" stroke="#8c8c8c" stroke-width="1.9"/><circle cx="715.9" cy="465.8" r="1.5" fill="#48c4cc"/><circle cx="700.2" cy="450.6" r="1.5" fill="#48c4cc"/><circle cx="701.2" cy="446.0" r="1.5" fill="#48c4cc"/><circle cx="705.7" cy="444.1" r="1.5" fill="#48c4cc"/><circle cx="715.0" cy="442.6" r="1.5" fill="#48c4cc"/><circle cx="719.7" cy="443.3" r="1.5" fill="#48c4cc"/><circle cx="721.8" cy="447.6" r="1.5" fill="#48c4cc"/><circle cx="716.3" cy="510.0" r="1.5" fill="#48c4cc"/><circle cx="732.0" cy="522.2" r="1.5" fill="#48c4cc"/><circle cx="731.0" cy="526.8" r="1.5" fill="#48c4cc"/><circle cx="726.5" cy="528.7" r="1.5" fill="#48c4cc"/><circle cx="717.2" cy="530.2" r="1.5" fill="#48c4cc"/><circle cx="712.5" cy="529.5" r="1.5" fill="#48c4cc"/><circle cx="710.4" cy="525.2" r="1.5" fill="#48c4cc"/><circle cx="743.3" cy="467.9" r="1.5" fill="#48c4cc"/><circle cx="733.6" cy="449.0" r="1.5" fill="#48c4cc"/><circle cx="736.1" cy="444.9" r="1.5" fill="#48c4cc"/><circle cx="740.9" cy="444.5" r="1.5" fill="#48c4cc"/><circle cx="754.8" cy="449.1" r="1.5" fill="#48c4cc"/><circle cx="758.2" cy="452.5" r="1.5" fill="#48c4cc"/><circle cx="757.3" cy="457.3" r="1.5" fill="#48c4cc"/><circle cx="688.9" cy="507.9" r="1.5" fill="#48c4cc"/><circle cx="698.6" cy="523.8" r="1.5" fill="#48c4cc"/><circle cx="696.1" cy="527.9" r="1.5" fill="#48c4cc"/><circle cx="691.3" cy="528.3" r="1.5" fill="#48c4cc"/><circle cx="677.4" cy="523.7" r="1.5" fill="#48c4cc"/><circle cx="674.0" cy="520.3" r="1.5" fill="#48c4cc"/><circle cx="674.9" cy="515.5" r="1.5" fill="#48c4cc"/><circle cx="867.4" cy="465.8" r="1.5" fill="#48c4cc"/><circle cx="851.7" cy="450.6" r="1.5" fill="#48c4cc"/><circle cx="852.7" cy="446.0" r="1.5" fill="#48c4cc"/><circle cx="857.2" cy="444.1" r="1.5" fill="#48c4cc"/><circle cx="866.5" cy="442.6" r="1.5" fill="#48c4cc"/><circle cx="871.2" cy="443.3" r="1.5" fill="#48c4cc"/><circle cx="873.3" cy="447.6" r="1.5" fill="#48c4cc"/><circle cx="867.8" cy="510.0" r="1.5" fill="#48c4cc"/><circle cx="883.5" cy="522.2" r="1.5" fill="#48c4cc"/><circle cx="882.5" cy="526.8" r="1.5" fill="#48c4cc"/><circle cx="878.0" cy="528.7" r="1.5" fill="#48c4cc"/><circle cx="868.7" cy="530.2" r="1.5" fill="#48c4cc"/><circle cx="864.0" cy="529.5" r="1.5" fill="#48c4cc"/><circle cx="861.9" cy="525.2" r="1.5" fill="#48c4cc"/><circle cx="894.8" cy="467.9" r="1.5" fill="#48c4cc"/><circle cx="885.1" cy="449.0" r="1.5" fill="#48c4cc"/><circle cx="887.6" cy="444.9" r="1.5" fill="#48c4cc"/><circle cx="892.4" cy="444.5" r="1.5" fill="#48c4cc"/><circle cx="906.3" cy="449.1" r="1.5" fill="#48c4cc"/><circle cx="909.7" cy="452.5" r="1.5" fill="#48c4cc"/><circle cx="908.8" cy="457.3" r="1.5" fill="#48c4cc"/><circle cx="840.4" cy="507.9" r="1.5" fill="#48c4cc"/><circle cx="850.1" cy="523.8" r="1.5" fill="#48c4cc"/><circle cx="847.6" cy="527.9" r="1.5" fill="#48c4cc"/><circle cx="842.8" cy="528.3" r="1.5" fill="#48c4cc"/><circle cx="828.9" cy="523.7" r="1.5" fill="#48c4cc"/><circle cx="825.5" cy="520.3" r="1.5" fill="#48c4cc"/><circle cx="826.4" cy="515.5" r="1.5" fill="#48c4cc"/><circle cx="1018.9" cy="465.8" r="1.5" fill="#48c4cc"/><circle cx="1003.2" cy="450.6" r="1.5" fill="#48c4cc"/><circle cx="1004.2" cy="446.0" r="1.5" fill="#48c4cc"/><circle cx="1008.7" cy="444.1" r="1.5" fill="#48c4cc"/><circle cx="1018.0" cy="442.6" r="1.5" fill="#48c4cc"/><circle cx="1022.7" cy="443.3" r="1.5" fill="#48c4cc"/><circle cx="1024.8" cy="447.6" r="1.5" fill="#48c4cc"/><circle cx="1019.3" cy="510.0" r="1.5" fill="#48c4cc"/><circle cx="1035.0" cy="522.2" r="1.5" fill="#48c4cc"/><circle cx="1034.0" cy="526.8" r="1.5" fill="#48c4cc"/><circle cx="1029.5" cy="528.7" r="1.5" fill="#48c4cc"/><circle cx="1020.2" cy="530.2" r="1.5" fill="#48c4cc"/><circle cx="1015.5" cy="529.5" r="1.5" fill="#48c4cc"/><circle cx="1013.4" cy="525.2" r="1.5" fill="#48c4cc"/><circle cx="1046.3" cy="467.9" r="1.5" fill="#48c4cc"/><circle cx="1036.6" cy="449.0" r="1.5" fill="#48c4cc"/><circle cx="1039.1" cy="444.9" r="1.5" fill="#48c4cc"/><circle cx="1043.9" cy="444.5" r="1.5" fill="#48c4cc"/><circle cx="1057.8" cy="449.1" r="1.5" fill="#48c4cc"/><circle cx="1061.2" cy="452.5" r="1.5" fill="#48c4cc"/><circle cx="1060.3" cy="457.3" r="1.5" fill="#48c4cc"/><circle cx="991.9" cy="507.9" r="1.5" fill="#48c4cc"/><circle cx="1001.6" cy="523.8" r="1.5" fill="#48c4cc"/><circle cx="999.1" cy="527.9" r="1.5" fill="#48c4cc"/><circle cx="994.3" cy="528.3" r="1.5" fill="#48c4cc"/><circle cx="980.4" cy="523.7" r="1.5" fill="#48c4cc"/><circle cx="977.0" cy="520.3" r="1.5" fill="#48c4cc"/><circle cx="977.9" cy="515.5" r="1.5" fill="#48c4cc"/><circle cx="715.9" cy="574.0" r="1.5" fill="#48c4cc"/><circle cx="705.7" cy="592.7" r="1.5" fill="#48c4cc"/><circle cx="701.2" cy="590.8" r="1.5" fill="#48c4cc"/><circle cx="700.2" cy="586.2" r="1.5" fill="#48c4cc"/><circle cx="721.8" cy="589.2" r="1.5" fill="#48c4cc"/><circle cx="719.7" cy="593.5" r="1.5" fill="#48c4cc"/><circle cx="715.0" cy="594.2" r="1.5" fill="#48c4cc"/><circle cx="716.3" cy="529.8" r="1.5" fill="#48c4cc"/><circle cx="726.5" cy="508.1" r="1.5" fill="#48c4cc"/><circle cx="731.0" cy="510.0" r="1.5" fill="#48c4cc"/><circle cx="732.0" cy="514.6" r="1.5" fill="#48c4cc"/><circle cx="710.4" cy="511.6" r="1.5" fill="#48c4cc"/><circle cx="712.5" cy="507.3" r="1.5" fill="#48c4cc"/><circle cx="717.2" cy="506.6" r="1.5" fill="#48c4cc"/><circle cx="743.3" cy="571.9" r="1.5" fill="#48c4cc"/><circle cx="740.9" cy="592.3" r="1.5" fill="#48c4cc"/><circle cx="736.1" cy="591.9" r="1.5" fill="#48c4cc"/><circle cx="733.6" cy="587.8" r="1.5" fill="#48c4cc"/><circle cx="757.3" cy="579.5" r="1.5" fill="#48c4cc"/><circle cx="758.2" cy="584.3" r="1.5" fill="#48c4cc"/><circle cx="754.8" cy="587.7" r="1.5" fill="#48c4cc"/><circle cx="688.9" cy="531.9" r="1.5" fill="#48c4cc"/><circle cx="691.3" cy="508.5" r="1.5" fill="#48c4cc"/><circle cx="696.1" cy="508.9" r="1.5" fill="#48c4cc"/><circle cx="698.6" cy="513.0" r="1.5" fill="#48c4cc"/><circle cx="674.9" cy="521.3" r="1.5" fill="#48c4cc"/><circle cx="674.0" cy="516.5" r="1.5" fill="#48c4cc"/><circle cx="677.4" cy="513.1" r="1.5" fill="#48c4cc"/><circle cx="867.4" cy="574.0" r="1.5" fill="#48c4cc"/><circle cx="857.2" cy="592.7" r="1.5" fill="#48c4cc"/><circle cx="852.7" cy="590.8" r="1.5" fill="#48c4cc"/><circle cx="851.7" cy="586.2" r="1.5" fill="#48c4cc"/><circle cx="873.3" cy="589.2" r="1.5" fill="#48c4cc"/><circle cx="871.2" cy="593.5" r="1.5" fill="#48c4cc"/><circle cx="866.5" cy="594.2" r="1.5" fill="#48c4cc"/><circle cx="867.8" cy="529.8" r="1.5" fill="#48c4cc"/><circle cx="878.0" cy="508.1" r="1.5" fill="#48c4cc"/><circle cx="882.5" cy="510.0" r="1.5" fill="#48c4cc"/><circle cx="883.5" cy="514.6" r="1.5" fill="#48c4cc"/><circle cx="861.9" cy="511.6" r="1.5" fill="#48c4cc"/><circle cx="864.0" cy="507.3" r="1.5" fill="#48c4cc"/><circle cx="868.7" cy="506.6" r="1.5" fill="#48c4cc"/><circle cx="894.8" cy="571.9" r="1.5" fill="#48c4cc"/><circle cx="892.4" cy="592.3" r="1.5" fill="#48c4cc"/><circle cx="887.6" cy="591.9" r="1.5" fill="#48c4cc"/><circle cx="885.1" cy="587.8" r="1.5" fill="#48c4cc"/><circle cx="908.8" cy="579.5" r="1.5" fill="#48c4cc"/><circle cx="909.7" cy="584.3" r="1.5" fill="#48c4cc"/><circle cx="906.3" cy="587.7" r="1.5" fill="#48c4cc"/><circle cx="840.4" cy="531.9" r="1.5" fill="#48c4cc"/><circle cx="842.8" cy="508.5" r="1.5" fill="#48c4cc"/><circle cx="847.6" cy="508.9" r="1.5" fill="#48c4cc"/><circle cx="850.1" cy="513.0" r="1.5" fill="#48c4cc"/><circle cx="826.4" cy="521.3" r="1.5" fill="#48c4cc"/><circle cx="825.5" cy="516.5" r="1.5" fill="#48c4cc"/><circle cx="828.9" cy="513.1" r="1.5" fill="#48c4cc"/><circle cx="1018.9" cy="574.0" r="1.5" fill="#48c4cc"/><circle cx="1008.7" cy="592.7" r="1.5" fill="#48c4cc"/><circle cx="1004.2" cy="590.8" r="1.5" fill="#48c4cc"/><circle cx="1003.2" cy="586.2" r="1.5" fill="#48c4cc"/><circle cx="1024.8" cy="589.2" r="1.5" fill="#48c4cc"/><circle cx="1022.7" cy="593.5" r="1.5" fill="#48c4cc"/><circle cx="1018.0" cy="594.2" r="1.5" fill="#48c4cc"/><circle cx="1019.3" cy="529.8" r="1.5" fill="#48c4cc"/><circle cx="1029.5" cy="508.1" r="1.5" fill="#48c4cc"/><circle cx="1034.0" cy="510.0" r="1.5" fill="#48c4cc"/><circle cx="1035.0" cy="514.6" r="1.5" fill="#48c4cc"/><circle cx="1013.4" cy="511.6" r="1.5" fill="#48c4cc"/><circle cx="1015.5" cy="507.3" r="1.5" fill="#48c4cc"/><circle cx="1020.2" cy="506.6" r="1.5" fill="#48c4cc"/><circle cx="1046.3" cy="571.9" r="1.5" fill="#48c4cc"/><circle cx="1043.9" cy="592.3" r="1.5" fill="#48c4cc"/><circle cx="1039.1" cy="591.9" r="1.5" fill="#48c4cc"/><circle cx="1036.6" cy="587.8" r="1.5" fill="#48c4cc"/><circle cx="1060.3" cy="579.5" r="1.5" fill="#48c4cc"/><circle cx="1061.2" cy="584.3" r="1.5" fill="#48c4cc"/><circle cx="1057.8" cy="587.7" r="1.5" fill="#48c4cc"/><circle cx="991.9" cy="531.9" r="1.5" fill="#48c4cc"/><circle cx="994.3" cy="508.5" r="1.5" fill="#48c4cc"/><circle cx="999.1" cy="508.9" r="1.5" fill="#48c4cc"/><circle cx="1001.6" cy="513.0" r="1.5" fill="#48c4cc"/><circle cx="977.9" cy="521.3" r="1.5" fill="#48c4cc"/><circle cx="977.0" cy="516.5" r="1.5" fill="#48c4cc"/><circle cx="980.4" cy="513.1" r="1.5" fill="#48c4cc"/><circle cx="715.9" cy="592.5" r="1.5" fill="#48c4cc"/><circle cx="700.2" cy="577.3" r="1.5" fill="#48c4cc"/><circle cx="701.2" cy="572.7" r="1.5" fill="#48c4cc"/><circle cx="705.7" cy="570.8" r="1.5" fill="#48c4cc"/><circle cx="715.0" cy="569.3" r="1.5" fill="#48c4cc"/><circle cx="719.7" cy="570.0" r="1.5" fill="#48c4cc"/><circle cx="721.8" cy="574.3" r="1.5" fill="#48c4cc"/><circle cx="716.3" cy="636.7" r="1.5" fill="#48c4cc"/><circle cx="732.0" cy="648.9" r="1.5" fill="#48c4cc"/><circle cx="731.0" cy="653.5" r="1.5" fill="#48c4cc"/><circle cx="726.5" cy="655.4" r="1.5" fill="#48c4cc"/><circle cx="717.2" cy="656.9" r="1.5" fill="#48c4cc"/><circle cx="712.5" cy="656.2" r="1.5" fill="#48c4cc"/><circle cx="710.4" cy="651.9" r="1.5" fill="#48c4cc"/><circle cx="743.3" cy="594.6" r="1.5" fill="#48c4cc"/><circle cx="733.6" cy="575.7" r="1.5" fill="#48c4cc"/><circle cx="736.1" cy="571.6" r="1.5" fill="#48c4cc"/><circle cx="740.9" cy="571.2" r="1.5" fill="#48c4cc"/><circle cx="754.8" cy="575.8" r="1.5" fill="#48c4cc"/><circle cx="758.2" cy="579.2" r="1.5" fill="#48c4cc"/><circle cx="757.3" cy="584.0" r="1.5" fill="#48c4cc"/><circle cx="688.9" cy="634.6" r="1.5" fill="#48c4cc"/><circle cx="698.6" cy="650.5" r="1.5" fill="#48c4cc"/><circle cx="696.1" cy="654.6" r="1.5" fill="#48c4cc"/><circle cx="691.3" cy="655.0" r="1.5" fill="#48c4cc"/><circle cx="677.4" cy="650.4" r="1.5" fill="#48c4cc"/><circle cx="674.0" cy="647.0" r="1.5" fill="#48c4cc"/><circle cx="674.9" cy="642.2" r="1.5" fill="#48c4cc"/><circle cx="867.4" cy="592.5" r="1.5" fill="#48c4cc"/><circle cx="851.7" cy="577.3" r="1.5" fill="#48c4cc"/><circle cx="852.7" cy="572.7" r="1.5" fill="#48c4cc"/><circle cx="857.2" cy="570.8" r="1.5" fill="#48c4cc"/><circle cx="866.5" cy="569.3" r="1.5" fill="#48c4cc"/><circle cx="871.2" cy="570.0" r="1.5" fill="#48c4cc"/><circle cx="873.3" cy="574.3" r="1.5" fill="#48c4cc"/><circle cx="867.8" cy="636.7" r="1.5" fill="#48c4cc"/><circle cx="883.5" cy="648.9" r="1.5" fill="#48c4cc"/><circle cx="882.5" cy="653.5" r="1.5" fill="#48c4cc"/><circle cx="878.0" cy="655.4" r="1.5" fill="#48c4cc"/><circle cx="868.7" cy="656.9" r="1.5" fill="#48c4cc"/><circle cx="864.0" cy="656.2" r="1.5" fill="#48c4cc"/><circle cx="861.9" cy="651.9" r="1.5" fill="#48c4cc"/><circle cx="894.8" cy="594.6" r="1.5" fill="#48c4cc"/><circle cx="885.1" cy="575.7" r="1.5" fill="#48c4cc"/><circle cx="887.6" cy="571.6" r="1.5" fill="#48c4cc"/><circle cx="892.4" cy="571.2" r="1.5" fill="#48c4cc"/><circle cx="906.3" cy="575.8" r="1.5" fill="#48c4cc"/><circle cx="909.7" cy="579.2" r="1.5" fill="#48c4cc"/><circle cx="908.8" cy="584.0" r="1.5" fill="#48c4cc"/><circle cx="840.4" cy="634.6" r="1.5" fill="#48c4cc"/><circle cx="850.1" cy="650.5" r="1.5" fill="#48c4cc"/><circle cx="847.6" cy="654.6" r="1.5" fill="#48c4cc"/><circle cx="842.8" cy="655.0" r="1.5" fill="#48c4cc"/><circle cx="828.9" cy="650.4" r="1.5" fill="#48c4cc"/><circle cx="825.5" cy="647.0" r="1.5" fill="#48c4cc"/><circle cx="826.4" cy="642.2" r="1.5" fill="#48c4cc"/><circle cx="1018.9" cy="592.5" r="1.5" fill="#48c4cc"/><circle cx="1003.2" cy="577.3" r="1.5" fill="#48c4cc"/><circle cx="1004.2" cy="572.7" r="1.5" fill="#48c4cc"/><circle cx="1008.7" cy="570.8" r="1.5" fill="#48c4cc"/><circle cx="1018.0" cy="569.3" r="1.5" fill="#48c4cc"/><circle cx="1022.7" cy="570.0" r="1.5" fill="#48c4cc"/><circle cx="1024.8" cy="574.3" r="1.5" fill="#48c4cc"/><circle cx="1019.3" cy="636.7" r="1.5" fill="#48c4cc"/><circle cx="1035.0" cy="648.9" r="1.5" fill="#48c4cc"/><circle cx="1034.0" cy="653.5" r="1.5" fill="#48c4cc"/><circle cx="1029.5" cy="655.4" r="1.5" fill="#48c4cc"/><circle cx="1020.2" cy="656.9" r="1.5" fill="#48c4cc"/><circle cx="1015.5" cy="656.2" r="1.5" fill="#48c4cc"/><circle cx="1013.4" cy="651.9" r="1.5" fill="#48c4cc"/><circle cx="1046.3" cy="594.6" r="1.5" fill="#48c4cc"/><circle cx="1036.6" cy="575.7" r="1.5" fill="#48c4cc"/><circle cx="1039.1" cy="571.6" r="1.5" fill="#48c4cc"/><circle cx="1043.9" cy="571.2" r="1.5" fill="#48c4cc"/><circle cx="1057.8" cy="575.8" r="1.5" fill="#48c4cc"/><circle cx="1061.2" cy="579.2" r="1.5" fill="#48c4cc"/><circle cx="1060.3" cy="584.0" r="1.5" fill="#48c4cc"/><circle cx="991.9" cy="634.6" r="1.5" fill="#48c4cc"/><circle cx="1001.6" cy="650.5" r="1.5" fill="#48c4cc"/><circle cx="999.1" cy="654.6" r="1.5" fill="#48c4cc"/><circle cx="994.3" cy="655.0" r="1.5" fill="#48c4cc"/><circle cx="980.4" cy="650.4" r="1.5" fill="#48c4cc"/><circle cx="977.0" cy="647.0" r="1.5" fill="#48c4cc"/><circle cx="977.9" cy="642.2" r="1.5" fill="#48c4cc"/><circle cx="677.2" cy="486.7" r="2.0" fill="#c6c6c6" stroke="#444" stroke-width="1.1"/><circle cx="680.8" cy="486.7" r="2.0" fill="#c6c6c6" stroke="#444" stroke-width="1.1"/><circle cx="684.0" cy="486.3" r="2.0" fill="#c6c6c6" stroke="#444" stroke-width="1.1"/><circle cx="748.4" cy="487.3" r="2.0" fill="#c6c6c6" stroke="#444" stroke-width="1.1"/><circle cx="751.7" cy="487.1" r="2.0" fill="#c6c6c6" stroke="#444" stroke-width="1.1"/><circle cx="754.4" cy="487.3" r="2.0" fill="#c6c6c6" stroke="#444" stroke-width="1.1"/><circle cx="711.4" cy="464.3" r="2.0" fill="#c6c6c6" stroke="#444" stroke-width="1.1"/><circle cx="705.2" cy="449.3" r="2.0" fill="#c6c6c6" stroke="#444" stroke-width="1.1"/><circle cx="716.6" cy="447.5" r="2.0" fill="#c6c6c6" stroke="#444" stroke-width="1.1"/><circle cx="720.8" cy="508.5" r="2.0" fill="#c6c6c6" stroke="#444" stroke-width="1.1"/><circle cx="727.0" cy="523.5" r="2.0" fill="#c6c6c6" stroke="#444" stroke-width="1.1"/><circle cx="715.6" cy="525.3" r="2.0" fill="#c6c6c6" stroke="#444" stroke-width="1.1"/><circle cx="738.8" cy="466.4" r="2.0" fill="#c6c6c6" stroke="#444" stroke-width="1.1"/><circle cx="738.8" cy="449.3" r="2.0" fill="#c6c6c6" stroke="#444" stroke-width="1.1"/><circle cx="753.2" cy="454.1" r="2.0" fill="#c6c6c6" stroke="#444" stroke-width="1.1"/><circle cx="693.4" cy="506.4" r="2.0" fill="#c6c6c6" stroke="#444" stroke-width="1.1"/><circle cx="693.4" cy="523.5" r="2.0" fill="#c6c6c6" stroke="#444" stroke-width="1.1"/><circle cx="679.0" cy="518.7" r="2.0" fill="#c6c6c6" stroke="#444" stroke-width="1.1"/><circle cx="828.7" cy="486.7" r="2.0" fill="#c6c6c6" stroke="#444" stroke-width="1.1"/><circle cx="832.3" cy="486.7" r="2.0" fill="#c6c6c6" stroke="#444" stroke-width="1.1"/><circle cx="835.5" cy="486.3" r="2.0" fill="#c6c6c6" stroke="#444" stroke-width="1.1"/><circle cx="899.9" cy="487.3" r="2.0" fill="#c6c6c6" stroke="#444" stroke-width="1.1"/><circle cx="903.2" cy="487.1" r="2.0" fill="#c6c6c6" stroke="#444" stroke-width="1.1"/><circle cx="905.9" cy="487.3" r="2.0" fill="#c6c6c6" stroke="#444" stroke-width="1.1"/><circle cx="862.9" cy="464.3" r="2.0" fill="#c6c6c6" stroke="#444" stroke-width="1.1"/><circle cx="856.7" cy="449.3" r="2.0" fill="#c6c6c6" stroke="#444" stroke-width="1.1"/><circle cx="868.1" cy="447.5" r="2.0" fill="#c6c6c6" stroke="#444" stroke-width="1.1"/><circle cx="872.3" cy="508.5" r="2.0" fill="#c6c6c6" stroke="#444" stroke-width="1.1"/><circle cx="878.5" cy="523.5" r="2.0" fill="#c6c6c6" stroke="#444" stroke-width="1.1"/><circle cx="867.1" cy="525.3" r="2.0" fill="#c6c6c6" stroke="#444" stroke-width="1.1"/><circle cx="890.3" cy="466.4" r="2.0" fill="#c6c6c6" stroke="#444" stroke-width="1.1"/><circle cx="890.3" cy="449.3" r="2.0" fill="#c6c6c6" stroke="#444" stroke-width="1.1"/><circle cx="904.7" cy="454.1" r="2.0" fill="#c6c6c6" stroke="#444" stroke-width="1.1"/><circle cx="844.9" cy="506.4" r="2.0" fill="#c6c6c6" stroke="#444" stroke-width="1.1"/><circle cx="844.9" cy="523.5" r="2.0" fill="#c6c6c6" stroke="#444" stroke-width="1.1"/><circle cx="830.5" cy="518.7" r="2.0" fill="#c6c6c6" stroke="#444" stroke-width="1.1"/><circle cx="980.2" cy="486.7" r="2.0" fill="#c6c6c6" stroke="#444" stroke-width="1.1"/><circle cx="983.8" cy="486.7" r="2.0" fill="#c6c6c6" stroke="#444" stroke-width="1.1"/><circle cx="987.0" cy="486.3" r="2.0" fill="#c6c6c6" stroke="#444" stroke-width="1.1"/><circle cx="1051.4" cy="487.3" r="2.0" fill="#c6c6c6" stroke="#444" stroke-width="1.1"/><circle cx="1054.7" cy="487.1" r="2.0" fill="#c6c6c6" stroke="#444" stroke-width="1.1"/><circle cx="1057.4" cy="487.3" r="2.0" fill="#c6c6c6" stroke="#444" stroke-width="1.1"/><circle cx="1014.4" cy="464.3" r="2.0" fill="#c6c6c6" stroke="#444" stroke-width="1.1"/><circle cx="1008.2" cy="449.3" r="2.0" fill="#c6c6c6" stroke="#444" stroke-width="1.1"/><circle cx="1019.6" cy="447.5" r="2.0" fill="#c6c6c6" stroke="#444" stroke-width="1.1"/><circle cx="1023.8" cy="508.5" r="2.0" fill="#c6c6c6" stroke="#444" stroke-width="1.1"/><circle cx="1030.0" cy="523.5" r="2.0" fill="#c6c6c6" stroke="#444" stroke-width="1.1"/><circle cx="1018.6" cy="525.3" r="2.0" fill="#c6c6c6" stroke="#444" stroke-width="1.1"/><circle cx="1041.8" cy="466.4" r="2.0" fill="#c6c6c6" stroke="#444" stroke-width="1.1"/><circle cx="1041.8" cy="449.3" r="2.0" fill="#c6c6c6" stroke="#444" stroke-width="1.1"/><circle cx="1056.2" cy="454.1" r="2.0" fill="#c6c6c6" stroke="#444" stroke-width="1.1"/><circle cx="996.4" cy="506.4" r="2.0" fill="#c6c6c6" stroke="#444" stroke-width="1.1"/><circle cx="996.4" cy="523.5" r="2.0" fill="#c6c6c6" stroke="#444" stroke-width="1.1"/><circle cx="982.0" cy="518.7" r="2.0" fill="#c6c6c6" stroke="#444" stroke-width="1.1"/><circle cx="769.4" cy="478.6" r="2.0" fill="#c6c6c6" stroke="#444" stroke-width="1.1"/><circle cx="770.5" cy="496.0" r="2.0" fill="#c6c6c6" stroke="#444" stroke-width="1.1"/><circle cx="812.3" cy="478.6" r="2.0" fill="#c6c6c6" stroke="#444" stroke-width="1.1"/><circle cx="814.1" cy="496.0" r="2.0" fill="#c6c6c6" stroke="#444" stroke-width="1.1"/><circle cx="779.5" cy="478.6" r="2.0" fill="#c6c6c6" stroke="#444" stroke-width="1.1"/><circle cx="784.7" cy="469.9" r="2.0" fill="#c6c6c6" stroke="#444" stroke-width="1.1"/><circle cx="795.0" cy="469.9" r="2.0" fill="#c6c6c6" stroke="#444" stroke-width="1.1"/><circle cx="801.1" cy="478.6" r="2.0" fill="#c6c6c6" stroke="#444" stroke-width="1.1"/><circle cx="786.5" cy="487.0" r="2.0" fill="#c6c6c6" stroke="#444" stroke-width="1.1"/><circle cx="796.6" cy="487.0" r="2.0" fill="#c6c6c6" stroke="#444" stroke-width="1.1"/><circle cx="781.7" cy="495.7" r="2.0" fill="#c6c6c6" stroke="#444" stroke-width="1.1"/><circle cx="787.8" cy="503.6" r="2.0" fill="#c6c6c6" stroke="#444" stroke-width="1.1"/><circle cx="798.6" cy="503.6" r="2.0" fill="#c6c6c6" stroke="#444" stroke-width="1.1"/><circle cx="803.1" cy="495.7" r="2.0" fill="#c6c6c6" stroke="#444" stroke-width="1.1"/><circle cx="920.9" cy="478.6" r="2.0" fill="#c6c6c6" stroke="#444" stroke-width="1.1"/><circle cx="922.0" cy="496.0" r="2.0" fill="#c6c6c6" stroke="#444" stroke-width="1.1"/><circle cx="963.8" cy="478.6" r="2.0" fill="#c6c6c6" stroke="#444" stroke-width="1.1"/><circle cx="965.6" cy="496.0" r="2.0" fill="#c6c6c6" stroke="#444" stroke-width="1.1"/><circle cx="931.0" cy="478.6" r="2.0" fill="#c6c6c6" stroke="#444" stroke-width="1.1"/><circle cx="936.2" cy="469.9" r="2.0" fill="#c6c6c6" stroke="#444" stroke-width="1.1"/><circle cx="946.5" cy="469.9" r="2.0" fill="#c6c6c6" stroke="#444" stroke-width="1.1"/><circle cx="952.6" cy="478.6" r="2.0" fill="#c6c6c6" stroke="#444" stroke-width="1.1"/><circle cx="938.0" cy="487.0" r="2.0" fill="#c6c6c6" stroke="#444" stroke-width="1.1"/><circle cx="948.1" cy="487.0" r="2.0" fill="#c6c6c6" stroke="#444" stroke-width="1.1"/><circle cx="933.2" cy="495.7" r="2.0" fill="#c6c6c6" stroke="#444" stroke-width="1.1"/><circle cx="939.3" cy="503.6" r="2.0" fill="#c6c6c6" stroke="#444" stroke-width="1.1"/><circle cx="950.1" cy="503.6" r="2.0" fill="#c6c6c6" stroke="#444" stroke-width="1.1"/><circle cx="954.6" cy="495.7" r="2.0" fill="#c6c6c6" stroke="#444" stroke-width="1.1"/><circle cx="1059.7" cy="487.1" r="2.0" fill="#c6c6c6" stroke="#444" stroke-width="1.1"/><circle cx="677.2" cy="550.1" r="2.0" fill="#c6c6c6" stroke="#444" stroke-width="1.1"/><circle cx="680.8" cy="550.1" r="2.0" fill="#c6c6c6" stroke="#444" stroke-width="1.1"/><circle cx="684.0" cy="550.5" r="2.0" fill="#c6c6c6" stroke="#444" stroke-width="1.1"/><circle cx="748.4" cy="549.5" r="2.0" fill="#c6c6c6" stroke="#444" stroke-width="1.1"/><circle cx="751.7" cy="549.7" r="2.0" fill="#c6c6c6" stroke="#444" stroke-width="1.1"/><circle cx="754.4" cy="549.5" r="2.0" fill="#c6c6c6" stroke="#444" stroke-width="1.1"/><circle cx="711.4" cy="572.5" r="2.0" fill="#c6c6c6" stroke="#444" stroke-width="1.1"/><circle cx="705.2" cy="587.5" r="2.0" fill="#c6c6c6" stroke="#444" stroke-width="1.1"/><circle cx="716.6" cy="589.3" r="2.0" fill="#c6c6c6" stroke="#444" stroke-width="1.1"/><circle cx="720.8" cy="528.3" r="2.0" fill="#c6c6c6" stroke="#444" stroke-width="1.1"/><circle cx="727.0" cy="513.3" r="2.0" fill="#c6c6c6" stroke="#444" stroke-width="1.1"/><circle cx="715.6" cy="511.5" r="2.0" fill="#c6c6c6" stroke="#444" stroke-width="1.1"/><circle cx="738.8" cy="570.4" r="2.0" fill="#c6c6c6" stroke="#444" stroke-width="1.1"/><circle cx="738.8" cy="587.5" r="2.0" fill="#c6c6c6" stroke="#444" stroke-width="1.1"/><circle cx="753.2" cy="582.7" r="2.0" fill="#c6c6c6" stroke="#444" stroke-width="1.1"/><circle cx="693.4" cy="530.4" r="2.0" fill="#c6c6c6" stroke="#444" stroke-width="1.1"/><circle cx="693.4" cy="513.3" r="2.0" fill="#c6c6c6" stroke="#444" stroke-width="1.1"/><circle cx="679.0" cy="518.1" r="2.0" fill="#c6c6c6" stroke="#444" stroke-width="1.1"/><circle cx="828.7" cy="550.1" r="2.0" fill="#c6c6c6" stroke="#444" stroke-width="1.1"/><circle cx="832.3" cy="550.1" r="2.0" fill="#c6c6c6" stroke="#444" stroke-width="1.1"/><circle cx="835.5" cy="550.5" r="2.0" fill="#c6c6c6" stroke="#444" stroke-width="1.1"/><circle cx="899.9" cy="549.5" r="2.0" fill="#c6c6c6" stroke="#444" stroke-width="1.1"/><circle cx="903.2" cy="549.7" r="2.0" fill="#c6c6c6" stroke="#444" stroke-width="1.1"/><circle cx="905.9" cy="549.5" r="2.0" fill="#c6c6c6" stroke="#444" stroke-width="1.1"/><circle cx="862.9" cy="572.5" r="2.0" fill="#c6c6c6" stroke="#444" stroke-width="1.1"/><circle cx="856.7" cy="587.5" r="2.0" fill="#c6c6c6" stroke="#444" stroke-width="1.1"/><circle cx="868.1" cy="589.3" r="2.0" fill="#c6c6c6" stroke="#444" stroke-width="1.1"/><circle cx="872.3" cy="528.3" r="2.0" fill="#c6c6c6" stroke="#444" stroke-width="1.1"/><circle cx="878.5" cy="513.3" r="2.0" fill="#c6c6c6" stroke="#444" stroke-width="1.1"/><circle cx="867.1" cy="511.5" r="2.0" fill="#c6c6c6" stroke="#444" stroke-width="1.1"/><circle cx="890.3" cy="570.4" r="2.0" fill="#c6c6c6" stroke="#444" stroke-width="1.1"/><circle cx="890.3" cy="587.5" r="2.0" fill="#c6c6c6" stroke="#444" stroke-width="1.1"/><circle cx="904.7" cy="582.7" r="2.0" fill="#c6c6c6" stroke="#444" stroke-width="1.1"/><circle cx="844.9" cy="530.4" r="2.0" fill="#c6c6c6" stroke="#444" stroke-width="1.1"/><circle cx="844.9" cy="513.3" r="2.0" fill="#c6c6c6" stroke="#444" stroke-width="1.1"/><circle cx="830.5" cy="518.1" r="2.0" fill="#c6c6c6" stroke="#444" stroke-width="1.1"/><circle cx="980.2" cy="550.1" r="2.0" fill="#c6c6c6" stroke="#444" stroke-width="1.1"/><circle cx="983.8" cy="550.1" r="2.0" fill="#c6c6c6" stroke="#444" stroke-width="1.1"/><circle cx="987.0" cy="550.5" r="2.0" fill="#c6c6c6" stroke="#444" stroke-width="1.1"/><circle cx="1051.4" cy="549.5" r="2.0" fill="#c6c6c6" stroke="#444" stroke-width="1.1"/><circle cx="1054.7" cy="549.7" r="2.0" fill="#c6c6c6" stroke="#444" stroke-width="1.1"/><circle cx="1057.4" cy="549.5" r="2.0" fill="#c6c6c6" stroke="#444" stroke-width="1.1"/><circle cx="1014.4" cy="572.5" r="2.0" fill="#c6c6c6" stroke="#444" stroke-width="1.1"/><circle cx="1008.2" cy="587.5" r="2.0" fill="#c6c6c6" stroke="#444" stroke-width="1.1"/><circle cx="1019.6" cy="589.3" r="2.0" fill="#c6c6c6" stroke="#444" stroke-width="1.1"/><circle cx="1023.8" cy="528.3" r="2.0" fill="#c6c6c6" stroke="#444" stroke-width="1.1"/><circle cx="1030.0" cy="513.3" r="2.0" fill="#c6c6c6" stroke="#444" stroke-width="1.1"/><circle cx="1018.6" cy="511.5" r="2.0" fill="#c6c6c6" stroke="#444" stroke-width="1.1"/><circle cx="1041.8" cy="570.4" r="2.0" fill="#c6c6c6" stroke="#444" stroke-width="1.1"/><circle cx="1041.8" cy="587.5" r="2.0" fill="#c6c6c6" stroke="#444" stroke-width="1.1"/><circle cx="1056.2" cy="582.7" r="2.0" fill="#c6c6c6" stroke="#444" stroke-width="1.1"/><circle cx="996.4" cy="530.4" r="2.0" fill="#c6c6c6" stroke="#444" stroke-width="1.1"/><circle cx="996.4" cy="513.3" r="2.0" fill="#c6c6c6" stroke="#444" stroke-width="1.1"/><circle cx="982.0" cy="518.1" r="2.0" fill="#c6c6c6" stroke="#444" stroke-width="1.1"/><circle cx="769.4" cy="558.2" r="2.0" fill="#c6c6c6" stroke="#444" stroke-width="1.1"/><circle cx="770.5" cy="540.8" r="2.0" fill="#c6c6c6" stroke="#444" stroke-width="1.1"/><circle cx="812.3" cy="558.2" r="2.0" fill="#c6c6c6" stroke="#444" stroke-width="1.1"/><circle cx="814.1" cy="540.8" r="2.0" fill="#c6c6c6" stroke="#444" stroke-width="1.1"/><circle cx="779.5" cy="558.2" r="2.0" fill="#c6c6c6" stroke="#444" stroke-width="1.1"/><circle cx="784.7" cy="566.9" r="2.0" fill="#c6c6c6" stroke="#444" stroke-width="1.1"/><circle cx="795.0" cy="566.9" r="2.0" fill="#c6c6c6" stroke="#444" stroke-width="1.1"/><circle cx="801.1" cy="558.2" r="2.0" fill="#c6c6c6" stroke="#444" stroke-width="1.1"/><circle cx="786.5" cy="549.8" r="2.0" fill="#c6c6c6" stroke="#444" stroke-width="1.1"/><circle cx="796.6" cy="549.8" r="2.0" fill="#c6c6c6" stroke="#444" stroke-width="1.1"/><circle cx="781.7" cy="541.1" r="2.0" fill="#c6c6c6" stroke="#444" stroke-width="1.1"/><circle cx="787.8" cy="533.2" r="2.0" fill="#c6c6c6" stroke="#444" stroke-width="1.1"/><circle cx="798.6" cy="533.2" r="2.0" fill="#c6c6c6" stroke="#444" stroke-width="1.1"/><circle cx="803.1" cy="541.1" r="2.0" fill="#c6c6c6" stroke="#444" stroke-width="1.1"/><circle cx="920.9" cy="558.2" r="2.0" fill="#c6c6c6" stroke="#444" stroke-width="1.1"/><circle cx="922.0" cy="540.8" r="2.0" fill="#c6c6c6" stroke="#444" stroke-width="1.1"/><circle cx="963.8" cy="558.2" r="2.0" fill="#c6c6c6" stroke="#444" stroke-width="1.1"/><circle cx="965.6" cy="540.8" r="2.0" fill="#c6c6c6" stroke="#444" stroke-width="1.1"/><circle cx="931.0" cy="558.2" r="2.0" fill="#c6c6c6" stroke="#444" stroke-width="1.1"/><circle cx="936.2" cy="566.9" r="2.0" fill="#c6c6c6" stroke="#444" stroke-width="1.1"/><circle cx="946.5" cy="566.9" r="2.0" fill="#c6c6c6" stroke="#444" stroke-width="1.1"/><circle cx="952.6" cy="558.2" r="2.0" fill="#c6c6c6" stroke="#444" stroke-width="1.1"/><circle cx="938.0" cy="549.8" r="2.0" fill="#c6c6c6" stroke="#444" stroke-width="1.1"/><circle cx="948.1" cy="549.8" r="2.0" fill="#c6c6c6" stroke="#444" stroke-width="1.1"/><circle cx="933.2" cy="541.1" r="2.0" fill="#c6c6c6" stroke="#444" stroke-width="1.1"/><circle cx="939.3" cy="533.2" r="2.0" fill="#c6c6c6" stroke="#444" stroke-width="1.1"/><circle cx="950.1" cy="533.2" r="2.0" fill="#c6c6c6" stroke="#444" stroke-width="1.1"/><circle cx="954.6" cy="541.1" r="2.0" fill="#c6c6c6" stroke="#444" stroke-width="1.1"/><circle cx="1059.7" cy="550.5" r="2.0" fill="#c6c6c6" stroke="#444" stroke-width="1.1"/><circle cx="677.2" cy="613.4" r="2.0" fill="#c6c6c6" stroke="#444" stroke-width="1.1"/><circle cx="680.8" cy="613.4" r="2.0" fill="#c6c6c6" stroke="#444" stroke-width="1.1"/><circle cx="684.0" cy="613.0" r="2.0" fill="#c6c6c6" stroke="#444" stroke-width="1.1"/><circle cx="748.4" cy="614.0" r="2.0" fill="#c6c6c6" stroke="#444" stroke-width="1.1"/><circle cx="751.7" cy="613.8" r="2.0" fill="#c6c6c6" stroke="#444" stroke-width="1.1"/><circle cx="754.4" cy="614.0" r="2.0" fill="#c6c6c6" stroke="#444" stroke-width="1.1"/><circle cx="711.4" cy="591.0" r="2.0" fill="#c6c6c6" stroke="#444" stroke-width="1.1"/><circle cx="705.2" cy="576.0" r="2.0" fill="#c6c6c6" stroke="#444" stroke-width="1.1"/><circle cx="716.6" cy="574.2" r="2.0" fill="#c6c6c6" stroke="#444" stroke-width="1.1"/><circle cx="720.8" cy="635.2" r="2.0" fill="#c6c6c6" stroke="#444" stroke-width="1.1"/><circle cx="727.0" cy="650.2" r="2.0" fill="#c6c6c6" stroke="#444" stroke-width="1.1"/><circle cx="715.6" cy="652.0" r="2.0" fill="#c6c6c6" stroke="#444" stroke-width="1.1"/><circle cx="738.8" cy="593.1" r="2.0" fill="#c6c6c6" stroke="#444" stroke-width="1.1"/><circle cx="738.8" cy="576.0" r="2.0" fill="#c6c6c6" stroke="#444" stroke-width="1.1"/><circle cx="753.2" cy="580.8" r="2.0" fill="#c6c6c6" stroke="#444" stroke-width="1.1"/><circle cx="693.4" cy="633.1" r="2.0" fill="#c6c6c6" stroke="#444" stroke-width="1.1"/><circle cx="693.4" cy="650.2" r="2.0" fill="#c6c6c6" stroke="#444" stroke-width="1.1"/><circle cx="679.0" cy="645.4" r="2.0" fill="#c6c6c6" stroke="#444" stroke-width="1.1"/><circle cx="828.7" cy="613.4" r="2.0" fill="#c6c6c6" stroke="#444" stroke-width="1.1"/><circle cx="832.3" cy="613.4" r="2.0" fill="#c6c6c6" stroke="#444" stroke-width="1.1"/><circle cx="835.5" cy="613.0" r="2.0" fill="#c6c6c6" stroke="#444" stroke-width="1.1"/><circle cx="899.9" cy="614.0" r="2.0" fill="#c6c6c6" stroke="#444" stroke-width="1.1"/><circle cx="903.2" cy="613.8" r="2.0" fill="#c6c6c6" stroke="#444" stroke-width="1.1"/><circle cx="905.9" cy="614.0" r="2.0" fill="#c6c6c6" stroke="#444" stroke-width="1.1"/><circle cx="862.9" cy="591.0" r="2.0" fill="#c6c6c6" stroke="#444" stroke-width="1.1"/><circle cx="856.7" cy="576.0" r="2.0" fill="#c6c6c6" stroke="#444" stroke-width="1.1"/><circle cx="868.1" cy="574.2" r="2.0" fill="#c6c6c6" stroke="#444" stroke-width="1.1"/><circle cx="872.3" cy="635.2" r="2.0" fill="#c6c6c6" stroke="#444" stroke-width="1.1"/><circle cx="878.5" cy="650.2" r="2.0" fill="#c6c6c6" stroke="#444" stroke-width="1.1"/><circle cx="867.1" cy="652.0" r="2.0" fill="#c6c6c6" stroke="#444" stroke-width="1.1"/><circle cx="890.3" cy="593.1" r="2.0" fill="#c6c6c6" stroke="#444" stroke-width="1.1"/><circle cx="890.3" cy="576.0" r="2.0" fill="#c6c6c6" stroke="#444" stroke-width="1.1"/><circle cx="904.7" cy="580.8" r="2.0" fill="#c6c6c6" stroke="#444" stroke-width="1.1"/><circle cx="844.9" cy="633.1" r="2.0" fill="#c6c6c6" stroke="#444" stroke-width="1.1"/><circle cx="844.9" cy="650.2" r="2.0" fill="#c6c6c6" stroke="#444" stroke-width="1.1"/><circle cx="830.5" cy="645.4" r="2.0" fill="#c6c6c6" stroke="#444" stroke-width="1.1"/><circle cx="980.2" cy="613.4" r="2.0" fill="#c6c6c6" stroke="#444" stroke-width="1.1"/><circle cx="983.8" cy="613.4" r="2.0" fill="#c6c6c6" stroke="#444" stroke-width="1.1"/><circle cx="987.0" cy="613.0" r="2.0" fill="#c6c6c6" stroke="#444" stroke-width="1.1"/><circle cx="1051.4" cy="614.0" r="2.0" fill="#c6c6c6" stroke="#444" stroke-width="1.1"/><circle cx="1054.7" cy="613.8" r="2.0" fill="#c6c6c6" stroke="#444" stroke-width="1.1"/><circle cx="1057.4" cy="614.0" r="2.0" fill="#c6c6c6" stroke="#444" stroke-width="1.1"/><circle cx="1014.4" cy="591.0" r="2.0" fill="#c6c6c6" stroke="#444" stroke-width="1.1"/><circle cx="1008.2" cy="576.0" r="2.0" fill="#c6c6c6" stroke="#444" stroke-width="1.1"/><circle cx="1019.6" cy="574.2" r="2.0" fill="#c6c6c6" stroke="#444" stroke-width="1.1"/><circle cx="1023.8" cy="635.2" r="2.0" fill="#c6c6c6" stroke="#444" stroke-width="1.1"/><circle cx="1030.0" cy="650.2" r="2.0" fill="#c6c6c6" stroke="#444" stroke-width="1.1"/><circle cx="1018.6" cy="652.0" r="2.0" fill="#c6c6c6" stroke="#444" stroke-width="1.1"/><circle cx="1041.8" cy="593.1" r="2.0" fill="#c6c6c6" stroke="#444" stroke-width="1.1"/><circle cx="1041.8" cy="576.0" r="2.0" fill="#c6c6c6" stroke="#444" stroke-width="1.1"/><circle cx="1056.2" cy="580.8" r="2.0" fill="#c6c6c6" stroke="#444" stroke-width="1.1"/><circle cx="996.4" cy="633.1" r="2.0" fill="#c6c6c6" stroke="#444" stroke-width="1.1"/><circle cx="996.4" cy="650.2" r="2.0" fill="#c6c6c6" stroke="#444" stroke-width="1.1"/><circle cx="982.0" cy="645.4" r="2.0" fill="#c6c6c6" stroke="#444" stroke-width="1.1"/><circle cx="769.4" cy="605.3" r="2.0" fill="#c6c6c6" stroke="#444" stroke-width="1.1"/><circle cx="770.5" cy="622.7" r="2.0" fill="#c6c6c6" stroke="#444" stroke-width="1.1"/><circle cx="812.3" cy="605.3" r="2.0" fill="#c6c6c6" stroke="#444" stroke-width="1.1"/><circle cx="814.1" cy="622.7" r="2.0" fill="#c6c6c6" stroke="#444" stroke-width="1.1"/><circle cx="779.5" cy="605.3" r="2.0" fill="#c6c6c6" stroke="#444" stroke-width="1.1"/><circle cx="784.7" cy="596.6" r="2.0" fill="#c6c6c6" stroke="#444" stroke-width="1.1"/><circle cx="795.0" cy="596.6" r="2.0" fill="#c6c6c6" stroke="#444" stroke-width="1.1"/><circle cx="801.1" cy="605.3" r="2.0" fill="#c6c6c6" stroke="#444" stroke-width="1.1"/><circle cx="786.5" cy="613.7" r="2.0" fill="#c6c6c6" stroke="#444" stroke-width="1.1"/><circle cx="796.6" cy="613.7" r="2.0" fill="#c6c6c6" stroke="#444" stroke-width="1.1"/><circle cx="781.7" cy="622.4" r="2.0" fill="#c6c6c6" stroke="#444" stroke-width="1.1"/><circle cx="787.8" cy="630.3" r="2.0" fill="#c6c6c6" stroke="#444" stroke-width="1.1"/><circle cx="798.6" cy="630.3" r="2.0" fill="#c6c6c6" stroke="#444" stroke-width="1.1"/><circle cx="803.1" cy="622.4" r="2.0" fill="#c6c6c6" stroke="#444" stroke-width="1.1"/><circle cx="920.9" cy="605.3" r="2.0" fill="#c6c6c6" stroke="#444" stroke-width="1.1"/><circle cx="922.0" cy="622.7" r="2.0" fill="#c6c6c6" stroke="#444" stroke-width="1.1"/><circle cx="963.8" cy="605.3" r="2.0" fill="#c6c6c6" stroke="#444" stroke-width="1.1"/><circle cx="965.6" cy="622.7" r="2.0" fill="#c6c6c6" stroke="#444" stroke-width="1.1"/><circle cx="931.0" cy="605.3" r="2.0" fill="#c6c6c6" stroke="#444" stroke-width="1.1"/><circle cx="936.2" cy="596.6" r="2.0" fill="#c6c6c6" stroke="#444" stroke-width="1.1"/><circle cx="946.5" cy="596.6" r="2.0" fill="#c6c6c6" stroke="#444" stroke-width="1.1"/><circle cx="952.6" cy="605.3" r="2.0" fill="#c6c6c6" stroke="#444" stroke-width="1.1"/><circle cx="938.0" cy="613.7" r="2.0" fill="#c6c6c6" stroke="#444" stroke-width="1.1"/><circle cx="948.1" cy="613.7" r="2.0" fill="#c6c6c6" stroke="#444" stroke-width="1.1"/><circle cx="933.2" cy="622.4" r="2.0" fill="#c6c6c6" stroke="#444" stroke-width="1.1"/><circle cx="939.3" cy="630.3" r="2.0" fill="#c6c6c6" stroke="#444" stroke-width="1.1"/><circle cx="950.1" cy="630.3" r="2.0" fill="#c6c6c6" stroke="#444" stroke-width="1.1"/><circle cx="954.6" cy="622.4" r="2.0" fill="#c6c6c6" stroke="#444" stroke-width="1.1"/><circle cx="1059.7" cy="613.8" r="2.0" fill="#c6c6c6" stroke="#444" stroke-width="1.1"/><circle cx="711.4" cy="454.5" r="2.8" fill="url(#bN)"/><circle cx="720.8" cy="518.3" r="2.8" fill="url(#bN)"/><circle cx="743.6" cy="457.1" r="2.8" fill="url(#bN)"/><circle cx="688.6" cy="515.7" r="2.8" fill="url(#bN)"/><circle cx="862.9" cy="454.5" r="2.8" fill="url(#bN)"/><circle cx="872.3" cy="518.3" r="2.8" fill="url(#bN)"/><circle cx="895.1" cy="457.1" r="2.8" fill="url(#bN)"/><circle cx="840.1" cy="515.7" r="2.8" fill="url(#bN)"/><circle cx="1014.4" cy="454.5" r="2.8" fill="url(#bN)"/><circle cx="1023.8" cy="518.3" r="2.8" fill="url(#bN)"/><circle cx="1046.6" cy="457.1" r="2.8" fill="url(#bN)"/><circle cx="991.6" cy="515.7" r="2.8" fill="url(#bN)"/><circle cx="765.1" cy="486.7" r="2.8" fill="url(#bN)"/><circle cx="818.9" cy="486.7" r="2.8" fill="url(#bN)"/><circle cx="916.6" cy="486.7" r="2.8" fill="url(#bN)"/><circle cx="970.4" cy="486.7" r="2.8" fill="url(#bN)"/><circle cx="711.4" cy="582.3" r="2.8" fill="url(#bN)"/><circle cx="720.8" cy="518.5" r="2.8" fill="url(#bN)"/><circle cx="743.6" cy="579.7" r="2.8" fill="url(#bN)"/><circle cx="688.6" cy="521.1" r="2.8" fill="url(#bN)"/><circle cx="862.9" cy="582.3" r="2.8" fill="url(#bN)"/><circle cx="872.3" cy="518.5" r="2.8" fill="url(#bN)"/><circle cx="895.1" cy="579.7" r="2.8" fill="url(#bN)"/><circle cx="840.1" cy="521.1" r="2.8" fill="url(#bN)"/><circle cx="1014.4" cy="582.3" r="2.8" fill="url(#bN)"/><circle cx="1023.8" cy="518.5" r="2.8" fill="url(#bN)"/><circle cx="1046.6" cy="579.7" r="2.8" fill="url(#bN)"/><circle cx="991.6" cy="521.1" r="2.8" fill="url(#bN)"/><circle cx="765.1" cy="550.1" r="2.8" fill="url(#bN)"/><circle cx="818.9" cy="550.1" r="2.8" fill="url(#bN)"/><circle cx="916.6" cy="550.1" r="2.8" fill="url(#bN)"/><circle cx="970.4" cy="550.1" r="2.8" fill="url(#bN)"/><circle cx="711.4" cy="581.2" r="2.8" fill="url(#bN)"/><circle cx="720.8" cy="645.0" r="2.8" fill="url(#bN)"/><circle cx="743.6" cy="583.8" r="2.8" fill="url(#bN)"/><circle cx="688.6" cy="642.4" r="2.8" fill="url(#bN)"/><circle cx="862.9" cy="581.2" r="2.8" fill="url(#bN)"/><circle cx="872.3" cy="645.0" r="2.8" fill="url(#bN)"/><circle cx="895.1" cy="583.8" r="2.8" fill="url(#bN)"/><circle cx="840.1" cy="642.4" r="2.8" fill="url(#bN)"/><circle cx="1014.4" cy="581.2" r="2.8" fill="url(#bN)"/><circle cx="1023.8" cy="645.0" r="2.8" fill="url(#bN)"/><circle cx="1046.6" cy="583.8" r="2.8" fill="url(#bN)"/><circle cx="991.6" cy="642.4" r="2.8" fill="url(#bN)"/><circle cx="765.1" cy="613.4" r="2.8" fill="url(#bN)"/><circle cx="818.9" cy="613.4" r="2.8" fill="url(#bN)"/><circle cx="916.6" cy="613.4" r="2.8" fill="url(#bN)"/><circle cx="970.4" cy="613.4" r="2.8" fill="url(#bN)"/><circle cx="690.2" cy="486.3" r="2.4" fill="url(#bO)" stroke="#6a0000" stroke-width="0.6"/><circle cx="698.1" cy="486.8" r="2.4" fill="url(#bO)" stroke="#6a0000" stroke-width="0.6"/><circle cx="711.3" cy="483.1" r="2.4" fill="url(#bO)" stroke="#6a0000" stroke-width="0.6"/><circle cx="719.8" cy="489.9" r="2.4" fill="url(#bO)" stroke="#6a0000" stroke-width="0.6"/><circle cx="734.0" cy="487.3" r="2.4" fill="url(#bO)" stroke="#6a0000" stroke-width="0.6"/><circle cx="741.2" cy="487.9" r="2.4" fill="url(#bO)" stroke="#6a0000" stroke-width="0.6"/><circle cx="707.3" cy="470.5" r="2.4" fill="url(#bO)" stroke="#6a0000" stroke-width="0.6"/><circle cx="724.9" cy="502.3" r="2.4" fill="url(#bO)" stroke="#6a0000" stroke-width="0.6"/><circle cx="731.0" cy="468.5" r="2.4" fill="url(#bO)" stroke="#6a0000" stroke-width="0.6"/><circle cx="701.2" cy="504.3" r="2.4" fill="url(#bO)" stroke="#6a0000" stroke-width="0.6"/><circle cx="841.7" cy="486.3" r="2.4" fill="url(#bO)" stroke="#6a0000" stroke-width="0.6"/><circle cx="849.6" cy="486.8" r="2.4" fill="url(#bO)" stroke="#6a0000" stroke-width="0.6"/><circle cx="862.8" cy="483.1" r="2.4" fill="url(#bO)" stroke="#6a0000" stroke-width="0.6"/><circle cx="871.3" cy="489.9" r="2.4" fill="url(#bO)" stroke="#6a0000" stroke-width="0.6"/><circle cx="885.5" cy="487.3" r="2.4" fill="url(#bO)" stroke="#6a0000" stroke-width="0.6"/><circle cx="892.7" cy="487.9" r="2.4" fill="url(#bO)" stroke="#6a0000" stroke-width="0.6"/><circle cx="858.8" cy="470.5" r="2.4" fill="url(#bO)" stroke="#6a0000" stroke-width="0.6"/><circle cx="876.4" cy="502.3" r="2.4" fill="url(#bO)" stroke="#6a0000" stroke-width="0.6"/><circle cx="882.5" cy="468.5" r="2.4" fill="url(#bO)" stroke="#6a0000" stroke-width="0.6"/><circle cx="852.7" cy="504.3" r="2.4" fill="url(#bO)" stroke="#6a0000" stroke-width="0.6"/><circle cx="993.2" cy="486.3" r="2.4" fill="url(#bO)" stroke="#6a0000" stroke-width="0.6"/><circle cx="1001.1" cy="486.8" r="2.4" fill="url(#bO)" stroke="#6a0000" stroke-width="0.6"/><circle cx="1014.3" cy="483.1" r="2.4" fill="url(#bO)" stroke="#6a0000" stroke-width="0.6"/><circle cx="1022.8" cy="489.9" r="2.4" fill="url(#bO)" stroke="#6a0000" stroke-width="0.6"/><circle cx="1037.0" cy="487.3" r="2.4" fill="url(#bO)" stroke="#6a0000" stroke-width="0.6"/><circle cx="1044.2" cy="487.9" r="2.4" fill="url(#bO)" stroke="#6a0000" stroke-width="0.6"/><circle cx="1010.3" cy="470.5" r="2.4" fill="url(#bO)" stroke="#6a0000" stroke-width="0.6"/><circle cx="1027.9" cy="502.3" r="2.4" fill="url(#bO)" stroke="#6a0000" stroke-width="0.6"/><circle cx="1034.0" cy="468.5" r="2.4" fill="url(#bO)" stroke="#6a0000" stroke-width="0.6"/><circle cx="1004.2" cy="504.3" r="2.4" fill="url(#bO)" stroke="#6a0000" stroke-width="0.6"/><circle cx="763.3" cy="471.4" r="2.4" fill="url(#bO)" stroke="#6a0000" stroke-width="0.6"/><circle cx="766.7" cy="502.3" r="2.4" fill="url(#bO)" stroke="#6a0000" stroke-width="0.6"/><circle cx="816.6" cy="471.2" r="2.4" fill="url(#bO)" stroke="#6a0000" stroke-width="0.6"/><circle cx="819.8" cy="502.3" r="2.4" fill="url(#bO)" stroke="#6a0000" stroke-width="0.6"/><circle cx="914.8" cy="471.4" r="2.4" fill="url(#bO)" stroke="#6a0000" stroke-width="0.6"/><circle cx="918.2" cy="502.3" r="2.4" fill="url(#bO)" stroke="#6a0000" stroke-width="0.6"/><circle cx="968.1" cy="471.2" r="2.4" fill="url(#bO)" stroke="#6a0000" stroke-width="0.6"/><circle cx="971.3" cy="502.3" r="2.4" fill="url(#bO)" stroke="#6a0000" stroke-width="0.6"/><circle cx="690.2" cy="550.5" r="2.4" fill="url(#bO)" stroke="#6a0000" stroke-width="0.6"/><circle cx="698.1" cy="550.0" r="2.4" fill="url(#bO)" stroke="#6a0000" stroke-width="0.6"/><circle cx="711.3" cy="553.7" r="2.4" fill="url(#bO)" stroke="#6a0000" stroke-width="0.6"/><circle cx="719.8" cy="546.9" r="2.4" fill="url(#bO)" stroke="#6a0000" stroke-width="0.6"/><circle cx="734.0" cy="549.5" r="2.4" fill="url(#bO)" stroke="#6a0000" stroke-width="0.6"/><circle cx="741.2" cy="548.9" r="2.4" fill="url(#bO)" stroke="#6a0000" stroke-width="0.6"/><circle cx="707.3" cy="566.3" r="2.4" fill="url(#bO)" stroke="#6a0000" stroke-width="0.6"/><circle cx="724.9" cy="534.5" r="2.4" fill="url(#bO)" stroke="#6a0000" stroke-width="0.6"/><circle cx="731.0" cy="568.3" r="2.4" fill="url(#bO)" stroke="#6a0000" stroke-width="0.6"/><circle cx="701.2" cy="532.5" r="2.4" fill="url(#bO)" stroke="#6a0000" stroke-width="0.6"/><circle cx="841.7" cy="550.5" r="2.4" fill="url(#bO)" stroke="#6a0000" stroke-width="0.6"/><circle cx="849.6" cy="550.0" r="2.4" fill="url(#bO)" stroke="#6a0000" stroke-width="0.6"/><circle cx="862.8" cy="553.7" r="2.4" fill="url(#bO)" stroke="#6a0000" stroke-width="0.6"/><circle cx="871.3" cy="546.9" r="2.4" fill="url(#bO)" stroke="#6a0000" stroke-width="0.6"/><circle cx="885.5" cy="549.5" r="2.4" fill="url(#bO)" stroke="#6a0000" stroke-width="0.6"/><circle cx="892.7" cy="548.9" r="2.4" fill="url(#bO)" stroke="#6a0000" stroke-width="0.6"/><circle cx="858.8" cy="566.3" r="2.4" fill="url(#bO)" stroke="#6a0000" stroke-width="0.6"/><circle cx="876.4" cy="534.5" r="2.4" fill="url(#bO)" stroke="#6a0000" stroke-width="0.6"/><circle cx="882.5" cy="568.3" r="2.4" fill="url(#bO)" stroke="#6a0000" stroke-width="0.6"/><circle cx="852.7" cy="532.5" r="2.4" fill="url(#bO)" stroke="#6a0000" stroke-width="0.6"/><circle cx="993.2" cy="550.5" r="2.4" fill="url(#bO)" stroke="#6a0000" stroke-width="0.6"/><circle cx="1001.1" cy="550.0" r="2.4" fill="url(#bO)" stroke="#6a0000" stroke-width="0.6"/><circle cx="1014.3" cy="553.7" r="2.4" fill="url(#bO)" stroke="#6a0000" stroke-width="0.6"/><circle cx="1022.8" cy="546.9" r="2.4" fill="url(#bO)" stroke="#6a0000" stroke-width="0.6"/><circle cx="1037.0" cy="549.5" r="2.4" fill="url(#bO)" stroke="#6a0000" stroke-width="0.6"/><circle cx="1044.2" cy="548.9" r="2.4" fill="url(#bO)" stroke="#6a0000" stroke-width="0.6"/><circle cx="1010.3" cy="566.3" r="2.4" fill="url(#bO)" stroke="#6a0000" stroke-width="0.6"/><circle cx="1027.9" cy="534.5" r="2.4" fill="url(#bO)" stroke="#6a0000" stroke-width="0.6"/><circle cx="1034.0" cy="568.3" r="2.4" fill="url(#bO)" stroke="#6a0000" stroke-width="0.6"/><circle cx="1004.2" cy="532.5" r="2.4" fill="url(#bO)" stroke="#6a0000" stroke-width="0.6"/><circle cx="763.3" cy="565.4" r="2.4" fill="url(#bO)" stroke="#6a0000" stroke-width="0.6"/><circle cx="766.7" cy="534.5" r="2.4" fill="url(#bO)" stroke="#6a0000" stroke-width="0.6"/><circle cx="816.6" cy="565.6" r="2.4" fill="url(#bO)" stroke="#6a0000" stroke-width="0.6"/><circle cx="819.8" cy="534.5" r="2.4" fill="url(#bO)" stroke="#6a0000" stroke-width="0.6"/><circle cx="914.8" cy="565.4" r="2.4" fill="url(#bO)" stroke="#6a0000" stroke-width="0.6"/><circle cx="918.2" cy="534.5" r="2.4" fill="url(#bO)" stroke="#6a0000" stroke-width="0.6"/><circle cx="968.1" cy="565.6" r="2.4" fill="url(#bO)" stroke="#6a0000" stroke-width="0.6"/><circle cx="971.3" cy="534.5" r="2.4" fill="url(#bO)" stroke="#6a0000" stroke-width="0.6"/><circle cx="690.2" cy="613.0" r="2.4" fill="url(#bO)" stroke="#6a0000" stroke-width="0.6"/><circle cx="698.1" cy="613.5" r="2.4" fill="url(#bO)" stroke="#6a0000" stroke-width="0.6"/><circle cx="711.3" cy="609.8" r="2.4" fill="url(#bO)" stroke="#6a0000" stroke-width="0.6"/><circle cx="719.8" cy="616.6" r="2.4" fill="url(#bO)" stroke="#6a0000" stroke-width="0.6"/><circle cx="734.0" cy="614.0" r="2.4" fill="url(#bO)" stroke="#6a0000" stroke-width="0.6"/><circle cx="741.2" cy="614.6" r="2.4" fill="url(#bO)" stroke="#6a0000" stroke-width="0.6"/><circle cx="707.3" cy="597.2" r="2.4" fill="url(#bO)" stroke="#6a0000" stroke-width="0.6"/><circle cx="724.9" cy="629.0" r="2.4" fill="url(#bO)" stroke="#6a0000" stroke-width="0.6"/><circle cx="731.0" cy="595.2" r="2.4" fill="url(#bO)" stroke="#6a0000" stroke-width="0.6"/><circle cx="701.2" cy="631.0" r="2.4" fill="url(#bO)" stroke="#6a0000" stroke-width="0.6"/><circle cx="841.7" cy="613.0" r="2.4" fill="url(#bO)" stroke="#6a0000" stroke-width="0.6"/><circle cx="849.6" cy="613.5" r="2.4" fill="url(#bO)" stroke="#6a0000" stroke-width="0.6"/><circle cx="862.8" cy="609.8" r="2.4" fill="url(#bO)" stroke="#6a0000" stroke-width="0.6"/><circle cx="871.3" cy="616.6" r="2.4" fill="url(#bO)" stroke="#6a0000" stroke-width="0.6"/><circle cx="885.5" cy="614.0" r="2.4" fill="url(#bO)" stroke="#6a0000" stroke-width="0.6"/><circle cx="892.7" cy="614.6" r="2.4" fill="url(#bO)" stroke="#6a0000" stroke-width="0.6"/><circle cx="858.8" cy="597.2" r="2.4" fill="url(#bO)" stroke="#6a0000" stroke-width="0.6"/><circle cx="876.4" cy="629.0" r="2.4" fill="url(#bO)" stroke="#6a0000" stroke-width="0.6"/><circle cx="882.5" cy="595.2" r="2.4" fill="url(#bO)" stroke="#6a0000" stroke-width="0.6"/><circle cx="852.7" cy="631.0" r="2.4" fill="url(#bO)" stroke="#6a0000" stroke-width="0.6"/><circle cx="993.2" cy="613.0" r="2.4" fill="url(#bO)" stroke="#6a0000" stroke-width="0.6"/><circle cx="1001.1" cy="613.5" r="2.4" fill="url(#bO)" stroke="#6a0000" stroke-width="0.6"/><circle cx="1014.3" cy="609.8" r="2.4" fill="url(#bO)" stroke="#6a0000" stroke-width="0.6"/><circle cx="1022.8" cy="616.6" r="2.4" fill="url(#bO)" stroke="#6a0000" stroke-width="0.6"/><circle cx="1037.0" cy="614.0" r="2.4" fill="url(#bO)" stroke="#6a0000" stroke-width="0.6"/><circle cx="1044.2" cy="614.6" r="2.4" fill="url(#bO)" stroke="#6a0000" stroke-width="0.6"/><circle cx="1010.3" cy="597.2" r="2.4" fill="url(#bO)" stroke="#6a0000" stroke-width="0.6"/><circle cx="1027.9" cy="629.0" r="2.4" fill="url(#bO)" stroke="#6a0000" stroke-width="0.6"/><circle cx="1034.0" cy="595.2" r="2.4" fill="url(#bO)" stroke="#6a0000" stroke-width="0.6"/><circle cx="1004.2" cy="631.0" r="2.4" fill="url(#bO)" stroke="#6a0000" stroke-width="0.6"/><circle cx="763.3" cy="598.1" r="2.4" fill="url(#bO)" stroke="#6a0000" stroke-width="0.6"/><circle cx="766.7" cy="629.0" r="2.4" fill="url(#bO)" stroke="#6a0000" stroke-width="0.6"/><circle cx="816.6" cy="597.9" r="2.4" fill="url(#bO)" stroke="#6a0000" stroke-width="0.6"/><circle cx="819.8" cy="629.0" r="2.4" fill="url(#bO)" stroke="#6a0000" stroke-width="0.6"/><circle cx="914.8" cy="598.1" r="2.4" fill="url(#bO)" stroke="#6a0000" stroke-width="0.6"/><circle cx="918.2" cy="629.0" r="2.4" fill="url(#bO)" stroke="#6a0000" stroke-width="0.6"/><circle cx="968.1" cy="597.9" r="2.4" fill="url(#bO)" stroke="#6a0000" stroke-width="0.6"/><circle cx="971.3" cy="629.0" r="2.4" fill="url(#bO)" stroke="#6a0000" stroke-width="0.6"/><circle cx="705.2" cy="487.5" r="4.0" fill="url(#bF)"/><circle cx="727.0" cy="485.3" r="4.0" fill="url(#bF)"/><circle cx="856.7" cy="487.5" r="4.0" fill="url(#bF)"/><circle cx="878.5" cy="485.3" r="4.0" fill="url(#bF)"/><circle cx="1008.2" cy="487.5" r="4.0" fill="url(#bF)"/><circle cx="1030.0" cy="485.3" r="4.0" fill="url(#bF)"/><circle cx="705.2" cy="549.3" r="4.0" fill="url(#bF)"/><circle cx="727.0" cy="551.5" r="4.0" fill="url(#bF)"/><circle cx="856.7" cy="549.3" r="4.0" fill="url(#bF)"/><circle cx="878.5" cy="551.5" r="4.0" fill="url(#bF)"/><circle cx="1008.2" cy="549.3" r="4.0" fill="url(#bF)"/><circle cx="1030.0" cy="551.5" r="4.0" fill="url(#bF)"/><circle cx="705.2" cy="614.2" r="4.0" fill="url(#bF)"/><circle cx="727.0" cy="612.0" r="4.0" fill="url(#bF)"/><circle cx="856.7" cy="614.2" r="4.0" fill="url(#bF)"/><circle cx="878.5" cy="612.0" r="4.0" fill="url(#bF)"/><circle cx="1008.2" cy="614.2" r="4.0" fill="url(#bF)"/><circle cx="1030.0" cy="612.0" r="4.0" fill="url(#bF)"/><text x="653.0" y="456.3" font-size="21.5" font-weight="bold" fill="#111" text-anchor="start" stroke="#111" stroke-width="0.3" >(d)</text>
</svg></body></html>
